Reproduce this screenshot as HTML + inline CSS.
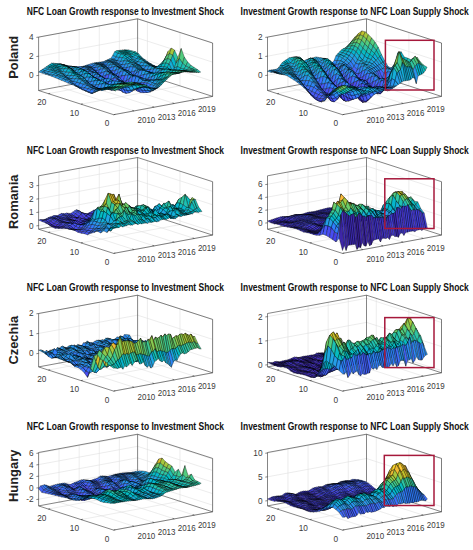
<!DOCTYPE html>
<html><head><meta charset="utf-8"><title>fig</title>
<style>
html,body{margin:0;padding:0;background:#fff}
svg{display:block}
text{font-family:"Liberation Sans",sans-serif}
.tt{font-size:8.8px;fill:#3a3a3a}
.hh{font-size:10.6px;font-weight:bold;fill:#111}
.cc{font-size:12.9px;font-weight:bold;fill:#222}
.gg{stroke:#dcdcdc;stroke-width:.55;fill:none}
.bb{stroke:#333;stroke-width:.6;fill:none}
.rr{stroke:#a6183b;stroke-width:1.5;fill:none}
.sf path{stroke:#000;stroke-width:3.3;stroke-linejoin:round}

.a{fill:#3e26a8}
.b{fill:#422ec0}
.c{fill:#4537d6}
.d{fill:#4742e6}
.e{fill:#484df1}
.f{fill:#4759f8}
.g{fill:#4464fd}
.h{fill:#3d71ff}
.i{fill:#317dfc}
.j{fill:#2d88f6}
.k{fill:#2a93ed}
.l{fill:#259de7}
.m{fill:#1ea6e1}
.n{fill:#15afd9}
.o{fill:#05b6cd}
.p{fill:#06bcc0}
.q{fill:#1ec0b2}
.r{fill:#2fc5a3}
.s{fill:#3cc992}
.t{fill:#52cc7e}
.u{fill:#6dcd68}
.v{fill:#8bcb51}
.w{fill:#a7c73c}
.x{fill:#c2c22c}
.y{fill:#dabd28}
.z{fill:#eeba34}
.aa{fill:#fdbd3d}
.ab{fill:#fec934}
.ac{fill:#fad52d}
.ad{fill:#f5e227}
.ae{fill:#f5ef20}
.af{fill:#f9fb15}

</style></head><body>
<svg width="473" height="550" viewBox="0 0 473 550">
<rect width="473" height="550" fill="#fff"/>
<g id="p1L">
<path class="gg" d="M134.04 110.92L59.04 86.72M59.04 86.72L59.04 33.32M154.15 107.20L79.15 83.00M79.15 83.00L79.15 29.60M174.26 103.49L99.26 79.29M99.26 79.29L99.26 25.89M194.37 99.77L119.37 75.57M119.37 75.57L119.37 22.17M113.60 114.70L212.60 96.40M212.60 96.40L212.60 43.00M80.99 104.18L179.99 85.88M179.99 85.88L179.99 32.48M48.38 93.66L147.38 75.36M147.38 75.36L147.38 21.96M38.60 75.38L137.60 57.08M137.60 57.08L212.60 81.28M38.60 56.24L137.60 37.94M137.60 37.94L212.60 62.14M38.60 37.10L137.60 18.80M137.60 18.80L212.60 43.00"/>
<path class="bb" d="M113.60 114.70L212.60 96.40M212.60 96.40L137.60 72.20M137.60 72.20L38.60 90.50M38.60 90.50L113.60 114.70M38.60 90.50L38.60 37.10M38.60 37.10L137.60 18.80M137.60 18.80L137.60 72.20M137.60 18.80L212.60 43.00M212.60 43.00L212.60 96.40M134.04 110.92L132.33 110.37M154.15 107.20L152.44 106.65M174.26 103.49L172.55 102.93M194.37 99.77L192.66 99.22M113.60 114.70L115.37 114.37M80.99 104.18L82.76 103.85M48.38 93.66L50.15 93.33M38.60 75.38L36.40 75.68M38.60 56.24L36.40 56.54M38.60 37.10L36.40 37.40"/>
<g class=sf transform="scale(.1)">
<path class=p d="M1271 509l19-8l-33-4l-18 2zm-18 2l18-2l-32-10l-19 2z"/>
<path class=q d="M1234 513l19-2l-33-10l-18 2z"/>
<path class=p d="M1216 517l18-4l-32-10l-19 2z"/>
<path class=q d="M1197 519l19-2l-33-12l-18 2z"/>
<path class=p d="M1179 534l18-15l-32-12l-19 11z"/>
<path class=n d="M1160 571l19-37l-33-16l-19 36z"/>
<path class=l d="M1142 593l18-22l-33-17l-18 29z"/>
<path class=m d="M1123 597l19-4l-33-10l-19 8z"/>
<path class=l d="M1104 605l19-8l-33-6l-18 8zm-18 4l18-4l-32-6l-19 8zm-19 6l19-6l-33-2l-18 8z"/>
<path class=k d="M1049 631l18-16l-32 0l-19 4zm-19 7l19-7l-33-12l-18 2zm-18-3l18 3l-32-17l-19 3z"/>
<path class=l d="M993 637l19-2l-33-11l-18 2zm-18 0l18 0l-32-11l-19 3zm-19 2l19-2l-33-8l-18 4z"/>
<path class=k d="M938 655l18-16l-32-6l-19 6z"/>
<path class=j d="M919 669l19-14l-33-16l-19 6z"/>
<path class=k d="M901 666l18 3l-33-24l-18 6zm-19-2l19 2l-33-15l-19 6zm-19 4l19-4l-33-7l-18 6zm-18 0l18 0l-32-5l-19 3zm-19 9l19-9l-33-2l-18 0z"/>
<path class=j d="M808 692l18-15l-32-11l-19 0z"/>
<path class=k d="M789 688l19 4l-33-26l-18 0zm-18-9l18 9l-32-22l-19 0z"/>
<path class=l d="M752 677l19 2l-33-13l-18 0z"/>
<path class=m d="M734 668l18 9l-32-11l-19-3zm-19-5l19 5l-33-5l-18-5zm-18 9l18-9l-32-5l-19-4zm-19-1l19 1l-33-18l-18-5z"/>
<path class=n d="M660 657l18 14l-32-22l-19-4z"/>
<path class=o d="M641 649l19 8l-33-12l-19-4zm-18-4l18 4l-33-8l-18-2z"/>
<path class=p d="M604 641l19 4l-33-6l-19-3z"/>
<path class=o d="M585 649l19-8l-33-5l-18-2zm-18 9l18-9l-32-15l-19-2zm-19-2l19 2l-33-26l-18 0zm-18 6l18-6l-32-24l-19 13zm-19 9l19-9l-33-17l-18 12zm-18 8l18-8l-32-14l-19 12z"/>
<path class=n d="M474 693l19-14l-33-10l-18 13z"/>
<path class=m d="M456 711l18-18l-32-11l-19 12zm-19 9l19-9l-33-17l-18 12z"/>
<path class=l d="M419 730l18-10l-32-14l-19 14z"/>
<path class=p d="M1304 520l18-11l-32-8l-19 8zm-19 8l19-8l-33-11l-18 2zm-18-1l18 1l-32-17l-19 2zm-19 4l19-4l-33-14l-18 4zm-18 3l18-3l-32-14l-19 2zm-19 6l19-6l-33-15l-18 15z"/>
<path class=n d="M1193 575l18-35l-32-6l-19 37z"/>
<path class=l d="M1174 609l19-34l-33-4l-18 22zm-18 3l18-3l-32-16l-19 4zm-19 2l19-2l-33-15l-19 8zm-18 6l18-6l-33-9l-18 4z"/>
<path class=m d="M1100 617l19 3l-33-11l-19 6z"/>
<path class=l d="M1081 627l19-10l-33-2l-18 16z"/>
<path class=j d="M1063 654l18-27l-32 4l-19 7zm-19 6l19-6l-33-16l-18-3z"/>
<path class=k d="M1026 648l18 12l-32-25l-19 2z"/>
<path class=l d="M1007 646l19 2l-33-11l-18 0zm-18-1l18 1l-32-9l-19 2zm-19 6l19-6l-33-6l-18 16z"/>
<path class=j d="M952 678l18-27l-32 4l-19 14zm-19 13l19-13l-33-9l-18-3z"/>
<path class=k d="M915 679l18 12l-32-25l-19-2zm-19 0l19 0l-33-15l-19 4zm-18 4l18-4l-33-11l-18 0z"/>
<path class=l d="M859 681l19 2l-33-15l-19 9z"/>
<path class=j d="M840 699l19-18l-33-4l-18 15z"/>
<path class=i d="M822 717l18-18l-32-7l-19-4z"/>
<path class=j d="M803 706l19 11l-33-29l-18-9z"/>
<path class=l d="M785 692l18 14l-32-27l-19-2zm-19-8l19 8l-33-15l-18-9z"/>
<path class=n d="M748 669l18 15l-32-16l-19-5zm-19 2l19-2l-33-6l-18 9z"/>
<path class=l d="M711 688l18-17l-32 1l-19-1z"/>
<path class=m d="M692 679l19 9l-33-17l-18-14z"/>
<path class=o d="M674 660l18 19l-32-22l-19-8zm-19-2l19 2l-33-11l-18-4z"/>
<path class=p d="M637 653l18 5l-32-13l-19-4zm-19-2l19 2l-33-12l-19 8z"/>
<path class=o d="M600 670l18-19l-33-2l-18 9zm-19 9l19-9l-33-12l-19-2zm-19-1l19 1l-33-23l-18 6zm-18 6l18-6l-32-16l-19 9zm-19 7l19-7l-33-13l-18 8z"/>
<path class=n d="M507 699l18-8l-32-12l-19 14z"/>
<path class=m d="M488 719l19-20l-33-6l-18 18z"/>
<path class=l d="M470 736l18-17l-32-8l-19 9zm-19 5l19-5l-33-16l-18 10z"/>
<path class=q d="M1336 525l19-8l-33-8l-18 11z"/>
<path class=p d="M1318 542l18-17l-32-5l-19 8zm-19 5l19-5l-33-14l-18-1zm-18-4l18 4l-32-20l-19 4zm-19 5l19-5l-33-12l-18 3zm-18 6l18-6l-32-14l-19 6z"/>
<path class=o d="M1225 576l19-22l-33-14l-18 35z"/>
<path class=l d="M1207 615l18-39l-32-1l-19 34z"/>
<path class=k d="M1188 636l19-21l-33-6l-18 3z"/>
<path class=l d="M1170 631l18 5l-32-24l-19 2zm-19 0l19 0l-33-17l-18 6zm-18 1l18-1l-32-11l-19-3z"/>
<path class=m d="M1114 628l19 4l-33-15l-19 10z"/>
<path class=l d="M1096 651l18-23l-33-1l-18 27z"/>
<path class=j d="M1077 679l19-28l-33 3l-19 6z"/>
<path class=k d="M1058 667l19 12l-33-19l-18-12z"/>
<path class=l d="M1040 652l18 15l-32-19l-19-2zm-19 5l19-5l-33-6l-18-1z"/>
<path class=m d="M1003 654l18 3l-32-12l-19 6z"/>
<path class=l d="M984 669l19-15l-33-3l-18 27z"/>
<path class=i d="M966 708l18-39l-32 9l-19 13zm-19 2l19-2l-33-17l-18-12z"/>
<path class=k d="M929 692l18 18l-32-31l-19 0zm-19 4l19-4l-33-13l-18 4zm-18-1l18 1l-32-13l-19-2z"/>
<path class=l d="M873 695l19 0l-33-14l-19 18z"/>
<path class=j d="M855 723l18-28l-33 4l-18 18z"/>
<path class=i d="M836 735l19-12l-33-6l-19-11z"/>
<path class=k d="M817 711l19 24l-33-29l-18-14z"/>
<path class=l d="M799 694l18 17l-32-19l-19-8z"/>
<path class=m d="M780 682l19 12l-33-10l-18-15z"/>
<path class=o d="M762 669l18 13l-32-13l-19 2z"/>
<path class=n d="M743 682l19-13l-33 2l-18 17z"/>
<path class=m d="M725 699l18-17l-32 6l-19-9z"/>
<path class=n d="M706 684l19 15l-33-20l-18-19z"/>
<path class=o d="M688 672l18 12l-32-24l-19-2zm-19-2l19 2l-33-14l-18-5z"/>
<path class=p d="M651 659l18 11l-32-17l-19-2zm-19 7l19-7l-33-8l-18 19z"/>
<path class=n d="M614 691l18-25l-32 4l-19 9zm-19 8l19-8l-33-12l-19-1z"/>
<path class=o d="M577 696l18 3l-33-21l-18 6z"/>
<path class=n d="M558 704l19-8l-33-12l-19 7zm-19 6l19-6l-33-13l-18 8zm-18 14l18-14l-32-11l-19 20z"/>
<path class=l d="M502 746l19-22l-33-5l-18 17zm-18 5l18-5l-32-10l-19 5z"/>
<path class=p d="M1369 540l19-1l-33-22l-19 8zm-18 13l18-13l-33-15l-18 17z"/>
<path class=o d="M1332 571l19-18l-33-11l-19 5zm-19-1l19 1l-33-24l-18-4z"/>
<path class=p d="M1295 566l18 4l-32-27l-19 5z"/>
<path class=o d="M1276 577l19-11l-33-18l-18 6zm-18 9l18-9l-32-23l-19 22z"/>
<path class=n d="M1239 609l19-23l-33-10l-18 39z"/>
<path class=k d="M1221 649l18-40l-32 6l-19 21zm-19 10l19-10l-33-13l-18-5z"/>
<path class=l d="M1184 644l18 15l-32-28l-19 0zm-19 4l19-4l-33-13l-18 1zm-18-2l18 2l-32-16l-19-4z"/>
<path class=m d="M1128 642l19 4l-33-18l-18 23z"/>
<path class=k d="M1110 676l18-34l-32 9l-19 28z"/>
<path class=i d="M1091 697l19-21l-33 3l-19-12z"/>
<path class=k d="M1073 677l18 20l-33-30l-18-15z"/>
<path class=l d="M1054 670l19 7l-33-25l-19 5zm-19 0l19 0l-33-13l-18-3z"/>
<path class=m d="M1017 664l18 6l-32-16l-19 15z"/>
<path class=k d="M998 695l19-31l-33 5l-18 39z"/>
<path class=h d="M980 731l18-36l-32 13l-19 2z"/>
<path class=j d="M961 718l19 13l-33-21l-18-18z"/>
<path class=k d="M943 706l18 12l-32-26l-19 4z"/>
<path class=j d="M924 718l19-12l-33-10l-18-1z"/>
<path class=k d="M906 711l18 7l-32-23l-19 0zm-19 3l19-3l-33-16l-18 28z"/>
<path class=i d="M869 746l18-32l-32 9l-19 12zm-19-4l19 4l-33-11l-19-24z"/>
<path class=l d="M832 710l18 32l-33-31l-18-17z"/>
<path class=m d="M813 697l19 13l-33-16l-19-12z"/>
<path class=n d="M794 684l19 13l-33-15l-18-13z"/>
<path class=o d="M776 677l18 7l-32-15l-19 13z"/>
<path class=m d="M757 704l19-27l-33 5l-18 17z"/>
<path class=l d="M739 719l18-15l-32-5l-19-15z"/>
<path class=n d="M720 699l19 20l-33-35l-18-12z"/>
<path class=o d="M702 685l18 14l-32-27l-19-2z"/>
<path class=p d="M683 675l19 10l-33-15l-18-11z"/>
<path class=q d="M665 666l18 9l-32-16l-19 7z"/>
<path class=p d="M646 687l19-21l-33 0l-18 25z"/>
<path class=n d="M628 716l18-29l-32 4l-19 8zm-19 2l19-2l-33-17l-18-3zm-18-2l18 2l-32-22l-19 8zm-19 8l19-8l-33-12l-19 6zm-18 9l18-9l-33-14l-18 14z"/>
<path class=m d="M535 750l19-17l-33-9l-19 22z"/>
<path class=l d="M516 762l19-12l-33-4l-18 5z"/>
<path class=o d="M1402 570l18 5l-32-36l-19 1z"/>
<path class=p d="M1383 568l19 2l-33-30l-18 13z"/>
<path class=n d="M1365 588l18-20l-32-15l-19 18z"/>
<path class=m d="M1346 603l19-15l-33-17l-19-1z"/>
<path class=n d="M1328 596l18 7l-33-33l-18-4zm-19 3l19-3l-33-30l-19 11zm-19 7l19-7l-33-22l-18 9zm-18 2l18-2l-32-20l-19 23z"/>
<path class=l d="M1253 643l19-35l-33 1l-18 40z"/>
<path class=j d="M1235 682l18-39l-32 6l-19 10z"/>
<path class=k d="M1216 673l19 9l-33-23l-18-15z"/>
<path class=l d="M1198 664l18 9l-32-29l-19 4zm-19 5l19-5l-33-16l-18-2z"/>
<path class=m d="M1161 655l18 14l-32-23l-19-4z"/>
<path class=l d="M1142 665l19-10l-33-13l-18 34z"/>
<path class=i d="M1124 713l18-48l-32 11l-19 21zm-19 4l19-4l-33-16l-18-20z"/>
<path class=k d="M1087 691l18 26l-32-40l-19-7z"/>
<path class=l d="M1068 688l19 3l-33-21l-19 0zm-18-5l18 5l-33-18l-18-6zm-19 3l19-3l-33-19l-19 31z"/>
<path class=i d="M1012 730l19-44l-33 9l-18 36z"/>
<path class=h d="M994 754l18-24l-32 1l-19-13z"/>
<path class=j d="M975 734l19 20l-33-36l-18-12zm-18-1l18 1l-32-28l-19 12zm-19 3l19-3l-33-15l-18-7z"/>
<path class=l d="M920 716l18 20l-32-25l-19 3z"/>
<path class=j d="M901 738l19-22l-33-2l-18 32z"/>
<path class=h d="M883 774l18-36l-32 8l-19-4z"/>
<path class=j d="M864 752l19 22l-33-32l-18-32z"/>
<path class=l d="M846 718l18 34l-32-42l-19-13z"/>
<path class=m d="M827 705l19 13l-33-21l-19-13z"/>
<path class=o d="M809 687l18 18l-33-21l-18-7z"/>
<path class=n d="M790 696l19-9l-33-10l-19 27z"/>
<path class=l d="M771 735l19-39l-33 8l-18 15zm-18 0l18 0l-32-16l-19-20z"/>
<path class=n d="M734 705l19 30l-33-36l-18-14z"/>
<path class=p d="M716 692l18 13l-32-20l-19-10zm-19-9l19 9l-33-17l-18-9zm-18 4l18-4l-32-17l-19 21z"/>
<path class=n d="M660 722l19-35l-33 0l-18 29z"/>
<path class=m d="M642 744l18-22l-32-6l-19 2z"/>
<path class=n d="M623 737l19 7l-33-26l-18-2zm-18 1l18-1l-32-21l-19 8z"/>
<path class=m d="M586 749l19-11l-33-14l-18 9zm-18 10l18-10l-32-16l-19 17z"/>
<path class=l d="M549 776l19-17l-33-9l-19 12z"/>
<path class=n d="M1434 595l19 5l-33-25l-18-5z"/>
<path class=o d="M1416 587l18 8l-32-25l-19-2zm-19 5l19-5l-33-19l-18 20z"/>
<path class=m d="M1379 619l18-27l-32-4l-19 15zm-19 10l19-10l-33-16l-18-7z"/>
<path class=n d="M1342 621l18 8l-32-33l-19 3zm-19 4l19-4l-33-22l-19 7zm-18 0l18 0l-33-19l-18 2zm-19 10l19-10l-33-17l-19 35z"/>
<path class=k d="M1267 679l19-44l-33 8l-18 39z"/>
<path class=i d="M1249 705l18-26l-32 3l-19-9z"/>
<path class=j d="M1230 691l19 14l-33-32l-18-9z"/>
<path class=k d="M1212 686l18 5l-32-27l-19 5z"/>
<path class=l d="M1193 680l19 6l-33-17l-18-14z"/>
<path class=m d="M1175 667l18 13l-32-25l-19 10z"/>
<path class=k d="M1156 702l19-35l-33-2l-18 48z"/>
<path class=h d="M1138 743l18-41l-32 11l-19 4z"/>
<path class=i d="M1119 727l19 16l-33-26l-18-26z"/>
<path class=k d="M1101 710l18 17l-32-36l-19-3zm-19 4l19-4l-33-22l-18-5z"/>
<path class=l d="M1064 703l18 11l-32-31l-19 3z"/>
<path class=k d="M1045 717l19-14l-33-17l-19 44z"/>
<path class=h d="M1027 767l18-50l-33 13l-18 24zm-19 7l19-7l-33-13l-19-20z"/>
<path class=j d="M989 748l19 26l-33-40l-18-1zm-18-5l18 5l-32-15l-19 3z"/>
<path class=l d="M952 729l19 14l-33-7l-18-20zm-18-5l18 5l-32-13l-19 22z"/>
<path class=i d="M915 772l19-48l-33 14l-18 36z"/>
<path class=h d="M897 792l18-20l-32 2l-19-22z"/>
<path class=k d="M878 749l19 43l-33-40l-18-34z"/>
<path class=m d="M860 719l18 30l-32-31l-19-13z"/>
<path class=n d="M841 704l19 15l-33-14l-18-18z"/>
<path class=p d="M823 692l18 12l-32-17l-19 9z"/>
<path class=n d="M804 721l19-29l-33 4l-19 39z"/>
<path class=k d="M786 755l18-34l-33 14l-18 0z"/>
<path class=m d="M767 738l19 17l-33-20l-19-30z"/>
<path class=o d="M748 714l19 24l-33-33l-18-13zm-18-4l18 4l-32-22l-19-9z"/>
<path class=p d="M711 706l19 4l-33-27l-18 4z"/>
<path class=o d="M693 723l18-17l-32-19l-19 35z"/>
<path class=m d="M674 759l19-36l-33-1l-18 22z"/>
<path class=l d="M656 764l18-5l-32-15l-19-7z"/>
<path class=n d="M637 753l19 11l-33-27l-18 1z"/>
<path class=m d="M619 761l18-8l-32-15l-19 11zm-19 11l19-11l-33-12l-18 10z"/>
<path class=l d="M582 789l18-17l-32-13l-19 17z"/>
<path class=m d="M1467 618l18 5l-32-23l-19-5z"/>
<path class=n d="M1448 613l19 5l-33-23l-18-8z"/>
<path class=o d="M1430 605l18 8l-32-26l-19 5z"/>
<path class=n d="M1411 624l19-19l-33-13l-18 27z"/>
<path class=l d="M1393 652l18-28l-32-5l-19 10z"/>
<path class=m d="M1374 646l19 6l-33-23l-18-8zm-18-7l18 7l-32-25l-19 4zm-19 8l19-8l-33-14l-18 0z"/>
<path class=n d="M1319 644l18 3l-32-22l-19 10z"/>
<path class=l d="M1300 667l19-23l-33-9l-19 44z"/>
<path class=i d="M1282 721l18-54l-33 12l-18 26zm-19 6l19-6l-33-16l-19-14z"/>
<path class=k d="M1244 699l19 28l-33-36l-18-5z"/>
<path class=l d="M1226 692l18 7l-32-13l-19-6z"/>
<path class=m d="M1207 681l19 11l-33-12l-18-13zm-18 7l18-7l-32-14l-19 35z"/>
<path class=i d="M1170 740l19-52l-33 14l-18 41z"/>
<path class=h d="M1152 762l18-22l-32 3l-19-16z"/>
<path class=j d="M1133 738l19 24l-33-35l-18-17zm-18-4l18 4l-32-28l-19 4z"/>
<path class=k d="M1096 730l19 4l-33-20l-18-11z"/>
<path class=l d="M1078 714l18 16l-32-27l-19 14z"/>
<path class=j d="M1059 752l19-38l-33 3l-18 50z"/>
<path class=f d="M1041 805l18-53l-32 15l-19 7z"/>
<path class=h d="M1022 787l19 18l-33-31l-19-26z"/>
<path class=j d="M1004 757l18 30l-33-39l-18-5z"/>
<path class=k d="M985 751l19 6l-33-14l-19-14z"/>
<path class=m d="M966 731l19 20l-33-22l-18-5z"/>
<path class=l d="M948 746l18-15l-32-7l-19 48z"/>
<path class=h d="M929 795l19-49l-33 26l-18 20z"/>
<path class=i d="M911 787l18 8l-32-3l-19-43z"/>
<path class=l d="M892 743l19 44l-33-38l-18-30z"/>
<path class=n d="M874 727l18 16l-32-24l-19-15z"/>
<path class=o d="M855 710l19 17l-33-23l-18-12zm-18-3l18 3l-32-18l-19 29z"/>
<path class=l d="M818 750l19-43l-33 14l-18 34z"/>
<path class=k d="M800 770l18-20l-32 5l-19-17z"/>
<path class=m d="M781 744l19 26l-33-32l-19-24z"/>
<path class=o d="M763 730l18 14l-33-30l-18-4zm-19-1l19 1l-33-20l-19-4zm-19 0l19 0l-33-23l-18 17z"/>
<path class=n d="M707 757l18-28l-32-6l-19 36z"/>
<path class=l d="M688 783l19-26l-33 2l-18 5z"/>
<path class=m d="M670 776l18 7l-32-19l-19-11zm-19-2l19 2l-33-23l-18 8zm-18 12l18-12l-32-13l-19 11z"/>
<path class=l d="M614 803l19-17l-33-14l-18 17z"/>
<path class=m d="M1500 637l18 5l-33-19l-18-5zm-19-2l19 2l-33-19l-19-5z"/>
<path class=n d="M1462 627l19 8l-33-22l-18-8zm-18 1l18-1l-32-22l-19 19z"/>
<path class=l d="M1425 660l19-32l-33-4l-18 28zm-18 11l18-11l-32-8l-19-6z"/>
<path class=m d="M1388 654l19 17l-33-25l-18-7zm-18 7l18-7l-32-15l-19 8zm-19 5l19-5l-33-14l-18-3zm-18 3l18-3l-32-22l-19 23z"/>
<path class=j d="M1314 721l19-52l-33-2l-18 54z"/>
<path class=g d="M1296 759l18-38l-32 0l-19 6z"/>
<path class=j d="M1277 725l19 34l-33-32l-19-28z"/>
<path class=l d="M1259 697l18 28l-33-26l-18-7zm-19 1l19-1l-33-5l-19-11z"/>
<path class=m d="M1221 690l19 8l-33-17l-18 7z"/>
<path class=k d="M1203 717l18-27l-32-2l-19 52z"/>
<path class=h d="M1184 767l19-50l-33 23l-18 22zm-18-1l18 1l-32-5l-19-24z"/>
<path class=j d="M1147 745l19 21l-33-28l-18-4zm-18 1l18-1l-32-11l-19-4z"/>
<path class=l d="M1110 730l19 16l-33-16l-18-16zm-18 9l18-9l-32-16l-19 38z"/>
<path class=f d="M1073 812l19-73l-33 13l-18 53z"/>
<path class=e d="M1055 838l18-26l-32-7l-19-18z"/>
<path class=h d="M1036 796l19 42l-33-51l-18-30z"/>
<path class=j d="M1018 777l18 19l-32-39l-19-6z"/>
<path class=k d="M999 761l19 16l-33-26l-19-20z"/>
<path class=m d="M981 739l18 22l-33-30l-18 15z"/>
<path class=j d="M962 775l19-36l-33 7l-19 49z"/>
<path class=h d="M943 811l19-36l-33 20l-18-8z"/>
<path class=j d="M925 780l18 31l-32-24l-19-44z"/>
<path class=m d="M906 749l19 31l-33-37l-18-16z"/>
<path class=n d="M888 737l18 12l-32-22l-19-17z"/>
<path class=p d="M869 717l19 20l-33-27l-18-3z"/>
<path class=n d="M851 736l18-19l-32-10l-19 43z"/>
<path class=k d="M832 779l19-43l-33 14l-18 20z"/>
<path class=l d="M814 773l18 6l-32-9l-19-26z"/>
<path class=n d="M795 747l19 26l-33-29l-18-14z"/>
<path class=o d="M777 747l18 0l-32-17l-19-1zm-19-1l19 1l-33-18l-19 0zm-18 8l18-8l-33-17l-18 28z"/>
<path class=l d="M721 788l19-34l-33 3l-19 26zm-19 13l19-13l-33-5l-18-7zm-18-7l18 7l-32-25l-19-2zm-19 7l19-7l-33-20l-18 12zm-18 15l18-15l-32-15l-19 17z"/>
<path class=l d="M1532 658l19 3l-33-19l-18-5z"/>
<path class=m d="M1514 650l18 8l-32-21l-19-2zm-19-2l19 2l-33-15l-19-8z"/>
<path class=n d="M1477 639l18 9l-33-21l-18 1z"/>
<path class=m d="M1458 660l19-21l-33-11l-19 32z"/>
<path class=k d="M1439 692l19-32l-33 0l-18 11z"/>
<path class=l d="M1421 683l18 9l-32-21l-19-17z"/>
<path class=m d="M1402 672l19 11l-33-29l-18 7zm-18 10l18-10l-32-11l-19 5zm-19 1l19-1l-33-16l-18 3z"/>
<path class=k d="M1347 712l18-29l-32-14l-19 52z"/>
<path class=h d="M1328 763l19-51l-33 9l-18 38zm-18-8l18 8l-32-4l-19-34z"/>
<path class=l d="M1291 713l19 42l-33-30l-18-28zm-18-2l18 2l-32-16l-19 1z"/>
<path class=m d="M1254 709l19 2l-33-13l-19-8zm-18-2l18 2l-33-19l-18 27z"/>
<path class=i d="M1217 759l19-52l-33 10l-19 50z"/>
<path class=g d="M1198 796l19-37l-33 8l-18-1z"/>
<path class=i d="M1180 769l18 27l-32-30l-19-21z"/>
<path class=k d="M1161 754l19 15l-33-24l-18 1zm-18-1l18 1l-32-8l-19-16z"/>
<path class=l d="M1124 745l19 8l-33-23l-18 9z"/>
<path class=i d="M1106 795l18-50l-32-6l-19 73z"/>
<path class=d d="M1087 858l19-63l-33 17l-18 26z"/>
<path class=f d="M1069 839l18 19l-32-20l-19-42z"/>
<path class=i d="M1050 800l19 39l-33-43l-18-19z"/>
<path class=j d="M1032 789l18 11l-32-23l-19-16z"/>
<path class=l d="M1013 762l19 27l-33-28l-18-22zm-18 4l18-4l-32-23l-19 36z"/>
<path class=h d="M976 816l19-50l-33 9l-19 36zm-18 0l18 0l-33-5l-18-31z"/>
<path class=l d="M939 774l19 42l-33-36l-19-31z"/>
<path class=m d="M920 759l19 15l-33-25l-18-12z"/>
<path class=n d="M902 744l18 15l-32-22l-19-20z"/>
<path class=o d="M883 734l19 10l-33-27l-18 19z"/>
<path class=m d="M865 772l18-38l-32 2l-19 43z"/>
<path class=k d="M846 797l19-25l-33 7l-18-6z"/>
<path class=m d="M828 770l18 27l-32-24l-19-26z"/>
<path class=n d="M809 760l19 10l-33-23l-18 0zm-18 8l18-8l-32-13l-19-1z"/>
<path class=o d="M772 765l19 3l-33-22l-18 8z"/>
<path class=m d="M754 786l18-21l-32-11l-19 34z"/>
<path class=k d="M735 817l19-31l-33 2l-19 13zm-18 3l18-3l-33-16l-18-7z"/>
<path class=l d="M698 819l19 1l-33-26l-19 7z"/>
<path class=k d="M679 830l19-11l-33-18l-18 15z"/>
<path class=l d="M1565 673l18-7l-32-5l-19-3z"/>
<path class=m d="M1546 662l19 11l-33-15l-18-8zm-18 0l18 0l-32-12l-19-2z"/>
<path class=n d="M1509 656l19 6l-33-14l-18-9zm-18 4l18-4l-32-17l-19 21z"/>
<path class=k d="M1472 699l19-39l-33 0l-19 32z"/>
<path class=j d="M1454 717l18-18l-33-7l-18-9z"/>
<path class=l d="M1435 693l19 24l-33-34l-19-11z"/>
<path class=m d="M1416 690l19 3l-33-21l-18 10zm-18 7l18-7l-32-8l-19 1zm-19 0l19 0l-33-14l-18 29z"/>
<path class=j d="M1361 734l18-37l-32 15l-19 51z"/>
<path class=h d="M1342 767l19-33l-33 29l-18-8z"/>
<path class=j d="M1324 743l18 24l-32-12l-19-42z"/>
<path class=l d="M1305 728l19 15l-33-30l-18-2zm-18 6l18-6l-32-17l-19-2z"/>
<path class=m d="M1268 721l19 13l-33-25l-18-2z"/>
<path class=k d="M1250 754l18-33l-32-14l-19 52z"/>
<path class=f d="M1231 815l19-61l-33 5l-19 37z"/>
<path class=g d="M1213 808l18 7l-33-19l-18-27z"/>
<path class=j d="M1194 776l19 32l-33-39l-19-15zm-19 5l19-5l-33-22l-18-1z"/>
<path class=k d="M1157 773l18 8l-32-28l-19-8zm-19 5l19-5l-33-28l-18 50z"/>
<path class=f d="M1120 842l18-64l-32 17l-19 63z"/>
<path class=d d="M1101 868l19-26l-33 16l-18-19z"/>
<path class=h d="M1083 825l18 43l-32-29l-19-39z"/>
<path class=j d="M1064 802l19 23l-33-25l-18-11z"/>
<path class=k d="M1046 789l18 13l-32-13l-19-27z"/>
<path class=l d="M1027 772l19 17l-33-27l-18 4z"/>
<path class=j d="M1009 804l18-32l-32-6l-19 50z"/>
<path class=h d="M990 837l19-33l-33 12l-18 0z"/>
<path class=j d="M972 809l18 28l-32-21l-19-42z"/>
<path class=l d="M953 782l19 27l-33-35l-19-15z"/>
<path class=m d="M935 775l18 7l-33-23l-18-15z"/>
<path class=o d="M916 755l19 20l-33-31l-19-10z"/>
<path class=n d="M897 771l19-16l-33-21l-18 38z"/>
<path class=k d="M879 813l18-42l-32 1l-19 25z"/>
<path class=l d="M860 805l19 8l-33-16l-18-27z"/>
<path class=n d="M842 782l18 23l-32-35l-19-10z"/>
<path class=m d="M823 791l19-9l-33-22l-18 8z"/>
<path class=n d="M805 789l18 2l-32-23l-19-3zm-19 0l19 0l-33-24l-18 21z"/>
<path class=l d="M768 824l18-35l-32-3l-19 31z"/>
<path class=j d="M749 845l19-21l-33-7l-18 3z"/>
<path class=k d="M731 840l18 5l-32-25l-19-1zm-19 3l19-3l-33-21l-19 11z"/>
<path class=l d="M1597 683l19-18l-33 1l-18 7z"/>
<path class=m d="M1579 675l18 8l-32-10l-19-11zm-19-1l19 1l-33-13l-18 0zm-18 0l18 0l-32-12l-19-6z"/>
<path class=n d="M1523 665l19 9l-33-18l-18 4z"/>
<path class=l d="M1505 694l18-29l-32-5l-19 39z"/>
<path class=i d="M1486 739l19-45l-33 5l-18 18z"/>
<path class=k d="M1468 725l18 14l-32-22l-19-24z"/>
<path class=m d="M1449 701l19 24l-33-32l-19-3zm-18 6l18-6l-33-11l-18 7z"/>
<path class=n d="M1412 695l19 12l-33-10l-19 0z"/>
<path class=m d="M1393 707l19-12l-33 2l-18 37z"/>
<path class=i d="M1375 766l18-59l-32 27l-19 33z"/>
<path class=h d="M1356 781l19-15l-33 1l-18-24z"/>
<path class=j d="M1338 757l18 24l-32-38l-19-15z"/>
<path class=k d="M1319 756l19 1l-33-29l-18 6z"/>
<path class=l d="M1301 746l18 10l-32-22l-19-13zm-19 4l19-4l-33-25l-18 33z"/>
<path class=h d="M1264 809l18-59l-32 4l-19 61z"/>
<path class=f d="M1245 837l19-28l-33 6l-18-7z"/>
<path class=h d="M1227 811l18 26l-32-29l-19-32z"/>
<path class=i d="M1208 810l19 1l-33-35l-19 5zm-18 2l18-2l-33-29l-18-8z"/>
<path class=k d="M1171 788l19 24l-33-39l-19 5z"/>
<path class=h d="M1152 826l19-38l-33-10l-18 64z"/>
<path class=d d="M1134 884l18-58l-32 16l-19 26z"/>
<path class=f d="M1115 859l19 25l-33-16l-18-43z"/>
<path class=i d="M1097 818l18 41l-32-34l-19-23z"/>
<path class=j d="M1078 812l19 6l-33-16l-18-13z"/>
<path class=l d="M1060 790l18 22l-32-23l-19-17zm-19 1l19-1l-33-18l-18 32z"/>
<path class=i d="M1023 837l18-46l-32 13l-19 33zm-19 2l19-2l-33 0l-18-28z"/>
<path class=l d="M986 802l18 37l-32-30l-19-27z"/>
<path class=m d="M967 788l19 14l-33-20l-18-7z"/>
<path class=n d="M949 777l18 11l-32-13l-19-20zm-19-2l19 2l-33-22l-19 16z"/>
<path class=k d="M912 816l18-41l-33-4l-18 42z"/>
<path class=j d="M893 837l19-21l-33-3l-19-8z"/>
<path class=l d="M874 815l19 22l-33-32l-18-23z"/>
<path class=m d="M856 811l18 4l-32-33l-19 9zm-19 2l19-2l-33-20l-18-2z"/>
<path class=n d="M819 806l18 7l-32-24l-19 0z"/>
<path class=l d="M800 832l19-26l-33-17l-18 35z"/>
<path class=j d="M782 865l18-33l-32-8l-19 21zm-19-2l19 2l-33-20l-18-5z"/>
<path class=k d="M745 856l18 7l-32-23l-19 3z"/>
<path class=q d="M1630 618l19-19l-33 66l-19 18z"/>
<path class=p d="M1611 636l19-18l-33 65l-18-8z"/>
<path class=o d="M1593 652l18-16l-32 39l-19-1z"/>
<path class=n d="M1574 665l19-13l-33 22l-18 0zm-18 10l18-10l-32 9l-19-9zm-19 14l19-14l-33-10l-18 29z"/>
<path class=j d="M1519 743l18-54l-32 5l-19 45zm-19 8l19-8l-33-4l-18-14z"/>
<path class=l d="M1482 718l18 33l-32-26l-19-24z"/>
<path class=m d="M1463 717l19 1l-33-17l-18 6zm-18-6l18 6l-32-10l-19-12z"/>
<path class=n d="M1426 702l19 9l-33-16l-19 12z"/>
<path class=j d="M1408 756l18-54l-33 5l-18 59z"/>
<path class=g d="M1389 805l19-49l-33 10l-19 15z"/>
<path class=i d="M1370 785l19 20l-33-24l-18-24z"/>
<path class=k d="M1352 770l18 15l-32-28l-19-1zm-19-5l19 5l-33-14l-18-10z"/>
<path class=m d="M1315 750l18 15l-32-19l-19 4z"/>
<path class=j d="M1296 784l19-34l-33 0l-18 59z"/>
<path class=f d="M1278 840l18-56l-32 25l-19 28z"/>
<path class=g d="M1259 838l19 2l-33-3l-18-26z"/>
<path class=h d="M1241 824l18 14l-32-27l-19-1zm-19 4l19-4l-33-14l-18 2z"/>
<path class=j d="M1204 805l18 23l-32-16l-19-24zm-19 12l19-12l-33-17l-19 38z"/>
<path class=e d="M1167 882l18-65l-33 9l-18 58zm-19 5l19-5l-33 2l-19-25z"/>
<path class=i d="M1129 839l19 48l-33-28l-18-41z"/>
<path class=j d="M1111 826l18 13l-32-21l-19-6z"/>
<path class=k d="M1092 808l19 18l-33-14l-18-22z"/>
<path class=m d="M1074 785l18 23l-32-18l-19 1z"/>
<path class=j d="M1055 826l19-41l-33 6l-18 46z"/>
<path class=h d="M1037 858l18-32l-32 11l-19 2z"/>
<path class=k d="M1018 823l19 35l-33-19l-18-37z"/>
<path class=m d="M1000 797l18 26l-32-21l-19-14zm-19-1l19 1l-33-9l-18-11z"/>
<path class=n d="M963 785l18 11l-32-19l-19-2z"/>
<path class=m d="M944 808l19-23l-33-10l-18 41z"/>
<path class=j d="M926 853l18-45l-32 8l-19 21zm-19-4l19 4l-33-16l-19-22z"/>
<path class=l d="M889 833l18 16l-33-34l-18-4zm-19 1l19-1l-33-22l-19 2z"/>
<path class=m d="M851 830l19 4l-33-21l-18-7z"/>
<path class=l d="M833 843l18-13l-32-24l-19 26z"/>
<path class=j d="M814 876l19-33l-33-11l-18 33zm-18 6l18-6l-32-11l-19-2z"/>
<path class=k d="M777 869l19 13l-33-19l-18-7z"/>
<path class=u d="M1663 559l18-45l-32 85l-19 19z"/>
<path class=s d="M1644 599l19-40l-33 59l-19 18z"/>
<path class=q d="M1626 635l18-36l-33 37l-18 16z"/>
<path class=o d="M1607 665l19-30l-33 17l-19 13z"/>
<path class=n d="M1588 684l19-19l-33 0l-18 10zm-18 3l18-3l-32-9l-19 14z"/>
<path class=k d="M1551 731l19-44l-33 2l-18 54z"/>
<path class=j d="M1533 760l18-29l-32 12l-19 8z"/>
<path class=l d="M1514 733l19 27l-33-9l-18-33z"/>
<path class=m d="M1496 720l18 13l-32-15l-19-1zm-19 4l19-4l-33-3l-18-6z"/>
<path class=n d="M1459 712l18 12l-32-13l-19-9z"/>
<path class=l d="M1440 745l19-33l-33-10l-18 54z"/>
<path class=h d="M1422 803l18-58l-32 11l-19 49z"/>
<path class=i d="M1403 796l19 7l-33 2l-19-20z"/>
<path class=k d="M1385 771l18 25l-33-11l-18-15zm-19 0l19 0l-33-1l-19-5z"/>
<path class=m d="M1347 754l19 17l-33-6l-18-15zm-18 9l18-9l-32-4l-19 34z"/>
<path class=h d="M1310 830l19-67l-33 21l-18 56z"/>
<path class=f d="M1292 859l18-29l-32 10l-19-2z"/>
<path class=h d="M1273 836l19 23l-33-21l-18-14z"/>
<path class=i d="M1255 831l18 5l-32-12l-19 4z"/>
<path class=j d="M1236 824l19 7l-33-3l-18-23zm-18-4l18 4l-32-19l-19 12z"/>
<path class=g d="M1199 867l19-47l-33-3l-18 65z"/>
<path class=e d="M1181 900l18-33l-32 15l-19 5z"/>
<path class=g d="M1162 865l19 35l-33-13l-19-48z"/>
<path class=j d="M1144 838l18 27l-33-26l-18-13z"/>
<path class=k d="M1125 824l19 14l-33-12l-19-18z"/>
<path class=m d="M1106 795l19 29l-33-16l-18-23z"/>
<path class=l d="M1088 815l18-20l-32-10l-19 41z"/>
<path class=h d="M1069 866l19-51l-33 11l-18 32z"/>
<path class=i d="M1051 861l18 5l-32-8l-19-35z"/>
<path class=k d="M1032 830l19 31l-33-38l-18-26z"/>
<path class=l d="M1014 823l18 7l-32-33l-19-1z"/>
<path class=n d="M995 806l19 17l-33-27l-18-11zm-18-1l18 1l-32-21l-19 23z"/>
<path class=k d="M958 852l19-47l-33 3l-18 45z"/>
<path class=i d="M940 871l18-19l-32 1l-19-4z"/>
<path class=k d="M921 853l19 18l-33-22l-18-16z"/>
<path class=l d="M903 852l18 1l-32-20l-19 1zm-19 2l19-2l-33-18l-19-4zm-18 0l18 0l-33-24l-18 13z"/>
<path class=j d="M847 880l19-26l-33-11l-19 33z"/>
<path class=i d="M828 898l19-18l-33-4l-18 6z"/>
<path class=k d="M810 885l18 13l-32-16l-19-13z"/>
<path class=w d="M1695 536l19-56l-33 34l-18 45z"/>
<path class=t d="M1677 586l18-50l-32 23l-19 40z"/>
<path class=r d="M1658 631l19-45l-33 13l-18 36z"/>
<path class=p d="M1640 668l18-37l-32 4l-19 30z"/>
<path class=n d="M1621 692l19-24l-33-3l-19 19z"/>
<path class=o d="M1603 689l18 3l-33-8l-18 3z"/>
<path class=m d="M1584 715l19-26l-33-2l-19 44z"/>
<path class=j d="M1565 758l19-43l-33 16l-18 29z"/>
<path class=k d="M1547 750l18 8l-32 2l-19-27z"/>
<path class=m d="M1528 726l19 24l-33-17l-18-13zm-18 3l18-3l-32-6l-19 4z"/>
<path class=n d="M1491 725l19 4l-33-5l-18-12z"/>
<path class=m d="M1473 740l18-15l-32-13l-19 33z"/>
<path class=j d="M1454 791l19-51l-33 5l-18 58z"/>
<path class=i d="M1436 803l18-12l-32 12l-19-7z"/>
<path class=k d="M1417 778l19 25l-33-7l-18-25z"/>
<path class=l d="M1399 774l18 4l-32-7l-19 0z"/>
<path class=m d="M1380 765l19 9l-33-3l-19-17zm-18-3l18 3l-33-11l-18 9z"/>
<path class=i d="M1343 828l19-66l-33 1l-19 67z"/>
<path class=e d="M1324 881l19-53l-33 2l-18 29z"/>
<path class=g d="M1306 858l18 23l-32-22l-19-23z"/>
<path class=i d="M1287 840l19 18l-33-22l-18-5zm-18 5l18-5l-32-9l-19-7z"/>
<path class=j d="M1250 835l19 10l-33-21l-18-4z"/>
<path class=i d="M1232 856l18-21l-32-15l-19 47z"/>
<path class=e d="M1213 905l19-49l-33 11l-18 33z"/>
<path class=f d="M1195 896l18 9l-32-5l-19-35z"/>
<path class=i d="M1176 856l19 40l-33-31l-18-27z"/>
<path class=j d="M1158 842l18 14l-32-18l-19-14z"/>
<path class=l d="M1139 817l19 25l-33-18l-19-29z"/>
<path class=m d="M1121 810l18 7l-33-22l-18 20z"/>
<path class=i d="M1102 862l19-52l-33 5l-19 51z"/>
<path class=g d="M1083 893l19-31l-33 4l-18-5z"/>
<path class=j d="M1065 864l18 29l-32-32l-19-31z"/>
<path class=l d="M1046 842l19 22l-33-34l-18-7z"/>
<path class=m d="M1028 824l18 18l-32-19l-19-17z"/>
<path class=n d="M1009 808l19 16l-33-18l-18-1z"/>
<path class=l d="M991 843l18-35l-32-3l-19 47z"/>
<path class=j d="M972 881l19-38l-33 9l-18 19z"/>
<path class=k d="M954 872l18 9l-32-10l-19-18zm-19-3l19 3l-33-19l-18-1zm-18 6l18-6l-32-17l-19 2z"/>
<path class=l d="M898 870l19 5l-33-21l-18 0z"/>
<path class=k d="M880 887l18-17l-32-16l-19 26z"/>
<path class=i d="M861 912l19-25l-33-7l-19 18z"/>
<path class=j d="M843 901l18 11l-33-14l-18-13z"/>
<path class=w d="M1728 553l18-51l-32-22l-19 56z"/>
<path class=t d="M1709 599l19-46l-33-17l-18 50z"/>
<path class=r d="M1691 640l18-41l-32-13l-19 45z"/>
<path class=p d="M1672 674l19-34l-33-9l-18 37z"/>
<path class=o d="M1654 696l18-22l-32-6l-19 24zm-19-5l19 5l-33-4l-18-3zm-18 10l18-10l-32-2l-19 26z"/>
<path class=l d="M1598 748l19-47l-33 14l-19 43z"/>
<path class=k d="M1580 767l18-19l-33 10l-18-8z"/>
<path class=m d="M1561 744l19 23l-33-17l-19-24z"/>
<path class=n d="M1542 737l19 7l-33-18l-18 3zm-18-3l18 3l-32-8l-19-4zm-19 1l19-1l-33-9l-18 15z"/>
<path class=k d="M1487 780l18-45l-32 5l-19 51z"/>
<path class=i d="M1468 813l19-33l-33 11l-18 12z"/>
<path class=k d="M1450 796l18 17l-32-10l-19-25z"/>
<path class=l d="M1431 785l19 11l-33-18l-18-4zm-18 3l18-3l-32-11l-19-9z"/>
<path class=m d="M1394 782l19 6l-33-23l-18-3z"/>
<path class=j d="M1376 829l18-47l-32-20l-19 66z"/>
<path class=e d="M1357 892l19-63l-33-1l-19 53z"/>
<path class=f d="M1339 885l18 7l-33-11l-18-23z"/>
<path class=i d="M1320 857l19 28l-33-27l-19-18zm-19 4l19-4l-33-17l-18 5zm-18-7l18 7l-32-16l-19-10zm-19 4l19-4l-33-19l-18 21z"/>
<path class=f d="M1246 910l18-52l-32-2l-19 49z"/>
<path class=e d="M1227 921l19-11l-33-5l-18-9z"/>
<path class=h d="M1209 876l18 45l-32-25l-19-40z"/>
<path class=j d="M1190 854l19 22l-33-20l-18-14z"/>
<path class=l d="M1172 833l18 21l-32-12l-19-25z"/>
<path class=n d="M1153 811l19 22l-33-16l-18-7z"/>
<path class=k d="M1135 854l18-43l-32-1l-19 52z"/>
<path class=g d="M1116 903l19-49l-33 8l-19 31z"/>
<path class=i d="M1098 882l18 21l-33-10l-18-29z"/>
<path class=l d="M1079 852l19 30l-33-18l-19-22z"/>
<path class=m d="M1060 841l19 11l-33-10l-18-18z"/>
<path class=n d="M1042 819l18 22l-32-17l-19-16z"/>
<path class=m d="M1023 837l19-18l-33-11l-18 35z"/>
<path class=j d="M1005 886l18-49l-32 6l-19 38zm-19 6l19-6l-33-5l-18-9z"/>
<path class=k d="M968 882l18 10l-32-20l-19-3zm-19 4l19-4l-33-13l-18 6zm-18-1l18 1l-32-11l-19-5zm-19 11l19-11l-33-15l-18 17z"/>
<path class=i d="M894 924l18-28l-32-9l-19 25z"/>
<path class=j d="M875 918l19 6l-33-12l-18-11z"/>
<path class=r d="M1760 634l19-60l-33-72l-18 51z"/>
<path class=o d="M1742 683l18-49l-32-81l-19 46z"/>
<path class=n d="M1723 714l19-31l-33-84l-18 41z"/>
<path class=o d="M1705 700l18 14l-32-74l-19 34zm-19-2l19 2l-33-26l-18 22z"/>
<path class=p d="M1668 694l18 4l-32-2l-19-5zm-19-1l19 1l-33-3l-18 10z"/>
<path class=n d="M1631 733l18-40l-32 8l-19 47z"/>
<path class=k d="M1612 769l19-36l-33 15l-18 19z"/>
<path class=m d="M1594 754l18 15l-32-2l-19-23z"/>
<path class=n d="M1575 740l19 14l-33-10l-19-7zm-18 0l18 0l-33-3l-18-3z"/>
<path class=o d="M1538 734l19 6l-33-6l-19 1z"/>
<path class=m d="M1519 767l19-33l-33 1l-18 45z"/>
<path class=i d="M1501 816l18-49l-32 13l-19 33z"/>
<path class=j d="M1482 813l19 3l-33-3l-18-17z"/>
<path class=l d="M1464 796l18 17l-32-17l-19-11z"/>
<path class=k d="M1445 804l19-8l-33-11l-18 3z"/>
<path class=l d="M1427 803l18 1l-32-16l-19-6z"/>
<path class=k d="M1408 828l19-25l-33-21l-18 47z"/>
<path class=f d="M1390 891l18-63l-32 1l-19 63z"/>
<path class=e d="M1371 909l19-18l-33 1l-18-7z"/>
<path class=h d="M1353 880l18 29l-32-24l-19-28zm-19-5l19 5l-33-23l-19 4z"/>
<path class=i d="M1316 868l18 7l-33-14l-18-7z"/>
<path class=j d="M1297 860l19 8l-33-14l-19 4z"/>
<path class=g d="M1278 905l19-45l-33-2l-18 52z"/>
<path class=e d="M1260 933l18-28l-32 5l-19 11z"/>
<path class=h d="M1241 895l19 38l-33-12l-18-45z"/>
<path class=j d="M1223 864l18 31l-32-19l-19-22z"/>
<path class=l d="M1204 844l19 20l-33-10l-18-21z"/>
<path class=n d="M1186 818l18 26l-32-11l-19-22z"/>
<path class=l d="M1167 846l19-28l-33-7l-18 43z"/>
<path class=h d="M1149 898l18-52l-32 8l-19 49z"/>
<path class=i d="M1130 888l19 10l-33 5l-18-21z"/>
<path class=l d="M1112 860l18 28l-32-6l-19-30zm-19-4l19 4l-33-8l-19-11z"/>
<path class=n d="M1075 837l18 19l-33-15l-18-22zm-19 4l19-4l-33-18l-19 18z"/>
<path class=k d="M1037 888l19-47l-33-4l-18 49z"/>
<path class=j d="M1019 904l18-16l-32-2l-19 6z"/>
<path class=k d="M1000 889l19 15l-33-12l-18-10zm-18 1l18-1l-32-7l-19 4zm-19 5l19-5l-33-4l-18-1zm-18 10l18-10l-32-10l-19 11z"/>
<path class=i d="M926 934l19-29l-33-9l-18 28zm-18 0l18 0l-32-10l-19-6z"/>
<path class=v d="M1793 584l19-99l-33 89l-19 60z"/>
<path class=q d="M1774 665l19-81l-33 50l-18 49z"/>
<path class=n d="M1756 716l18-51l-32 18l-19 31z"/>
<path class=o d="M1737 705l19 11l-33-2l-18-14z"/>
<path class=p d="M1719 700l18 5l-32-5l-19-2zm-19-1l19 1l-33-2l-18-4z"/>
<path class=q d="M1682 692l18 7l-32-5l-19-1z"/>
<path class=o d="M1663 718l19-26l-33 1l-18 40z"/>
<path class=m d="M1645 758l18-40l-32 15l-19 36zm-19-6l19 6l-33 11l-18-15z"/>
<path class=o d="M1608 734l18 18l-32 2l-19-14zm-19 2l19-2l-33 6l-18 0z"/>
<path class=p d="M1571 731l18 5l-32 4l-19-6z"/>
<path class=o d="M1552 752l19-21l-33 3l-19 33z"/>
<path class=k d="M1534 808l18-56l-33 15l-18 49z"/>
<path class=j d="M1515 823l19-15l-33 8l-19-3z"/>
<path class=l d="M1496 801l19 22l-33-10l-18-17zm-18 2l18-2l-32-5l-19 8zm-19 6l19-6l-33 1l-18-1z"/>
<path class=k d="M1441 826l18-17l-32-6l-19 25z"/>
<path class=g d="M1422 887l19-61l-33 2l-18 63z"/>
<path class=e d="M1404 922l18-35l-32 4l-19 18z"/>
<path class=g d="M1385 897l19 25l-33-13l-18-29z"/>
<path class=h d="M1367 882l18 15l-32-17l-19-5z"/>
<path class=i d="M1348 874l19 8l-33-7l-18-7z"/>
<path class=k d="M1330 860l18 14l-32-6l-19-8z"/>
<path class=i d="M1311 891l19-31l-33 0l-19 45z"/>
<path class=f d="M1293 928l18-37l-33 14l-18 28z"/>
<path class=h d="M1274 906l19 22l-33 5l-19-38z"/>
<path class=j d="M1255 874l19 32l-33-11l-18-31z"/>
<path class=l d="M1237 855l18 19l-32-10l-19-20z"/>
<path class=n d="M1218 828l19 27l-33-11l-18-26z"/>
<path class=m d="M1200 839l18-11l-32-10l-19 28z"/>
<path class=j d="M1181 885l19-46l-33 7l-18 52zm-18 2l18-2l-32 13l-19-10z"/>
<path class=l d="M1144 861l19 26l-33 1l-18-28z"/>
<path class=m d="M1126 860l18 1l-32-1l-19-4z"/>
<path class=n d="M1107 851l19 9l-33-4l-18-19zm-18-6l18 6l-32-14l-19 4z"/>
<path class=l d="M1070 877l19-32l-33-4l-19 47z"/>
<path class=k d="M1052 898l18-21l-33 11l-18 16z"/>
<path class=l d="M1033 886l19 12l-33 6l-19-15zm-19-2l19 2l-33 3l-18 1zm-18 6l18-6l-32 6l-19 5zm-19 7l19-7l-33 5l-18 10z"/>
<path class=k d="M959 918l18-21l-32 8l-19 29zm-19 4l19-4l-33 16l-18 0z"/>
<path class=t d="M1826 633l18-61l-32-87l-19 99z"/>
<path class=q d="M1807 683l19-50l-33-49l-19 81z"/>
<path class=o d="M1789 715l18-32l-33-18l-18 51z"/>
<path class=p d="M1770 709l19 6l-33 1l-19-11zm-19-7l19 7l-33-4l-18-5zm-18 2l18-2l-32-2l-19-1z"/>
<path class=q d="M1714 696l19 8l-33-5l-18-7zm-18 14l18-14l-32-4l-19 26z"/>
<path class=n d="M1677 748l19-38l-33 8l-18 40zm-18 3l18-3l-32 10l-19-6z"/>
<path class=p d="M1640 732l19 19l-33 1l-18-18zm-18-1l18 1l-32 2l-19 2z"/>
<path class=q d="M1603 727l19 4l-33 5l-18-5z"/>
<path class=p d="M1585 739l18-12l-32 4l-19 21z"/>
<path class=m d="M1566 789l19-50l-33 13l-18 56z"/>
<path class=k d="M1548 816l18-27l-32 19l-19 15z"/>
<path class=m d="M1529 801l19 15l-33 7l-19-22zm-18 1l18-1l-33 0l-18 2zm-19 11l19-11l-33 1l-19 6z"/>
<path class=l d="M1473 830l19-17l-33-4l-18 17z"/>
<path class=h d="M1455 885l18-55l-32-4l-19 61z"/>
<path class=f d="M1436 924l19-39l-33 2l-18 35z"/>
<path class=h d="M1418 900l18 24l-32-2l-19-25z"/>
<path class=i d="M1399 879l19 21l-33-3l-18-15z"/>
<path class=j d="M1381 874l18 5l-32 3l-19-8z"/>
<path class=k d="M1362 863l19 11l-33 0l-18-14z"/>
<path class=j d="M1344 875l18-12l-32-3l-19 31z"/>
<path class=h d="M1325 910l19-35l-33 16l-18 37z"/>
<path class=i d="M1307 903l18 7l-32 18l-19-22z"/>
<path class=k d="M1288 873l19 30l-33 3l-19-32z"/>
<path class=l d="M1270 857l18 16l-33 1l-18-19z"/>
<path class=n d="M1251 833l19 24l-33-2l-19-27z"/>
<path class=o d="M1232 832l19 1l-33-5l-18 11z"/>
<path class=l d="M1214 871l18-39l-32 7l-19 46z"/>
<path class=k d="M1195 883l19-12l-33 14l-18 2z"/>
<path class=m d="M1177 859l18 24l-32 4l-19-26z"/>
<path class=n d="M1158 855l19 4l-33 2l-18-1zm-18 1l18-1l-32 5l-19-9z"/>
<path class=o d="M1121 845l19 11l-33-5l-18-6z"/>
<path class=n d="M1103 862l18-17l-32 0l-19 32z"/>
<path class=l d="M1084 887l19-25l-33 15l-18 21z"/>
<path class=m d="M1066 883l18 4l-32 11l-19-12z"/>
<path class=n d="M1047 878l19 5l-33 3l-19-2z"/>
<path class=m d="M1029 885l18-7l-33 6l-18 6zm-19 6l19-6l-33 5l-19 7zm-19 13l19-13l-33 6l-18 21z"/>
<path class=l d="M973 909l18-5l-32 14l-19 4z"/>
<path class=s d="M1858 660l19-40l-33-48l-18 61z"/>
<path class=q d="M1840 692l18-32l-32-27l-19 50z"/>
<path class=p d="M1821 714l19-22l-33-9l-18 32zm-18-2l18 2l-32 1l-19-6z"/>
<path class=q d="M1784 704l19 8l-33-3l-19-7zm-18 2l18-2l-33-2l-18 2z"/>
<path class=r d="M1747 701l19 5l-33-2l-19-8z"/>
<path class=q d="M1728 707l19-6l-33-5l-18 14z"/>
<path class=o d="M1710 740l18-33l-32 3l-19 38zm-19 11l19-11l-33 8l-18 3z"/>
<path class=p d="M1673 733l18 18l-32 0l-19-19z"/>
<path class=q d="M1654 728l19 5l-33-1l-18-1zm-18 0l18 0l-32 3l-19-4zm-19 4l19-4l-33-1l-18 12z"/>
<path class=o d="M1599 767l18-35l-32 7l-19 50z"/>
<path class=m d="M1580 798l19-31l-33 22l-18 27zm-18 0l18 0l-32 18l-19-15zm-19 10l19-10l-33 3l-18 1z"/>
<path class=l d="M1525 828l18-20l-32-6l-19 11z"/>
<path class=k d="M1506 846l19-18l-33-15l-19 17z"/>
<path class=i d="M1488 890l18-44l-33-16l-18 55z"/>
<path class=f d="M1469 925l19-35l-33-5l-19 39z"/>
<path class=h d="M1450 903l19 22l-33-1l-18-24z"/>
<path class=j d="M1432 874l18 29l-32-3l-19-21z"/>
<path class=k d="M1413 870l19 4l-33 5l-18-5z"/>
<path class=l d="M1395 863l18 7l-32 4l-19-11zm-19 1l19-1l-33 0l-18 12z"/>
<path class=j d="M1358 894l18-30l-32 11l-19 35zm-19-3l19 3l-33 16l-18-7z"/>
<path class=m d="M1321 859l18 32l-32 12l-19-30z"/>
<path class=n d="M1302 844l19 15l-33 14l-18-16z"/>
<path class=o d="M1284 830l18 14l-32 13l-19-24z"/>
<path class=p d="M1265 826l19 4l-33 3l-19-1z"/>
<path class=n d="M1247 858l18-32l-33 6l-18 39z"/>
<path class=m d="M1228 876l19-18l-33 13l-19 12z"/>
<path class=n d="M1209 855l19 21l-33 7l-18-24z"/>
<path class=o d="M1191 845l18 10l-32 4l-19-4zm-19 4l19-4l-33 10l-18 1z"/>
<path class=p d="M1154 842l18 7l-32 7l-19-11zm-19 9l19-9l-33 3l-18 17z"/>
<path class=n d="M1117 878l18-27l-32 11l-19 25zm-19 1l19-1l-33 9l-18-4z"/>
<path class=o d="M1080 872l18 7l-32 4l-19-5zm-19 8l19-8l-33 6l-18 7zm-18 5l18-5l-32 5l-19 6z"/>
<path class=n d="M1024 893l19-8l-33 6l-19 13zm-18 4l18-4l-33 11l-18 5z"/>
<path class=r d="M1891 677l18-25l-32-32l-19 40z"/>
<path class=q d="M1872 696l19-19l-33-17l-18 32z"/>
<path class=p d="M1854 713l18-17l-32-4l-19 22zm-19 2l19-2l-33 1l-18-2z"/>
<path class=q d="M1817 706l18 9l-32-3l-19-8z"/>
<path class=r d="M1798 707l19-1l-33-2l-18 2zm-18-4l18 4l-32-1l-19-5zm-19 2l19-2l-33-2l-19 6z"/>
<path class=q d="M1743 730l18-25l-33 2l-18 33z"/>
<path class=p d="M1724 745l19-15l-33 10l-19 11z"/>
<path class=q d="M1705 733l19 12l-33 6l-18-18z"/>
<path class=r d="M1687 727l18 6l-32 0l-19-5zm-19 0l19 0l-33 1l-18 0zm-18-1l18 1l-32 1l-19 4z"/>
<path class=q d="M1631 750l19-24l-33 6l-18 35z"/>
<path class=n d="M1613 786l18-36l-32 17l-19 31zm-19 12l19-12l-33 12l-18 0zm-18 15l18-15l-32 0l-19 10z"/>
<path class=l d="M1557 837l19-24l-33-5l-18 20zm-18 18l18-18l-32-9l-19 18z"/>
<path class=j d="M1520 888l19-33l-33-9l-18 44z"/>
<path class=h d="M1502 919l18-31l-32 2l-19 35z"/>
<path class=i d="M1483 905l19 14l-33 6l-19-22z"/>
<path class=k d="M1465 875l18 30l-33-2l-18-29z"/>
<path class=l d="M1446 869l19 6l-33-1l-19-4z"/>
<path class=m d="M1427 863l19 6l-33 1l-18-7z"/>
<path class=n d="M1409 856l18 7l-32 0l-19 1z"/>
<path class=l d="M1390 878l19-22l-33 8l-18 30zm-18 1l18-1l-32 16l-19-3z"/>
<path class=n d="M1353 852l19 27l-33 12l-18-32z"/>
<path class=p d="M1335 838l18 14l-32 7l-19-15z"/>
<path class=q d="M1316 828l19 10l-33 6l-18-14z"/>
<path class=r d="M1298 823l18 5l-32 2l-19-4z"/>
<path class=p d="M1279 846l19-23l-33 3l-18 32z"/>
<path class=o d="M1261 866l18-20l-32 12l-19 18z"/>
<path class=p d="M1242 849l19 17l-33 10l-19-21z"/>
<path class=r d="M1224 836l18 13l-33 6l-18-10z"/>
<path class=q d="M1205 842l19-6l-33 9l-19 4z"/>
<path class=r d="M1186 837l19 5l-33 7l-18-7zm-18 8l18-8l-32 5l-19 9z"/>
<path class=p d="M1149 871l19-26l-33 6l-18 27zm-18 7l18-7l-32 7l-19 1zm-19-7l19 7l-33 1l-18-7zm-18 6l18-6l-32 1l-19 8zm-19 6l19-6l-33 3l-18 5zm-18 7l18-7l-32 2l-19 8zm-19 5l19-5l-33 3l-18 4z"/>
<path class=r d="M1923 690l19-15l-33-23l-18 25zm-18 11l18-11l-32-13l-19 19z"/>
<path class=q d="M1886 713l19-12l-33-5l-18 17zm-18 3l18-3l-32 0l-19 2z"/>
<path class=r d="M1849 708l19 8l-33-1l-18-9zm-18-1l18 1l-32-2l-19 1z"/>
<path class=s d="M1812 705l19 2l-33 0l-18-4zm-18-1l18 1l-32-2l-19 2z"/>
<path class=r d="M1775 721l19-17l-33 1l-18 25z"/>
<path class=q d="M1757 738l18-17l-32 9l-19 15z"/>
<path class=r d="M1738 733l19 5l-33 7l-19-12zm-18-6l18 6l-33 0l-18-6z"/>
<path class=s d="M1701 726l19 1l-33 0l-19 0zm-19-4l19 4l-33 1l-18-1z"/>
<path class=r d="M1664 741l18-19l-32 4l-19 24z"/>
<path class=p d="M1645 776l19-35l-33 9l-18 36z"/>
<path class=o d="M1627 793l18-17l-32 10l-19 12zm-19 14l19-14l-33 5l-18 15z"/>
<path class=n d="M1590 830l18-23l-32 6l-19 24z"/>
<path class=m d="M1571 847l19-17l-33 7l-18 18z"/>
<path class=l d="M1553 873l18-26l-32 8l-19 33z"/>
<path class=j d="M1534 904l19-31l-33 15l-18 31zm-18-1l18 1l-32 15l-19-14z"/>
<path class=l d="M1497 881l19 22l-33 2l-18-30z"/>
<path class=m d="M1479 874l18 7l-32-6l-19-6z"/>
<path class=n d="M1460 868l19 6l-33-5l-19-6z"/>
<path class=o d="M1442 854l18 14l-33-5l-18-7z"/>
<path class=n d="M1423 865l19-11l-33 2l-19 22zm-19 5l19-5l-33 13l-18 1z"/>
<path class=p d="M1386 852l18 18l-32 9l-19-27z"/>
<path class=q d="M1367 840l19 12l-33 0l-18-14z"/>
<path class=r d="M1349 832l18 8l-32-2l-19-10z"/>
<path class=s d="M1330 823l19 9l-33-4l-18-5z"/>
<path class=r d="M1312 838l18-15l-32 0l-19 23z"/>
<path class=q d="M1293 857l19-19l-33 8l-18 20z"/>
<path class=r d="M1275 848l18 9l-32 9l-19-17z"/>
<path class=s d="M1256 836l19 12l-33 1l-18-13zm-18 3l18-3l-32 0l-19 6z"/>
<path class=t d="M1219 837l19 2l-33 3l-19-5zm-18 7l18-7l-33 0l-18 8z"/>
<path class=r d="M1182 867l19-23l-33 1l-19 26zm-19 9l19-9l-33 4l-18 7zm-18-5l18 5l-32 2l-19-7zm-19 4l19-4l-33 0l-18 6zm-18 7l18-7l-32 2l-19 6z"/>
<path class=q d="M1089 889l19-7l-33 1l-18 7zm-18 3l18-3l-32 1l-19 5z"/>
<path class=r d="M1956 703l19-8l-33-20l-19 15zm-18 6l18-6l-33-13l-18 11zm-19 6l19-6l-33-8l-19 12zm-19 3l19-3l-33-2l-18 3zm-18-6l18 6l-32-2l-19-8z"/>
<path class=s d="M1863 710l19 2l-33-4l-18-1zm-18 0l18 0l-32-3l-19-2zm-19-2l19 2l-33-5l-18-1zm-18 11l18-11l-32-4l-19 17z"/>
<path class=r d="M1789 733l19-14l-33 2l-18 17zm-18-1l18 1l-32 5l-19-5z"/>
<path class=s d="M1752 727l19 5l-33 1l-18-6zm-18 0l18 0l-32 0l-19-1z"/>
<path class=t d="M1715 727l19 0l-33-1l-19-4z"/>
<path class=s d="M1697 739l18-12l-33-5l-18 19z"/>
<path class=q d="M1678 766l19-27l-33 2l-19 35zm-19 16l19-16l-33 10l-18 17z"/>
<path class=p d="M1641 795l18-13l-32 11l-19 14z"/>
<path class=o d="M1622 816l19-21l-33 12l-18 23z"/>
<path class=n d="M1604 834l18-18l-32 14l-19 17z"/>
<path class=m d="M1585 854l19-20l-33 13l-18 26z"/>
<path class=l d="M1567 881l18-27l-32 19l-19 31zm-19 11l19-11l-33 23l-18-1z"/>
<path class=m d="M1530 884l18 8l-32 11l-19-22zm-19-4l19 4l-33-3l-18-7z"/>
<path class=n d="M1493 879l18 1l-32-6l-19-6z"/>
<path class=o d="M1474 863l19 16l-33-11l-18-14z"/>
<path class=p d="M1456 862l18 1l-32-9l-19 11zm-19 0l19 0l-33 3l-19 5z"/>
<path class=q d="M1419 850l18 12l-33 8l-18-18z"/>
<path class=r d="M1400 841l19 9l-33 2l-19-12z"/>
<path class=s d="M1381 837l19 4l-33-1l-18-8z"/>
<path class=t d="M1363 830l18 7l-32-5l-19-9zm-19 5l19-5l-33-7l-18 15z"/>
<path class=s d="M1326 848l18-13l-32 3l-19 19z"/>
<path class=t d="M1307 846l19 2l-33 9l-18-9z"/>
<path class=u d="M1289 838l18 8l-32 2l-19-12zm-19 1l19-1l-33-2l-18 3zm-18 1l18-1l-32 0l-19-2zm-19 6l19-6l-33-3l-18 7z"/>
<path class=t d="M1215 864l18-18l-32-2l-19 23z"/>
<path class=s d="M1196 873l19-9l-33 3l-19 9zm-18-1l18 1l-33 3l-18-5zm-19 5l19-5l-33-1l-19 4zm-19 7l19-7l-33-2l-18 7z"/>
<path class=r d="M1122 890l18-6l-32-2l-19 7zm-19 1l19-1l-33-1l-18 3z"/>
<path class=q d="M1989 726l18-5l-32-26l-19 8z"/>
<path class=r d="M1970 725l19 1l-33-23l-18 6zm-18-2l18 2l-32-16l-19 6zm-19-1l19 1l-33-8l-19 3zm-18-1l18 1l-33-4l-18-6z"/>
<path class=s d="M1896 719l19 2l-33-9l-19-2zm-19-1l19 1l-33-9l-18 0zm-18-1l18 1l-32-8l-19-2zm-19 1l19-1l-33-9l-18 11zm-18 4l18-4l-32 1l-19 14zm-19 4l19-4l-33 11l-18-1zm-18 3l18-3l-32 6l-19-5zm-19 4l19-4l-33-2l-18 0zm-18 4l18-4l-32-6l-19 0zm-19 5l19-5l-33-10l-18 12zm-18 13l18-13l-32-3l-19 27z"/>
<path class=r d="M1692 770l19-15l-33 11l-19 16z"/>
<path class=q d="M1674 788l18-18l-33 12l-18 13z"/>
<path class=p d="M1655 807l19-19l-33 7l-19 21zm-19 17l19-17l-33 9l-18 18z"/>
<path class=o d="M1618 845l18-21l-32 10l-19 20z"/>
<path class=n d="M1599 863l19-18l-33 9l-18 27z"/>
<path class=m d="M1581 877l18-14l-32 18l-19 11zm-19 10l19-10l-33 15l-18-8zm-18 4l18-4l-32-3l-19-4zm-19 7l19-7l-33-11l-18-1z"/>
<path class=n d="M1507 886l18 12l-32-19l-19-16z"/>
<path class=o d="M1488 871l19 15l-33-23l-18-1z"/>
<path class=q d="M1470 856l18 15l-32-9l-19 0z"/>
<path class=r d="M1451 848l19 8l-33 6l-18-12zm-18-2l18 2l-32 2l-19-9z"/>
<path class=s d="M1414 843l19 3l-33-5l-19-4zm-18-2l18 2l-33-6l-18-7z"/>
<path class=t d="M1377 838l19 3l-33-11l-19 5zm-19 1l19-1l-33-3l-18 13zm-18 2l18-2l-32 9l-19-2zm-19 2l19-2l-33 5l-18-8z"/>
<path class=u d="M1303 845l18-2l-32-5l-19 1zm-19 3l19-3l-33-6l-18 1z"/>
<path class=t d="M1266 852l18-4l-32-8l-19 6zm-19 9l19-9l-33-6l-18 18zm-18 10l18-10l-32 3l-19 9z"/>
<path class=s d="M1210 880l19-9l-33 2l-18-1zm-18 9l18-9l-32-8l-19 5z"/>
<path class=r d="M1173 898l19-9l-33-12l-19 7zm-18 10l18-10l-33-14l-18 6zm-19-5l19 5l-33-18l-19 1z"/>
</g>
<text class="tt" text-anchor="middle" x="146.4" y="123.3" textLength="17.8" lengthAdjust="spacingAndGlyphs">2010</text>
<text class="tt" text-anchor="middle" x="166.6" y="119.6" textLength="17.8" lengthAdjust="spacingAndGlyphs">2013</text>
<text class="tt" text-anchor="middle" x="186.7" y="115.9" textLength="17.8" lengthAdjust="spacingAndGlyphs">2016</text>
<text class="tt" text-anchor="middle" x="206.8" y="112.2" textLength="17.8" lengthAdjust="spacingAndGlyphs">2019</text>
<text class="tt" text-anchor="middle" x="107.0" y="126.4" textLength="4.6" lengthAdjust="spacingAndGlyphs">0</text>
<text class="tt" text-anchor="middle" x="74.4" y="115.9" textLength="9.2" lengthAdjust="spacingAndGlyphs">10</text>
<text class="tt" text-anchor="middle" x="41.8" y="105.4" textLength="9.2" lengthAdjust="spacingAndGlyphs">20</text>
<text class="tt" text-anchor="end" x="33.6" y="78.3" textLength="4.6" lengthAdjust="spacingAndGlyphs">0</text>
<text class="tt" text-anchor="end" x="33.6" y="59.1" textLength="4.6" lengthAdjust="spacingAndGlyphs">2</text>
<text class="tt" text-anchor="end" x="33.6" y="40.0" textLength="4.6" lengthAdjust="spacingAndGlyphs">4</text>
<text class="hh" x="26.8" y="14.9" textLength="197.1" lengthAdjust="spacingAndGlyphs">NFC Loan Growth response to Investment Shock</text>
</g>
<g id="p1R">
<path class="gg" d="M362.94 110.92L287.94 86.72M287.94 86.72L287.94 33.32M383.05 107.20L308.05 83.00M308.05 83.00L308.05 29.60M403.16 103.49L328.16 79.29M328.16 79.29L328.16 25.89M423.27 99.77L348.27 75.57M348.27 75.57L348.27 22.17M342.50 114.70L441.50 96.40M441.50 96.40L441.50 43.00M309.89 104.18L408.89 85.88M408.89 85.88L408.89 32.48M277.28 93.66L376.28 75.36M376.28 75.36L376.28 21.96M267.50 75.24L366.50 56.94M366.50 56.94L441.50 81.14M267.50 56.17L366.50 37.87M366.50 37.87L441.50 62.07M267.50 37.10L366.50 18.80M366.50 18.80L441.50 43.00"/>
<path class="bb" d="M342.50 114.70L441.50 96.40M441.50 96.40L366.50 72.20M366.50 72.20L267.50 90.50M267.50 90.50L342.50 114.70M267.50 90.50L267.50 37.10M267.50 37.10L366.50 18.80M366.50 18.80L366.50 72.20M366.50 18.80L441.50 43.00M441.50 43.00L441.50 96.40M362.94 110.92L361.23 110.37M383.05 107.20L381.34 106.65M403.16 103.49L401.45 102.93M423.27 99.77L421.56 99.22M342.50 114.70L344.27 114.37M309.89 104.18L311.66 103.85M277.28 93.66L279.05 93.33M267.50 75.24L265.30 75.54M267.50 56.17L265.30 56.47M267.50 37.10L265.30 37.40"/>
<g class=sf transform="scale(.1)">
<path class=u d="M3536 391l18-26l-33 43l-18 20z"/>
<path class=t d="M3518 416l18-25l-33 37l-18 19z"/>
<path class=s d="M3500 441l18-25l-33 31l-18 19z"/>
<path class=r d="M3482 464l18-23l-33 25l-18 14z"/>
<path class=q d="M3464 487l18-23l-33 16l-18 8z"/>
<path class=p d="M3446 509l18-22l-33 1l-18 12z"/>
<path class=o d="M3428 529l18-20l-33-9l-18 19z"/>
<path class=n d="M3410 547l18-18l-33-10l-18 19zm-18 14l18-14l-33-9l-18 20z"/>
<path class=l d="M3374 605l18-44l-33-3l-18 46z"/>
<path class=j d="M3356 650l18-45l-33-1l-18 23z"/>
<path class=h d="M3338 674l18-24l-33-23l-18 4z"/>
<path class=i d="M3320 668l18 6l-33-43l-18 4z"/>
<path class=k d="M3302 636l18 32l-33-33l-18-14z"/>
<path class=l d="M3284 613l18 23l-33-15l-18-18z"/>
<path class=m d="M3266 598l18 15l-33-10l-18-16z"/>
<path class=n d="M3248 585l18 13l-33-11l-18-5zm-18 1l18-1l-33-3l-18-5z"/>
<path class=m d="M3212 608l18-22l-33-9l-18-5z"/>
<path class=l d="M3194 622l18-14l-33-36l-18-3z"/>
<path class=m d="M3176 617l18 5l-33-53l-18 5z"/>
<path class=n d="M3158 604l18 13l-33-43l-18 5z"/>
<path class=o d="M3140 594l18 10l-33-25l-18 4zm-18-7l18 7l-33-11l-18 5z"/>
<path class=p d="M3104 581l18 6l-33 1l-18 8z"/>
<path class=o d="M3086 593l18-12l-33 15l-18 7z"/>
<path class=m d="M3068 627l18-34l-33 10l-18 7zm-18 13l18-13l-33-17l-18-7z"/>
<path class=n d="M3032 616l18 24l-33-37l-18-13z"/>
<path class=p d="M3014 584l18 32l-33-26l-18-13z"/>
<path class=q d="M2996 573l18 11l-33-7l-18-8zm-18 1l18-1l-33-4l-18 1z"/>
<path class=r d="M2960 571l18 3l-33-4l-18 2z"/>
<path class=q d="M2942 581l18-10l-33 1l-18 2z"/>
<path class=p d="M2924 608l18-27l-33-7l-18 4z"/>
<path class=n d="M2906 632l18-24l-33-30l-18 12z"/>
<path class=o d="M2888 635l18-3l-33-42l-18 13zm-18 0l18 0l-33-32l-18 12zm-18 8l18-8l-33-20l-18 14z"/>
<path class=n d="M2834 656l18-13l-33-14l-18 25zm-18 15l18-15l-33-2l-18 25z"/>
<path class=m d="M2798 692l18-21l-33 8l-18 13z"/>
<path class=l d="M2780 711l18-19l-33 0l-18 3zm-18 8l18-8l-33-16l-18 3zm-18-2l18 2l-33-21l-18 2zm-18-2l18 2l-33-17l-18 3zm-18 8l18-8l-33-12l-18 10z"/>
<path class=w d="M3569 365l18-33l-33 33l-18 26z"/>
<path class=v d="M3551 397l18-32l-33 26l-18 25z"/>
<path class=t d="M3533 429l18-32l-33 19l-18 25z"/>
<path class=s d="M3515 459l18-30l-33 12l-18 23z"/>
<path class=q d="M3497 488l18-29l-33 5l-18 23z"/>
<path class=p d="M3479 515l18-27l-33-1l-18 22z"/>
<path class=o d="M3461 541l18-26l-33-6l-18 20z"/>
<path class=n d="M3443 564l18-23l-33-12l-18 18zm-18 17l18-17l-33-17l-18 14z"/>
<path class=m d="M3407 606l18-25l-33-20l-18 44z"/>
<path class=k d="M3389 640l18-34l-33-1l-18 45z"/>
<path class=h d="M3371 687l18-47l-33 10l-18 24z"/>
<path class=g d="M3353 708l18-21l-33-13l-18-6z"/>
<path class=i d="M3335 674l18 34l-33-40l-18-32z"/>
<path class=l d="M3317 636l18 38l-33-38l-18-23z"/>
<path class=m d="M3299 621l18 15l-33-23l-18-15z"/>
<path class=n d="M3281 607l18 14l-33-23l-18-13z"/>
<path class=o d="M3262 587l19 20l-33-22l-18 1zm-18 7l18-7l-32-1l-18 22z"/>
<path class=l d="M3226 635l18-41l-32 14l-18 14z"/>
<path class=k d="M3208 668l18-33l-32-13l-18-5z"/>
<path class=l d="M3190 654l18 14l-32-51l-18-13z"/>
<path class=n d="M3172 620l18 34l-32-50l-18-10z"/>
<path class=o d="M3154 603l18 17l-32-26l-18-7z"/>
<path class=p d="M3136 594l18 9l-32-16l-18-6zm-18-9l18 9l-32-13l-18 12z"/>
<path class=o d="M3100 604l18-19l-32 8l-18 34z"/>
<path class=m d="M3082 646l18-42l-32 23l-18 13z"/>
<path class=l d="M3064 657l18-11l-32-6l-18-24z"/>
<path class=n d="M3046 626l18 31l-32-41l-18-32z"/>
<path class=p d="M3028 598l18 28l-32-42l-18-11z"/>
<path class=q d="M3010 595l18 3l-32-25l-18 1zm-18-6l18 6l-32-21l-18-3z"/>
<path class=r d="M2974 578l18 11l-32-18l-18 10z"/>
<path class=q d="M2956 592l18-14l-32 3l-18 27z"/>
<path class=o d="M2938 638l18-46l-32 16l-18 24z"/>
<path class=m d="M2920 668l18-30l-32-6l-18 3z"/>
<path class=n d="M2902 666l18 2l-32-33l-18 0zm-18-7l18 7l-32-31l-18 8zm-18 7l18-7l-32-16l-18 13zm-18 12l18-12l-32-10l-18 15zm-18 9l18-9l-32-7l-18 21z"/>
<path class=m d="M2812 703l18-16l-32 5l-18 19z"/>
<path class=l d="M2794 725l18-22l-32 8l-18 8zm-18 9l18-9l-32-6l-18-2zm-18-7l18 7l-32-17l-18-2zm-18-1l18 1l-32-12l-18 8z"/>
<path class=x d="M3601 348l18-39l-32 23l-18 33z"/>
<path class=w d="M3583 387l18-39l-32 17l-18 32z"/>
<path class=u d="M3565 424l18-37l-32 10l-18 32z"/>
<path class=s d="M3547 460l18-36l-32 5l-18 30z"/>
<path class=q d="M3529 495l18-35l-32-1l-18 29z"/>
<path class=p d="M3511 527l18-32l-32-7l-18 27z"/>
<path class=n d="M3493 557l18-30l-32-12l-18 26zm-18 27l18-27l-32-16l-18 23z"/>
<path class=m d="M3457 604l18-20l-32-20l-18 17z"/>
<path class=l d="M3439 625l18-21l-32-23l-18 25zm-18 12l18-12l-32-19l-18 34z"/>
<path class=k d="M3403 663l18-26l-32 3l-18 47z"/>
<path class=h d="M3385 699l18-36l-32 24l-18 21zm-18 7l18-7l-32 9l-18-34z"/>
<path class=j d="M3349 679l18 27l-32-32l-18-38z"/>
<path class=l d="M3331 645l18 34l-32-43l-18-15z"/>
<path class=m d="M3313 627l18 18l-32-24l-18-14z"/>
<path class=n d="M3295 608l18 19l-32-20l-19-20z"/>
<path class=p d="M3277 588l18 20l-33-21l-18 7z"/>
<path class=o d="M3259 610l18-22l-33 6l-18 41z"/>
<path class=k d="M3241 667l18-57l-33 25l-18 33z"/>
<path class=j d="M3223 697l18-30l-33 1l-18-14z"/>
<path class=k d="M3205 672l18 25l-33-43l-18-34z"/>
<path class=n d="M3187 634l18 38l-33-52l-18-17z"/>
<path class=o d="M3169 621l18 13l-33-31l-18-9zm-18-6l18 6l-33-27l-18-9z"/>
<path class=p d="M3133 607l18 8l-33-30l-18 19z"/>
<path class=o d="M3115 624l18-17l-33-3l-18 42z"/>
<path class=m d="M3097 660l18-36l-33 22l-18 11z"/>
<path class=l d="M3079 671l18-11l-33-3l-18-31z"/>
<path class=n d="M3061 648l18 23l-33-45l-18-28z"/>
<path class=p d="M3043 622l18 26l-33-50l-18-3z"/>
<path class=q d="M3025 606l18 16l-33-27l-18-6z"/>
<path class=r d="M3007 590l18 16l-33-17l-18-11z"/>
<path class=s d="M2989 582l18 8l-33-12l-18 14z"/>
<path class=q d="M2971 611l18-29l-33 10l-18 46z"/>
<path class=n d="M2953 664l18-53l-33 27l-18 30z"/>
<path class=m d="M2935 694l18-30l-33 4l-18-2zm-18-6l18 6l-33-28l-18-7z"/>
<path class=n d="M2899 679l18 9l-33-29l-18 7zm-18 7l18-7l-33-13l-18 12zm-18 7l18-7l-33-8l-18 9zm-18 2l18-2l-33-6l-18 16z"/>
<path class=m d="M2827 710l18-15l-33 8l-18 22z"/>
<path class=l d="M2809 733l18-23l-33 15l-18 9zm-18 6l18-6l-33 1l-18-7z"/>
<path class=m d="M2773 729l18 10l-33-12l-18-1z"/>
<path class=x d="M3634 361l18-43l-33-9l-18 39z"/>
<path class=v d="M3616 403l18-42l-33-13l-18 39z"/>
<path class=u d="M3598 443l18-40l-33-16l-18 37z"/>
<path class=s d="M3580 481l18-38l-33-19l-18 36z"/>
<path class=q d="M3562 518l18-37l-33-21l-18 35z"/>
<path class=o d="M3544 553l18-35l-33-23l-18 32z"/>
<path class=m d="M3526 585l18-32l-33-26l-18 30z"/>
<path class=l d="M3508 614l18-29l-33-28l-18 27zm-18 21l18-21l-33-30l-18 20z"/>
<path class=k d="M3472 648l18-13l-33-31l-18 21zm-18 9l18-9l-33-23l-18 12z"/>
<path class=l d="M3436 651l18 6l-33-20l-18 26zm-18 4l18-4l-33 12l-18 36z"/>
<path class=j d="M3400 690l18-35l-33 44l-18 7z"/>
<path class=h d="M3382 719l18-29l-33 16l-18-27z"/>
<path class=i d="M3364 696l18 23l-33-40l-18-34z"/>
<path class=l d="M3346 654l18 42l-33-51l-18-18z"/>
<path class=m d="M3328 633l18 21l-33-27l-18-19z"/>
<path class=o d="M3310 615l18 18l-33-25l-18-20z"/>
<path class=p d="M3292 605l18 10l-33-27l-18 22z"/>
<path class=n d="M3274 632l18-27l-33 5l-18 57z"/>
<path class=k d="M3256 687l18-55l-33 35l-18 30z"/>
<path class=i d="M3238 716l18-29l-33 10l-18-25z"/>
<path class=k d="M3220 690l18 26l-33-44l-18-38z"/>
<path class=m d="M3202 655l18 35l-33-56l-18-13z"/>
<path class=n d="M3184 649l18 6l-33-34l-18-6z"/>
<path class=o d="M3166 642l18 7l-33-34l-18-8z"/>
<path class=p d="M3148 624l18 18l-33-35l-18 17zm-18 9l18-9l-33 0l-18 36z"/>
<path class=m d="M3112 677l18-44l-33 27l-18 11z"/>
<path class=k d="M3094 702l18-25l-33-6l-18-23z"/>
<path class=m d="M3076 678l18 24l-33-54l-18-26z"/>
<path class=p d="M3058 636l18 42l-33-56l-18-16z"/>
<path class=q d="M3040 611l18 25l-33-30l-18-16z"/>
<path class=r d="M3022 600l18 11l-33-21l-18-8zm-18 4l18-4l-33-18l-18 29z"/>
<path class=p d="M2986 638l18-34l-33 7l-18 53z"/>
<path class=m d="M2968 691l18-53l-33 26l-18 30z"/>
<path class=l d="M2950 720l18-29l-33 3l-18-6z"/>
<path class=m d="M2932 713l18 7l-33-32l-18-9z"/>
<path class=n d="M2913 702l19 11l-33-34l-18 7zm-18 3l18-3l-32-16l-18 7zm-18 3l18-3l-32-12l-18 2zm-18 2l18-2l-32-13l-18 15z"/>
<path class=m d="M2841 724l18-14l-32 0l-18 23z"/>
<path class=l d="M2823 743l18-19l-32 9l-18 6z"/>
<path class=m d="M2805 738l18 5l-32-4l-18-10z"/>
<path class=w d="M3666 393l18-46l-32-29l-18 43z"/>
<path class=u d="M3648 438l18-45l-32-32l-18 42z"/>
<path class=s d="M3630 481l18-43l-32-35l-18 40z"/>
<path class=q d="M3612 523l18-42l-32-38l-18 38z"/>
<path class=p d="M3594 562l18-39l-32-42l-18 37z"/>
<path class=n d="M3576 600l18-38l-32-44l-18 35z"/>
<path class=l d="M3558 634l18-34l-32-47l-18 32z"/>
<path class=j d="M3540 665l18-31l-32-49l-18 29z"/>
<path class=i d="M3522 688l18-23l-32-51l-18 21z"/>
<path class=j d="M3504 679l18 9l-32-53l-18 13zm-18 3l18-3l-32-31l-18 9z"/>
<path class=k d="M3468 673l18 9l-32-25l-18-6z"/>
<path class=m d="M3450 646l18 27l-32-22l-18 4z"/>
<path class=l d="M3432 654l18-8l-32 9l-18 35z"/>
<path class=i d="M3414 714l18-60l-32 36l-18 29z"/>
<path class=g d="M3396 743l18-29l-32 5l-18-23z"/>
<path class=i d="M3378 712l18 31l-32-47l-18-42z"/>
<path class=l d="M3360 675l18 37l-32-58l-18-21z"/>
<path class=m d="M3342 655l18 20l-32-42l-18-18z"/>
<path class=n d="M3324 642l18 13l-32-40l-18-10z"/>
<path class=o d="M3306 632l18 10l-32-37l-18 27z"/>
<path class=n d="M3288 653l18-21l-32 0l-18 55z"/>
<path class=j d="M3270 714l18-61l-32 34l-18 29z"/>
<path class=h d="M3252 748l18-34l-32 2l-18-26z"/>
<path class=j d="M3234 720l18 28l-32-58l-18-35z"/>
<path class=m d="M3216 685l18 35l-32-65l-18-6z"/>
<path class=n d="M3198 673l18 12l-32-36l-18-7z"/>
<path class=o d="M3180 652l18 21l-32-31l-18-18z"/>
<path class=p d="M3162 631l18 21l-32-28l-18 9z"/>
<path class=o d="M3144 657l18-26l-32 2l-18 44z"/>
<path class=l d="M3126 708l18-51l-32 20l-18 25z"/>
<path class=k d="M3108 729l18-21l-32-6l-18-24z"/>
<path class=m d="M3090 695l18 34l-32-51l-18-42z"/>
<path class=p d="M3072 646l18 49l-32-59l-18-25z"/>
<path class=q d="M3054 628l18 18l-32-35l-18-11zm-18 3l18-3l-32-28l-18 4zm-18 8l18-8l-32-27l-18 34z"/>
<path class=p d="M3000 669l18-30l-32-1l-18 53z"/>
<path class=m d="M2982 722l18-53l-32 22l-18 29z"/>
<path class=k d="M2964 752l18-30l-32-2l-18-7z"/>
<path class=l d="M2946 744l18 8l-32-39l-19-11z"/>
<path class=m d="M2928 730l18 14l-33-42l-18 3zm-18 1l18-1l-33-25l-18 3zm-18 0l18 0l-33-23l-18 2z"/>
<path class=n d="M2874 728l18 3l-33-21l-18 14z"/>
<path class=m d="M2856 739l18-11l-33-4l-18 19zm-18 9l18-9l-33 4l-18-5z"/>
<path class=v d="M3699 427l18-48l-33-32l-18 46z"/>
<path class=t d="M3681 474l18-47l-33-34l-18 45z"/>
<path class=r d="M3663 518l18-44l-33-36l-18 43z"/>
<path class=p d="M3645 562l18-44l-33-37l-18 42z"/>
<path class=n d="M3627 603l18-41l-33-39l-18 39zm-18 6l18-6l-33-41l-18 38z"/>
<path class=l d="M3591 641l18-32l-33-9l-18 34z"/>
<path class=i d="M3573 699l18-58l-33-7l-18 31z"/>
<path class=g d="M3555 734l18-35l-33-34l-18 23z"/>
<path class=h d="M3537 727l18 7l-33-46l-18-9z"/>
<path class=j d="M3519 706l18 21l-33-48l-18 3zm-18-8l18 8l-33-24l-18-9z"/>
<path class=k d="M3483 682l18 16l-33-25l-18-27z"/>
<path class=m d="M3465 664l18 18l-33-36l-18 8z"/>
<path class=k d="M3447 691l18-27l-33-10l-18 60z"/>
<path class=h d="M3429 748l18-57l-33 23l-18 29z"/>
<path class=f d="M3411 772l18-24l-33-5l-18-31z"/>
<path class=h d="M3393 744l18 28l-33-60l-18-37z"/>
<path class=k d="M3375 698l18 46l-33-69l-18-20z"/>
<path class=m d="M3357 675l18 23l-33-43l-18-13z"/>
<path class=n d="M3339 660l18 15l-33-33l-18-10z"/>
<path class=o d="M3321 642l18 18l-33-28l-18 21z"/>
<path class=m d="M3303 678l18-36l-33 11l-18 61z"/>
<path class=h d="M3285 760l18-82l-33 36l-18 34z"/>
<path class=g d="M3267 793l18-33l-33-12l-18-28z"/>
<path class=i d="M3249 753l18 40l-33-73l-18-35z"/>
<path class=l d="M3231 706l18 47l-33-68l-18-12z"/>
<path class=n d="M3213 683l18 23l-33-33l-18-21z"/>
<path class=o d="M3195 666l18 17l-33-31l-18-21z"/>
<path class=p d="M3177 658l18 8l-33-35l-18 26z"/>
<path class=o d="M3159 678l18-20l-33-1l-18 51z"/>
<path class=k d="M3141 729l18-51l-33 30l-18 21z"/>
<path class=j d="M3123 750l18-21l-33 0l-18-34z"/>
<path class=m d="M3105 708l18 42l-33-55l-18-49z"/>
<path class=o d="M3087 668l18 40l-33-62l-18-18z"/>
<path class=p d="M3069 669l18-1l-33-40l-18 3zm-18 3l18-3l-33-38l-18 8zm-18-3l18 3l-33-33l-18 30z"/>
<path class=o d="M3015 699l18-30l-33 0l-18 53z"/>
<path class=l d="M2997 755l18-56l-33 23l-18 30z"/>
<path class=j d="M2979 783l18-28l-33-3l-18-8z"/>
<path class=k d="M2961 767l18 16l-33-39l-18-14z"/>
<path class=m d="M2943 751l18 16l-33-37l-18 1zm-18 0l18 0l-33-20l-18 0zm-18-6l18 6l-33-20l-18-3z"/>
<path class=n d="M2889 740l18 5l-33-17l-18 11z"/>
<path class=m d="M2871 758l18-18l-33-1l-18 9z"/>
<path class=t d="M3732 464l18-43l-33-42l-18 48z"/>
<path class=r d="M3714 505l18-41l-33-37l-18 47z"/>
<path class=q d="M3696 545l18-40l-33-31l-18 44z"/>
<path class=o d="M3678 584l18-39l-33-27l-18 44z"/>
<path class=n d="M3660 621l18-37l-33-22l-18 41z"/>
<path class=m d="M3642 632l18-11l-33-18l-18 6z"/>
<path class=n d="M3624 632l18 0l-33-23l-18 32z"/>
<path class=k d="M3606 671l18-39l-33 9l-18 58z"/>
<path class=h d="M3588 738l18-67l-33 28l-18 35z"/>
<path class=f d="M3570 771l18-33l-33-4l-18-7z"/>
<path class=h d="M3552 745l18 26l-33-44l-18-21z"/>
<path class=i d="M3534 723l18 22l-33-39l-18-8z"/>
<path class=j d="M3516 725l18-2l-33-25l-18-16z"/>
<path class=k d="M3498 713l18 12l-33-43l-18-18z"/>
<path class=l d="M3480 694l18 19l-33-49l-18 27z"/>
<path class=j d="M3462 719l18-25l-33-3l-18 57z"/>
<path class=g d="M3444 781l18-62l-33 29l-18 24z"/>
<path class=f d="M3426 799l18-18l-33-9l-18-28z"/>
<path class=i d="M3408 750l18 49l-33-55l-18-46z"/>
<path class=l d="M3390 701l18 49l-33-52l-18-23z"/>
<path class=m d="M3372 684l18 17l-33-26l-18-15z"/>
<path class=o d="M3354 664l18 20l-33-24l-18-18zm-19-7l19 7l-33-22l-18 36z"/>
<path class=l d="M3317 715l18-58l-32 21l-18 82z"/>
<path class=g d="M3299 799l18-84l-32 45l-18 33z"/>
<path class=f d="M3281 816l18-17l-32-6l-18-40z"/>
<path class=i d="M3263 767l18 49l-32-63l-18-47z"/>
<path class=l d="M3245 719l18 48l-32-61l-18-23z"/>
<path class=n d="M3227 700l18 19l-32-36l-18-17z"/>
<path class=o d="M3209 682l18 18l-32-34l-18-8z"/>
<path class=p d="M3191 661l18 21l-32-24l-18 20z"/>
<path class=n d="M3173 693l18-32l-32 17l-18 51z"/>
<path class=k d="M3155 756l18-63l-32 36l-18 21z"/>
<path class=j d="M3137 771l18-15l-32-6l-18-42z"/>
<path class=l d="M3119 737l18 34l-32-63l-18-40z"/>
<path class=n d="M3101 713l18 24l-32-69l-18 1z"/>
<path class=o d="M3083 706l18 7l-32-44l-18 3z"/>
<path class=p d="M3065 695l18 11l-32-34l-18-3zm-18-3l18 3l-32-26l-18 30z"/>
<path class=n d="M3029 729l18-37l-32 7l-18 56z"/>
<path class=k d="M3011 785l18-56l-32 26l-18 28z"/>
<path class=j d="M2993 799l18-14l-32-2l-18-16z"/>
<path class=l d="M2975 780l18 19l-32-32l-18-16z"/>
<path class=m d="M2957 768l18 12l-32-29l-18 0zm-18 0l18 0l-32-17l-18-6zm-18-5l18 5l-32-23l-18-5z"/>
<path class=l d="M2903 778l18-15l-32-23l-18 18z"/>
<path class=s d="M3764 504l18-33l-32-50l-18 43z"/>
<path class=q d="M3746 535l18-31l-32-40l-18 41z"/>
<path class=p d="M3728 566l18-31l-32-30l-18 40z"/>
<path class=o d="M3710 595l18-29l-32-21l-18 39z"/>
<path class=n d="M3692 623l18-28l-32-11l-18 37z"/>
<path class=m d="M3674 650l18-27l-32-2l-18 11zm-18 1l18-1l-32-18l-18 0zm-18 7l18-7l-32-19l-18 39z"/>
<path class=j d="M3620 714l18-56l-32 13l-18 67z"/>
<path class=f d="M3602 782l18-68l-32 24l-18 33z"/>
<path class=e d="M3584 793l18-11l-32-11l-18-26z"/>
<path class=g d="M3566 767l18 26l-32-48l-18-22z"/>
<path class=h d="M3548 759l18 8l-32-44l-18 2z"/>
<path class=i d="M3530 755l18 4l-32-34l-18-12z"/>
<path class=k d="M3512 718l18 37l-32-42l-18-19z"/>
<path class=m d="M3494 695l18 23l-32-24l-18 25z"/>
<path class=j d="M3476 741l18-46l-32 24l-18 62z"/>
<path class=f d="M3458 807l18-66l-32 40l-18 18zm-18 0l18 0l-32-8l-18-49z"/>
<path class=i d="M3422 757l18 50l-32-57l-18-49z"/>
<path class=l d="M3404 722l18 35l-32-56l-18-17z"/>
<path class=m d="M3386 708l18 14l-32-38l-18-20z"/>
<path class=n d="M3368 686l18 22l-32-44l-19-7zm-18 4l18-4l-33-29l-18 58z"/>
<path class=j d="M3332 758l18-68l-33 25l-18 84z"/>
<path class=f d="M3314 834l18-76l-33 41l-18 17zm-18 4l18-4l-33-18l-18-49z"/>
<path class=j d="M3278 777l18 61l-33-71l-18-48z"/>
<path class=m d="M3260 730l18 47l-33-58l-18-19zm-18-12l18 12l-33-30l-18-18z"/>
<path class=o d="M3224 693l18 25l-33-36l-18-21z"/>
<path class=p d="M3206 681l18 12l-33-32l-18 32z"/>
<path class=m d="M3188 725l18-44l-33 12l-18 63z"/>
<path class=i d="M3170 791l18-66l-33 31l-18 15zm-18 14l18-14l-33-20l-18-34z"/>
<path class=k d="M3134 768l18 37l-33-68l-18-24z"/>
<path class=m d="M3116 738l18 30l-33-55l-18-7z"/>
<path class=n d="M3098 728l18 10l-33-32l-18-11z"/>
<path class=o d="M3080 712l18 16l-33-33l-18-3z"/>
<path class=p d="M3062 714l18-2l-33-20l-18 37z"/>
<path class=m d="M3044 759l18-45l-33 15l-18 56z"/>
<path class=j d="M3026 809l18-50l-33 26l-18 14zm-18 10l18-10l-33-10l-18-19z"/>
<path class=k d="M2990 799l18 20l-33-39l-18-12z"/>
<path class=l d="M2972 791l18 8l-33-31l-18 0zm-18 0l18 0l-33-23l-18-5zm-18 7l18-7l-33-28l-18 15z"/>
<path class=q d="M3797 565l18-20l-33-74l-18 33z"/>
<path class=p d="M3779 585l18-20l-33-61l-18 31z"/>
<path class=n d="M3761 604l18-19l-33-50l-18 31zm-18 18l18-18l-33-38l-18 29z"/>
<path class=m d="M3725 639l18-17l-33-27l-18 28zm-18 17l18-17l-33-16l-18 27z"/>
<path class=l d="M3689 671l18-15l-33-6l-18 1z"/>
<path class=m d="M3671 678l18-7l-33-20l-18 7z"/>
<path class=l d="M3653 697l18-19l-33-20l-18 56z"/>
<path class=h d="M3635 760l18-63l-33 17l-18 68z"/>
<path class=e d="M3617 815l18-55l-33 22l-18 11zm-18-1l18 1l-33-22l-18-26z"/>
<path class=g d="M3581 785l18 29l-33-47l-18-8z"/>
<path class=i d="M3563 770l18 15l-33-26l-18-4z"/>
<path class=j d="M3545 747l18 23l-33-15l-18-37z"/>
<path class=m d="M3527 709l18 38l-33-29l-18-23z"/>
<path class=l d="M3509 712l18-3l-33-14l-18 46z"/>
<path class=h d="M3491 780l18-68l-33 29l-18 66z"/>
<path class=e d="M3473 843l18-63l-33 27l-18 0zm-18-8l18 8l-33-36l-18-50z"/>
<path class=i d="M3437 786l18 49l-33-78l-18-35z"/>
<path class=k d="M3419 755l18 31l-33-64l-18-14z"/>
<path class=l d="M3401 736l18 19l-33-47l-18-22z"/>
<path class=m d="M3383 718l18 18l-33-50l-18 4z"/>
<path class=l d="M3365 739l18-21l-33-28l-18 68z"/>
<path class=h d="M3347 814l18-75l-33 19l-18 76z"/>
<path class=d d="M3329 873l18-59l-33 20l-18 4z"/>
<path class=f d="M3311 840l18 33l-33-35l-18-61z"/>
<path class=j d="M3293 780l18 60l-33-63l-18-47z"/>
<path class=l d="M3275 765l18 15l-33-50l-18-12z"/>
<path class=m d="M3257 752l18 13l-33-47l-18-25z"/>
<path class=o d="M3239 715l18 37l-33-59l-18-12zm-18-6l18 6l-33-34l-18 44z"/>
<path class=k d="M3203 773l18-64l-33 16l-18 66z"/>
<path class=h d="M3185 836l18-63l-33 18l-18 14z"/>
<path class=i d="M3167 826l18 10l-33-31l-18-37z"/>
<path class=l d="M3149 781l18 45l-33-58l-18-30z"/>
<path class=m d="M3131 759l18 22l-33-43l-18-10z"/>
<path class=n d="M3113 748l18 11l-33-31l-18-16z"/>
<path class=o d="M3095 735l18 13l-33-36l-18 2z"/>
<path class=n d="M3077 752l18-17l-33-21l-18 45z"/>
<path class=k d="M3059 806l18-54l-33 7l-18 50z"/>
<path class=i d="M3041 848l18-42l-33 3l-18 10z"/>
<path class=j d="M3023 841l18 7l-33-29l-18-20z"/>
<path class=k d="M3004 819l19 22l-33-42l-18-8z"/>
<path class=l d="M2986 816l18 3l-32-28l-18 0z"/>
<path class=k d="M2968 819l18-3l-32-25l-18 7z"/>
<path class=n d="M3830 621l18-12l-33-64l-18 20zm-18 13l18-13l-33-56l-18 20z"/>
<path class=m d="M3794 646l18-12l-33-49l-18 19z"/>
<path class=l d="M3775 657l19-11l-33-42l-18 18zm-18 11l18-11l-32-35l-18 17zm-18 11l18-11l-32-29l-18 17zm-18 10l18-10l-32-23l-18 15zm-18 9l18-9l-32-18l-18 7zm-18 8l18-8l-32-20l-18 19z"/>
<path class=j d="M3667 738l18-32l-32-9l-18 63z"/>
<path class=f d="M3649 808l18-70l-32 22l-18 55z"/>
<path class=d d="M3631 848l18-40l-32 7l-18-1z"/>
<path class=f d="M3613 823l18 25l-32-34l-18-29z"/>
<path class=h d="M3595 790l18 33l-32-38l-18-15z"/>
<path class=i d="M3577 777l18 13l-32-20l-18-23z"/>
<path class=j d="M3559 758l18 19l-32-30l-18-38z"/>
<path class=l d="M3541 733l18 25l-32-49l-18 3z"/>
<path class=k d="M3523 761l18-28l-32-21l-18 68z"/>
<path class=e d="M3505 845l18-84l-32 19l-18 63z"/>
<path class=c d="M3487 892l18-47l-32-2l-18-8z"/>
<path class=e d="M3469 860l18 32l-32-57l-18-49z"/>
<path class=i d="M3451 805l18 55l-32-74l-18-31z"/>
<path class=j d="M3433 776l18 29l-32-50l-18-19z"/>
<path class=l d="M3415 760l18 16l-32-40l-18-18z"/>
<path class=m d="M3397 752l18 8l-32-42l-18 21z"/>
<path class=j d="M3379 789l18-37l-32-13l-18 75z"/>
<path class=f d="M3361 860l18-71l-32 25l-18 59z"/>
<path class=e d="M3343 882l18-22l-32 13l-18-33z"/>
<path class=g d="M3325 841l18 41l-32-42l-18-60z"/>
<path class=j d="M3307 807l18 34l-32-61l-18-15z"/>
<path class=k d="M3289 792l18 15l-32-42l-18-13z"/>
<path class=m d="M3271 767l18 25l-32-40l-18-37z"/>
<path class=n d="M3253 738l18 29l-32-52l-18-6z"/>
<path class=m d="M3235 764l18-26l-32-29l-18 64z"/>
<path class=h d="M3217 842l18-78l-32 9l-18 63z"/>
<path class=f d="M3199 875l18-33l-32-6l-18-10z"/>
<path class=i d="M3181 839l18 36l-32-49l-18-45z"/>
<path class=k d="M3163 801l18 38l-32-58l-18-22z"/>
<path class=l d="M3145 787l18 14l-32-42l-18-11z"/>
<path class=m d="M3127 780l18 7l-32-39l-18-13z"/>
<path class=n d="M3109 777l18 3l-32-45l-18 17z"/>
<path class=l d="M3091 806l18-29l-32-25l-18 54z"/>
<path class=i d="M3073 859l18-53l-32 0l-18 42z"/>
<path class=h d="M3055 879l18-20l-32-11l-18-7z"/>
<path class=i d="M3037 859l18 20l-32-38l-19-22z"/>
<path class=k d="M3019 845l18 14l-33-40l-18-3zm-18 0l18 0l-33-29l-18 3z"/>
<path class=m d="M3862 668l18-5l-32-54l-18 12zm-18-4l18 4l-32-47l-18 13z"/>
<path class=l d="M3826 688l18-24l-32-30l-18 12z"/>
<path class=k d="M3808 696l18-8l-32-42l-19 11zm-18 8l18-8l-33-39l-18 11zm-18 8l18-8l-33-36l-18 11zm-18 7l18-7l-33-33l-18 10zm-18 7l18-7l-33-30l-18 9zm-18 5l18-5l-33-28l-18 8zm-18 1l18-1l-33-25l-18 32z"/>
<path class=h d="M3682 789l18-57l-33 6l-18 70z"/>
<path class=d d="M3664 862l18-73l-33 19l-18 40z"/>
<path class=c d="M3646 871l18-9l-33-14l-18-25z"/>
<path class=f d="M3628 831l18 40l-33-48l-18-33z"/>
<path class=h d="M3610 800l18 31l-33-41l-18-13z"/>
<path class=i d="M3592 792l18 8l-33-23l-18-19z"/>
<path class=j d="M3574 775l18 17l-33-34l-18-25z"/>
<path class=k d="M3556 770l18 5l-33-42l-18 28z"/>
<path class=h d="M3538 824l18-54l-33-9l-18 84z"/>
<path class=c d="M3520 904l18-80l-33 21l-18 47z"/>
<path class=b d="M3502 921l18-17l-33-12l-18-32z"/>
<path class=f d="M3484 863l18 58l-33-61l-18-55z"/>
<path class=i d="M3466 811l18 52l-33-58l-18-29z"/>
<path class=j d="M3448 800l18 11l-33-35l-18-16z"/>
<path class=k d="M3430 790l18 10l-33-40l-18-8zm-18-3l18 3l-33-38l-18 37z"/>
<path class=i d="M3394 835l18-48l-33 2l-18 71z"/>
<path class=e d="M3376 897l18-62l-33 25l-18 22z"/>
<path class=d d="M3358 901l18-4l-33-15l-18-41z"/>
<path class=h d="M3340 853l18 48l-33-60l-18-34z"/>
<path class=j d="M3322 819l18 34l-33-46l-18-15z"/>
<path class=k d="M3304 808l18 11l-33-27l-18-25z"/>
<path class=m d="M3286 784l18 24l-33-41l-18-29zm-18-7l18 7l-33-46l-18 26z"/>
<path class=j d="M3250 835l18-58l-33-13l-18 78z"/>
<path class=f d="M3232 894l18-59l-33 7l-18 33zm-18-1l18 1l-33-19l-18-36z"/>
<path class=i d="M3196 856l18 37l-33-54l-18-38z"/>
<path class=k d="M3178 833l18 23l-33-55l-18-14zm-18-3l18 3l-33-46l-18-7z"/>
<path class=l d="M3142 820l18 10l-33-50l-18-3zm-18 1l18-1l-33-43l-18 29z"/>
<path class=j d="M3106 862l18-41l-33-15l-18 53z"/>
<path class=h d="M3088 900l18-38l-33-3l-18 20zm-18-3l18 3l-33-21l-18-20z"/>
<path class=i d="M3052 879l18 18l-33-38l-18-14z"/>
<path class=j d="M3034 872l18 7l-33-34l-18 0z"/>
<path class=l d="M3895 686l18-4l-33-19l-18 5z"/>
<path class=m d="M3877 680l18 6l-33-18l-18-4z"/>
<path class=l d="M3859 690l18-10l-33-16l-18 24z"/>
<path class=j d="M3841 735l18-45l-33-2l-18 8z"/>
<path class=g d="M3823 790l18-55l-33-39l-18 8z"/>
<path class=f d="M3805 806l18-16l-33-86l-18 8z"/>
<path class=h d="M3787 780l18 26l-33-94l-18 7z"/>
<path class=j d="M3769 762l18 18l-33-61l-18 7zm-18-9l18 9l-33-36l-18 5z"/>
<path class=l d="M3733 736l18 17l-33-22l-18 1z"/>
<path class=j d="M3715 767l18-31l-33-4l-18 57z"/>
<path class=f d="M3697 845l18-78l-33 22l-18 73z"/>
<path class=c d="M3679 893l18-48l-33 17l-18 9z"/>
<path class=e d="M3661 866l18 27l-33-22l-18-40z"/>
<path class=h d="M3643 811l18 55l-33-35l-18-31z"/>
<path class=i d="M3625 799l18 12l-33-11l-18-8zm-18 8l18-8l-33-7l-18-17z"/>
<path class=j d="M3589 795l18 12l-33-32l-18-5zm-18 14l18-14l-33-25l-18 54z"/>
<path class=e d="M3553 887l18-78l-33 15l-18 80z"/>
<path class=a d="M3535 948l18-61l-33 17l-18 17z"/>
<path class=c d="M3517 919l18 29l-33-27l-18-58z"/>
<path class=g d="M3499 855l18 64l-33-56l-18-52z"/>
<path class=i d="M3481 832l18 23l-33-44l-18-11zm-18-2l18 2l-33-32l-18-10z"/>
<path class=k d="M3445 808l18 22l-33-40l-18-3z"/>
<path class=j d="M3426 819l19-11l-33-21l-18 48z"/>
<path class=f d="M3408 892l18-73l-32 16l-18 62z"/>
<path class=c d="M3390 943l18-51l-32 5l-18 4z"/>
<path class=e d="M3372 918l18 25l-32-42l-18-48z"/>
<path class=h d="M3354 867l18 51l-32-65l-18-34z"/>
<path class=j d="M3336 841l18 26l-32-48l-18-11z"/>
<path class=k d="M3318 821l18 20l-32-33l-18-24z"/>
<path class=l d="M3300 802l18 19l-32-37l-18-7z"/>
<path class=k d="M3282 827l18-25l-32-25l-18 58z"/>
<path class=h d="M3264 886l18-59l-32 8l-18 59z"/>
<path class=e d="M3246 922l18-36l-32 8l-18-1z"/>
<path class=f d="M3228 910l18 12l-32-29l-18-37z"/>
<path class=i d="M3210 881l18 29l-32-54l-18-23zm-18-9l18 9l-32-48l-18-3z"/>
<path class=j d="M3174 863l18 9l-32-42l-18-10z"/>
<path class=k d="M3156 852l18 11l-32-43l-18 1z"/>
<path class=j d="M3138 874l18-22l-32-31l-18 41z"/>
<path class=h d="M3120 915l18-41l-32-12l-18 38z"/>
<path class=g d="M3102 933l18-18l-32-15l-18-3z"/>
<path class=h d="M3084 919l18 14l-32-36l-18-18z"/>
<path class=i d="M3066 903l18 16l-32-40l-18-7z"/>
<path class=m d="M3927 672l18-33l-32 43l-18 4z"/>
<path class=l d="M3909 695l18-23l-32 14l-18-6z"/>
<path class=m d="M3891 691l18 4l-32-15l-18 10z"/>
<path class=k d="M3873 721l18-30l-32-1l-18 45z"/>
<path class=h d="M3855 786l18-65l-32 14l-18 55z"/>
<path class=f d="M3837 828l18-42l-32 4l-18 16z"/>
<path class=g d="M3819 814l18 14l-32-22l-18-26z"/>
<path class=i d="M3801 789l18 25l-32-34l-18-18z"/>
<path class=j d="M3783 776l18 13l-32-27l-18-9z"/>
<path class=k d="M3765 757l18 19l-32-23l-18-17zm-18 3l18-3l-32-21l-18 31z"/>
<path class=h d="M3729 819l18-59l-32 7l-18 78z"/>
<path class=d d="M3711 888l18-69l-32 26l-18 48zm-18 1l18-1l-32 5l-18-27z"/>
<path class=g d="M3675 832l18 57l-32-23l-18-55z"/>
<path class=i d="M3657 806l18 26l-32-21l-18-12zm-18 18l18-18l-32-7l-18 8zm-18-3l18 3l-32-17l-18-12z"/>
<path class=j d="M3603 806l18 15l-32-26l-18 14z"/>
<path class=g d="M3585 855l18-49l-32 3l-18 78z"/>
<path class=b d="M3567 940l18-85l-32 32l-18 61z"/>
<path class=a d="M3549 959l18-19l-32 8l-18-29z"/>
<path class=e d="M3531 904l18 55l-32-40l-18-64z"/>
<path class=h d="M3513 862l18 42l-32-49l-18-23zm-18-6l18 6l-32-30l-18-2z"/>
<path class=j d="M3477 833l18 23l-32-26l-18-22z"/>
<path class=k d="M3459 820l18 13l-32-25l-19 11z"/>
<path class=h d="M3441 874l18-54l-33-1l-18 73z"/>
<path class=c d="M3423 953l18-79l-33 18l-18 51z"/>
<path class=b d="M3405 976l18-23l-33-10l-18-25z"/>
<path class=e d="M3387 931l18 45l-33-58l-18-51z"/>
<path class=h d="M3369 881l18 50l-33-64l-18-26z"/>
<path class=j d="M3351 859l18 22l-33-40l-18-20z"/>
<path class=k d="M3333 839l18 20l-33-38l-18-19zm-18-3l18 3l-33-37l-18 25z"/>
<path class=i d="M3297 878l18-42l-33-9l-18 59z"/>
<path class=e d="M3279 935l18-57l-33 8l-18 36zm-18 17l18-17l-33-13l-18-12z"/>
<path class=g d="M3243 922l18 30l-33-42l-18-29z"/>
<path class=h d="M3225 902l18 20l-33-41l-18-9z"/>
<path class=i d="M3207 900l18 2l-33-30l-18-9zm-18-7l18 7l-33-37l-18-11zm-18 4l18-4l-33-41l-18 22z"/>
<path class=h d="M3153 932l18-35l-33-23l-18 41z"/>
<path class=f d="M3135 964l18-32l-33-17l-18 18zm-18-4l18 4l-33-31l-18-14z"/>
<path class=h d="M3099 936l18 24l-33-41l-18-16z"/>
<path class=p d="M3960 636l18-109l-33 112l-18 33z"/>
<path class=l d="M3942 712l18-76l-33 36l-18 23z"/>
<path class=m d="M3924 701l18 11l-33-17l-18-4z"/>
<path class=l d="M3906 716l18-15l-33-10l-18 30z"/>
<path class=i d="M3888 777l18-61l-33 5l-18 65z"/>
<path class=f d="M3870 838l18-61l-33 9l-18 42zm-18 2l18-2l-33-10l-18-14z"/>
<path class=h d="M3834 811l18 29l-33-26l-18-25z"/>
<path class=i d="M3816 800l18 11l-33-22l-18-13z"/>
<path class=j d="M3798 794l18 6l-33-24l-18-19z"/>
<path class=k d="M3780 783l18 11l-33-37l-18 3z"/>
<path class=j d="M3762 805l18-22l-33-23l-18 59z"/>
<path class=f d="M3744 868l18-63l-33 14l-18 69z"/>
<path class=c d="M3726 905l18-37l-33 20l-18 1z"/>
<path class=e d="M3708 876l18 29l-33-16l-18-57z"/>
<path class=h d="M3690 836l18 40l-33-44l-18-26zm-18 1l18-1l-33-30l-18 18z"/>
<path class=i d="M3654 839l18-2l-33-13l-18-3z"/>
<path class=j d="M3636 819l18 20l-33-18l-18-15z"/>
<path class=i d="M3618 834l18-15l-33-13l-18 49z"/>
<path class=e d="M3600 917l18-83l-33 21l-18 85z"/>
<path class=a d="M3582 981l18-64l-33 23l-18 19z"/>
<path class=b d="M3564 957l18 24l-33-22l-18-55z"/>
<path class=f d="M3546 902l18 55l-33-53l-18-42z"/>
<path class=g d="M3528 884l18 18l-33-40l-18-6z"/>
<path class=i d="M3510 868l18 16l-33-28l-18-23z"/>
<path class=k d="M3492 839l18 29l-33-35l-18-13z"/>
<path class=j d="M3474 858l18-19l-33-19l-18 54z"/>
<path class=e d="M3456 941l18-83l-33 16l-18 79z"/>
<path class=a d="M3438 1006l18-65l-33 12l-18 23z"/>
<path class=c d="M3420 982l18 24l-33-30l-18-45z"/>
<path class=f d="M3402 921l18 61l-33-51l-18-50z"/>
<path class=i d="M3384 887l18 34l-33-40l-18-22z"/>
<path class=j d="M3366 867l18 20l-33-28l-18-20z"/>
<path class=k d="M3348 856l18 11l-33-28l-18-3z"/>
<path class=i d="M3330 886l18-30l-33-20l-18 42z"/>
<path class=f d="M3312 950l18-64l-33-8l-18 57z"/>
<path class=c d="M3294 990l18-40l-33-15l-18 17z"/>
<path class=e d="M3276 966l18 24l-33-38l-18-30z"/>
<path class=g d="M3258 932l18 34l-33-44l-18-20z"/>
<path class=h d="M3240 928l18 4l-33-30l-18-2zm-18-2l18 2l-33-28l-18-7z"/>
<path class=i d="M3204 924l18 2l-33-33l-18 4z"/>
<path class=g d="M3186 947l18-23l-33-27l-18 35z"/>
<path class=f d="M3168 981l18-34l-33-15l-18 32z"/>
<path class=e d="M3150 990l18-9l-33-17l-18-4z"/>
<path class=g d="M3132 965l18 25l-33-30l-18-24z"/>
<path class=p d="M3993 638l18-121l-33 10l-18 109z"/>
<path class=l d="M3975 722l18-84l-33-2l-18 76z"/>
<path class=m d="M3957 716l18 6l-33-10l-18-11zm-18 5l18-5l-33-15l-18 15z"/>
<path class=j d="M3921 770l18-49l-33-5l-18 61z"/>
<path class=f d="M3903 837l18-67l-33 7l-18 61zm-18 15l18-15l-33 1l-18 2z"/>
<path class=h d="M3867 819l18 33l-33-12l-18-29z"/>
<path class=i d="M3848 801l19 18l-33-8l-18-11zm-18 7l18-7l-32-1l-18-6z"/>
<path class=j d="M3812 799l18 9l-32-14l-18-11z"/>
<path class=k d="M3794 793l18 6l-32-16l-18 22z"/>
<path class=h d="M3776 838l18-45l-32 12l-18 63z"/>
<path class=d d="M3758 903l18-65l-32 30l-18 37zm-18 13l18-13l-32 2l-18-29z"/>
<path class=f d="M3722 884l18 32l-32-40l-18-40z"/>
<path class=h d="M3704 863l18 21l-32-48l-18 1zm-18-4l18 4l-32-26l-18 2z"/>
<path class=i d="M3668 846l18 13l-32-20l-18-20z"/>
<path class=j d="M3650 844l18 2l-32-27l-18 15z"/>
<path class=f d="M3632 906l18-62l-32-10l-18 83z"/>
<path class=a d="M3614 990l18-84l-32 11l-18 64zm-18 11l18-11l-32-9l-18-24z"/>
<path class=d d="M3578 951l18 50l-32-44l-18-55z"/>
<path class=f d="M3560 921l18 30l-32-49l-18-18z"/>
<path class=g d="M3542 907l18 14l-32-37l-18-16z"/>
<path class=i d="M3524 872l18 35l-32-39l-18-29z"/>
<path class=j d="M3506 858l18 14l-32-33l-18 19z"/>
<path class=g d="M3488 922l18-64l-32 0l-18 83z"/>
<path class=b d="M3470 1007l18-85l-32 19l-18 65z"/>
<path class=a d="M3452 1011l18-4l-32-1l-18-24z"/>
<path class=e d="M3434 950l18 61l-32-29l-18-61z"/>
<path class=h d="M3416 905l18 45l-32-29l-18-34z"/>
<path class=i d="M3398 889l18 16l-32-18l-18-20z"/>
<path class=j d="M3380 880l18 9l-32-22l-18-11zm-18 16l18-16l-32-24l-18 30z"/>
<path class=f d="M3344 954l18-58l-32-10l-18 64z"/>
<path class=c d="M3326 1012l18-58l-32-4l-18 40zm-18-4l18 4l-32-22l-18-24z"/>
<path class=f d="M3290 969l18 39l-32-42l-18-34z"/>
<path class=g d="M3272 950l18 19l-32-37l-18-4z"/>
<path class=h d="M3254 947l18 3l-32-22l-18-2zm-18 1l18-1l-32-21l-18-2z"/>
<path class=g d="M3218 960l18-12l-32-24l-18 23z"/>
<path class=f d="M3200 986l18-26l-32-13l-18 34z"/>
<path class=e d="M3182 1009l18-23l-32-5l-18 9z"/>
<path class=f d="M3164 991l18 18l-32-19l-18-25z"/>
<path class=o d="M4025 659l18-89l-32-53l-18 121z"/>
<path class=m d="M4007 722l18-63l-32-21l-18 84zm-18 1l18-1l-32 0l-18-6zm-18 1l18-1l-32-7l-18 5z"/>
<path class=k d="M3953 759l18-35l-32-3l-18 49z"/>
<path class=h d="M3935 823l18-64l-32 11l-18 67z"/>
<path class=f d="M3917 851l18-28l-32 14l-18 15z"/>
<path class=h d="M3899 823l18 28l-32 1l-18-33z"/>
<path class=j d="M3881 798l18 25l-32-4l-19-18zm-18 7l18-7l-33 3l-18 7zm-18-3l18 3l-33 3l-18-9z"/>
<path class=l d="M3827 784l18 18l-33-3l-18-6z"/>
<path class=j d="M3809 810l18-26l-33 9l-18 45z"/>
<path class=f d="M3791 888l18-78l-33 28l-18 65z"/>
<path class=c d="M3773 938l18-50l-33 15l-18 13z"/>
<path class=d d="M3755 919l18 19l-33-22l-18-32z"/>
<path class=g d="M3737 885l18 34l-33-35l-18-21z"/>
<path class=h d="M3719 876l18 9l-33-22l-18-4zm-18-4l18 4l-33-17l-18-13z"/>
<path class=i d="M3683 865l18 7l-33-26l-18-2z"/>
<path class=g d="M3665 898l18-33l-33-21l-18 62z"/>
<path class=c d="M3647 978l18-80l-33 8l-18 84z"/>
<path class=a d="M3629 1025l18-47l-33 12l-18 11z"/>
<path class=b d="M3611 996l18 29l-33-24l-18-50z"/>
<path class=e d="M3593 954l18 42l-33-45l-18-30z"/>
<path class=f d="M3575 929l18 25l-33-33l-18-14z"/>
<path class=h d="M3557 896l18 33l-33-22l-18-35z"/>
<path class=j d="M3539 866l18 30l-33-24l-18-14z"/>
<path class=i d="M3521 900l18-34l-33-8l-18 64z"/>
<path class=d d="M3503 981l18-81l-33 22l-18 85z"/>
<path class=b d="M3485 1011l18-30l-33 26l-18 4z"/>
<path class=e d="M3467 970l18 41l-33 0l-18-61z"/>
<path class=h d="M3449 924l18 46l-33-20l-18-45z"/>
<path class=i d="M3431 910l18 14l-33-19l-18-16zm-18-8l18 8l-33-21l-18-9z"/>
<path class=j d="M3395 900l18 2l-33-22l-18 16z"/>
<path class=h d="M3377 939l18-39l-33-4l-18 58z"/>
<path class=d d="M3359 1000l18-61l-33 15l-18 58z"/>
<path class=c d="M3341 1019l18-19l-33 12l-18-4z"/>
<path class=e d="M3323 988l18 31l-33-11l-18-39z"/>
<path class=g d="M3305 957l18 31l-33-19l-18-19z"/>
<path class=h d="M3287 952l18 5l-33-7l-18-3zm-18 8l18-8l-33-5l-18 1zm-18 6l18-6l-33-12l-18 12z"/>
<path class=g d="M3233 986l18-20l-33-6l-18 26z"/>
<path class=e d="M3215 1018l18-32l-33 0l-18 23z"/>
<path class=f d="M3197 1011l18 7l-33-9l-18-18z"/>
<path class=p d="M4058 662l18-81l-33-11l-18 89z"/>
<path class=m d="M4040 718l18-56l-33-3l-18 63zm-18 6l18-6l-33 4l-18 1zm-18 3l18-3l-33-1l-18 1z"/>
<path class=l d="M3986 750l18-23l-33-3l-18 35z"/>
<path class=i d="M3968 805l18-55l-33 9l-18 64z"/>
<path class=g d="M3950 840l18-35l-33 18l-18 28z"/>
<path class=h d="M3932 829l18 11l-33 11l-18-28z"/>
<path class=j d="M3914 802l18 27l-33-6l-18-25z"/>
<path class=k d="M3896 800l18 2l-33-4l-18 7zm-18 3l18-3l-33 5l-18-3z"/>
<path class=l d="M3860 787l18 16l-33-1l-18-18zm-18 11l18-11l-33-3l-18 26z"/>
<path class=g d="M3824 870l18-72l-33 12l-18 78z"/>
<path class=d d="M3806 937l18-67l-33 18l-18 50zm-18-4l18 4l-33 1l-18-19z"/>
<path class=g d="M3770 898l18 35l-33-14l-18-34z"/>
<path class=h d="M3752 880l18 18l-33-13l-18-9zm-18-2l18 2l-33-4l-18-4z"/>
<path class=i d="M3716 874l18 4l-33-6l-18-7zm-18 11l18-11l-33-9l-18 33z"/>
<path class=e d="M3680 950l18-65l-33 13l-18 80z"/>
<path class=a d="M3662 1019l18-69l-33 28l-18 47zm-18-5l18 5l-33 6l-18-29z"/>
<path class=e d="M3626 962l18 52l-33-18l-18-42z"/>
<path class=g d="M3608 926l18 36l-33-8l-18-25z"/>
<path class=i d="M3590 902l18 24l-33 3l-18-33z"/>
<path class=j d="M3572 875l18 27l-33-6l-18-30zm-18 10l18-10l-33-9l-18 34z"/>
<path class=f d="M3536 949l18-64l-33 15l-18 81z"/>
<path class=c d="M3518 998l18-49l-33 32l-18 30z"/>
<path class=d d="M3499 985l19 13l-33 13l-18-41z"/>
<path class=g d="M3481 942l18 43l-32-15l-18-46z"/>
<path class=i d="M3463 921l18 21l-32-18l-18-14zm-18-8l18 8l-32-11l-18-8z"/>
<path class=j d="M3427 901l18 12l-32-11l-18-2zm-18 13l18-13l-32-1l-18 39z"/>
<path class=g d="M3391 962l18-48l-32 25l-18 61z"/>
<path class=e d="M3373 993l18-31l-32 38l-18 19z"/>
<path class=f d="M3355 977l18 16l-32 26l-18-31z"/>
<path class=h d="M3337 947l18 30l-32 11l-18-31z"/>
<path class=i d="M3319 941l18 6l-32 10l-18-5zm-18 9l18-9l-32 11l-18 8zm-18 4l18-4l-32 10l-18 6z"/>
<path class=h d="M3265 972l18-18l-32 12l-18 20z"/>
<path class=f d="M3247 1007l18-35l-32 14l-18 32zm-18 0l18 0l-32 11l-18-7z"/>
<path class=q d="M4090 658l18-62l-32-15l-18 81z"/>
<path class=o d="M4072 702l18-44l-32 4l-18 56zm-18 4l18-4l-32 16l-18 6zm-18 7l18-7l-32 18l-18 3z"/>
<path class=n d="M4018 731l18-18l-32 14l-18 23z"/>
<path class=l d="M4000 773l18-42l-32 19l-18 55z"/>
<path class=j d="M3982 808l18-35l-32 32l-18 35zm-18-1l18 1l-32 32l-18-11z"/>
<path class=l d="M3946 782l18 25l-32 22l-18-27z"/>
<path class=m d="M3928 771l18 11l-32 20l-18-2zm-18 1l18-1l-32 29l-18 3z"/>
<path class=n d="M3892 763l18 9l-32 31l-18-16z"/>
<path class=m d="M3874 780l18-17l-32 24l-18 11z"/>
<path class=j d="M3856 835l18-55l-32 18l-18 72z"/>
<path class=f d="M3838 899l18-64l-32 35l-18 67z"/>
<path class=e d="M3820 922l18-23l-32 38l-18-4z"/>
<path class=g d="M3802 903l18 19l-32 11l-18-35z"/>
<path class=h d="M3784 879l18 24l-32-5l-18-18z"/>
<path class=i d="M3766 875l18 4l-32 1l-18-2zm-18 0l18 0l-32 3l-18-4z"/>
<path class=j d="M3730 874l18 1l-32-1l-18 11z"/>
<path class=g d="M3712 921l18-47l-32 11l-18 65z"/>
<path class=c d="M3694 991l18-70l-32 29l-18 69z"/>
<path class=b d="M3676 1003l18-12l-32 28l-18-5z"/>
<path class=f d="M3658 955l18 48l-32 11l-18-52z"/>
<path class=h d="M3640 914l18 41l-32 7l-18-36z"/>
<path class=i d="M3622 899l18 15l-32 12l-18-24z"/>
<path class=j d="M3604 880l18 19l-32 3l-18-27z"/>
<path class=k d="M3586 875l18 5l-32-5l-18 10z"/>
<path class=h d="M3568 921l18-46l-32 10l-18 64z"/>
<path class=e d="M3550 982l18-61l-32 28l-18 49z"/>
<path class=d d="M3532 992l18-10l-32 16l-19-13z"/>
<path class=g d="M3514 954l18 38l-33-7l-18-43z"/>
<path class=i d="M3496 924l18 30l-33-12l-18-21z"/>
<path class=j d="M3478 914l18 10l-33-3l-18-8z"/>
<path class=k d="M3460 897l18 17l-33-1l-18-12zm-18-7l18 7l-33 4l-18 13z"/>
<path class=j d="M3424 920l18-30l-33 24l-18 48z"/>
<path class=h d="M3406 954l18-34l-33 42l-18 31zm-18-2l18 2l-33 39l-18-16z"/>
<path class=j d="M3370 925l18 27l-33 25l-18-30z"/>
<path class=k d="M3352 913l18 12l-33 22l-18-6zm-18 3l18-3l-33 28l-18 9zm-18 4l18-4l-33 34l-18 4zm-18 18l18-18l-33 34l-18 18z"/>
<path class=i d="M3280 968l18-30l-33 34l-18 35zm-18 4l18-4l-33 39l-18 0z"/>
<path class=r d="M4123 634l18-57l-33 19l-18 62z"/>
<path class=q d="M4105 674l18-40l-33 24l-18 44zm-18-3l18 3l-33 28l-18 4zm-18 9l18-9l-33 35l-18 7z"/>
<path class=p d="M4051 695l18-15l-33 33l-18 18z"/>
<path class=o d="M4033 728l18-33l-33 36l-18 42z"/>
<path class=m d="M4015 757l18-29l-33 45l-18 35zm-18 4l18-4l-33 51l-18-1z"/>
<path class=n d="M3979 739l18 22l-33 46l-18-25z"/>
<path class=o d="M3961 726l18 13l-33 43l-18-11z"/>
<path class=p d="M3943 717l18 9l-33 45l-18 1z"/>
<path class=q d="M3925 703l18 14l-33 55l-18-9z"/>
<path class=o d="M3907 741l18-38l-33 60l-18 17z"/>
<path class=m d="M3889 780l18-39l-33 39l-18 55z"/>
<path class=j d="M3871 833l18-53l-33 55l-18 64z"/>
<path class=h d="M3853 886l18-53l-33 66l-18 23zm-18 7l18-7l-33 36l-18-19z"/>
<path class=i d="M3817 877l18 16l-33 10l-18-24z"/>
<path class=j d="M3799 873l18 4l-33 2l-18-4zm-18 0l18 0l-33 2l-18 0z"/>
<path class=k d="M3763 867l18 6l-33 2l-18-1z"/>
<path class=i d="M3745 894l18-27l-33 7l-18 47z"/>
<path class=f d="M3727 950l18-56l-33 27l-18 70z"/>
<path class=d d="M3709 974l18-24l-33 41l-18 12z"/>
<path class=g d="M3691 939l18 35l-33 29l-18-48z"/>
<path class=i d="M3673 899l18 40l-33 16l-18-41z"/>
<path class=j d="M3655 891l18 8l-33 15l-18-15z"/>
<path class=k d="M3637 882l18 9l-33 8l-18-19z"/>
<path class=l d="M3619 870l18 12l-33-2l-18-5z"/>
<path class=j d="M3601 898l18-28l-33 5l-18 46z"/>
<path class=g d="M3583 959l18-61l-33 23l-18 61z"/>
<path class=e d="M3565 983l18-24l-33 23l-18 10z"/>
<path class=h d="M3547 950l18 33l-33 9l-18-38z"/>
<path class=j d="M3529 914l18 36l-33 4l-18-30z"/>
<path class=k d="M3511 902l18 12l-33 10l-18-10z"/>
<path class=l d="M3493 889l18 13l-33 12l-18-17z"/>
<path class=m d="M3475 874l18 15l-33 8l-18-7z"/>
<path class=l d="M3457 892l18-18l-33 16l-18 30z"/>
<path class=j d="M3439 924l18-32l-33 28l-18 34zm-18 3l18-3l-33 30l-18-2z"/>
<path class=l d="M3403 902l18 25l-33 25l-18-27z"/>
<path class=n d="M3385 884l18 18l-33 23l-18-12zm-18 0l18 0l-33 29l-18 3zm-18 7l18-7l-33 32l-18 4zm-18 16l18-16l-33 29l-18 18z"/>
<path class=l d="M3313 932l18-25l-33 31l-18 30zm-18 8l18-8l-33 36l-18 4z"/>
<path class=t d="M4156 607l18-32l-33 2l-18 57z"/>
<path class=s d="M4138 629l18-22l-33 27l-18 40z"/>
<path class=t d="M4120 614l18 15l-33 45l-18-3zm-18 12l18-12l-33 57l-18 9z"/>
<path class=s d="M4084 643l18-17l-33 54l-18 15z"/>
<path class=r d="M4066 669l18-26l-33 52l-18 33z"/>
<path class=q d="M4048 681l18-12l-33 59l-18 29zm-18 0l18 0l-33 76l-18 4z"/>
<path class=r d="M4012 664l18 17l-33 80l-18-22z"/>
<path class=s d="M3994 653l18 11l-33 75l-18-13z"/>
<path class=u d="M3976 631l18 22l-33 73l-18-9z"/>
<path class=v d="M3958 603l18 28l-33 86l-18-14z"/>
<path class=s d="M3939 674l19-71l-33 100l-18 38z"/>
<path class=r d="M3921 706l18-32l-32 67l-18 39z"/>
<path class=o d="M3903 744l18-38l-32 74l-18 53z"/>
<path class=k d="M3885 831l18-87l-32 89l-18 53z"/>
<path class=i d="M3867 874l18-43l-32 55l-18 7z"/>
<path class=j d="M3849 876l18-2l-32 19l-18-16zm-18-3l18 3l-32 1l-18-4zm-18 0l18 0l-32 0l-18 0z"/>
<path class=k d="M3795 866l18 7l-32 0l-18-6zm-18 12l18-12l-32 1l-18 27z"/>
<path class=h d="M3759 916l18-38l-32 16l-18 56z"/>
<path class=g d="M3741 944l18-28l-32 34l-18 24z"/>
<path class=h d="M3723 923l18 21l-32 30l-18-35z"/>
<path class=k d="M3705 887l18 36l-32 16l-18-40z"/>
<path class=l d="M3687 879l18 8l-32 12l-18-8zm-18 0l18 0l-32 12l-18-9z"/>
<path class=m d="M3651 870l18 9l-32 3l-18-12z"/>
<path class=l d="M3633 883l18-13l-32 0l-18 28z"/>
<path class=i d="M3615 933l18-50l-32 15l-18 61z"/>
<path class=h d="M3597 963l18-30l-32 26l-18 24z"/>
<path class=i d="M3579 939l18 24l-32 20l-18-33z"/>
<path class=l d="M3561 904l18 35l-32 11l-18-36z"/>
<path class=m d="M3543 891l18 13l-32 10l-18-12zm-18-10l18 10l-32 11l-18-13z"/>
<path class=n d="M3507 865l18 16l-32 8l-18-15zm-18 7l18-7l-32 9l-18 18z"/>
<path class=m d="M3471 897l18-25l-32 20l-18 32zm-18 5l18-5l-32 27l-18 3z"/>
<path class=o d="M3435 881l18 21l-32 25l-18-25z"/>
<path class=q d="M3417 863l18 18l-32 21l-18-18z"/>
<path class=r d="M3399 864l18-1l-32 21l-18 0zm-18 10l18-10l-32 20l-18 7zm-18 15l18-15l-32 17l-18 16z"/>
<path class=q d="M3345 908l18-19l-32 18l-18 25z"/>
<path class=p d="M3327 919l18-11l-32 24l-18 8z"/>
<path class=t d="M4188 613l18 10l-32-48l-18 32z"/>
<path class=v d="M4170 591l18 22l-32-6l-18 22z"/>
<path class=w d="M4152 564l18 27l-32 38l-18-15zm-18 15l18-15l-32 50l-18 12z"/>
<path class=v d="M4116 603l18-24l-32 47l-18 17z"/>
<path class=u d="M4098 626l18-23l-32 40l-18 26zm-18-11l18 11l-32 43l-18 12z"/>
<path class=v d="M4062 604l18 11l-32 66l-18 0zm-18-11l18 11l-32 77l-18-17z"/>
<path class=w d="M4026 589l18 4l-32 71l-18-11z"/>
<path class=y d="M4008 554l18 35l-32 64l-18-22z"/>
<path class=aa d="M3990 516l18 38l-32 77l-18-28z"/>
<path class=v d="M3972 625l18-109l-32 87l-19 71z"/>
<path class=u d="M3954 656l18-31l-33 49l-18 32z"/>
<path class=t d="M3936 675l18-19l-33 50l-18 38z"/>
<path class=n d="M3918 786l18-111l-33 69l-18 87z"/>
<path class=j d="M3900 861l18-75l-33 45l-18 43zm-18 19l18-19l-33 13l-18 2zm-18-3l18 3l-33-4l-18-3z"/>
<path class=k d="M3846 878l18-1l-33-4l-18 0zm-18-4l18 4l-33-5l-18-7zm-18 3l18-3l-33-8l-18 12z"/>
<path class=j d="M3792 900l18-23l-33 1l-18 38z"/>
<path class=i d="M3774 925l18-25l-33 16l-18 28z"/>
<path class=j d="M3756 913l18 12l-33 19l-18-21z"/>
<path class=l d="M3738 884l18 29l-33 10l-18-36z"/>
<path class=m d="M3720 873l18 11l-33 3l-18-8z"/>
<path class=n d="M3702 874l18-1l-33 6l-18 0zm-18-3l18 3l-33 5l-18-9zm-18 9l18-9l-33-1l-18 13z"/>
<path class=l d="M3648 916l18-36l-33 3l-18 50z"/>
<path class=k d="M3630 947l18-31l-33 17l-18 30zm-18-11l18 11l-33 16l-18-24z"/>
<path class=m d="M3594 906l18 30l-33 3l-18-35z"/>
<path class=n d="M3576 891l18 15l-33-2l-18-13z"/>
<path class=o d="M3558 882l18 9l-33 0l-18-10z"/>
<path class=p d="M3540 868l18 14l-33-1l-18-16zm-18-5l18 5l-33-3l-18 7z"/>
<path class=o d="M3504 875l18-12l-33 9l-18 25z"/>
<path class=p d="M3486 880l18-5l-33 22l-18 5z"/>
<path class=q d="M3468 868l18 12l-33 22l-18-21z"/>
<path class=s d="M3450 854l18 14l-33 13l-18-18z"/>
<path class=u d="M3432 857l18-3l-33 9l-18 1z"/>
<path class=v d="M3414 869l18-12l-33 7l-18 10zm-18 11l18-11l-33 5l-18 15z"/>
<path class=u d="M3378 893l18-13l-33 9l-18 19z"/>
<path class=s d="M3360 903l18-10l-33 15l-18 11z"/>
<path class=s d="M4221 653l18 0l-33-30l-18-10z"/>
<path class=t d="M4203 643l18 10l-33-40l-18-22z"/>
<path class=u d="M4185 629l18 14l-33-52l-18-27z"/>
<path class=t d="M4167 643l18-14l-33-65l-18 15z"/>
<path class=s d="M4149 664l18-21l-33-64l-18 24z"/>
<path class=r d="M4131 700l18-36l-33-61l-18 23z"/>
<path class=s d="M4113 674l18 26l-33-74l-18-11zm-18-6l18 6l-33-59l-18-11zm-18 2l18-2l-33-64l-18-11z"/>
<path class=t d="M4059 668l18 2l-33-77l-18-4z"/>
<path class=u d="M4041 644l18 24l-33-79l-18-35z"/>
<path class=v d="M4023 624l18 20l-33-90l-18-38z"/>
<path class=s d="M4005 695l18-71l-33-108l-18 109z"/>
<path class=r d="M3987 715l18-20l-33-70l-18 31zm-18 13l18-13l-33-59l-18 19z"/>
<path class=n d="M3951 804l18-76l-33-53l-18 111z"/>
<path class=k d="M3933 863l18-59l-33-18l-18 75zm-18 16l18-16l-33-2l-18 19zm-18-2l18 2l-33 1l-18-3zm-18 4l18-4l-33 0l-18 1zm-18 3l18-3l-33-3l-18-4zm-18 1l18-1l-33-10l-18 3zm-18 12l18-12l-33-8l-18 23z"/>
<path class=j d="M3807 912l18-15l-33 3l-18 25z"/>
<path class=k d="M3789 907l18 5l-33 13l-18-12z"/>
<path class=m d="M3771 887l18 20l-33 6l-18-29z"/>
<path class=n d="M3753 877l18 10l-33-3l-18-11zm-18 3l18-3l-33-4l-18 1z"/>
<path class=o d="M3717 882l18-2l-33-6l-18-3zm-18 9l18-9l-33-11l-18 9z"/>
<path class=n d="M3681 914l18-23l-33-11l-18 36z"/>
<path class=m d="M3663 936l18-22l-33 2l-18 31zm-18-4l18 4l-33 11l-18-11z"/>
<path class=n d="M3627 909l18 23l-33 4l-18-30z"/>
<path class=o d="M3609 899l18 10l-33-3l-18-15zm-19-2l19 2l-33-8l-18-9zm-18-6l18 6l-32-15l-18-14z"/>
<path class=p d="M3554 879l18 12l-32-23l-18-5zm-18-1l18 1l-32-16l-18 12zm-18 1l18-1l-32-3l-18 5z"/>
<path class=q d="M3500 877l18 2l-32 1l-18-12z"/>
<path class=s d="M3482 872l18 5l-32-9l-18-14z"/>
<path class=t d="M3464 878l18-6l-32-18l-18 3z"/>
<path class=u d="M3446 891l18-13l-32-21l-18 12zm-18 10l18-10l-32-22l-18 11z"/>
<path class=t d="M3410 913l18-12l-32-21l-18 13z"/>
<path class=r d="M3392 923l18-10l-32-20l-18 10z"/>
<path class=q d="M4253 706l18-34l-32-19l-18 0z"/>
<path class=p d="M4235 731l18-25l-32-53l-18-10z"/>
<path class=o d="M4217 742l18-11l-32-88l-18-14zm-18 9l18-9l-32-113l-18 14zm-18 9l18-9l-32-108l-18 21z"/>
<path class=k d="M4163 837l18-77l-32-96l-18 36z"/>
<path class=n d="M4145 782l18 55l-32-137l-18-26zm-18-5l18 5l-32-108l-18-6zm-18 18l18-18l-32-109l-18 2zm-18 7l18-7l-32-125l-18-2zm-18 3l18-3l-32-134l-18-24zm-18 3l18-3l-32-161l-18-20zm-18 3l18-3l-32-184l-18 71z"/>
<path class=m d="M4019 821l18-10l-32-116l-18 20zm-18 12l18-12l-32-106l-18 13z"/>
<path class=l d="M3983 845l18-12l-32-105l-18 76zm-18 13l18-13l-32-41l-18 59zm-18 12l18-12l-32 5l-18 16z"/>
<path class=k d="M3929 882l18-12l-32 9l-18-2zm-18 12l18-12l-32-5l-18 4z"/>
<path class=j d="M3893 906l18-12l-32-13l-18 3zm-18 2l18-2l-32-22l-18 1z"/>
<path class=k d="M3857 904l18 4l-32-23l-18 12zm-18-5l18 5l-32-7l-18 15z"/>
<path class=l d="M3821 894l18 5l-32 13l-18-5z"/>
<path class=m d="M3803 890l18 4l-32 13l-18-20zm-18-2l18 2l-32-3l-18-10zm-18 10l18-10l-32-11l-18 3zm-18 10l18-10l-32-18l-18 2zm-18 10l18-10l-32-26l-18 9zm-18 2l18-2l-32-27l-18 23zm-18-4l18 4l-32-6l-18 22z"/>
<path class=n d="M3677 911l18 5l-32 20l-18-4zm-18-4l18 4l-32 21l-18-23zm-18 7l18-7l-32 2l-18-10z"/>
<path class=m d="M3623 921l18-7l-32-15l-19-2zm-18 5l18-5l-33-24l-18-6z"/>
<path class=n d="M3587 914l18 12l-33-35l-18-12z"/>
<path class=o d="M3569 895l18 19l-33-35l-18-1z"/>
<path class=p d="M3551 879l18 16l-33-17l-18 1zm-18 7l18-7l-33 0l-18-2z"/>
<path class=q d="M3515 895l18-9l-33-9l-18-5zm-18 11l18-11l-33-23l-18 6zm-18 12l18-12l-33-28l-18 13zm-18 8l18-8l-33-27l-18 10z"/>
<path class=p d="M3443 934l18-8l-33-25l-18 12zm-18 6l18-6l-33-21l-18 10z"/>
</g>
<text class="tt" text-anchor="middle" x="375.3" y="123.3" textLength="17.8" lengthAdjust="spacingAndGlyphs">2010</text>
<text class="tt" text-anchor="middle" x="395.5" y="119.6" textLength="17.8" lengthAdjust="spacingAndGlyphs">2013</text>
<text class="tt" text-anchor="middle" x="415.6" y="115.9" textLength="17.8" lengthAdjust="spacingAndGlyphs">2016</text>
<text class="tt" text-anchor="middle" x="435.7" y="112.2" textLength="17.8" lengthAdjust="spacingAndGlyphs">2019</text>
<text class="tt" text-anchor="middle" x="335.9" y="126.4" textLength="4.6" lengthAdjust="spacingAndGlyphs">0</text>
<text class="tt" text-anchor="middle" x="303.3" y="115.9" textLength="9.2" lengthAdjust="spacingAndGlyphs">10</text>
<text class="tt" text-anchor="middle" x="270.7" y="105.4" textLength="9.2" lengthAdjust="spacingAndGlyphs">20</text>
<text class="tt" text-anchor="end" x="262.5" y="78.1" textLength="4.6" lengthAdjust="spacingAndGlyphs">0</text>
<text class="tt" text-anchor="end" x="262.5" y="59.1" textLength="4.6" lengthAdjust="spacingAndGlyphs">1</text>
<text class="tt" text-anchor="end" x="262.5" y="40.0" textLength="4.6" lengthAdjust="spacingAndGlyphs">2</text>
<text class="hh" x="240.6" y="14.9" textLength="228.2" lengthAdjust="spacingAndGlyphs">Investment Growth response to NFC Loan Supply Shock</text>
<rect class="rr" x="385.4" y="40.3" width="48.6" height="49.7"/>
</g>
<g id="p2L">
<path class="gg" d="M134.04 249.62L59.04 225.42M59.04 225.42L59.04 172.02M154.15 245.90L79.15 221.70M79.15 221.70L79.15 168.30M174.26 242.19L99.26 217.99M99.26 217.99L99.26 164.59M194.37 238.47L119.37 214.27M119.37 214.27L119.37 160.87M113.60 253.40L212.60 235.10M212.60 235.10L212.60 181.70M80.99 242.88L179.99 224.58M179.99 224.58L179.99 171.18M48.38 232.36L147.38 214.06M147.38 214.06L147.38 160.66M38.60 225.59L137.60 207.29M137.60 207.29L212.60 231.49M38.60 212.20L137.60 193.90M137.60 193.90L212.60 218.10M38.60 198.82L137.60 180.52M137.60 180.52L212.60 204.72M38.60 185.44L137.60 167.14M137.60 167.14L212.60 191.34"/>
<path class="bb" d="M113.60 253.40L212.60 235.10M212.60 235.10L137.60 210.90M137.60 210.90L38.60 229.20M38.60 229.20L113.60 253.40M38.60 229.20L38.60 175.80M38.60 175.80L137.60 157.50M137.60 157.50L137.60 210.90M137.60 157.50L212.60 181.70M212.60 181.70L212.60 235.10M134.04 249.62L132.33 249.07M154.15 245.90L152.44 245.35M174.26 242.19L172.55 241.63M194.37 238.47L192.66 237.92M113.60 253.40L115.37 253.07M80.99 242.88L82.76 242.55M48.38 232.36L50.15 232.03M38.60 225.59L36.40 225.89M38.60 212.20L36.40 212.50M38.60 198.82L36.40 199.12M38.60 185.44L36.40 185.74"/>
<g class=sf transform="scale(.1)">
<path class=d d="M1284 2063l19 5l-33-9l-19-12zm-19 0l19 0l-33-16l-19-1z"/>
<path class=e d="M1246 2063l19 0l-33-17l-18 6zm-19-9l19 9l-32-11l-19 3z"/>
<path class=f d="M1209 2056l18-2l-32 1l-19 5z"/>
<path class=e d="M1190 2073l19-17l-33 4l-19 8z"/>
<path class=d d="M1171 2087l19-14l-33-5l-19 11zm-19 0l19 0l-33-8l-18 5z"/>
<path class=e d="M1133 2084l19 3l-32-3l-19 3zm-18-6l18 6l-32 3l-19-2z"/>
<path class=f d="M1096 2068l19 10l-33 7l-19-6z"/>
<path class=g d="M1077 2064l19 4l-33 11l-19-5z"/>
<path class=f d="M1058 2074l19-10l-33 10l-18-3zm-19 10l19-10l-32-3l-19-4z"/>
<path class=e d="M1021 2095l18-11l-32-17l-19 10zm-19 9l19-9l-33-18l-19 14zm-19 2l19-2l-33-13l-19 6zm-19 1l19-1l-33-9l-19 7zm-19 11l19-11l-33-3l-18 12z"/>
<path class=d d="M926 2136l19-18l-32-2l-19 10z"/>
<path class=c d="M908 2148l18-12l-32-10l-19 9zm-19 5l19-5l-33-13l-19 1zm-19 1l19-1l-33-17l-19-6z"/>
<path class=d d="M851 2151l19 3l-33-24l-18-2zm-19-6l19 6l-32-23l-19-5z"/>
<path class=f d="M814 2127l18 18l-32-22l-19-20z"/>
<path class=g d="M795 2111l19 16l-33-24l-19-5zm-19 10l19-10l-33-13l-19 11z"/>
<path class=f d="M757 2139l19-18l-33-12l-18 13z"/>
<path class=e d="M738 2157l19-18l-32-17l-19 12zm-18 4l18-4l-32-23l-19 0zm-19-6l19 6l-33-27l-19-4zm-19 1l19-1l-33-25l-19 6z"/>
<path class=f d="M663 2157l19-1l-33-20l-18 0zm-19-2l19 2l-32-21l-19-2zm-18 3l18-3l-32-21l-19 11z"/>
<path class=e d="M607 2168l19-10l-33-13l-19 11z"/>
<path class=f d="M588 2170l19-2l-33-12l-19 0zm-19-1l19 1l-33-14l-19 0zm-19 8l19-8l-33-13l-18 8zm-19 3l19-3l-32-13l-19 6zm-18 3l18-3l-32-10l-19 7zm-19 5l19-5l-33-6l-19 10z"/>
<path class=e d="M475 2196l19-8l-33-1l-19 8zm-19 7l19-7l-33-1l-18 2zm-19 5l19-5l-32-6l-19-2zm-18 7l18-7l-32-13l-19 5z"/>
<path class=d d="M1316 2080l19 1l-32-13l-19-5zm-18-1l18 1l-32-17l-19 0zm-19-1l19 1l-33-16l-19 0z"/>
<path class=e d="M1260 2064l19 14l-33-15l-19-9z"/>
<path class=f d="M1241 2058l19 6l-33-10l-18 2z"/>
<path class=e d="M1222 2071l19-13l-32-2l-19 17zm-18 11l18-11l-32 2l-19 14zm-19 1l19-1l-33 5l-19 0zm-19 1l19-1l-33 4l-19-3zm-19 2l19-2l-33 0l-18-6z"/>
<path class=f d="M1128 2083l19 3l-32-8l-19-10zm-18-1l18 1l-32-15l-19-4zm-19 6l19-6l-33-18l-19 10z"/>
<path class=e d="M1072 2103l19-15l-33-14l-19 10zm-19 11l19-11l-33-19l-18 11zm-19 0l19 0l-32-19l-19 9z"/>
<path class=f d="M1016 2108l18 6l-32-10l-19 2zm-19-2l19 2l-33-2l-19 1z"/>
<path class=e d="M978 2120l19-14l-33 1l-19 11z"/>
<path class=d d="M959 2143l19-23l-33-2l-19 18z"/>
<path class=c d="M940 2158l19-15l-33-7l-18 12zm-19 1l19-1l-32-10l-19 5z"/>
<path class=d d="M903 2158l18 1l-32-6l-19 1zm-19-6l19 6l-33-4l-19-3z"/>
<path class=e d="M865 2146l19 6l-33-1l-19-6z"/>
<path class=f d="M846 2137l19 9l-33-1l-18-18zm-19-6l19 6l-32-10l-19-16zm-18 11l18-11l-32-20l-19 10z"/>
<path class=e d="M790 2164l19-22l-33-21l-19 18z"/>
<path class=d d="M771 2179l19-15l-33-25l-19 18zm-19 2l19-2l-33-22l-18 4z"/>
<path class=e d="M733 2176l19 5l-32-20l-19-6zm-18 3l18-3l-32-21l-19 1zm-19 2l19-2l-33-23l-19 1zm-19-6l19 6l-33-24l-19-2z"/>
<path class=f d="M658 2173l19 2l-33-20l-18 3z"/>
<path class=e d="M639 2179l19-6l-32-15l-19 10zm-18 7l18-7l-32-11l-19 2zm-19 3l19-3l-33-16l-19-1zm-19 5l19-5l-33-20l-19 8z"/>
<path class=f d="M564 2189l19 5l-33-17l-19 3zm-19 1l19-1l-33-9l-18 3zm-19 9l19-9l-32-7l-19 5z"/>
<path class=e d="M508 2212l18-13l-32-11l-19 8z"/>
<path class=d d="M489 2224l19-12l-33-16l-19 7zm-19 7l19-7l-33-21l-19 5z"/>
<path class=e d="M451 2227l19 4l-33-23l-18 7z"/>
<path class=d d="M1349 2087l19-2l-33-4l-19-1zm-19 0l19 0l-33-7l-18-1z"/>
<path class=e d="M1311 2085l19 2l-32-8l-19-1z"/>
<path class=f d="M1293 2072l18 13l-32-7l-19-14zm-19-4l19 4l-33-8l-19-6zm-19 7l19-7l-33-10l-19 13zm-19 9l19-9l-33-4l-18 11z"/>
<path class=e d="M1217 2090l19-6l-32-2l-19 1zm-18 5l18-5l-32-7l-19 1zm-19 12l19-12l-33-11l-19 2zm-19 4l19-4l-33-21l-19-3zm-19 0l19 0l-33-28l-18-1zm-19 1l19-1l-32-29l-19 6z"/>
<path class=d d="M1105 2124l18-12l-32-24l-19 15z"/>
<path class=e d="M1086 2125l19-1l-33-21l-19 11z"/>
<path class=f d="M1067 2115l19 10l-33-11l-19 0zm-19-4l19 4l-33-1l-18-6zm-19 8l19-8l-32-3l-19-2z"/>
<path class=e d="M1011 2137l18-18l-32-13l-19 14z"/>
<path class=d d="M992 2157l19-20l-33-17l-19 23z"/>
<path class=c d="M973 2167l19-10l-33-14l-19 15z"/>
<path class=d d="M954 2162l19 5l-33-9l-19 1zm-19-4l19 4l-33-3l-18-1z"/>
<path class=e d="M916 2149l19 9l-32 0l-19-6z"/>
<path class=f d="M898 2141l18 8l-32 3l-19-6zm-19 5l19-5l-33 5l-19-9z"/>
<path class=e d="M860 2159l19-13l-33-9l-19-6z"/>
<path class=d d="M841 2181l19-22l-33-28l-18 11z"/>
<path class=c d="M822 2194l19-13l-32-39l-19 22z"/>
<path class=d d="M804 2189l18 5l-32-30l-19 15z"/>
<path class=e d="M785 2179l19 10l-33-10l-19 2zm-19 5l19-5l-33 2l-19-5z"/>
<path class=d d="M747 2205l19-21l-33-8l-18 3z"/>
<path class=c d="M728 2212l19-7l-32-26l-19 2z"/>
<path class=d d="M710 2201l18 11l-32-31l-19-6z"/>
<path class=e d="M691 2191l19 10l-33-26l-19-2zm-19 0l19 0l-33-18l-19 6zm-19 4l19-4l-33-12l-18 7zm-19 5l19-5l-32-9l-19 3zm-19 9l19-9l-32-11l-19 5zm-18-2l18 2l-32-15l-19-5zm-19 3l19-3l-33-18l-19 1zm-19 10l19-10l-33-20l-19 9z"/>
<path class=d d="M540 2236l19-16l-33-21l-18 13z"/>
<path class=c d="M521 2250l19-14l-32-24l-19 12zm-18 3l18-3l-32-26l-19 7z"/>
<path class=d d="M484 2244l19 9l-33-22l-19-4z"/>
<path class=d d="M1382 2090l19-5l-33 0l-19 2z"/>
<path class=e d="M1363 2089l19 1l-33-3l-19 0zm-19-2l19 2l-33-2l-19-2z"/>
<path class=f d="M1325 2082l19 5l-33-2l-18-13zm-19-2l19 2l-32-10l-19-4z"/>
<path class=g d="M1288 2076l18 4l-32-12l-19 7z"/>
<path class=f d="M1269 2082l19-6l-33-1l-19 9zm-19 12l19-12l-33 2l-19 6z"/>
<path class=e d="M1231 2108l19-14l-33-4l-18 5z"/>
<path class=d d="M1212 2123l19-15l-32-13l-19 12zm-18 6l18-6l-32-16l-19 4z"/>
<path class=e d="M1175 2126l19 3l-33-18l-19 0zm-19 1l19-1l-33-15l-19 1z"/>
<path class=d d="M1137 2139l19-12l-33-15l-18 12z"/>
<path class=e d="M1118 2134l19 5l-32-15l-19 1z"/>
<path class=f d="M1100 2119l18 15l-32-9l-19-10zm-19 7l19-7l-33-4l-19-4z"/>
<path class=e d="M1062 2143l19-17l-33-15l-19 8z"/>
<path class=d d="M1043 2155l19-12l-33-24l-18 18zm-19 14l19-14l-32-18l-19 20z"/>
<path class=c d="M1005 2177l19-8l-32-12l-19 10z"/>
<path class=d d="M987 2172l18 5l-32-10l-19-5z"/>
<path class=e d="M968 2165l19 7l-33-10l-19-4z"/>
<path class=f d="M949 2152l19 13l-33-7l-19-9zm-19-8l19 8l-33-3l-18-8z"/>
<path class=e d="M911 2162l19-18l-32-3l-19 5z"/>
<path class=d d="M893 2182l18-20l-32-16l-19 13zm-19 15l19-15l-33-23l-19 22zm-19 5l19-5l-33-16l-19 13zm-19-6l19 6l-33-8l-18-5z"/>
<path class=e d="M817 2186l19 10l-32-7l-19-10z"/>
<path class=d d="M799 2198l18-12l-32-7l-19 5z"/>
<path class=c d="M780 2226l19-28l-33-14l-19 21zm-19 3l19-3l-33-21l-19 7z"/>
<path class=d d="M742 2211l19 18l-33-17l-18-11z"/>
<path class=e d="M723 2200l19 11l-32-10l-19-10zm-18 2l18-2l-32-9l-19 0zm-19 1l19-1l-33-11l-19 4z"/>
<path class=f d="M667 2204l19-1l-33-8l-19 5z"/>
<path class=e d="M648 2217l19-13l-33-4l-19 9zm-19 5l19-5l-33-8l-18-2zm-19 2l19-2l-32-15l-19 3zm-18 7l18-7l-32-14l-19 10z"/>
<path class=d d="M573 2247l19-16l-33-11l-19 16z"/>
<path class=c d="M554 2265l19-18l-33-11l-19 14zm-19 2l19-2l-33-15l-18 3zm-19 0l19 0l-32-14l-19-9z"/>
<path class=d d="M1414 2114l19-12l-32-17l-19 5zm-19-4l19 4l-32-24l-19-1z"/>
<path class=e d="M1377 2104l18 6l-32-21l-19-2zm-19 5l19-5l-33-17l-19-5zm-19-3l19 3l-33-27l-19-2z"/>
<path class=f d="M1320 2089l19 17l-33-26l-18-4z"/>
<path class=g d="M1301 2085l19 4l-32-13l-19 6z"/>
<path class=f d="M1283 2098l18-13l-32-3l-19 12z"/>
<path class=e d="M1264 2112l19-14l-33-4l-19 14zm-19 15l19-15l-33-4l-19 15zm-19 6l19-6l-33-4l-18 6zm-19-1l19 1l-32-4l-19-3zm-18 4l18-4l-32-6l-19 1z"/>
<path class=d d="M1170 2148l19-12l-33-9l-19 12z"/>
<path class=e d="M1151 2147l19 1l-33-9l-19-5zm-19-5l19 5l-33-13l-18-15z"/>
<path class=d d="M1113 2156l19-14l-32-23l-19 7zm-18 11l18-11l-32-30l-19 17z"/>
<path class=e d="M1076 2160l19 7l-33-24l-19 12zm-19 4l19-4l-33-5l-19 14z"/>
<path class=d d="M1038 2172l19-8l-33 5l-19 8z"/>
<path class=e d="M1019 2171l19 1l-33 5l-18-5zm-19-4l19 4l-32 1l-19-7z"/>
<path class=f d="M982 2160l18 7l-32-2l-19-13z"/>
<path class=g d="M963 2152l19 8l-33-8l-19-8z"/>
<path class=f d="M944 2163l19-11l-33-8l-19 18z"/>
<path class=e d="M925 2177l19-14l-33-1l-18 20zm-19 8l19-8l-32 5l-19 15zm-18 3l18-3l-32 12l-19 5zm-19 6l19-6l-33 14l-19-6zm-19 2l19-2l-33 2l-19-10z"/>
<path class=d d="M831 2208l19-12l-33-10l-18 12zm-19 19l19-19l-32-10l-19 28zm-18-3l18 3l-32-1l-19 3z"/>
<path class=e d="M775 2211l19 13l-33 5l-19-18zm-19-3l19 3l-33 0l-19-11zm-19 5l19-5l-33-8l-18 2z"/>
<path class=f d="M718 2213l19 0l-32-11l-19 1zm-18 1l18-1l-32-10l-19 1z"/>
<path class=e d="M681 2225l19-11l-33-10l-19 13zm-19 1l19-1l-33-8l-19 5z"/>
<path class=f d="M643 2225l19 1l-33-4l-19 2z"/>
<path class=e d="M624 2231l19-6l-33-1l-18 7zm-19 18l19-18l-32 0l-19 16z"/>
<path class=c d="M587 2269l18-20l-32-2l-19 18zm-19 5l19-5l-33-4l-19 2zm-19 9l19-9l-33-7l-19 0z"/>
<path class=c d="M1447 2130l19-13l-33-15l-19 12z"/>
<path class=d d="M1428 2124l19 6l-33-16l-19-4z"/>
<path class=e d="M1409 2116l19 8l-33-14l-18-6z"/>
<path class=d d="M1390 2126l19-10l-32-12l-19 5zm-18 5l18-5l-32-17l-19-3z"/>
<path class=e d="M1353 2123l19 8l-33-25l-19-17zm-19-2l19 2l-33-34l-19-4zm-19 1l19-1l-33-36l-18 13z"/>
<path class=f d="M1296 2119l19 3l-32-24l-19 14zm-18-2l18 2l-32-7l-19 15zm-19 10l19-10l-33 10l-19 6z"/>
<path class=e d="M1240 2144l19-17l-33 6l-19-1z"/>
<path class=d d="M1221 2155l19-11l-33-12l-18 4zm-19 5l19-5l-32-19l-19 12z"/>
<path class=e d="M1184 2158l18 2l-32-12l-19-1zm-19 4l19-4l-33-11l-19-5z"/>
<path class=d d="M1146 2172l19-10l-33-20l-19 14zm-19-1l19 1l-33-16l-18 11z"/>
<path class=f d="M1108 2154l19 17l-32-4l-19-7zm-18 0l18 0l-32 6l-19 4z"/>
<path class=e d="M1071 2165l19-11l-33 10l-19 8z"/>
<path class=f d="M1052 2167l19-2l-33 7l-19-1zm-19-4l19 4l-33 4l-19-4z"/>
<path class=g d="M1014 2159l19 4l-33 4l-18-7zm-19 1l19-1l-32 1l-19-8zm-18-3l18 3l-32-8l-19 11zm-19 13l19-13l-33 6l-19 14z"/>
<path class=f d="M939 2182l19-12l-33 7l-19 8zm-19 5l19-5l-33 3l-18 3z"/>
<path class=e d="M901 2196l19-9l-32 1l-19 6zm-18 8l18-8l-32-2l-19 2zm-19 6l19-6l-33-8l-19 12zm-19 9l19-9l-33-2l-19 19zm-19 2l19-2l-33 8l-18-3zm-19 4l19-4l-32 3l-19-13z"/>
<path class=d d="M789 2235l18-10l-32-14l-19-3zm-19 5l19-5l-33-27l-19 5z"/>
<path class=e d="M751 2237l19 3l-33-27l-19 0zm-19 3l19-3l-33-24l-18 1zm-19 2l19-2l-32-26l-19 11z"/>
<path class=f d="M695 2234l18 8l-32-17l-19 1zm-19-5l19 5l-33-8l-19-1zm-19 8l19-8l-33-4l-19 6z"/>
<path class=e d="M638 2253l19-16l-33-6l-19 18z"/>
<path class=d d="M619 2267l19-14l-33-4l-18 20zm-19 10l19-10l-32 2l-19 5zm-18 9l18-9l-32-3l-19 9z"/>
<path class=d d="M1480 2126l18 1l-32-10l-19 13z"/>
<path class=e d="M1461 2117l19 9l-33 4l-19-6z"/>
<path class=f d="M1442 2110l19 7l-33 7l-19-8z"/>
<path class=e d="M1423 2123l19-13l-33 6l-19 10z"/>
<path class=d d="M1404 2142l19-19l-33 3l-18 5zm-19 9l19-9l-32-11l-19-8zm-18 0l18 0l-32-28l-19-2z"/>
<path class=e d="M1348 2144l19 7l-33-30l-19 1z"/>
<path class=f d="M1329 2121l19 23l-33-22l-19-3z"/>
<path class=g d="M1310 2107l19 14l-33-2l-18-2zm-19 15l19-15l-32 10l-19 10z"/>
<path class=e d="M1273 2158l18-36l-32 5l-19 17z"/>
<path class=d d="M1254 2177l19-19l-33-14l-19 11zm-19-3l19 3l-33-22l-19 5z"/>
<path class=e d="M1216 2169l19 5l-33-14l-18-2zm-19-2l19 2l-32-11l-19 4zm-18-5l18 5l-32-5l-19 10z"/>
<path class=f d="M1160 2154l19 8l-33 10l-19-1z"/>
<path class=g d="M1141 2149l19 5l-33 17l-19-17z"/>
<path class=f d="M1122 2157l19-8l-33 5l-18 0z"/>
<path class=e d="M1103 2180l19-23l-32-3l-19 11zm-18 5l18-5l-32-15l-19 2z"/>
<path class=f d="M1066 2176l19 9l-33-18l-19-4z"/>
<path class=g d="M1047 2165l19 11l-33-13l-19-4zm-19 7l19-7l-33-6l-19 1z"/>
<path class=f d="M1009 2180l19-8l-33-12l-18-3zm-19 9l19-9l-32-23l-19 13zm-18 5l18-5l-32-19l-19 12zm-19 2l19-2l-33-12l-19 5zm-19 8l19-8l-33-9l-19 9z"/>
<path class=e d="M915 2213l19-9l-33-8l-18 8z"/>
<path class=f d="M896 2212l19 1l-32-9l-19 6zm-18 3l18-3l-32-2l-19 9z"/>
<path class=e d="M859 2226l19-11l-33 4l-19 2z"/>
<path class=d d="M840 2240l19-14l-33-5l-19 4z"/>
<path class=c d="M821 2259l19-19l-33-15l-18 10zm-19 6l19-6l-32-24l-19 5z"/>
<path class=d d="M784 2258l18 7l-32-25l-19-3zm-19 1l19-1l-33-21l-19 3zm-19-2l19 2l-33-19l-19 2z"/>
<path class=f d="M727 2243l19 14l-33-15l-18-8z"/>
<path class=g d="M708 2229l19 14l-32-9l-19-5zm-18 5l18-5l-32 0l-19 8z"/>
<path class=f d="M671 2250l19-16l-33 3l-19 16z"/>
<path class=e d="M652 2262l19-12l-33 3l-19 14zm-19 15l19-15l-33 5l-19 10z"/>
<path class=d d="M614 2284l19-7l-33 0l-18 9z"/>
<path class=e d="M1512 2128l19 16l-33-17l-18-1z"/>
<path class=f d="M1493 2119l19 9l-32-2l-19-9zm-18-1l18 1l-32-2l-19-7z"/>
<path class=e d="M1456 2128l19-10l-33-8l-19 13zm-19 16l19-16l-33-5l-19 19z"/>
<path class=d d="M1418 2157l19-13l-33-2l-19 9zm-19 3l19-3l-33-6l-18 0zm-19-3l19 3l-32-9l-19-7z"/>
<path class=f d="M1362 2137l18 20l-32-13l-19-23z"/>
<path class=g d="M1343 2121l19 16l-33-16l-19-14z"/>
<path class=f d="M1324 2139l19-18l-33-14l-19 15z"/>
<path class=d d="M1305 2174l19-35l-33-17l-18 36zm-19 14l19-14l-32-16l-19 19zm-18 0l18 0l-32-11l-19-3zm-19-6l19 6l-33-14l-19-5z"/>
<path class=e d="M1230 2170l19 12l-33-13l-19-2z"/>
<path class=g d="M1211 2152l19 18l-33-3l-18-5zm-19-7l19 7l-32 10l-19-8zm-18 6l18-6l-32 9l-19-5z"/>
<path class=f d="M1155 2171l19-20l-33-2l-19 8z"/>
<path class=e d="M1136 2197l19-26l-33-14l-19 23z"/>
<path class=d d="M1117 2206l19-9l-33-17l-18 5z"/>
<path class=e d="M1098 2193l19 13l-32-21l-19-9z"/>
<path class=f d="M1079 2185l19 8l-32-17l-19-11zm-18 10l18-10l-32-20l-19 7z"/>
<path class=e d="M1042 2207l19-12l-33-23l-19 8z"/>
<path class=f d="M1023 2206l19 1l-33-27l-19 9zm-19-3l19 3l-33-17l-18 5z"/>
<path class=g d="M985 2198l19 5l-32-9l-19 2z"/>
<path class=f d="M967 2206l18-8l-32-2l-19 8zm-19 3l19-3l-33-2l-19 9z"/>
<path class=g d="M929 2202l19 7l-33 4l-19-1z"/>
<path class=f d="M910 2218l19-16l-33 10l-18 3z"/>
<path class=e d="M891 2238l19-20l-32-3l-19 11zm-18 10l18-10l-32-12l-19 14z"/>
<path class=d d="M854 2256l19-8l-33-8l-19 19zm-19 2l19-2l-33 3l-19 6z"/>
<path class=e d="M816 2251l19 7l-33 7l-18-7zm-19 3l19-3l-32 7l-19 1zm-18 2l18-2l-32 5l-19-2z"/>
<path class=f d="M760 2245l19 11l-33 1l-19-14z"/>
<path class=g d="M741 2232l19 13l-33-2l-19-14zm-19 9l19-9l-33-3l-18 5z"/>
<path class=f d="M703 2258l19-17l-32-7l-19 16zm-19 10l19-10l-32-8l-19 12z"/>
<path class=e d="M666 2281l18-13l-32-6l-19 15zm-19 2l19-2l-33-4l-19 7z"/>
<path class=e d="M1545 2132l19 12l-33 0l-19-16zm-19 2l19-2l-33-4l-19-9zm-19 8l19-8l-33-15l-18-1zm-19-1l19 1l-32-24l-19 10zm-19 0l19 0l-32-13l-19 16zm-18 4l18-4l-32 3l-19 13zm-19 6l19-6l-33 12l-19 3zm-19 12l19-12l-33 9l-19-3zm-19 3l19-3l-33-6l-18-20zm-19-4l19 4l-32-29l-19-16zm-18 8l18-8l-32-41l-19 18z"/>
<path class=d d="M1338 2185l19-15l-33-31l-19 35zm-19 5l19-5l-33-11l-19 14zm-19 4l19-4l-33-2l-18 0z"/>
<path class=e d="M1281 2190l19 4l-32-6l-19-6z"/>
<path class=f d="M1263 2176l18 14l-32-8l-19-12zm-19-8l19 8l-33-6l-19-18z"/>
<path class=g d="M1225 2168l19 0l-33-16l-19-7zm-19 5l19-5l-33-23l-18 6z"/>
<path class=f d="M1187 2183l19-10l-32-22l-19 20z"/>
<path class=e d="M1169 2197l18-14l-32-12l-19 26zm-19 6l19-6l-33 0l-19 9z"/>
<path class=f d="M1131 2192l19 11l-33 3l-19-13z"/>
<path class=g d="M1112 2190l19 2l-33 1l-19-8z"/>
<path class=f d="M1093 2207l19-17l-33-5l-18 10zm-19 6l19-6l-32-12l-19 12zm-18-5l18 5l-32-6l-19-1z"/>
<path class=g d="M1037 2200l19 8l-33-2l-19-3zm-19 0l19 0l-33 3l-19-5zm-19 0l19 0l-33-2l-18 8zm-19 7l19-7l-32 6l-19 3zm-18 2l18-2l-32 2l-19-7z"/>
<path class=f d="M943 2228l19-19l-33-7l-19 16zm-19 10l19-10l-33-10l-19 20zm-19-6l19 6l-33 0l-18 10z"/>
<path class=g d="M886 2224l19 8l-32 16l-19 8zm-18 0l18 0l-32 32l-19 2z"/>
<path class=h d="M849 2223l19 1l-33 34l-19-7z"/>
<path class=g d="M830 2237l19-14l-33 28l-19 3zm-19 9l19-9l-33 17l-18 2zm-19-1l19 1l-32 10l-19-11zm-18 1l18-1l-32 0l-19-13z"/>
<path class=f d="M755 2263l19-17l-33-14l-19 9z"/>
<path class=e d="M736 2285l19-22l-33-22l-19 17zm-19 4l19-4l-33-27l-19 10zm-19 3l19-3l-33-21l-18 13zm-19-4l19 4l-32-11l-19 2z"/>
<path class=e d="M1577 2147l19-1l-32-2l-19-12zm-18 7l18-7l-32-15l-19 2zm-19 2l19-2l-33-20l-19 8zm-19-5l19 5l-33-14l-19-1z"/>
<path class=f d="M1502 2144l19 7l-33-10l-19 0zm-19-1l19 1l-33-3l-18 4zm-19 6l19-6l-32 2l-19 6z"/>
<path class=e d="M1446 2164l18-15l-32 2l-19 12zm-19 13l19-13l-33-1l-19 3zm-19 4l19-4l-33-11l-19-4zm-19-1l19 1l-33-19l-18 8zm-19 4l19-4l-32-10l-19 15zm-18 5l18-5l-32 1l-19 5zm-19 6l19-6l-33 1l-19 4zm-19 0l19 0l-33-1l-19-4z"/>
<path class=f d="M1295 2187l19 8l-33-5l-18-14zm-19-5l19 5l-32-11l-19-8z"/>
<path class=g d="M1258 2181l18 1l-32-14l-19 0z"/>
<path class=f d="M1239 2185l19-4l-33-13l-19 5z"/>
<path class=g d="M1220 2187l19-2l-33-12l-19 10zm-19 4l19-4l-33-4l-18 14zm-19-1l19 1l-32 6l-19 6zm-18-4l18 4l-32 13l-19-11z"/>
<path class=h d="M1145 2183l19 3l-33 6l-19-2z"/>
<path class=g d="M1126 2199l19-16l-33 7l-19 17zm-19 8l19-8l-33 8l-19 6zm-19-8l19 8l-33 6l-18-5z"/>
<path class=h d="M1069 2188l19 11l-32 9l-19-8z"/>
<path class=i d="M1051 2178l18 10l-32 12l-19 0zm-19 3l19-3l-33 22l-19 0z"/>
<path class=h d="M1013 2195l19-14l-33 19l-19 7zm-19 17l19-17l-33 12l-18 2zm-19 5l19-5l-32-3l-19 19zm-18-6l18 6l-32 11l-19 10z"/>
<path class=i d="M938 2201l19 10l-33 27l-19-6zm-19-3l19 3l-33 31l-19-8zm-19 4l19-4l-33 26l-18 0zm-19 10l19-10l-32 22l-19-1z"/>
<path class=h d="M863 2232l18-20l-32 11l-19 14zm-19 9l19-9l-33 5l-19 9z"/>
<path class=g d="M825 2250l19-9l-33 5l-19-1z"/>
<path class=h d="M806 2249l19 1l-33-5l-18 1z"/>
<path class=f d="M787 2280l19-31l-32-3l-19 17z"/>
<path class=e d="M769 2300l18-20l-32-17l-19 22zm-19-2l19 2l-33-15l-19 4zm-19-1l19 1l-33-9l-19 3z"/>
<path class=f d="M712 2294l19 3l-33-5l-19-4z"/>
<path class=d d="M1610 2164l19-10l-33-8l-19 1z"/>
<path class=e d="M1591 2164l19 0l-33-17l-18 7z"/>
<path class=f d="M1572 2155l19 9l-32-10l-19 2zm-18-4l18 4l-32 1l-19-5zm-19-4l19 4l-33 0l-19-7zm-19 3l19-3l-33-3l-19-1zm-19 4l19-4l-33-7l-19 6zm-19 6l19-6l-33-5l-18 15zm-19 5l19-5l-32 4l-19 13zm-18 6l18-6l-32 12l-19 4zm-19 2l19-2l-33 10l-19-1zm-19 1l19-1l-33 7l-19 4zm-19 9l19-9l-33 10l-18 5zm-19 3l19-3l-32 6l-19 6zm-18 6l18-6l-32 9l-19 0zm-19 0l19 0l-33 3l-19-8z"/>
<path class=g d="M1309 2181l19 11l-33-5l-19-5z"/>
<path class=h d="M1290 2175l19 6l-33 1l-18-1z"/>
<path class=g d="M1271 2179l19-4l-32 6l-19 4z"/>
<path class=h d="M1253 2179l18 0l-32 6l-19 2zm-19 7l19-7l-33 8l-19 4zm-19-5l19 5l-33 5l-19-1zm-19 2l19-2l-33 9l-18-4z"/>
<path class=i d="M1177 2174l19 9l-32 3l-19-3zm-18 9l18-9l-32 9l-19 16zm-19 5l19-5l-33 16l-19 8z"/>
<path class=j d="M1121 2176l19 12l-33 19l-19-8zm-19-8l19 8l-33 23l-19-11z"/>
<path class=k d="M1083 2161l19 7l-33 20l-18-10z"/>
<path class=m d="M1064 2138l19 23l-32 17l-19 3z"/>
<path class=l d="M1046 2158l18-20l-32 43l-19 14z"/>
<path class=k d="M1027 2173l19-15l-33 37l-19 17zm-19 6l19-6l-33 39l-19 5z"/>
<path class=m d="M989 2152l19 27l-33 38l-18-6z"/>
<path class=n d="M970 2131l19 21l-32 59l-19-10z"/>
<path class=o d="M952 2115l18 16l-32 70l-19-3z"/>
<path class=k d="M933 2186l19-71l-33 83l-19 4z"/>
<path class=j d="M914 2202l19-16l-33 16l-19 10z"/>
<path class=i d="M895 2222l19-20l-33 10l-18 20zm-19 13l19-13l-32 10l-19 9zm-18 0l18 0l-32 6l-19 9z"/>
<path class=h d="M839 2252l19-17l-33 15l-19-1z"/>
<path class=f d="M820 2280l19-28l-33-3l-19 31zm-19 16l19-16l-33 0l-18 20zm-19-1l19 1l-32 4l-19-2zm-18 5l18-5l-32 3l-19-1zm-19 4l19-4l-33-3l-19-3z"/>
<path class=e d="M1643 2166l18-9l-32-3l-19 10z"/>
<path class=f d="M1624 2155l19 11l-33-2l-19 0z"/>
<path class=g d="M1605 2135l19 20l-33 9l-19-9zm-19 3l19-3l-33 20l-18-4z"/>
<path class=h d="M1567 2129l19 9l-32 13l-19-4zm-18 9l18-9l-32 18l-19 3zm-19 8l19-8l-33 12l-19 4zm-19 0l19 0l-33 8l-19 6z"/>
<path class=i d="M1492 2139l19 7l-33 14l-19 5z"/>
<path class=h d="M1473 2152l19-13l-33 26l-18 6zm-19 4l19-4l-32 19l-19 2z"/>
<path class=g d="M1436 2168l18-12l-32 17l-19 1zm-19 10l19-10l-33 6l-19 9zm-19-3l19 3l-33 5l-19 3z"/>
<path class=h d="M1379 2173l19 2l-33 11l-18 6zm-19-1l19 1l-32 19l-19 0z"/>
<path class=i d="M1342 2161l18 11l-32 20l-19-11z"/>
<path class=j d="M1323 2155l19 6l-33 20l-19-6zm-19 2l19-2l-33 20l-19 4zm-19-6l19 6l-33 22l-18 0z"/>
<path class=i d="M1266 2166l19-15l-32 28l-19 7zm-18 13l18-13l-32 20l-19-5zm-19 3l19-3l-33 2l-19 2z"/>
<path class=j d="M1210 2168l19 14l-33 1l-19-9z"/>
<path class=k d="M1191 2164l19 4l-33 6l-18 9z"/>
<path class=l d="M1172 2147l19 17l-32 19l-19 5z"/>
<path class=k d="M1154 2156l18-9l-32 41l-19-12z"/>
<path class=m d="M1135 2142l19 14l-33 20l-19-8z"/>
<path class=n d="M1116 2131l19 11l-33 26l-19-7z"/>
<path class=p d="M1097 2102l19 29l-33 30l-19-23z"/>
<path class=o d="M1078 2116l19-14l-33 36l-18 20z"/>
<path class=q d="M1059 2095l19 21l-32 42l-19 15z"/>
<path class=o d="M1041 2119l18-24l-32 78l-19 6z"/>
<path class=p d="M1022 2114l19 5l-33 60l-19-27z"/>
<path class=q d="M1003 2104l19 10l-33 38l-19-21z"/>
<path class=r d="M984 2091l19 13l-33 27l-18-16z"/>
<path class=o d="M965 2132l19-41l-32 24l-19 71z"/>
<path class=n d="M947 2153l18-21l-32 54l-19 16z"/>
<path class=l d="M928 2185l19-32l-33 49l-19 20zm-19 6l19-6l-33 37l-19 13z"/>
<path class=k d="M890 2217l19-26l-33 44l-18 0z"/>
<path class=j d="M871 2236l19-19l-32 18l-19 17z"/>
<path class=h d="M853 2265l18-29l-32 16l-19 28z"/>
<path class=g d="M834 2288l19-23l-33 15l-19 16z"/>
<path class=f d="M815 2299l19-11l-33 8l-19-1zm-19 14l19-14l-33-4l-18 5z"/>
<path class=e d="M777 2322l19-9l-32-13l-19 4z"/>
<path class=f d="M1675 2156l19 2l-33-1l-18 9z"/>
<path class=h d="M1656 2131l19 25l-32 10l-19-11z"/>
<path class=i d="M1638 2121l18 10l-32 24l-19-20zm-19 3l19-3l-33 14l-19 3z"/>
<path class=j d="M1600 2112l19 12l-33 14l-19-9z"/>
<path class=i d="M1581 2127l19-15l-33 17l-18 9z"/>
<path class=j d="M1562 2121l19 6l-32 11l-19 8zm-18 10l18-10l-32 25l-19 0z"/>
<path class=k d="M1525 2115l19 16l-33 15l-19-7z"/>
<path class=j d="M1506 2134l19-19l-33 24l-19 13z"/>
<path class=i d="M1487 2143l19-9l-33 18l-19 4z"/>
<path class=j d="M1468 2142l19 1l-33 13l-18 12z"/>
<path class=h d="M1449 2168l19-26l-32 26l-19 10z"/>
<path class=i d="M1431 2164l18 4l-32 10l-19-3z"/>
<path class=j d="M1412 2145l19 19l-33 11l-19-2zm-19 11l19-11l-33 28l-19-1z"/>
<path class=k d="M1374 2133l19 23l-33 16l-18-11z"/>
<path class=l d="M1355 2130l19 3l-32 28l-19-6zm-18 4l18-4l-32 25l-19 2zm-19 7l19-7l-33 23l-19-6zm-19 3l19-3l-33 10l-19 15zm-19-3l19 3l-33 22l-18 13zm-19-1l19 1l-32 38l-19 3z"/>
<path class=m d="M1243 2137l18 3l-32 42l-19-14z"/>
<path class=o d="M1224 2113l19 24l-33 31l-19-4z"/>
<path class=n d="M1205 2117l19-4l-33 51l-19-17z"/>
<path class=r d="M1186 2068l19 49l-33 30l-18 9z"/>
<path class=q d="M1167 2083l19-15l-32 88l-19-14z"/>
<path class=t d="M1148 2041l19 42l-32 59l-19-11z"/>
<path class=w d="M1130 1995l18 46l-32 90l-19-29z"/>
<path class=u d="M1111 2034l19-39l-33 107l-19 14z"/>
<path class=s d="M1092 2069l19-35l-33 82l-19-21z"/>
<path class=r d="M1073 2085l19-16l-33 26l-18 24z"/>
<path class=s d="M1054 2070l19 15l-32 34l-19-5z"/>
<path class=r d="M1036 2100l18-30l-32 44l-19-10z"/>
<path class=u d="M1017 2057l19 43l-33 4l-19-13z"/>
<path class=t d="M998 2075l19-18l-33 34l-19 41zm-19-2l19 2l-33 57l-18 21z"/>
<path class=r d="M960 2110l19-37l-32 80l-19 32zm-18 6l18-6l-32 75l-19 6z"/>
<path class=m d="M923 2188l19-72l-33 75l-19 26z"/>
<path class=l d="M904 2212l19-24l-33 29l-19 19z"/>
<path class=i d="M885 2256l19-44l-33 24l-18 29z"/>
<path class=h d="M866 2280l19-24l-32 9l-19 23z"/>
<path class=g d="M848 2300l18-20l-32 8l-19 11z"/>
<path class=f d="M829 2318l19-18l-33-1l-19 14z"/>
<path class=e d="M810 2332l19-14l-33-5l-19 9z"/>
<path class=i d="M1708 2126l19 19l-33 13l-19-2z"/>
<path class=k d="M1689 2101l19 25l-33 30l-19-25zm-19-7l19 7l-33 30l-18-10z"/>
<path class=l d="M1651 2090l19 4l-32 27l-19 3z"/>
<path class=n d="M1633 2069l18 21l-32 34l-19-12z"/>
<path class=l d="M1614 2094l19-25l-33 43l-19 15z"/>
<path class=k d="M1595 2112l19-18l-33 33l-19-6z"/>
<path class=l d="M1576 2098l19 14l-33 9l-18 10z"/>
<path class=n d="M1557 2072l19 26l-32 33l-19-16z"/>
<path class=m d="M1538 2096l19-24l-32 43l-19 19z"/>
<path class=l d="M1520 2111l18-15l-32 38l-19 9zm-19 5l19-5l-33 32l-19-1z"/>
<path class=k d="M1482 2140l19-24l-33 26l-19 26z"/>
<path class=l d="M1463 2126l19 14l-33 28l-18-4zm-19 4l19-4l-32 38l-19-19z"/>
<path class=m d="M1426 2116l18 14l-32 15l-19 11zm-19 0l19 0l-33 40l-19-23z"/>
<path class=o d="M1388 2087l19 29l-33 17l-19-3z"/>
<path class=q d="M1369 2058l19 29l-33 43l-18 4zm-19 12l19-12l-32 76l-19 7z"/>
<path class=o d="M1332 2105l18-35l-32 71l-19 3z"/>
<path class=n d="M1313 2125l19-20l-33 39l-19-3z"/>
<path class=o d="M1294 2105l19 20l-33 16l-19-1z"/>
<path class=r d="M1275 2062l19 43l-33 35l-18-3z"/>
<path class=q d="M1256 2088l19-26l-32 75l-19-24z"/>
<path class=s d="M1238 2054l18 34l-32 25l-19 4z"/>
<path class=p d="M1219 2112l19-58l-33 63l-19-49z"/>
<path class=o d="M1200 2121l19-9l-33-44l-19 15z"/>
<path class=u d="M1181 2040l19 81l-33-38l-19-42zm-19 3l19-3l-33 1l-18-46z"/>
<path class=x d="M1143 1990l19 53l-32-48l-19 39z"/>
<path class=u d="M1125 2046l18-56l-32 44l-19 35z"/>
<path class=w d="M1106 2022l19 24l-33 23l-19 16z"/>
<path class=z d="M1087 1978l19 44l-33 63l-19-15z"/>
<path class=y d="M1068 1999l19-21l-33 92l-18 30zm-19 3l19-3l-32 101l-19-43z"/>
<path class=u d="M1031 2065l18-63l-32 55l-19 18zm-19 8l19-8l-33 10l-19-2z"/>
<path class=t d="M993 2094l19-21l-33 0l-19 37z"/>
<path class=u d="M974 2079l19 15l-33 16l-18 6z"/>
<path class=m d="M955 2196l19-117l-32 37l-19 72zm-18 14l18-14l-32-8l-19 24z"/>
<path class=k d="M918 2244l19-34l-33 2l-19 44z"/>
<path class=h d="M899 2284l19-40l-33 12l-19 24z"/>
<path class=g d="M880 2303l19-19l-33-4l-18 20zm-19 15l19-15l-32-3l-19 18z"/>
<path class=f d="M843 2337l18-19l-32 0l-19 14z"/>
<path class=k d="M1740 2103l19 7l-32 35l-19-19z"/>
<path class=n d="M1722 2059l18 44l-32 23l-19-25z"/>
<path class=m d="M1703 2074l19-15l-33 42l-19-7z"/>
<path class=n d="M1684 2068l19 6l-33 20l-19-4zm-19 3l19-3l-33 22l-18-21zm-19 5l19-5l-32-2l-19 25z"/>
<path class=m d="M1628 2101l18-25l-32 18l-19 18z"/>
<path class=p d="M1609 2053l19 48l-33 11l-19-14z"/>
<path class=q d="M1590 2037l19 16l-33 45l-19-26z"/>
<path class=p d="M1571 2058l19-21l-33 35l-19 24zm-19 2l19-2l-33 38l-18 15z"/>
<path class=n d="M1533 2101l19-41l-32 51l-19 5zm-18-8l18 8l-32 15l-19 24zm-19 5l19-5l-33 47l-19-14z"/>
<path class=p d="M1477 2078l19 20l-33 28l-19 4z"/>
<path class=o d="M1458 2101l19-23l-33 52l-18-14zm-19 0l19 0l-32 15l-19 0z"/>
<path class=q d="M1421 2070l18 31l-32 15l-19-29zm-19-2l19 2l-33 17l-19-29z"/>
<path class=r d="M1383 2059l19 9l-33-10l-19 12z"/>
<path class=q d="M1364 2078l19-19l-33 11l-18 35zm-19 7l19-7l-32 27l-19 20zm-18 10l18-10l-32 40l-19-20z"/>
<path class=r d="M1308 2075l19 20l-33 10l-19-43z"/>
<path class=t d="M1289 2050l19 25l-33-13l-19 26zm-19 2l19-2l-33 38l-18-34z"/>
<path class=r d="M1251 2091l19-39l-32 2l-19 58z"/>
<path class=t d="M1233 2064l18 27l-32 21l-19 9z"/>
<path class=w d="M1214 2024l19 40l-33 57l-19-81z"/>
<path class=z d="M1195 1974l19 50l-33 16l-19 3z"/>
<path class=x d="M1176 2012l19-38l-33 69l-19-53z"/>
<path class=y d="M1157 2000l19 12l-33-22l-18 56z"/>
<path class=ac d="M1138 1943l19 57l-32 46l-19-24zm-18 2l18-2l-32 79l-19-44zm-19-7l19 7l-33 33l-19 21z"/>
<path class=ad d="M1082 1933l19 5l-33 61l-19 3z"/>
<path class=x d="M1063 2034l19-101l-33 69l-18 63z"/>
<path class=v d="M1044 2064l19-30l-32 31l-19 8z"/>
<path class=t d="M1026 2092l18-28l-32 9l-19 21z"/>
<path class=s d="M1007 2116l19-24l-33 2l-19-15z"/>
<path class=o d="M988 2183l19-67l-33-37l-19 117z"/>
<path class=m d="M969 2220l19-37l-33 13l-18 14z"/>
<path class=k d="M950 2252l19-32l-32-10l-19 34z"/>
<path class=i d="M932 2287l18-35l-32-8l-19 40z"/>
<path class=g d="M913 2312l19-25l-33-3l-19 19zm-19 17l19-17l-33-9l-19 15z"/>
<path class=f d="M875 2347l19-18l-33-11l-18 19z"/>
<path class=l d="M1773 2092l19-20l-33 38l-19-7z"/>
<path class=o d="M1754 2052l19 40l-33 11l-18-44z"/>
<path class=n d="M1735 2070l19-18l-32 7l-19 15zm-18 8l18-8l-32 4l-19-6z"/>
<path class=p d="M1698 2055l19 23l-33-10l-19 3z"/>
<path class=o d="M1679 2076l19-21l-33 16l-19 5zm-19-6l19 6l-33 0l-18 25zm-19 4l19-4l-32 31l-19-48z"/>
<path class=p d="M1623 2070l18 4l-32-21l-19-16z"/>
<path class=o d="M1604 2081l19-11l-33-33l-19 21z"/>
<path class=m d="M1585 2114l19-33l-33-23l-19 2z"/>
<path class=n d="M1566 2112l19 2l-33-54l-19 41z"/>
<path class=l d="M1547 2135l19-23l-33-11l-18-8z"/>
<path class=n d="M1528 2112l19 23l-32-42l-19 5z"/>
<path class=o d="M1510 2101l18 11l-32-14l-19-20z"/>
<path class=m d="M1491 2136l19-35l-33-23l-19 23z"/>
<path class=p d="M1472 2099l19 37l-33-35l-19 0z"/>
<path class=s d="M1453 2056l19 43l-33 2l-18-31zm-19-9l19 9l-32 14l-19-2zm-18 6l18-6l-32 21l-19-9z"/>
<path class=q d="M1397 2097l19-44l-33 6l-19 19zm-19-9l19 9l-33-19l-19 7z"/>
<path class=r d="M1359 2085l19 3l-33-3l-18 10zm-19 9l19-9l-32 10l-19-20zm-18-11l18 11l-32-19l-19-25zm-19 15l19-15l-33-33l-19 2z"/>
<path class=t d="M1284 2072l19 26l-33-46l-19 39z"/>
<path class=u d="M1265 2048l19 24l-33 19l-18-27z"/>
<path class=r d="M1246 2101l19-53l-32 16l-19-40z"/>
<path class=u d="M1228 2058l18 43l-32-77l-19-50z"/>
<path class=x d="M1209 2026l19 32l-33-84l-19 38z"/>
<path class=ac d="M1190 1942l19 84l-33-14l-19-12z"/>
<path class=y d="M1171 2016l19-74l-33 58l-19-57zm-19-10l19 10l-33-73l-18 2zm-19 11l19-11l-32-61l-19-7zm-18 9l18-9l-32-79l-19-5z"/>
<path class=t d="M1096 2105l19-79l-33-93l-19 101z"/>
<path class=v d="M1077 2075l19 30l-33-71l-19 30z"/>
<path class=r d="M1058 2142l19-67l-33-11l-18 28z"/>
<path class=t d="M1039 2113l19 29l-32-50l-19 24z"/>
<path class=p d="M1021 2182l18-69l-32 3l-19 67z"/>
<path class=m d="M1002 2232l19-50l-33 1l-19 37z"/>
<path class=k d="M983 2259l19-27l-33-12l-19 32z"/>
<path class=j d="M964 2282l19-23l-33-7l-18 35z"/>
<path class=i d="M945 2296l19-14l-32 5l-19 25z"/>
<path class=h d="M927 2317l18-21l-32 16l-19 17z"/>
<path class=g d="M908 2333l19-16l-33 12l-19 18z"/>
<path class=r d="M1806 2014l18-7l-32 65l-19 20z"/>
<path class=t d="M1787 1992l19 22l-33 78l-19-40z"/>
<path class=r d="M1768 2029l19-37l-33 60l-19 18z"/>
<path class=p d="M1749 2062l19-33l-33 41l-18 8z"/>
<path class=q d="M1730 2045l19 17l-32 16l-19-23z"/>
<path class=o d="M1712 2075l18-30l-32 10l-19 21zm-19 4l19-4l-33 1l-19-6z"/>
<path class=p d="M1674 2074l19 5l-33-9l-19 4z"/>
<path class=s d="M1655 2034l19 40l-33 0l-18-4zm-19 1l19-1l-32 36l-19 11z"/>
<path class=q d="M1618 2066l18-31l-32 46l-19 33z"/>
<path class=p d="M1599 2080l19-14l-33 48l-19-2z"/>
<path class=m d="M1580 2143l19-63l-33 32l-19 23z"/>
<path class=n d="M1561 2132l19 11l-33-8l-19-23z"/>
<path class=o d="M1542 2112l19 20l-33-20l-18-11zm-19 7l19-7l-32-11l-19 35z"/>
<path class=q d="M1505 2090l18 29l-32 17l-19-37z"/>
<path class=r d="M1486 2070l19 20l-33 9l-19-43z"/>
<path class=s d="M1467 2072l19-2l-33-14l-19-9zm-19 2l19-2l-33-25l-18 6z"/>
<path class=q d="M1429 2101l19-27l-32-21l-19 44zm-18 6l18-6l-32-4l-19-9z"/>
<path class=p d="M1392 2119l19-12l-33-19l-19-3z"/>
<path class=q d="M1373 2111l19 8l-33-34l-19 9z"/>
<path class=s d="M1354 2083l19 28l-33-17l-18-11zm-19 13l19-13l-32 0l-19 15zm-18-9l18 9l-32 2l-19-26zm-19 3l19-3l-33-15l-19-24z"/>
<path class=u d="M1279 2065l19 25l-33-42l-19 53z"/>
<path class=x d="M1260 2027l19 38l-33 36l-18-43z"/>
<path class=w d="M1241 2040l19-13l-32 31l-19-32zm-19 14l19-14l-32-14l-19-84z"/>
<path class=v d="M1204 2064l18-10l-32-112l-19 74z"/>
<path class=z d="M1185 2002l19 62l-33-48l-19-10z"/>
<path class=x d="M1166 2041l19-39l-33 4l-19 11zm-19 3l19-3l-33-24l-18 9z"/>
<path class=r d="M1128 2135l19-91l-32-18l-19 79z"/>
<path class=s d="M1110 2137l18-2l-32-30l-19-30z"/>
<path class=p d="M1091 2174l19-37l-33-62l-19 67z"/>
<path class=s d="M1072 2137l19 37l-33-32l-19-29z"/>
<path class=o d="M1053 2201l19-64l-33-24l-18 69z"/>
<path class=n d="M1034 2226l19-25l-32-19l-19 50z"/>
<path class=l d="M1016 2251l18-25l-32 6l-19 27z"/>
<path class=j d="M997 2287l19-36l-33 8l-19 23zm-19 4l19-4l-33-5l-19 14z"/>
<path class=i d="M959 2311l19-20l-33 5l-18 21z"/>
<path class=h d="M940 2325l19-14l-32 6l-19 16z"/>
<path class=s d="M1838 2011l19 5l-33-9l-18 7z"/>
<path class=v d="M1819 1973l19 38l-32 3l-19-22z"/>
<path class=r d="M1801 2032l18-59l-32 19l-19 37z"/>
<path class=o d="M1782 2088l19-56l-33-3l-19 33z"/>
<path class=n d="M1763 2098l19-10l-33-26l-19-17zm-19 4l19-4l-33-53l-18 30z"/>
<path class=p d="M1725 2084l19 18l-32-27l-19 4z"/>
<path class=s d="M1707 2042l18 42l-32-5l-19-5z"/>
<path class=u d="M1688 2010l19 32l-33 32l-19-40z"/>
<path class=q d="M1669 2077l19-67l-33 24l-19 1zm-19 4l19-4l-33-42l-18 31z"/>
<path class=p d="M1631 2095l19-14l-32-15l-19 14z"/>
<path class=n d="M1612 2126l19-31l-32-15l-19 63zm-18 14l18-14l-32 17l-19-11zm-19-8l19 8l-33-8l-19-20z"/>
<path class=o d="M1556 2123l19 9l-33-20l-19 7z"/>
<path class=n d="M1537 2146l19-23l-33-4l-18-29zm-19 9l19-9l-32-56l-19-20z"/>
<path class=p d="M1500 2115l18 40l-32-85l-19 2z"/>
<path class=s d="M1481 2072l19 43l-33-43l-19 2zm-19 8l19-8l-33 2l-19 27z"/>
<path class=r d="M1443 2107l19-27l-33 21l-18 6z"/>
<path class=q d="M1424 2126l19-19l-32 0l-19 12z"/>
<path class=r d="M1406 2114l18 12l-32-7l-19-8zm-19-5l19 5l-33-3l-19-28zm-19 11l19-11l-33-26l-19 13z"/>
<path class=q d="M1349 2130l19-10l-33-24l-18-9z"/>
<path class=u d="M1330 2074l19 56l-32-43l-19 3z"/>
<path class=s d="M1312 2110l18-36l-32 16l-19-25z"/>
<path class=v d="M1293 2062l19 48l-33-45l-19-38z"/>
<path class=u d="M1274 2092l19-30l-33-35l-19 13zm-19 1l19-1l-33-52l-19 14z"/>
<path class=v d="M1236 2081l19 12l-33-39l-18 10z"/>
<path class=w d="M1217 2061l19 20l-32-17l-19-62z"/>
<path class=y d="M1199 2036l18 25l-32-59l-19 39z"/>
<path class=v d="M1180 2083l19-47l-33 5l-19 3zm-19 8l19-8l-33-39l-19 91z"/>
<path class=s d="M1142 2134l19-43l-33 44l-18 2z"/>
<path class=t d="M1123 2125l19 9l-32 3l-19 37z"/>
<path class=r d="M1105 2162l18-37l-32 49l-19-37z"/>
<path class=m d="M1086 2248l19-86l-33-25l-19 64z"/>
<path class=n d="M1067 2232l19 16l-33-47l-19 25z"/>
<path class=m d="M1048 2250l19-18l-33-6l-18 25z"/>
<path class=l d="M1029 2271l19-21l-32 1l-19 36z"/>
<path class=k d="M1011 2293l18-22l-32 16l-19 4z"/>
<path class=j d="M992 2309l19-16l-33-2l-19 20zm-19 2l19-2l-33 2l-19 14z"/>
<path class=w d="M1871 1967l19 59l-33-10l-19-5z"/>
<path class=x d="M1852 1944l19 23l-33 44l-19-38z"/>
<path class=r d="M1833 2050l19-106l-33 29l-18 59z"/>
<path class=p d="M1814 2087l19-37l-32-18l-19 56zm-18-6l18 6l-32 1l-19 10z"/>
<path class=o d="M1777 2098l19-17l-33 17l-19 4z"/>
<path class=p d="M1758 2085l19 13l-33 4l-19-18z"/>
<path class=q d="M1739 2081l19 4l-33-1l-18-42z"/>
<path class=p d="M1720 2094l19-13l-32-39l-19-32z"/>
<path class=r d="M1702 2062l18 32l-32-84l-19 67z"/>
<path class=q d="M1683 2090l19-28l-33 15l-19 4z"/>
<path class=o d="M1664 2128l19-38l-33-9l-19 14z"/>
<path class=m d="M1645 2160l19-32l-33-33l-19 31z"/>
<path class=o d="M1626 2138l19 22l-33-34l-18 14z"/>
<path class=n d="M1607 2144l19-6l-32 2l-19-8zm-18 9l18-9l-32-12l-19-9zm-19-5l19 5l-33-30l-19 23z"/>
<path class=r d="M1551 2094l19 54l-33-2l-19 9z"/>
<path class=p d="M1532 2136l19-42l-33 61l-18-40z"/>
<path class=o d="M1513 2149l19-13l-32-21l-19-43z"/>
<path class=p d="M1495 2132l18 17l-32-77l-19 8zm-19 9l19-9l-33-52l-19 27z"/>
<path class=o d="M1457 2163l19-22l-33-34l-19 19z"/>
<path class=q d="M1438 2140l19 23l-33-37l-18-12zm-19 1l19-1l-32-26l-19-5z"/>
<path class=o d="M1401 2168l18-27l-32-32l-19 11z"/>
<path class=p d="M1382 2153l19 15l-33-48l-19 10z"/>
<path class=q d="M1363 2148l19 5l-33-23l-19-56z"/>
<path class=t d="M1344 2106l19 42l-33-74l-18 36zm-19 5l19-5l-32 4l-19-48z"/>
<path class=s d="M1307 2128l18-17l-32-49l-19 30z"/>
<path class=t d="M1288 2117l19 11l-33-36l-19 1z"/>
<path class=w d="M1269 2074l19 43l-33-24l-19-12zm-19 9l19-9l-33 7l-19-20z"/>
<path class=u d="M1231 2112l19-29l-33-22l-18-25z"/>
<path class=s d="M1212 2142l19-30l-32-76l-19 47z"/>
<path class=t d="M1194 2140l18 2l-32-59l-19 8zm-19-7l19 7l-33-49l-19 43z"/>
<path class=p d="M1156 2206l19-73l-33 1l-19-9z"/>
<path class=o d="M1137 2214l19-8l-33-81l-18 37z"/>
<path class=n d="M1118 2234l19-20l-32-52l-19 86zm-18 10l18-10l-32 14l-19-16zm-19-5l19 5l-33-12l-19 18z"/>
<path class=m d="M1062 2259l19-20l-33 11l-19 21z"/>
<path class=l d="M1043 2284l19-25l-33 12l-18 22z"/>
<path class=k d="M1024 2302l19-18l-32 9l-19 16z"/>
<path class=i d="M1006 2330l18-28l-32 7l-19 2z"/>
<path class=u d="M1903 2001l19-25l-32 50l-19-59z"/>
<path class=p d="M1885 2078l18-77l-32-34l-19-23z"/>
<path class=q d="M1866 2073l19 5l-33-134l-19 106z"/>
<path class=o d="M1847 2106l19-33l-33-23l-19 37zm-19 7l19-7l-33-19l-18-6zm-19-2l19 2l-32-32l-19 17z"/>
<path class=p d="M1791 2099l18 12l-32-13l-19-13z"/>
<path class=q d="M1772 2090l19 9l-33-14l-19-4zm-19-4l19 4l-33-9l-19 13z"/>
<path class=p d="M1734 2109l19-23l-33 8l-18-32z"/>
<path class=o d="M1715 2127l19-18l-32-47l-19 28z"/>
<path class=p d="M1697 2114l18 13l-32-37l-19 38z"/>
<path class=o d="M1678 2138l19-24l-33 14l-19 32zm-19 9l19-9l-33 22l-19-22zm-19 1l19-1l-33-9l-19 6zm-19 6l19-6l-33-4l-18 9z"/>
<path class=p d="M1602 2143l19 11l-32-1l-19-5zm-18-7l18 7l-32 5l-19-54z"/>
<path class=o d="M1565 2155l19-19l-33-42l-19 42z"/>
<path class=p d="M1546 2146l19 9l-33-19l-19 13z"/>
<path class=q d="M1527 2133l19 13l-33 3l-18-17z"/>
<path class=o d="M1508 2173l19-40l-32-1l-19 9zm-18-8l18 8l-32-32l-19 22z"/>
<path class=q d="M1471 2139l19 26l-33-2l-19-23zm-19 15l19-15l-33 1l-19 1z"/>
<path class=p d="M1433 2163l19-9l-33-13l-18 27z"/>
<path class=r d="M1414 2142l19 21l-32 5l-19-15zm-18 8l18-8l-32 11l-19-5z"/>
<path class=o d="M1377 2186l19-36l-33-2l-19-42z"/>
<path class=u d="M1358 2099l19 87l-33-80l-19 5z"/>
<path class=t d="M1339 2125l19-26l-33 12l-18 17z"/>
<path class=s d="M1320 2140l19-15l-32 3l-19-11zm-18 8l18-8l-32-23l-19-43zm-19-2l19 2l-33-74l-19 9z"/>
<path class=t d="M1264 2134l19 12l-33-63l-19 29z"/>
<path class=v d="M1245 2105l19 29l-33-22l-19 30z"/>
<path class=s d="M1226 2164l19-59l-33 37l-18-2zm-19 4l19-4l-32-24l-19-7zm-18 2l18-2l-32-35l-19 73z"/>
<path class=q d="M1170 2199l19-29l-33 36l-19 8z"/>
<path class=n d="M1151 2243l19-44l-33 15l-19 20z"/>
<path class=o d="M1132 2245l19-2l-33-9l-18 10z"/>
<path class=n d="M1113 2258l19-13l-32-1l-19-5z"/>
<path class=l d="M1095 2293l18-35l-32-19l-19 20zm-19 5l19-5l-33-34l-19 25z"/>
<path class=m d="M1057 2277l19 21l-33-14l-19 18z"/>
<path class=l d="M1038 2309l19-32l-33 25l-18 28z"/>
<path class=v d="M1936 1994l19 2l-33-20l-19 25z"/>
<path class=u d="M1917 2018l19-24l-33 7l-18 77z"/>
<path class=q d="M1898 2081l19-63l-32 60l-19-5z"/>
<path class=p d="M1880 2098l18-17l-32-8l-19 33z"/>
<path class=n d="M1861 2138l19-40l-33 8l-19 7z"/>
<path class=p d="M1842 2112l19 26l-33-25l-19-2z"/>
<path class=o d="M1823 2123l19-11l-33-1l-18-12zm-19 1l19-1l-32-24l-19-9z"/>
<path class=q d="M1786 2100l18 24l-32-34l-19-4z"/>
<path class=r d="M1767 2091l19 9l-33-14l-19 23z"/>
<path class=o d="M1748 2140l19-49l-33 18l-19 18z"/>
<path class=r d="M1729 2103l19 37l-33-13l-18-13z"/>
<path class=n d="M1710 2156l19-53l-32 11l-19 24zm-18 10l18-10l-32-18l-19 9z"/>
<path class=p d="M1673 2139l19 27l-33-19l-19 1z"/>
<path class=o d="M1654 2160l19-21l-33 9l-19 6z"/>
<path class=p d="M1635 2144l19 16l-33-6l-19-11z"/>
<path class=o d="M1616 2160l19-16l-33-1l-18-7z"/>
<path class=p d="M1597 2160l19 0l-32-24l-19 19z"/>
<path class=o d="M1579 2170l18-10l-32-5l-19-9zm-19 13l19-13l-33-24l-19-13z"/>
<path class=q d="M1541 2151l19 32l-33-50l-19 40z"/>
<path class=p d="M1522 2173l19-22l-33 22l-18-8zm-19-5l19 5l-32-8l-19-26z"/>
<path class=q d="M1485 2160l18 8l-32-29l-19 15zm-19 4l19-4l-33-6l-19 9z"/>
<path class=p d="M1447 2184l19-20l-33-1l-19-21z"/>
<path class=r d="M1428 2153l19 31l-33-42l-18 8z"/>
<path class=p d="M1409 2190l19-37l-32-3l-19 36z"/>
<path class=s d="M1391 2147l18 43l-32-4l-19-87zm-19-2l19 2l-33-48l-19 26zm-19 10l19-10l-33-20l-19 15zm-19-2l19 2l-33-15l-18 8z"/>
<path class=t d="M1315 2140l19 13l-32-5l-19-2z"/>
<path class=q d="M1297 2189l18-49l-32 6l-19-12z"/>
<path class=p d="M1278 2208l19-19l-33-55l-19-29z"/>
<path class=q d="M1259 2206l19 2l-33-103l-19 59z"/>
<path class=p d="M1240 2214l19-8l-33-42l-19 4z"/>
<path class=o d="M1221 2231l19-17l-33-46l-18 2z"/>
<path class=q d="M1202 2217l19 14l-32-61l-19 29z"/>
<path class=o d="M1184 2247l18-30l-32-18l-19 44z"/>
<path class=p d="M1165 2234l19 13l-33-4l-19 2z"/>
<path class=n d="M1146 2268l19-34l-33 11l-19 13z"/>
<path class=m d="M1127 2284l19-16l-33-10l-18 35z"/>
<path class=l d="M1108 2310l19-26l-32 9l-19 5z"/>
<path class=m d="M1090 2295l18 15l-32-12l-19-21z"/>
<path class=k d="M1071 2326l19-31l-33-18l-19 32z"/>
<path class=q d="M1969 2085l18-14l-32-75l-19-2zm-19 7l19-7l-33-91l-19 24z"/>
<path class=p d="M1931 2103l19-11l-33-74l-19 63z"/>
<path class=o d="M1912 2119l19-16l-33-22l-18 17z"/>
<path class=p d="M1893 2122l19-3l-32-21l-19 40z"/>
<path class=n d="M1875 2144l18-22l-32 16l-19-26z"/>
<path class=o d="M1856 2138l19 6l-33-32l-19 11zm-19-1l19 1l-33-15l-19 1z"/>
<path class=p d="M1818 2135l19 2l-33-13l-18-24zm-19 2l19-2l-32-35l-19-9z"/>
<path class=o d="M1781 2152l18-15l-32-46l-19 49z"/>
<path class=p d="M1762 2141l19 11l-33-12l-19-37z"/>
<path class=n d="M1743 2169l19-28l-33-38l-19 53zm-19 6l19-6l-33-13l-18 10zm-19 9l19-9l-32-9l-19-27z"/>
<path class=p d="M1687 2147l18 37l-32-45l-19 21z"/>
<path class=q d="M1668 2146l19 1l-33 13l-19-16zm-19 4l19-4l-33-2l-19 16z"/>
<path class=p d="M1630 2168l19-18l-33 10l-19 0zm-19 0l19 0l-33-8l-18 10z"/>
<path class=q d="M1592 2154l19 14l-32 2l-19 13zm-18 11l18-11l-32 29l-19-32z"/>
<path class=p d="M1555 2175l19-10l-33-14l-19 22zm-19 13l19-13l-33-2l-19-5z"/>
<path class=q d="M1517 2171l19 17l-33-20l-18-8z"/>
<path class=o d="M1498 2197l19-26l-32-11l-19 4z"/>
<path class=p d="M1480 2186l18 11l-32-33l-19 20zm-19 9l19-9l-33-2l-19-31z"/>
<path class=o d="M1442 2208l19-13l-33-42l-19 37z"/>
<path class=p d="M1423 2199l19 9l-33-18l-18-43z"/>
<path class=q d="M1404 2193l19 6l-32-52l-19-2zm-18 2l18-2l-32-48l-19 10z"/>
<path class=p d="M1367 2209l19-14l-33-40l-19-2z"/>
<path class=o d="M1348 2227l19-18l-33-56l-19-13z"/>
<path class=p d="M1329 2212l19 15l-33-87l-18 49z"/>
<path class=q d="M1310 2210l19 2l-32-23l-19 19z"/>
<path class=p d="M1291 2220l19-10l-32-2l-19-2zm-18 5l18-5l-32-14l-19 8zm-19 9l19-9l-33-11l-19 17zm-19 2l19-2l-33-3l-19-14zm-19 2l19-2l-33-19l-18 30zm-19 4l19-4l-32 9l-19-13z"/>
<path class=q d="M1179 2238l18 4l-32-8l-19 34z"/>
<path class=n d="M1160 2277l19-39l-33 30l-19 16z"/>
<path class=p d="M1141 2259l19 18l-33 7l-19 26z"/>
<path class=o d="M1122 2273l19-14l-33 51l-18-15zm-19 6l19-6l-32 22l-19 31z"/>
<path class=p d="M2001 2117l19-1l-33-45l-18 14z"/>
<path class=o d="M1982 2124l19-7l-32-32l-19 7z"/>
<path class=p d="M1964 2121l18 3l-32-32l-19 11zm-19 0l19 0l-33-18l-19 16z"/>
<path class=o d="M1926 2138l19-17l-33-2l-19 3zm-19 1l19-1l-33-16l-18 22zm-19 5l19-5l-32 5l-19-6zm-18 5l18-5l-32-6l-19-1zm-19 5l19-5l-33-12l-19-2zm-19 1l19-1l-33-19l-19 2zm-19 9l19-9l-33-18l-18 15zm-19-3l19 3l-32-12l-19-11zm-18 8l18-8l-32-20l-19 28z"/>
<path class=n d="M1757 2184l19-15l-33 0l-19 6zm-19 2l19-2l-33-9l-19 9z"/>
<path class=o d="M1719 2176l19 10l-33-2l-18-37zm-19 1l19-1l-32-29l-19-1zm-19 8l19-8l-32-31l-19 4zm-18 9l18-9l-32-35l-19 18zm-19-3l19 3l-33-26l-19 0zm-19 4l19-4l-33-23l-19-14zm-19 6l19-6l-33-41l-18 11z"/>
<path class=n d="M1587 2213l19-12l-32-36l-19 10zm-18 6l18-6l-32-38l-19 13z"/>
<path class=o d="M1550 2214l19 5l-33-31l-19-17zm-19 6l19-6l-33-43l-19 26zm-19 5l19-5l-33-23l-18-11zm-19-3l19 3l-32-39l-19 9z"/>
<path class=n d="M1475 2233l18-11l-32-27l-19 13z"/>
<path class=o d="M1456 2229l19 4l-33-25l-19-9zm-19 4l19-4l-33-30l-19-6zm-19 6l19-6l-33-40l-18 2zm-19-4l19 4l-32-44l-19 14zm-18 10l18-10l-32-26l-19 18z"/>
<path class=p d="M1362 2235l19 10l-33-18l-19-15zm-19 4l19-4l-33-23l-19-2z"/>
<path class=o d="M1324 2251l19-12l-33-29l-19 10zm-19 0l19 0l-33-31l-18 5z"/>
<path class=p d="M1286 2247l19 4l-32-26l-19 9z"/>
<path class=o d="M1268 2256l18-9l-32-13l-19 2zm-19 3l19-3l-33-20l-19 2zm-19 11l19-11l-33-21l-19 4z"/>
<path class=p d="M1211 2261l19 9l-33-28l-18-4z"/>
<path class=o d="M1192 2275l19-14l-32-23l-19 39z"/>
<path class=p d="M1174 2266l18 9l-32 2l-19-18z"/>
<path class=o d="M1155 2276l19-10l-33-7l-19 14zm-19 6l19-6l-33-3l-19 6z"/>
</g>
<text class="tt" text-anchor="middle" x="146.4" y="262.0" textLength="17.8" lengthAdjust="spacingAndGlyphs">2010</text>
<text class="tt" text-anchor="middle" x="166.6" y="258.3" textLength="17.8" lengthAdjust="spacingAndGlyphs">2013</text>
<text class="tt" text-anchor="middle" x="186.7" y="254.6" textLength="17.8" lengthAdjust="spacingAndGlyphs">2016</text>
<text class="tt" text-anchor="middle" x="206.8" y="250.9" textLength="17.8" lengthAdjust="spacingAndGlyphs">2019</text>
<text class="tt" text-anchor="middle" x="107.0" y="265.1" textLength="4.6" lengthAdjust="spacingAndGlyphs">0</text>
<text class="tt" text-anchor="middle" x="74.4" y="254.6" textLength="9.2" lengthAdjust="spacingAndGlyphs">10</text>
<text class="tt" text-anchor="middle" x="41.8" y="244.1" textLength="9.2" lengthAdjust="spacingAndGlyphs">20</text>
<text class="tt" text-anchor="end" x="33.6" y="228.5" textLength="4.6" lengthAdjust="spacingAndGlyphs">0</text>
<text class="tt" text-anchor="end" x="33.6" y="215.1" textLength="4.6" lengthAdjust="spacingAndGlyphs">1</text>
<text class="tt" text-anchor="end" x="33.6" y="201.7" textLength="4.6" lengthAdjust="spacingAndGlyphs">2</text>
<text class="tt" text-anchor="end" x="33.6" y="188.3" textLength="4.6" lengthAdjust="spacingAndGlyphs">3</text>
<text class="hh" x="26.8" y="153.6" textLength="197.1" lengthAdjust="spacingAndGlyphs">NFC Loan Growth response to Investment Shock</text>
</g>
<g id="p2R">
<path class="gg" d="M362.94 249.62L287.94 225.42M287.94 225.42L287.94 172.02M383.05 245.90L308.05 221.70M308.05 221.70L308.05 168.30M403.16 242.19L328.16 217.99M328.16 217.99L328.16 164.59M423.27 238.47L348.27 214.27M348.27 214.27L348.27 160.87M342.50 253.40L441.50 235.10M441.50 235.10L441.50 181.70M309.89 242.88L408.89 224.58M408.89 224.58L408.89 171.18M277.28 232.36L376.28 214.06M376.28 214.06L376.28 160.66M267.50 222.78L366.50 204.48M366.50 204.48L441.50 228.68M267.50 209.95L366.50 191.65M366.50 191.65L441.50 215.85M267.50 197.11L366.50 178.81M366.50 178.81L441.50 203.01M267.50 184.27L366.50 165.97M366.50 165.97L441.50 190.17"/>
<path class="bb" d="M342.50 253.40L441.50 235.10M441.50 235.10L366.50 210.90M366.50 210.90L267.50 229.20M267.50 229.20L342.50 253.40M267.50 229.20L267.50 175.80M267.50 175.80L366.50 157.50M366.50 157.50L366.50 210.90M366.50 157.50L441.50 181.70M441.50 181.70L441.50 235.10M362.94 249.62L361.23 249.07M383.05 245.90L381.34 245.35M403.16 242.19L401.45 241.63M423.27 238.47L421.56 237.92M342.50 253.40L344.27 253.07M309.89 242.88L311.66 242.55M277.28 232.36L279.05 232.03M267.50 222.78L265.30 223.08M267.50 209.95L265.30 210.25M267.50 197.11L265.30 197.41M267.50 184.27L265.30 184.57"/>
<g class=sf transform="scale(.1)">
<path class=d d="M3539 2056l18-1l-33-7l-18 2zm-18-1l18 1l-33-6l-18 1zm-18 0l18 0l-33-4l-18 1zm-18 2l18-2l-33-3l-18 4zm-18 5l18-5l-33-1l-18 5zm-18 7l18-7l-33-1l-18 6zm-18 7l18-7l-33-2l-18 6zm-19 4l19-4l-33-3l-18 4zm-18 2l18-2l-32-3l-18 1zm-18 0l18 0l-32-4l-18 0zm-18 2l18-2l-32-4l-18 0zm-18 3l18-3l-32-6l-18 0zm-18 5l18-5l-32-9l-19 0zm-18 3l18-3l-33-14l-18 3zm-18 4l18-4l-33-14l-18 4zm-18 4l18-4l-33-14l-18 5zm-18 4l18-4l-33-13l-18 5zm-18 4l18-4l-33-12l-18 4zm-18 3l18-3l-33-12l-18 5zm-18 4l18-4l-33-10l-18 5zm-18 3l18-3l-33-9l-18 5zm-19 4l19-4l-33-7l-18 3zm-18 3l18-3l-32-8l-18 2zm-18 4l18-4l-32-9l-18 2zm-18 4l18-4l-32-11l-18 4zm-18 5l18-5l-32-11l-18 6zm-18 4l18-4l-32-10l-19 6zm-18 3l18-3l-33-8l-18 5zm-18-1l18 1l-33-6l-18 3zm-18-1l18 1l-33-2l-18 0zm-18-1l18 1l-33-1l-18 1z"/>
<path class=e d="M2979 2146l18-1l-33 1l-18 2zm-18 3l18-3l-33 2l-18 5zm-18 4l18-4l-33 4l-18 6zm-19 5l19-5l-33 6l-18 5z"/>
<path class=d d="M2906 2163l18-5l-32 6l-18 2zm-18 4l18-4l-32 3l-18 0zm-18 4l18-4l-32-1l-18-1zm-18 6l18-6l-32-6l-18 1zm-18 8l18-8l-32-11l-18 3zm-18 8l18-8l-32-16l-19 6z"/>
<path class=c d="M2798 2201l18-8l-33-18l-18 6zm-18 7l18-7l-33-20l-18 6zm-18 6l18-6l-33-21l-18 6zm-18 5l18-5l-33-21l-18 6zm-18 5l18-5l-33-20l-18 6zm-18 3l18-3l-33-19l-18 4z"/>
<path class=d d="M3572 2063l18-1l-33-7l-18 1zm-19 0l19 0l-33-7l-18-1zm-18 0l18 0l-32-8l-18 0z"/>
<path class=e d="M3517 2064l18-1l-32-8l-18 2zm-18 2l18-2l-32-7l-18 5zm-18 5l18-5l-32-4l-18 7z"/>
<path class=d d="M3463 2077l18-6l-32-2l-18 7zm-18 5l18-5l-32-1l-19 4zm-18 3l18-3l-33-2l-18 2zm-18 2l18-2l-33-3l-18 0zm-18 5l18-5l-33-5l-18 2zm-18 6l18-6l-33-8l-18 3zm-18 6l18-6l-33-11l-18 5zm-18 4l18-4l-33-12l-18 3zm-18 5l18-5l-33-13l-18 4zm-19 5l19-5l-33-14l-18 4zm-18 4l18-4l-32-15l-18 4zm-18 3l18-3l-32-15l-18 4zm-18 2l18-2l-32-14l-18 3zm-18 1l18-1l-32-13l-18 4zm-18 2l18-2l-32-10l-18 3zm-18 4l18-4l-32-9l-19 4zm-18 4l18-4l-33-9l-18 3zm-18 5l18-5l-33-10l-18 4zm-18 3l18-3l-33-11l-18 4zm-18 3l18-3l-33-10l-18 5zm-18 0l18 0l-33-8l-18 4zm-18-2l18 2l-33-4l-18 3z"/>
<path class=e d="M3066 2145l18 2l-33 1l-18-1zm-19 0l19 0l-33 2l-18-1zm-18 3l18-3l-32 1l-18-1zm-18 3l18-3l-32-3l-18 1zm-18 4l18-4l-32-5l-18 3zm-18 5l18-5l-32-6l-18 4zm-18 4l18-4l-32-7l-19 5zm-18 5l18-5l-33-6l-18 5z"/>
<path class=d d="M2921 2176l18-7l-33-6l-18 4zm-18 9l18-9l-33-9l-18 4zm-18 9l18-9l-33-14l-18 6z"/>
<path class=c d="M2867 2203l18-9l-33-17l-18 8zm-18 6l18-6l-33-18l-18 8zm-18 5l18-5l-33-16l-18 8zm-18 5l18-5l-33-13l-18 7zm-19 4l19-4l-33-11l-18 6zm-18 6l18-6l-32-9l-18 5zm-18 5l18-5l-32-10l-18 5zm-18 4l18-4l-32-10l-18 3z"/>
<path class=d d="M3604 2078l18-3l-32-13l-18 1zm-18 2l18-2l-32-15l-19 0zm-18 0l18 0l-33-17l-18 0zm-18 0l18 0l-33-17l-18 1zm-18 0l18 0l-33-16l-18 2z"/>
<path class=e d="M3514 2081l18-1l-33-14l-18 5zm-18 2l18-2l-33-10l-18 6zm-18 3l18-3l-33-6l-18 5zm-18 4l18-4l-33-4l-18 3zm-18 4l18-4l-33-5l-18 2z"/>
<path class=d d="M3423 2100l19-6l-33-7l-18 5zm-18 8l18-8l-32-8l-18 6zm-18 8l18-8l-32-10l-18 6zm-18 6l18-6l-32-12l-18 4zm-18 5l18-5l-32-14l-18 5zm-18 3l18-3l-32-14l-19 5zm-18 3l18-3l-33-12l-18 4zm-18 1l18-1l-33-11l-18 3zm-18 1l18-1l-33-9l-18 2zm-18 0l18 0l-33-8l-18 1zm-18 1l18-1l-33-7l-18 2zm-18 3l18-3l-33-6l-18 4zm-18 5l18-5l-33-5l-18 4zm-19 5l19-5l-33-6l-18 5zm-18 5l18-5l-32-6l-18 3zm-18 1l18-1l-32-8l-18 3zm-18-1l18 1l-32-6l-18 0z"/>
<path class=e d="M3116 2151l18 3l-32-5l-18-2zm-18-2l18 2l-32-4l-18-2zm-18 1l18-1l-32-4l-19 0zm-18 4l18-4l-33-5l-18 3zm-18 7l18-7l-33-6l-18 3zm-18 8l18-8l-33-10l-18 4zm-18 4l18-4l-33-14l-18 5zm-18 5l18-5l-33-13l-18 4z"/>
<path class=d d="M2972 2183l18-5l-33-14l-18 5zm-18 9l18-9l-33-14l-18 7zm-19 9l19-9l-33-16l-18 9z"/>
<path class=c d="M2917 2210l18-9l-32-16l-18 9zm-18 6l18-6l-32-16l-18 9zm-18 4l18-4l-32-13l-18 6zm-18 1l18-1l-32-11l-18 5z"/>
<path class=d d="M2845 2221l18 0l-32-7l-18 5zm-18 2l18-2l-32-2l-19 4zm-18 5l18-5l-33 0l-18 6z"/>
<path class=c d="M2791 2235l18-7l-33 1l-18 5zm-18 7l18-7l-33-1l-18 4z"/>
<path class=c d="M3637 2092l18-2l-33-15l-18 3z"/>
<path class=d d="M3619 2093l18-1l-33-14l-18 2zm-18 1l18-1l-33-13l-18 0zm-18 0l18 0l-33-14l-18 0zm-19-1l19 1l-33-14l-18 0z"/>
<path class=e d="M3546 2093l18 0l-32-13l-18 1zm-18 0l18 0l-32-12l-18 2zm-18 2l18-2l-32-10l-18 3zm-18 3l18-3l-32-9l-18 4zm-18 5l18-5l-32-8l-18 4z"/>
<path class=d d="M3456 2111l18-8l-32-9l-19 6zm-18 11l18-11l-33-11l-18 8z"/>
<path class=c d="M3420 2132l18-10l-33-14l-18 8zm-18 8l18-8l-33-16l-18 6zm-18 3l18-3l-33-18l-18 5zm-18 0l18 0l-33-16l-18 3z"/>
<path class=d d="M3348 2142l18 1l-33-13l-18 3zm-18 0l18 0l-33-9l-18 1zm-19 1l19-1l-33-8l-18 1zm-18 1l18-1l-32-8l-18 0zm-18 3l18-3l-32-9l-18 1zm-18 5l18-5l-32-11l-18 3zm-18 6l18-6l-32-13l-18 5zm-18 5l18-5l-32-14l-19 5zm-18 4l18-4l-33-14l-18 5zm-18 2l18-2l-33-13l-18 1zm-18-1l18 1l-33-14l-18-1z"/>
<path class=e d="M3149 2164l18 4l-33-14l-18-3zm-18-1l18 1l-33-13l-18-2zm-18-1l18 1l-33-14l-18 1zm-18 5l18-5l-33-12l-18 4zm-18 7l18-7l-33-13l-18 7zm-19 7l19-7l-33-13l-18 8zm-18 5l18-5l-32-12l-18 4z"/>
<path class=d d="M3022 2191l18-5l-32-13l-18 5zm-18 5l18-5l-32-13l-18 5zm-18 6l18-6l-32-13l-18 9zm-18 7l18-7l-32-10l-19 9zm-18 7l18-7l-33-8l-18 9zm-18 5l18-5l-33-6l-18 6zm-18 4l18-4l-33-5l-18 4zm-18 1l18-1l-33-5l-18 1zm-18 1l18-1l-33-5l-18 0zm-18 2l18-2l-33-6l-18 2zm-18 6l18-6l-33-6l-18 5z"/>
<path class=c d="M2824 2244l18-9l-33-7l-18 7zm-19 8l19-8l-33-9l-18 7z"/>
<path class=d d="M3669 2100l18-2l-32-8l-18 2zm-18 1l18-1l-32-8l-18 1zm-18 0l18 0l-32-8l-18 1zm-18 0l18 0l-32-7l-18 0zm-18 0l18 0l-32-7l-19-1z"/>
<path class=e d="M3579 2101l18 0l-33-8l-18 0zm-18 1l18-1l-33-8l-18 0zm-18 3l18-3l-33-9l-18 2zm-18 3l18-3l-33-10l-18 3zm-18 6l18-6l-33-10l-18 5z"/>
<path class=d d="M3489 2122l18-8l-33-11l-18 8zm-18 11l18-11l-33-11l-18 11zm-18 10l18-10l-33-11l-18 10z"/>
<path class=c d="M3434 2149l19-6l-33-11l-18 8zm-18 1l18-1l-32-9l-18 3z"/>
<path class=d d="M3398 2149l18 1l-32-7l-18 0zm-18 0l18 0l-32-6l-18-1zm-18 2l18-2l-32-7l-18 0zm-18 3l18-3l-32-9l-19 1zm-18 4l18-4l-33-11l-18 1zm-18 5l18-5l-33-14l-18 3zm-18 5l18-5l-33-16l-18 5zm-18 5l18-5l-33-16l-18 6zm-18 3l18-3l-33-15l-18 5zm-18 2l18-2l-33-13l-18 4zm-18 0l18 0l-33-11l-18 2zm-19-1l19 1l-33-9l-18-1z"/>
<path class=e d="M3181 2175l18 2l-32-9l-18-4zm-18-1l18 1l-32-11l-18-1zm-18 1l18-1l-32-11l-18-1zm-18 4l18-4l-32-13l-18 5zm-18 5l18-5l-32-12l-18 7zm-18 7l18-7l-32-10l-19 7zm-18 6l18-6l-33-10l-18 5z"/>
<path class=d d="M3055 2201l18-4l-33-11l-18 5zm-18 3l18-3l-33-10l-18 5zm-18 4l18-4l-33-8l-18 6zm-18 4l18-4l-33-6l-18 7zm-18 4l18-4l-33-3l-18 7zm-18 5l18-5l-33 0l-18 5zm-19 5l19-5l-33 0l-18 4zm-18 4l18-4l-32-1l-18 1zm-18 5l18-5l-32-4l-18 1zm-18 6l18-6l-32-8l-18 2zm-18 7l18-7l-32-12l-18 6z"/>
<path class=c d="M2856 2256l18-8l-32-13l-18 9zm-18 7l18-7l-32-12l-19 8z"/>
<path class=d d="M3702 2103l18-6l-33 1l-18 2zm-18 4l18-4l-33-3l-18 1zm-18 1l18-1l-33-6l-18 0z"/>
<path class=e d="M3648 2107l18 1l-33-7l-18 0zm-18-2l18 2l-33-6l-18 0zm-18 2l18-2l-33-4l-18 0zm-18 3l18-3l-33-6l-18 1zm-19 4l19-4l-33-8l-18 3zm-18 6l18-6l-32-9l-18 3zm-18 4l18-4l-32-12l-18 6zm-18 6l18-6l-32-10l-18 8z"/>
<path class=d d="M3503 2136l18-6l-32-8l-18 11zm-18 6l18-6l-32-3l-18 10zm-18 3l18-3l-32 1l-19 6zm-18 1l18-1l-33 4l-18 1z"/>
<path class=e d="M3431 2147l18-1l-33 4l-18-1zm-18 4l18-4l-33 2l-18 0z"/>
<path class=d d="M3395 2156l18-5l-33-2l-18 2zm-18 5l18-5l-33-5l-18 3zm-18 5l18-5l-33-7l-18 4zm-18 4l18-4l-33-8l-18 5zm-19 5l19-5l-33-7l-18 5zm-18 4l18-4l-32-7l-18 5zm-18 2l18-2l-32-6l-18 3zm-18 2l18-2l-32-5l-18 2zm-18 2l18-2l-32-5l-18 0zm-18 1l18-1l-32-7l-19-1z"/>
<path class=e d="M3214 2187l18-1l-33-9l-18-2zm-18 0l18 0l-33-12l-18-1zm-18-1l18 1l-33-13l-18 1zm-18 1l18-1l-33-11l-18 4zm-18 4l18-4l-33-8l-18 5zm-18 8l18-8l-33-7l-18 7zm-18 5l18-5l-33-8l-18 6zm-18 4l18-4l-33-7l-18 4zm-19 5l19-5l-33-7l-18 3zm-18 3l18-3l-32-9l-18 4zm-18 4l18-4l-32-8l-18 4z"/>
<path class=d d="M3015 2225l18-5l-32-8l-18 4zm-18 6l18-6l-32-9l-18 5zm-18 6l18-6l-32-10l-19 5zm-18 6l18-6l-33-11l-18 4zm-18 7l18-7l-33-13l-18 5zm-18 5l18-5l-33-15l-18 6z"/>
<path class=c d="M2907 2261l18-6l-33-14l-18 7zm-18 4l18-4l-33-13l-18 8zm-18 5l18-5l-33-9l-18 7z"/>
<path class=d d="M3735 2109l18-11l-33-1l-18 6zm-18 7l18-7l-33-6l-18 4zm-19 3l19-3l-33-9l-18 1zm-18 0l18 0l-32-11l-18-1z"/>
<path class=e d="M3662 2117l18 2l-32-12l-18-2zm-18 0l18 0l-32-12l-18 2zm-18 3l18-3l-32-10l-18 3zm-18 4l18-4l-32-10l-19 4zm-18 4l18-4l-33-10l-18 6zm-18 2l18-2l-33-8l-18 4zm-18 2l18-2l-33-6l-18 6zm-18 3l18-3l-33-2l-18 6zm-18 0l18 0l-33 1l-18 6zm-18 3l18-3l-33 7l-18 3zm-18 4l18-4l-33 7l-18 1zm-18 6l18-6l-33 4l-18 1zm-19 7l19-7l-33-1l-18 4zm-18 8l18-8l-32-4l-18 5z"/>
<path class=d d="M3409 2170l18-7l-32-7l-18 5zm-18 5l18-5l-32-9l-18 5zm-18 4l18-4l-32-9l-18 4zm-18 5l18-5l-32-9l-19 5zm-18 5l18-5l-33-9l-18 4zm-18 4l18-4l-33-10l-18 2zm-18 2l18-2l-33-12l-18 2zm-18 3l18-3l-33-12l-18 2zm-18 3l18-3l-33-13l-18 1zm-18 3l18-3l-33-15l-18 1zm-18 2l18-2l-33-17l-18 0zm-19 1l19-1l-33-19l-18-1z"/>
<path class=e d="M3192 2208l18-1l-32-21l-18 1zm-18 3l18-3l-32-21l-18 4zm-18 4l18-4l-32-20l-18 8zm-18 3l18-3l-32-16l-18 5zm-18 2l18-2l-32-14l-18 4zm-18 2l18-2l-32-12l-19 5zm-18 3l18-3l-33-9l-18 3zm-18 4l18-4l-33-9l-18 4z"/>
<path class=d d="M3048 2235l18-6l-33-9l-18 5zm-18 6l18-6l-33-10l-18 6zm-18 7l18-7l-33-10l-18 6zm-18 9l18-9l-33-11l-18 6z"/>
<path class=c d="M2976 2264l18-7l-33-14l-18 7zm-19 6l19-6l-33-14l-18 5zm-18 3l18-3l-32-15l-18 6zm-18 2l18-2l-32-12l-18 4z"/>
<path class=d d="M2903 2276l18-1l-32-10l-18 5z"/>
<path class=e d="M3767 2116l18-8l-32-10l-18 11z"/>
<path class=d d="M3749 2123l18-7l-32-7l-18 7zm-18 4l18-4l-32-7l-19 3z"/>
<path class=e d="M3713 2128l18-1l-33-8l-18 0zm-18 0l18 0l-33-9l-18-2zm-18 0l18 0l-33-11l-18 0zm-18 1l18-1l-33-11l-18 3zm-18 3l18-3l-33-9l-18 4zm-18 2l18-2l-33-8l-18 4zm-18 1l18-1l-33-6l-18 2z"/>
<path class=f d="M3586 2135l19 0l-33-5l-18 2zm-18-2l18 2l-32-3l-18 3zm-18 1l18-1l-32 2l-18 0zm-18 6l18-6l-32 1l-18 3zm-18 6l18-6l-32-2l-18 4z"/>
<path class=e d="M3496 2154l18-8l-32-4l-18 6zm-18 12l18-12l-32-6l-19 7z"/>
<path class=d d="M3460 2176l18-10l-33-11l-18 8zm-18 8l18-8l-33-13l-18 7zm-18 6l18-6l-33-14l-18 5zm-18 4l18-4l-33-15l-18 4zm-18 4l18-4l-33-15l-18 5zm-18 4l18-4l-33-14l-18 5zm-18 5l18-5l-33-13l-18 4zm-19 4l19-4l-33-14l-18 2zm-18 5l18-5l-32-16l-18 3zm-18 5l18-5l-32-18l-18 3z"/>
<path class=c d="M3279 2225l18-4l-32-20l-18 3zm-18 4l18-4l-32-21l-18 2zm-18 3l18-3l-32-23l-19 1zm-18 3l18-3l-33-25l-18 1zm-18 4l18-4l-33-27l-18 3zm-18 3l18-3l-33-28l-18 4z"/>
<path class=d d="M3171 2242l18 0l-33-27l-18 3zm-18-3l18 3l-33-24l-18 2z"/>
<path class=e d="M3135 2235l18 4l-33-19l-18 2zm-18-2l18 2l-33-13l-18 3zm-18 4l18-4l-33-8l-18 4zm-19 6l19-6l-33-8l-18 6z"/>
<path class=d d="M3062 2251l18-8l-32-8l-18 6zm-18 8l18-8l-32-10l-18 7zm-18 8l18-8l-32-11l-18 9zm-18 6l18-6l-32-10l-18 7zm-18 4l18-4l-32-9l-19 6zm-18 2l18-2l-33-7l-18 3zm-18 0l18 0l-33-6l-18 2zm-18 2l18-2l-33-4l-18 1z"/>
<path class=e d="M3800 2124l18-7l-33-9l-18 8zm-18 4l18-4l-33-8l-18 7zm-18 3l18-3l-33-5l-18 4zm-18 2l18-2l-33-4l-18 1zm-18 1l18-1l-33-5l-18 0zm-19 2l19-2l-33-6l-18 0zm-18 2l18-2l-32-8l-18 1zm-18 2l18-2l-32-9l-18 3zm-18 5l18-5l-32-8l-18 2zm-18 1l18-1l-32-11l-18 1z"/>
<path class=f d="M3619 2144l18 2l-32-11l-19 0zm-18-2l18 2l-33-9l-18-2zm-18 4l18-4l-33-9l-18 1zm-18 5l18-5l-33-12l-18 6zm-18 7l18-7l-33-11l-18 6z"/>
<path class=e d="M3529 2170l18-12l-33-12l-18 8zm-18 10l18-10l-33-16l-18 12z"/>
<path class=d d="M3493 2190l18-10l-33-14l-18 10zm-18 8l18-8l-33-14l-18 8zm-19 5l19-5l-33-14l-18 6zm-18 2l18-2l-32-13l-18 4zm-18 1l18-1l-32-11l-18 4zm-18 2l18-2l-32-8l-18 4zm-18 4l18-4l-32-6l-18 5zm-18 7l18-7l-32-5l-19 4zm-18 8l18-8l-33-8l-18 5z"/>
<path class=c d="M3330 2235l18-8l-33-11l-18 5zm-18 5l18-5l-33-14l-18 4zm-18 3l18-3l-33-15l-18 4zm-18 3l18-3l-33-14l-18 3zm-18 4l18-4l-33-14l-18 3zm-18 5l18-5l-33-15l-18 4zm-19 4l19-4l-33-16l-18 3zm-18 0l18 0l-32-17l-18 0z"/>
<path class=d d="M3185 2254l18 5l-32-17l-18-3zm-18-6l18 6l-32-15l-18-4z"/>
<path class=e d="M3149 2244l18 4l-32-13l-18-2zm-18 3l18-3l-32-11l-18 4zm-18 8l18-8l-32-10l-19 6z"/>
<path class=d d="M3095 2266l18-11l-33-12l-18 8zm-18 10l18-10l-33-15l-18 8z"/>
<path class=c d="M3059 2282l18-6l-33-17l-18 8z"/>
<path class=d d="M3041 2284l18-2l-33-15l-18 6zm-18 1l18-1l-33-11l-18 4zm-18 0l18 0l-33-8l-18 2zm-18 2l18-2l-33-6l-18 0zm-19 3l19-3l-33-8l-18 2z"/>
<path class=e d="M3832 2127l19-4l-33-6l-18 7zm-18 3l18-3l-32-3l-18 4zm-18 6l18-6l-32-2l-18 3zm-18 3l18-3l-32-5l-18 2zm-18 4l18-4l-32-6l-18 1zm-18 4l18-4l-32-9l-19 2zm-18 4l18-4l-33-11l-18 2zm-18 3l18-3l-33-13l-18 2zm-18 6l18-6l-33-14l-18 5zm-18 2l18-2l-33-15l-18 1zm-18 0l18 0l-33-16l-18-2zm-18 1l18-1l-33-18l-18-2zm-18 2l18-2l-33-21l-18 4z"/>
<path class=f d="M3597 2167l19-2l-33-19l-18 5z"/>
<path class=e d="M3579 2176l18-9l-32-16l-18 7zm-18 8l18-8l-32-18l-18 12z"/>
<path class=d d="M3543 2193l18-9l-32-14l-18 10zm-18 9l18-9l-32-13l-18 10zm-18 6l18-6l-32-12l-18 8zm-18 4l18-4l-32-10l-19 5zm-18 1l18-1l-33-9l-18 2zm-18 0l18 0l-33-8l-18 1zm-18 1l18-1l-33-7l-18 2zm-18 3l18-3l-33-6l-18 4zm-18 7l18-7l-33-5l-18 7zm-18 8l18-8l-33-5l-18 8zm-18 7l18-7l-33-5l-18 8zm-19 6l19-6l-33-4l-18 5zm-18 3l18-3l-32-5l-18 3zm-18 3l18-3l-32-5l-18 3zm-18 4l18-4l-32-5l-18 4z"/>
<path class=c d="M3272 2259l18-4l-32-5l-18 5zm-18 5l18-5l-32-4l-19 4zm-18 3l18-3l-33-5l-18 0z"/>
<path class=d d="M3218 2266l18 1l-33-8l-18-5zm-18-3l18 3l-33-12l-18-6zm-18 0l18 0l-33-15l-18-4zm-18 4l18-4l-33-19l-18 3zm-18 10l18-10l-33-20l-18 8z"/>
<path class=c d="M3128 2288l18-11l-33-22l-18 11zm-18 8l18-8l-33-22l-18 10zm-19 5l19-5l-33-20l-18 6zm-18-1l18 1l-32-19l-18 2zm-18-1l18 1l-32-16l-18 1z"/>
<path class=d d="M3037 2299l18 0l-32-14l-18 0zm-18 3l18-3l-32-14l-18 2zm-18 4l18-4l-32-15l-19 3z"/>
<path class=f d="M3865 2126l18-4l-32 1l-19 4zm-18 4l18-4l-33 1l-18 3zm-18 5l18-5l-33 0l-18 6zm-18 7l18-7l-33 1l-18 3zm-18 5l18-5l-33-3l-18 4z"/>
<path class=e d="M3775 2153l18-6l-33-4l-18 4zm-18 6l18-6l-33-6l-18 4zm-18 7l18-7l-33-8l-18 3zm-19 8l19-8l-33-12l-18 6zm-18 1l18-1l-32-14l-18 2zm-18 6l18-6l-32-13l-18 0zm-18-1l18 1l-32-19l-18 1zm-18 2l18-2l-32-17l-18 2zm-18 2l18-2l-32-17l-19 2zm-18 5l18-5l-33-17l-18 9zm-18 6l18-6l-33-13l-18 8zm-18 6l18-6l-33-11l-18 9z"/>
<path class=d d="M3558 2208l18-7l-33-8l-18 9zm-18 6l18-6l-33-6l-18 6zm-18 4l18-4l-33-6l-18 4zm-18 1l18-1l-33-6l-18 1z"/>
<path class=e d="M3486 2220l18-1l-33-6l-18 0zm-19 1l19-1l-33-7l-18 1zm-18 3l18-3l-32-7l-18 3zm-18 5l18-5l-32-7l-18 7z"/>
<path class=d d="M3413 2237l18-8l-32-5l-18 8zm-18 9l18-9l-32-5l-18 7zm-18 8l18-8l-32-7l-19 6zm-18 4l18-4l-33-9l-18 3zm-18 3l18-3l-33-10l-18 3zm-18 3l18-3l-33-10l-18 4zm-18 4l18-4l-33-9l-18 4z"/>
<path class=c d="M3287 2274l18-6l-33-9l-18 5zm-18 5l18-5l-33-10l-18 3zm-18 3l18-3l-33-12l-18-1zm-19 2l19-2l-33-16l-18-3zm-18 3l18-3l-32-21l-18 0zm-18 5l18-5l-32-24l-18 4zm-18 6l18-6l-32-25l-18 10zm-18 7l18-7l-32-21l-18 11zm-18 5l18-5l-32-17l-18 8zm-18 2l18-2l-32-14l-19 5zm-18 0l18 0l-33-11l-18-1zm-18 0l18 0l-33-12l-18-1z"/>
<path class=d d="M3070 2312l18 0l-33-13l-18 0zm-18 3l18-3l-33-13l-18 3z"/>
<path class=c d="M3034 2320l18-5l-33-13l-18 4z"/>
<path class=g d="M3898 2127l18-4l-33-1l-18 4zm-18 1l18-1l-33-1l-18 4z"/>
<path class=f d="M3862 2140l18-12l-33 2l-18 5z"/>
<path class=g d="M3843 2135l19 5l-33-5l-18 7zm-18 0l18 0l-32 7l-18 5zm-18 10l18-10l-32 12l-18 6z"/>
<path class=f d="M3789 2154l18-9l-32 8l-18 6zm-18 6l18-6l-32 5l-18 7z"/>
<path class=e d="M3753 2174l18-14l-32 6l-19 8z"/>
<path class=f d="M3735 2172l18 2l-33 0l-18 1z"/>
<path class=e d="M3717 2188l18-16l-33 3l-18 6zm-18 2l18-2l-33-7l-18-1zm-18 5l18-5l-33-10l-18 2zm-18 3l18-3l-33-13l-18 2zm-18 5l18-5l-33-14l-18 5zm-18 0l18 0l-33-14l-18 6zm-19 5l19-5l-33-8l-18 6zm-18 2l18-2l-32-7l-18 7zm-18 3l18-3l-32-2l-18 6zm-18 5l18-5l-32 1l-18 4zm-18 1l18-1l-32 0l-18 1zm-18-3l18 3l-32 0l-18 1zm-18 3l18-3l-32 4l-19 1zm-18 5l18-5l-33 2l-18 3zm-18 3l18-3l-33 0l-18 5zm-18 11l18-11l-33 2l-18 8zm-18 9l18-9l-33-1l-18 9z"/>
<path class=d d="M3410 2258l18-11l-33-1l-18 8zm-18 6l18-6l-33-4l-18 4zm-18 4l18-4l-33-6l-18 3zm-19 5l19-5l-33-7l-18 3zm-18 3l18-3l-32-9l-18 4zm-18 5l18-5l-32-8l-18 6zm-18 5l18-5l-32-7l-18 5z"/>
<path class=c d="M3283 2290l18-4l-32-7l-18 3zm-18 4l18-4l-32-8l-19 2zm-18 4l18-4l-33-10l-18 3zm-18 4l18-4l-33-11l-18 5zm-18 4l18-4l-33-10l-18 6zm-18 4l18-4l-33-8l-18 7zm-18 4l18-4l-33-5l-18 5zm-18 3l18-3l-33-4l-18 2zm-18 1l18-1l-33-5l-18 0z"/>
<path class=d d="M3121 2318l18 0l-33-6l-18 0zm-19 1l19-1l-33-6l-18 0zm-18 2l18-2l-32-7l-18 3zm-18 5l18-5l-32-6l-18 5z"/>
<path class=h d="M3930 2110l18 1l-32 12l-18 4z"/>
<path class=i d="M3912 2112l18-2l-32 17l-18 1z"/>
<path class=h d="M3894 2120l18-8l-32 16l-18 12zm-18 0l18 0l-32 20l-19-5z"/>
<path class=i d="M3858 2108l18 12l-33 15l-18 0zm-18 17l18-17l-33 27l-18 10zm-18 4l18-4l-33 20l-18 9z"/>
<path class=h d="M3804 2134l18-5l-33 25l-18 6z"/>
<path class=g d="M3786 2154l18-20l-33 26l-18 14zm-18 3l18-3l-33 20l-18-2z"/>
<path class=f d="M3750 2179l18-22l-33 15l-18 16zm-19 3l19-3l-33 9l-18 2zm-18 7l18-7l-32 8l-18 5zm-18 9l18-9l-32 6l-18 3z"/>
<path class=e d="M3677 2205l18-7l-32 0l-18 5z"/>
<path class=f d="M3659 2205l18 0l-32-2l-18 0zm-18 1l18-1l-32-2l-19 5zm-18-1l18 1l-33 2l-18 2zm-18-2l18 2l-33 5l-18 3z"/>
<path class=g d="M3587 2203l18 0l-33 10l-18 5zm-18 3l18-3l-33 15l-18 1zm-18-2l18 2l-33 13l-18-3zm-18 6l18-6l-33 12l-18 3zm-18 2l18-2l-33 9l-18 5zm-18 4l18-4l-33 12l-18 3zm-19 6l19-6l-33 11l-18 11z"/>
<path class=f d="M3460 2233l18-11l-32 16l-18 9z"/>
<path class=e d="M3442 2246l18-13l-32 14l-18 11zm-18 5l18-5l-32 12l-18 6zm-18 8l18-8l-32 13l-18 4zm-18 11l18-11l-32 9l-19 5z"/>
<path class=d d="M3370 2276l18-6l-33 3l-18 3zm-18 7l18-7l-33 0l-18 5zm-18 5l18-5l-33-2l-18 5zm-18 3l18-3l-33-2l-18 4zm-18 2l18-2l-33-1l-18 4zm-18 1l18-1l-33 1l-18 4zm-18 4l18-4l-33 4l-18 4zm-19 5l19-5l-33 4l-18 4zm-18 7l18-7l-32 3l-18 4zm-18 8l18-8l-32 0l-18 4zm-18 6l18-6l-32-4l-18 3zm-18 3l18-3l-32-7l-18 1zm-18 1l18-1l-32-9l-18 0zm-18 0l18 0l-32-10l-19 1zm-18 1l18-1l-33-9l-18 2zm-18 4l18-4l-33-8l-18 5z"/>
<path class=k d="M3963 2077l18-9l-33 43l-18-1zm-18 4l18-4l-33 33l-18 2z"/>
<path class=j d="M3927 2096l18-15l-33 31l-18 8z"/>
<path class=k d="M3909 2093l18 3l-33 24l-18 0zm-18-6l18 6l-33 27l-18-12z"/>
<path class=m d="M3873 2070l18 17l-33 21l-18 17z"/>
<path class=l d="M3854 2081l19-11l-33 55l-18 4zm-18 10l18-10l-32 48l-18 5z"/>
<path class=j d="M3818 2119l18-28l-32 43l-18 20zm-18 4l18-4l-32 35l-18 3z"/>
<path class=h d="M3782 2156l18-33l-32 34l-18 22z"/>
<path class=i d="M3764 2148l18 8l-32 23l-19 3z"/>
<path class=h d="M3746 2170l18-22l-33 34l-18 7zm-18 7l18-7l-33 19l-18 9z"/>
<path class=g d="M3710 2192l18-15l-33 21l-18 7zm-18-3l18 3l-33 13l-18 0zm-18 1l18-1l-33 16l-18 1z"/>
<path class=h d="M3656 2184l18 6l-33 16l-18-1zm-18 4l18-4l-33 21l-18-2zm-19 2l19-2l-33 15l-18 0zm-18-2l18 2l-32 13l-18 3z"/>
<path class=i d="M3583 2175l18 13l-32 18l-18-2zm-18 13l18-13l-32 29l-18 6zm-18 3l18-3l-32 22l-18 2z"/>
<path class=j d="M3529 2182l18 9l-32 21l-18 4z"/>
<path class=i d="M3511 2201l18-19l-32 34l-19 6zm-18-9l18 9l-33 21l-18 11zm-18 16l18-16l-33 41l-18 13z"/>
<path class=h d="M3457 2216l18-8l-33 38l-18 5zm-18 11l18-11l-33 35l-18 8z"/>
<path class=g d="M3421 2242l18-15l-33 32l-18 11z"/>
<path class=f d="M3403 2255l18-13l-33 28l-18 6zm-18 7l18-7l-33 21l-18 7zm-19 7l19-7l-33 21l-18 5zm-18 6l18-6l-32 19l-18 3zm-18 6l18-6l-32 16l-18 2zm-18-1l18 1l-32 12l-18 1zm-18 6l18-6l-32 14l-18 4zm-18 7l18-7l-32 12l-19 5z"/>
<path class=e d="M3258 2304l18-11l-33 10l-18 7zm-18 10l18-10l-33 6l-18 8z"/>
<path class=d d="M3222 2325l18-11l-33 4l-18 6zm-18 6l18-6l-33-1l-18 3zm-18 3l18-3l-33-4l-18 1zm-18 1l18-1l-33-6l-18 0zm-18 4l18-4l-33-7l-18 1zm-18 5l18-5l-33-10l-18 4z"/>
<path class=n d="M3995 2038l19-12l-33 42l-18 9zm-18 13l18-13l-32 39l-18 4z"/>
<path class=m d="M3959 2067l18-16l-32 30l-18 15z"/>
<path class=o d="M3941 2040l18 27l-32 29l-18-3z"/>
<path class=r d="M3923 1998l18 42l-32 53l-18-6z"/>
<path class=q d="M3905 2010l18-12l-32 89l-18-17zm-18 11l18-11l-32 60l-19 11zm-18 6l18-6l-33 60l-18 10z"/>
<path class=n d="M3851 2078l18-51l-33 64l-18 28z"/>
<path class=p d="M3833 2050l18 28l-33 41l-18 4z"/>
<path class=k d="M3815 2124l18-74l-33 73l-18 33z"/>
<path class=l d="M3797 2116l18 8l-33 32l-18-8z"/>
<path class=j d="M3779 2142l18-26l-33 32l-18 22zm-18 8l18-8l-33 28l-18 7z"/>
<path class=i d="M3742 2172l19-22l-33 27l-18 15z"/>
<path class=j d="M3724 2163l18 9l-32 20l-18-3zm-18-2l18 2l-32 26l-18 1z"/>
<path class=k d="M3688 2154l18 7l-32 29l-18-6z"/>
<path class=j d="M3670 2161l18-7l-32 30l-18 4z"/>
<path class=k d="M3652 2158l18 3l-32 27l-19 2zm-18-6l18 6l-33 32l-18-2z"/>
<path class=l d="M3616 2148l18 4l-33 36l-18-13zm-18-3l18 3l-33 27l-18 13z"/>
<path class=m d="M3580 2141l18 4l-33 43l-18 3z"/>
<path class=n d="M3562 2124l18 17l-33 50l-18-9z"/>
<path class=l d="M3544 2158l18-34l-33 58l-18 19z"/>
<path class=m d="M3526 2142l18 16l-33 43l-18-9z"/>
<path class=l d="M3508 2161l18-19l-33 50l-18 16zm-19 9l19-9l-33 47l-18 8zm-18-1l18 1l-32 46l-18 11z"/>
<path class=k d="M3453 2192l18-23l-32 58l-18 15zm-18-3l18 3l-32 50l-18 13zm-18 15l18-15l-32 66l-18 7zm-18-2l18 2l-32 58l-19 7zm-18 0l18 0l-33 67l-18 6z"/>
<path class=j d="M3363 2222l18-20l-33 73l-18 6z"/>
<path class=k d="M3345 2217l18 5l-33 59l-18-1z"/>
<path class=i d="M3327 2242l18-25l-33 63l-18 6zm-18 13l18-13l-33 44l-18 7zm-18-1l18 1l-33 38l-18 11z"/>
<path class=h d="M3273 2265l18-11l-33 50l-18 10z"/>
<path class=g d="M3254 2287l19-22l-33 49l-18 11zm-18 12l18-12l-32 38l-18 6z"/>
<path class=f d="M3218 2309l18-10l-32 32l-18 3zm-18 11l18-11l-32 25l-18 1z"/>
<path class=e d="M3182 2335l18-15l-32 15l-18 4z"/>
<path class=d d="M3164 2353l18-18l-32 4l-18 5z"/>
<path class=r d="M4028 1996l18-3l-32 33l-19 12z"/>
<path class=p d="M4010 2028l18-32l-33 42l-18 13zm-18 10l18-10l-33 23l-18 16z"/>
<path class=s d="M3974 1995l18 43l-33 29l-18-27z"/>
<path class=v d="M3956 1947l18 48l-33 45l-18-42z"/>
<path class=t d="M3938 1971l18-24l-33 51l-18 12zm-18 11l18-11l-33 39l-18 11z"/>
<path class=u d="M3902 1968l18 14l-33 39l-18 6z"/>
<path class=q d="M3884 2042l18-74l-33 59l-18 51z"/>
<path class=s d="M3865 2013l19 29l-33 36l-18-28z"/>
<path class=n d="M3847 2089l18-76l-32 37l-18 74z"/>
<path class=m d="M3829 2100l18-11l-32 35l-18-8z"/>
<path class=l d="M3811 2126l18-26l-32 16l-18 26z"/>
<path class=m d="M3793 2116l18 10l-32 16l-18 8z"/>
<path class=k d="M3775 2149l18-33l-32 34l-19 22z"/>
<path class=l d="M3757 2137l18 12l-33 23l-18-9z"/>
<path class=m d="M3739 2126l18 11l-33 26l-18-2z"/>
<path class=l d="M3721 2147l18-21l-33 35l-18-7z"/>
<path class=m d="M3703 2125l18 22l-33 7l-18 7zm-18 9l18-9l-33 36l-18-3z"/>
<path class=n d="M3667 2129l18 5l-33 24l-18-6z"/>
<path class=p d="M3649 2090l18 39l-33 23l-18-4z"/>
<path class=o d="M3630 2106l19-16l-33 58l-18-3z"/>
<path class=p d="M3612 2103l18 3l-32 39l-18-4zm-18-1l18 1l-32 38l-18-17z"/>
<path class=o d="M3576 2121l18-19l-32 22l-18 34z"/>
<path class=r d="M3558 2084l18 37l-32 37l-18-16z"/>
<path class=o d="M3540 2126l18-42l-32 58l-18 19z"/>
<path class=p d="M3522 2112l18 14l-32 35l-19 9z"/>
<path class=r d="M3504 2083l18 29l-33 58l-18-1z"/>
<path class=q d="M3486 2103l18-20l-33 86l-18 23z"/>
<path class=r d="M3468 2090l18 13l-33 89l-18-3z"/>
<path class=q d="M3450 2109l18-19l-33 99l-18 15z"/>
<path class=r d="M3432 2100l18 9l-33 95l-18-2z"/>
<path class=s d="M3414 2092l18 8l-33 102l-18 0zm-18 5l18-5l-33 110l-18 20zm-19-5l19 5l-33 125l-18-5z"/>
<path class=q d="M3359 2128l18-36l-32 125l-18 25zm-18 7l18-7l-32 114l-18 13zm-18 11l18-11l-32 120l-18-1z"/>
<path class=p d="M3305 2165l18-19l-32 108l-18 11z"/>
<path class=n d="M3287 2194l18-29l-32 100l-19 22z"/>
<path class=l d="M3269 2229l18-35l-33 93l-18 12z"/>
<path class=k d="M3251 2252l18-23l-33 70l-18 10zm-18 4l18-4l-33 57l-18 11z"/>
<path class=h d="M3215 2295l18-39l-33 64l-18 15z"/>
<path class=e d="M3197 2353l18-58l-33 40l-18 18z"/>
<path class=u d="M4061 1964l18 24l-33 5l-18 3z"/>
<path class=s d="M4043 1988l18-24l-33 32l-18 32zm-18 0l18 0l-33 40l-18 10z"/>
<path class=w d="M4006 1941l19 47l-33 50l-18-43z"/>
<path class=y d="M3988 1915l18 26l-32 54l-18-48z"/>
<path class=x d="M3970 1928l18-13l-32 32l-18 24z"/>
<path class=y d="M3952 1919l18 9l-32 43l-18 11z"/>
<path class=x d="M3934 1929l18-10l-32 63l-18-14z"/>
<path class=s d="M3916 2010l18-81l-32 39l-18 74z"/>
<path class=v d="M3898 1971l18 39l-32 32l-19-29z"/>
<path class=q d="M3880 2059l18-88l-33 42l-18 76z"/>
<path class=r d="M3862 2035l18 24l-33 30l-18 11z"/>
<path class=p d="M3844 2079l18-44l-33 65l-18 26z"/>
<path class=n d="M3826 2107l18-28l-33 47l-18-10z"/>
<path class=k d="M3808 2153l18-46l-33 9l-18 33z"/>
<path class=o d="M3790 2104l18 49l-33-4l-18-12z"/>
<path class=n d="M3772 2123l18-19l-33 33l-18-11z"/>
<path class=o d="M3753 2104l19 19l-33 3l-18 21zm-18 3l18-3l-32 43l-18-22z"/>
<path class=p d="M3717 2097l18 10l-32 18l-18 9zm-18 10l18-10l-32 37l-18-5z"/>
<path class=s d="M3681 2062l18 45l-32 22l-18-39zm-18 2l18-2l-32 28l-19 16z"/>
<path class=q d="M3645 2089l18-25l-33 42l-18-3z"/>
<path class=t d="M3627 2049l18 40l-33 14l-18-1z"/>
<path class=s d="M3609 2073l18-24l-33 53l-18 19z"/>
<path class=u d="M3591 2042l18 31l-33 48l-18-37z"/>
<path class=r d="M3573 2089l18-47l-33 42l-18 42z"/>
<path class=u d="M3555 2053l18 36l-33 37l-18-14z"/>
<path class=v d="M3537 2035l18 18l-33 59l-18-29z"/>
<path class=u d="M3519 2051l18-16l-33 48l-18 20z"/>
<path class=w d="M3500 2022l19 29l-33 52l-18-13zm-18 17l18-17l-32 68l-18 19z"/>
<path class=x d="M3464 2025l18 14l-32 70l-18-9z"/>
<path class=y d="M3446 2010l18 15l-32 75l-18-8zm-18-5l18 5l-32 82l-18 5z"/>
<path class=ad d="M3410 1939l18 66l-32 92l-19-5z"/>
<path class=y d="M3392 2015l18-76l-33 153l-18 36z"/>
<path class=z d="M3374 2014l18 1l-33 113l-18 7z"/>
<path class=x d="M3356 2043l18-29l-33 121l-18 11z"/>
<path class=y d="M3338 2023l18 20l-33 103l-18 19z"/>
<path class=u d="M3320 2099l18-76l-33 142l-18 29z"/>
<path class=s d="M3302 2128l18-29l-33 95l-18 35z"/>
<path class=q d="M3284 2165l18-37l-33 101l-18 23z"/>
<path class=p d="M3265 2180l19-15l-33 87l-18 4z"/>
<path class=k d="M3247 2255l18-75l-32 76l-18 39z"/>
<path class=f d="M3229 2343l18-88l-32 40l-18 58z"/>
<path class=t d="M4093 1977l18-9l-32 20l-18-24zm-18 4l18-4l-32-13l-18 24zm-18 7l18-7l-32 7l-18 0z"/>
<path class=v d="M4039 1957l18 31l-32 0l-19-47z"/>
<path class=y d="M4021 1916l18 41l-33-16l-18-26z"/>
<path class=x d="M4003 1936l18-20l-33-1l-18 13z"/>
<path class=z d="M3985 1917l18 19l-33-8l-18-9z"/>
<path class=y d="M3967 1922l18-5l-33 2l-18 10z"/>
<path class=t d="M3949 2012l18-90l-33 7l-18 81z"/>
<path class=x d="M3931 1953l18 59l-33-2l-18-39z"/>
<path class=r d="M3913 2049l18-96l-33 18l-18 88z"/>
<path class=s d="M3895 2036l18 13l-33 10l-18-24z"/>
<path class=o d="M3876 2098l19-62l-33-1l-18 44zm-18 4l18-4l-32-19l-18 28z"/>
<path class=m d="M3840 2144l18-42l-32 5l-18 46zm-18-9l18 9l-32 9l-18-49z"/>
<path class=n d="M3804 2131l18 4l-32-31l-18 19z"/>
<path class=p d="M3786 2108l18 23l-32-8l-19-19z"/>
<path class=o d="M3768 2116l18-8l-33-4l-18 3z"/>
<path class=p d="M3750 2109l18 7l-33-9l-18-10z"/>
<path class=r d="M3732 2085l18 24l-33-12l-18 10zm-18 2l18-2l-33 22l-18-45zm-18 5l18-5l-33-25l-18 2z"/>
<path class=q d="M3678 2099l18-7l-33-28l-18 25z"/>
<path class=t d="M3660 2066l18 33l-33-10l-18-40zm-19-4l19 4l-33-17l-18 24z"/>
<path class=v d="M3623 2043l18 19l-32 11l-18-31z"/>
<path class=t d="M3605 2079l18-36l-32-1l-18 47z"/>
<path class=u d="M3587 2055l18 24l-32 10l-18-36z"/>
<path class=v d="M3569 2054l18 1l-32-2l-18-18zm-18 5l18-5l-32-19l-18 16z"/>
<path class=w d="M3533 2038l18 21l-32-8l-19-29zm-18 2l18-2l-33-16l-18 17z"/>
<path class=x d="M3497 2030l18 10l-33-1l-18-14z"/>
<path class=y d="M3479 2023l18 7l-33-5l-18-15z"/>
<path class=z d="M3461 2005l18 18l-33-13l-18-5z"/>
<path class=ab d="M3443 1976l18 29l-33 0l-18-66z"/>
<path class=aa d="M3425 2000l18-24l-33-37l-18 76z"/>
<path class=y d="M3407 2026l18-26l-33 15l-18-1z"/>
<path class=z d="M3388 2026l19 0l-33-12l-18 29z"/>
<path class=y d="M3370 2046l18-20l-32 17l-18-20z"/>
<path class=u d="M3352 2102l18-56l-32-23l-18 76z"/>
<path class=s d="M3334 2134l18-32l-32-3l-18 29z"/>
<path class=r d="M3316 2160l18-26l-32-6l-18 37z"/>
<path class=q d="M3298 2183l18-23l-32 5l-19 15z"/>
<path class=l d="M3280 2260l18-77l-33-3l-18 75z"/>
<path class=f d="M3262 2355l18-95l-33-5l-18 88z"/>
<path class=t d="M4126 1993l18 19l-33-44l-18 9z"/>
<path class=r d="M4108 2022l18-29l-33-16l-18 4zm-18 12l18-12l-33-41l-18 7z"/>
<path class=v d="M4072 1977l18 57l-33-46l-18-31z"/>
<path class=x d="M4054 1943l18 34l-33-20l-18-41zm-18 0l18 0l-33-27l-18 20zm-19 6l19-6l-33-7l-18-19zm-18 11l18-11l-32-32l-18 5z"/>
<path class=r d="M3981 2057l18-97l-32-38l-18 90z"/>
<path class=u d="M3963 2010l18 47l-32-45l-18-59z"/>
<path class=o d="M3945 2110l18-100l-32-57l-18 96z"/>
<path class=p d="M3927 2086l18 24l-32-61l-18-13z"/>
<path class=o d="M3909 2119l18-33l-32-50l-19 62z"/>
<path class=n d="M3891 2124l18-5l-33-21l-18 4z"/>
<path class=l d="M3873 2168l18-44l-33-22l-18 42z"/>
<path class=m d="M3855 2155l18 13l-33-24l-18-9z"/>
<path class=n d="M3837 2140l18 15l-33-20l-18-4zm-18 5l18-5l-33-9l-18-23z"/>
<path class=o d="M3801 2133l18 12l-33-37l-18 8z"/>
<path class=n d="M3783 2145l18-12l-33-17l-18-7zm-19 4l19-4l-33-36l-18-24z"/>
<path class=r d="M3746 2101l18 48l-32-64l-18 2z"/>
<path class=p d="M3728 2122l18-21l-32-14l-18 5z"/>
<path class=r d="M3710 2104l18 18l-32-30l-18 7zm-18-4l18 4l-32-5l-18-33z"/>
<path class=s d="M3674 2088l18 12l-32-34l-19-4z"/>
<path class=t d="M3656 2080l18 8l-33-26l-18-19z"/>
<path class=r d="M3638 2110l18-30l-33-37l-18 36z"/>
<path class=t d="M3620 2090l18 20l-33-31l-18-24zm-18-3l18 3l-33-35l-18-1zm-18 9l18-9l-33-33l-18 5z"/>
<path class=u d="M3566 2083l18 13l-33-37l-18-21z"/>
<path class=w d="M3548 2048l18 35l-33-45l-18 2z"/>
<path class=x d="M3530 2036l18 12l-33-8l-18-10zm-19 9l19-9l-33-6l-18-7z"/>
<path class=w d="M3493 2063l18-18l-32-22l-18-18z"/>
<path class=aa d="M3475 2008l18 55l-32-58l-18-29z"/>
<path class=w d="M3457 2067l18-59l-32-32l-18 24z"/>
<path class=u d="M3439 2105l18-38l-32-67l-18 26z"/>
<path class=w d="M3421 2083l18 22l-32-79l-19 0zm-18-6l18 6l-33-57l-18 20z"/>
<path class=s d="M3385 2150l18-73l-33-31l-18 56z"/>
<path class=q d="M3367 2185l18-35l-33-48l-18 32z"/>
<path class=p d="M3349 2198l18-13l-33-51l-18 26z"/>
<path class=o d="M3331 2221l18-23l-33-38l-18 23z"/>
<path class=l d="M3313 2275l18-54l-33-38l-18 77z"/>
<path class=e d="M3295 2375l18-100l-33-15l-18 95z"/>
<path class=q d="M4159 2048l18-30l-33-6l-18-19z"/>
<path class=p d="M4140 2065l19-17l-33-55l-18 29zm-18 9l18-9l-32-43l-18 12z"/>
<path class=t d="M4104 2018l18 56l-32-40l-18-57z"/>
<path class=u d="M4086 1994l18 24l-32-41l-18-34z"/>
<path class=v d="M4068 1987l18 7l-32-51l-18 0zm-18 10l18-10l-32-44l-19 6z"/>
<path class=t d="M4032 2021l18-24l-33-48l-18 11z"/>
<path class=q d="M4014 2081l18-60l-33-61l-18 97z"/>
<path class=s d="M3996 2053l18 28l-33-24l-18-47z"/>
<path class=n d="M3978 2133l18-80l-33-43l-18 100zm-18-6l18 6l-33-23l-18-24z"/>
<path class=m d="M3942 2152l18-25l-33-41l-18 33zm-18 11l18-11l-33-33l-18 5z"/>
<path class=k d="M3906 2195l18-32l-33-39l-18 44z"/>
<path class=m d="M3887 2169l19 26l-33-27l-18-13z"/>
<path class=l d="M3869 2178l18-9l-32-14l-18-15zm-18 2l18-2l-32-38l-18 5zm-18 1l18-1l-32-35l-18-12z"/>
<path class=n d="M3815 2160l18 21l-32-48l-18 12zm-18 9l18-9l-32-15l-19 4zm-18-5l18 5l-33-20l-18-48zm-18 1l18-1l-33-63l-18 21z"/>
<path class=p d="M3743 2143l18 22l-33-43l-18-18z"/>
<path class=q d="M3725 2126l18 17l-33-39l-18-4z"/>
<path class=p d="M3707 2144l18-18l-33-26l-18-12z"/>
<path class=s d="M3689 2106l18 38l-33-56l-18-8z"/>
<path class=q d="M3671 2146l18-40l-33-26l-18 30zm-19 3l19-3l-33-36l-18-20z"/>
<path class=t d="M3634 2107l18 42l-32-59l-18-3z"/>
<path class=q d="M3616 2150l18-43l-32-20l-18 9z"/>
<path class=s d="M3598 2124l18 26l-32-54l-18-13z"/>
<path class=t d="M3580 2118l18 6l-32-41l-18-35z"/>
<path class=s d="M3562 2130l18-12l-32-70l-18-12z"/>
<path class=t d="M3544 2114l18 16l-32-94l-19 9z"/>
<path class=u d="M3526 2104l18 10l-33-69l-18 18z"/>
<path class=w d="M3508 2078l18 26l-33-41l-18-55z"/>
<path class=u d="M3490 2116l18-38l-33-70l-18 59zm-18-3l18 3l-33-49l-18 38z"/>
<path class=t d="M3454 2128l18-15l-33-8l-18-22zm-18 6l18-6l-33-45l-18-6z"/>
<path class=q d="M3418 2189l18-55l-33-57l-18 73z"/>
<path class=o d="M3399 2218l19-29l-33-39l-18 35z"/>
<path class=n d="M3381 2240l18-22l-32-33l-18 13z"/>
<path class=m d="M3363 2260l18-20l-32-42l-18 23z"/>
<path class=i d="M3345 2320l18-60l-32-39l-18 54z"/>
<path class=e d="M3327 2396l18-76l-32-45l-18 100z"/>
<path class=o d="M4191 2090l18-3l-32-69l-18 30z"/>
<path class=n d="M4173 2110l18-20l-32-42l-19 17z"/>
<path class=m d="M4155 2125l18-15l-33-45l-18 9z"/>
<path class=r d="M4137 2048l18 77l-33-51l-18-56zm-18 10l18-10l-33-30l-18-24z"/>
<path class=s d="M4101 2044l18 14l-33-64l-18-7zm-18 14l18-14l-33-57l-18 10z"/>
<path class=q d="M4065 2081l18-23l-33-61l-18 24z"/>
<path class=n d="M4047 2129l18-48l-33-60l-18 60z"/>
<path class=p d="M4028 2100l19 29l-33-48l-18-28z"/>
<path class=l d="M4010 2172l18-72l-32-47l-18 80z"/>
<path class=m d="M3992 2153l18 19l-32-39l-18-6z"/>
<path class=l d="M3974 2185l18-32l-32-26l-18 25z"/>
<path class=k d="M3956 2195l18-10l-32-33l-18 11z"/>
<path class=j d="M3938 2221l18-26l-32-32l-18 32zm-18-3l18 3l-32-26l-19-26zm-18 9l18-9l-33-49l-18 9z"/>
<path class=k d="M3884 2210l18 17l-33-49l-18 2z"/>
<path class=l d="M3866 2203l18 7l-33-30l-18 1zm-18 5l18-5l-33-22l-18-21z"/>
<path class=k d="M3830 2219l18-11l-33-48l-18 9z"/>
<path class=l d="M3812 2205l18 14l-33-50l-18-5z"/>
<path class=m d="M3794 2200l18 5l-33-41l-18 1zm-19 3l19-3l-33-35l-18-22z"/>
<path class=o d="M3757 2171l18 32l-32-60l-18-17z"/>
<path class=m d="M3739 2210l18-39l-32-45l-18 18z"/>
<path class=p d="M3721 2171l18 39l-32-66l-18-38z"/>
<path class=n d="M3703 2199l18-28l-32-65l-18 40z"/>
<path class=o d="M3685 2182l18 17l-32-53l-19 3z"/>
<path class=q d="M3667 2164l18 18l-33-33l-18-42z"/>
<path class=n d="M3649 2204l18-40l-33-57l-18 43z"/>
<path class=o d="M3631 2192l18 12l-33-54l-18-26z"/>
<path class=q d="M3613 2173l18 19l-33-68l-18-6z"/>
<path class=o d="M3595 2195l18-22l-33-55l-18 12z"/>
<path class=q d="M3577 2171l18 24l-33-65l-18-16zm-18 2l18-2l-33-57l-18-10z"/>
<path class=t d="M3541 2134l18 39l-33-69l-18-26z"/>
<path class=q d="M3522 2189l19-55l-33-56l-18 38z"/>
<path class=o d="M3504 2226l18-37l-32-73l-18-3z"/>
<path class=q d="M3486 2198l18 28l-32-113l-18 15z"/>
<path class=r d="M3468 2186l18 12l-32-70l-18 6z"/>
<path class=o d="M3450 2233l18-47l-32-52l-18 55z"/>
<path class=m d="M3432 2261l18-28l-32-44l-19 29zm-18 7l18-7l-33-43l-18 22z"/>
<path class=k d="M3396 2296l18-28l-33-28l-18 20z"/>
<path class=i d="M3378 2339l18-43l-33-36l-18 60z"/>
<path class=d d="M3360 2419l18-80l-33-19l-18 76z"/>
<path class=m d="M4224 2132l18-1l-33-44l-18 3z"/>
<path class=o d="M4206 2112l18 20l-33-42l-18 20zm-18-9l18 9l-33-2l-18 15z"/>
<path class=p d="M4170 2092l18 11l-33 22l-18-77zm-19 13l19-13l-33-44l-18 10z"/>
<path class=q d="M4133 2093l18 12l-32-47l-18-14z"/>
<path class=p d="M4115 2109l18-16l-32-49l-18 14z"/>
<path class=r d="M4097 2087l18 22l-32-51l-18 23z"/>
<path class=t d="M4079 2046l18 41l-32-6l-18 48z"/>
<path class=s d="M4061 2066l18-20l-32 83l-19-29z"/>
<path class=t d="M4043 2063l18 3l-33 34l-18 72zm-18-3l18 3l-33 109l-18-19z"/>
<path class=r d="M4007 2093l18-33l-33 93l-18 32z"/>
<path class=s d="M3989 2078l18 15l-33 92l-18 10z"/>
<path class=t d="M3971 2073l18 5l-33 117l-18 26z"/>
<path class=q d="M3953 2125l18-52l-33 148l-18-3z"/>
<path class=p d="M3935 2134l18-9l-33 93l-18 9zm-18 3l18-3l-33 93l-18-17zm-19 16l19-16l-33 73l-18-7zm-18 4l18-4l-32 50l-18 5z"/>
<path class=m d="M3862 2195l18-38l-32 51l-18 11z"/>
<path class=n d="M3844 2189l18 6l-32 24l-18-14z"/>
<path class=o d="M3826 2173l18 16l-32 16l-18-5zm-18 2l18-2l-32 27l-19 3zm-18 2l18-2l-33 28l-18-32z"/>
<path class=p d="M3772 2176l18 1l-33-6l-18 39zm-18 4l18-4l-33 34l-18-39zm-18-5l18 5l-33-9l-18 28z"/>
<path class=r d="M3718 2153l18 22l-33 24l-18-17zm-18 0l18 0l-33 29l-18-18zm-18 4l18-4l-33 11l-18 40z"/>
<path class=q d="M3663 2175l19-18l-33 47l-18-12z"/>
<path class=r d="M3645 2162l18 13l-32 17l-18-19zm-18-1l18 1l-32 11l-18 22z"/>
<path class=s d="M3609 2149l18 12l-32 34l-18-24z"/>
<path class=u d="M3591 2131l18 18l-32 22l-18 2z"/>
<path class=s d="M3573 2164l18-33l-32 42l-18-39z"/>
<path class=r d="M3555 2172l18-8l-32-30l-19 55z"/>
<path class=u d="M3537 2137l18 35l-33 17l-18 37zm-18 5l18-5l-33 89l-18-28z"/>
<path class=t d="M3501 2160l18-18l-33 56l-18-12z"/>
<path class=u d="M3483 2154l18 6l-33 26l-18 47z"/>
<path class=v d="M3465 2136l18 18l-33 79l-18 28z"/>
<path class=w d="M3447 2119l18 17l-33 125l-18 7z"/>
<path class=x d="M3429 2105l18 14l-33 149l-18 28z"/>
<path class=v d="M3410 2145l19-40l-33 191l-18 43z"/>
<path class=g d="M3392 2383l18-238l-32 194l-18 80z"/>
<path class=d d="M4256 2280l18 3l-32-152l-18 1zm-18 6l18-6l-32-148l-18-20z"/>
<path class=c d="M4220 2304l18-18l-32-174l-18-9z"/>
<path class=d d="M4202 2295l18 9l-32-201l-18-11zm-18 4l18-4l-32-203l-19 13zm-18 4l18-4l-33-194l-18-12z"/>
<path class=c d="M4148 2317l18-14l-33-210l-18 16z"/>
<path class=d d="M4130 2310l18 7l-33-208l-18-22zm-18 3l18-3l-33-223l-18-41zm-18 3l18-3l-33-267l-18 20zm-18 6l18-6l-33-250l-18-3zm-18 0l18 0l-33-259l-18-3z"/>
<path class=b d="M4039 2354l19-32l-33-262l-18 33z"/>
<path class=d d="M4021 2329l18 25l-32-261l-18-15zm-18 5l18-5l-32-251l-18-5z"/>
<path class=b d="M3985 2373l18-39l-32-261l-18 52zm-18-8l18 8l-32-248l-18 9zm-18 1l18-1l-32-231l-18 3z"/>
<path class=d d="M3931 2352l18 14l-32-229l-19 16z"/>
<path class=c d="M3913 2356l18-4l-33-199l-18 4z"/>
<path class=a d="M3895 2394l18-38l-33-199l-18 38z"/>
<path class=c d="M3877 2376l18 18l-33-199l-18-6z"/>
<path class=b d="M3859 2386l18-10l-33-187l-18-16z"/>
<path class=c d="M3841 2383l18 3l-33-213l-18 2zm-18-1l18 1l-33-208l-18 2z"/>
<path class=a d="M3805 2420l18-38l-33-205l-18-1z"/>
<path class=c d="M3786 2388l19 32l-33-244l-18 4zm-18 5l18-5l-32-208l-18-5zm-18 4l18-4l-32-218l-18-22z"/>
<path class=b d="M3732 2406l18-9l-32-244l-18 0z"/>
<path class=a d="M3714 2447l18-41l-32-253l-18 4zm-18 10l18-10l-32-290l-19 18z"/>
<path class=b d="M3678 2415l18 42l-33-282l-18-13z"/>
<path class=a d="M3660 2462l18-47l-33-253l-18-1zm-18-4l18 4l-33-301l-18-12z"/>
<path class=b d="M3624 2428l18 30l-33-309l-18-18z"/>
<path class=a d="M3606 2477l18-49l-33-297l-18 33zm-18-6l18 6l-33-313l-18 8zm-18 23l18-23l-33-299l-18-35z"/>
<path class=b d="M3552 2443l18 51l-33-357l-18 5zm-19 3l19-3l-33-301l-18 18zm-18 2l18-2l-32-286l-18-6zm-18 3l18-3l-32-294l-18-18zm-18 3l18-3l-32-315l-18-17z"/>
<path class=a d="M3461 2505l18-51l-32-335l-18-14z"/>
<path class=c d="M3443 2455l18 50l-32-400l-19 40z"/>
<path class=a d="M3425 2505l18-50l-33-310l-18 238z"/>
</g>
<text class="tt" text-anchor="middle" x="375.3" y="262.0" textLength="17.8" lengthAdjust="spacingAndGlyphs">2010</text>
<text class="tt" text-anchor="middle" x="395.5" y="258.3" textLength="17.8" lengthAdjust="spacingAndGlyphs">2013</text>
<text class="tt" text-anchor="middle" x="415.6" y="254.6" textLength="17.8" lengthAdjust="spacingAndGlyphs">2016</text>
<text class="tt" text-anchor="middle" x="435.7" y="250.9" textLength="17.8" lengthAdjust="spacingAndGlyphs">2019</text>
<text class="tt" text-anchor="middle" x="335.9" y="265.1" textLength="4.6" lengthAdjust="spacingAndGlyphs">0</text>
<text class="tt" text-anchor="middle" x="303.3" y="254.6" textLength="9.2" lengthAdjust="spacingAndGlyphs">10</text>
<text class="tt" text-anchor="middle" x="270.7" y="244.1" textLength="9.2" lengthAdjust="spacingAndGlyphs">20</text>
<text class="tt" text-anchor="end" x="262.5" y="225.7" textLength="4.6" lengthAdjust="spacingAndGlyphs">0</text>
<text class="tt" text-anchor="end" x="262.5" y="212.8" textLength="4.6" lengthAdjust="spacingAndGlyphs">2</text>
<text class="tt" text-anchor="end" x="262.5" y="200.0" textLength="4.6" lengthAdjust="spacingAndGlyphs">4</text>
<text class="tt" text-anchor="end" x="262.5" y="187.2" textLength="4.6" lengthAdjust="spacingAndGlyphs">6</text>
<text class="hh" x="240.6" y="153.6" textLength="228.2" lengthAdjust="spacingAndGlyphs">Investment Growth response to NFC Loan Supply Shock</text>
<rect class="rr" x="384.8" y="178.8" width="49.2" height="49.7"/>
</g>
<g id="p3L">
<path class="gg" d="M134.04 387.32L59.04 363.12M59.04 363.12L59.04 309.72M154.15 383.60L79.15 359.40M79.15 359.40L79.15 306.00M174.26 379.89L99.26 355.69M99.26 355.69L99.26 302.29M194.37 376.17L119.37 351.97M119.37 351.97L119.37 298.57M113.60 391.10L212.60 372.80M212.60 372.80L212.60 319.40M80.99 380.58L179.99 362.28M179.99 362.28L179.99 308.88M48.38 370.06L147.38 351.76M147.38 351.76L147.38 298.36M38.60 353.43L137.60 335.13M137.60 335.13L212.60 359.33M38.60 333.46L137.60 315.16M137.60 315.16L212.60 339.36M38.60 313.50L137.60 295.20M137.60 295.20L212.60 319.40"/>
<path class="bb" d="M113.60 391.10L212.60 372.80M212.60 372.80L137.60 348.60M137.60 348.60L38.60 366.90M38.60 366.90L113.60 391.10M38.60 366.90L38.60 313.50M38.60 313.50L137.60 295.20M137.60 295.20L137.60 348.60M137.60 295.20L212.60 319.40M212.60 319.40L212.60 372.80M134.04 387.32L132.33 386.77M154.15 383.60L152.44 383.05M174.26 379.89L172.55 379.33M194.37 376.17L192.66 375.62M113.60 391.10L115.37 390.77M80.99 380.58L82.76 380.25M48.38 370.06L50.15 369.73M38.60 353.43L36.40 353.73M38.60 333.46L36.40 333.76M38.60 313.50L36.40 313.80"/>
<g class=sf transform="scale(.1)">
<path class=k d="M1276 3383l19-34l-33-5l-18 2z"/>
<path class=j d="M1257 3402l19-19l-32-37l-19 29z"/>
<path class=l d="M1239 3377l18 25l-32-27l-19-17z"/>
<path class=m d="M1220 3365l19 12l-33-19l-18 14z"/>
<path class=l d="M1202 3386l18-21l-32 7l-19-2z"/>
<path class=k d="M1183 3396l19-10l-33-16l-19 19zm-19 13l19-13l-33-7l-18 7zm-18-4l18 4l-32-13l-19 0zm-19-1l19 1l-33-9l-19-10z"/>
<path class=l d="M1108 3391l19 13l-33-18l-18-5zm-18 4l18-4l-32-10l-19 1zm-19 6l19-6l-33-13l-19 19zm-19 9l19-9l-33 0l-18-3z"/>
<path class=k d="M1034 3419l18-9l-32-12l-19 5z"/>
<path class=l d="M1015 3417l19 2l-33-16l-18-1zm-19-8l19 8l-32-15l-19 2z"/>
<path class=k d="M978 3431l18-22l-32-5l-19 10z"/>
<path class=j d="M959 3448l19-17l-33-17l-18 13z"/>
<path class=k d="M941 3443l18 5l-32-21l-19-1zm-19-1l19 1l-33-17l-19-2z"/>
<path class=j d="M903 3460l19-18l-33-18l-18-15z"/>
<path class=m d="M885 3420l18 40l-32-51l-19 20z"/>
<path class=l d="M866 3434l19-14l-33 9l-19 0z"/>
<path class=j d="M847 3476l19-42l-33-5l-18 29z"/>
<path class=k d="M829 3467l18 9l-32-18l-19 1z"/>
<path class=l d="M810 3455l19 12l-33-8l-19-15zm-19 5l19-5l-33-11l-18 15z"/>
<path class=k d="M773 3471l18-11l-32-1l-19-10zm-19 9l19-9l-33-22l-18 14z"/>
<path class=l d="M736 3472l18 8l-32-17l-19-4z"/>
<path class=m d="M717 3452l19 20l-33-13l-19 4z"/>
<path class=l d="M698 3474l19-22l-33 11l-18 12z"/>
<path class=k d="M680 3484l18-10l-32 1l-19-2zm-19 4l19-4l-33-11l-19-13z"/>
<path class=l d="M642 3477l19 11l-33-28l-18 7z"/>
<path class=k d="M624 3501l18-24l-32-10l-19 15z"/>
<path class=l d="M605 3490l19 11l-33-19l-19-6zm-19-2l19 2l-33-14l-18 24z"/>
<path class=j d="M568 3530l18-42l-32 12l-19 5zm-19-5l19 5l-33-25l-19 12z"/>
<path class=l d="M530 3499l19 26l-33-8l-18-14zm-18 11l18-11l-32 4l-19 16z"/>
<path class=k d="M493 3520l19-10l-33 9l-18-15zm-18 8l18-8l-32-16l-19 22zm-19 11l19-11l-33-2l-19-23z"/>
<path class=m d="M437 3512l19 27l-33-36l-18-4z"/>
<path class=l d="M419 3517l18-5l-32-13l-19 2z"/>
<path class=k d="M1309 3393l18 10l-32-54l-19 34zm-19 6l19-6l-33-10l-19 19zm-19 2l19-2l-33 3l-18-25zm-18 3l18-3l-32-24l-19-12z"/>
<path class=l d="M1234 3394l19 10l-33-39l-18 21zm-18 5l18-5l-32-8l-19 10zm-19-8l19 8l-33-3l-19 13zm-19 8l19-8l-33 18l-18-4zm-18 2l18-2l-32 6l-19-1z"/>
<path class=m d="M1141 3399l19 2l-33 3l-19-13z"/>
<path class=l d="M1122 3408l19-9l-33-8l-18 4z"/>
<path class=j d="M1104 3444l18-36l-32-13l-19 6z"/>
<path class=l d="M1085 3422l19 22l-33-43l-19 9z"/>
<path class=m d="M1066 3409l19 13l-33-12l-18 9z"/>
<path class=j d="M1048 3449l18-40l-32 10l-19-2z"/>
<path class=l d="M1029 3429l19 20l-33-32l-19-8zm-19 3l19-3l-33-20l-18 22z"/>
<path class=k d="M992 3455l18-23l-32-1l-19 17zm-19 1l19-1l-33-7l-18-5z"/>
<path class=l d="M955 3443l18 13l-32-13l-19-1zm-19 3l19-3l-33-1l-19 18zm-19 10l19-10l-33 14l-18-40zm-18-1l18 1l-32-36l-19 14z"/>
<path class=k d="M880 3470l19-15l-33-21l-19 42zm-19-1l19 1l-33 6l-18-9zm-18 2l18-2l-32-2l-19-12z"/>
<path class=l d="M824 3461l19 10l-33-16l-19 5z"/>
<path class=k d="M805 3482l19-21l-33-1l-18 11z"/>
<path class=l d="M787 3477l18 5l-32-11l-19 9z"/>
<path class=m d="M768 3467l19 10l-33 3l-18-8zm-19-6l19 6l-32 5l-19-20z"/>
<path class=k d="M731 3493l18-32l-32-9l-19 22z"/>
<path class=m d="M712 3476l19 17l-33-19l-18 10z"/>
<path class=l d="M694 3487l18-11l-32 8l-19 4zm-19 7l19-7l-33 1l-19-11zm-19 7l19-7l-33-17l-18 24zm-18 5l18-5l-32 0l-19-11zm-19-4l19 4l-33-16l-19-2zm-19 3l19-3l-33-14l-18 42z"/>
<path class=m d="M582 3502l18 3l-32 25l-19-5z"/>
<path class=l d="M563 3521l19-19l-33 23l-19-26z"/>
<path class=n d="M544 3487l19 34l-33-22l-18 11z"/>
<path class=l d="M526 3528l18-41l-32 23l-19 10zm-19-1l19 1l-33-8l-18 8z"/>
<path class=j d="M489 3561l18-34l-32 1l-19 11z"/>
<path class=k d="M470 3544l19 17l-33-22l-19-27z"/>
<path class=l d="M451 3534l19 10l-33-32l-18 5z"/>
<path class=k d="M1341 3408l19-2l-33-3l-18-10zm-18-10l18 10l-32-15l-19 6z"/>
<path class=m d="M1304 3384l19 14l-33 1l-19 2z"/>
<path class=l d="M1285 3397l19-13l-33 17l-18 3z"/>
<path class=m d="M1267 3387l18 10l-32 7l-19-10z"/>
<path class=l d="M1248 3406l19-19l-33 7l-18 5zm-19-1l19 1l-32-7l-19-8z"/>
<path class=k d="M1211 3430l18-25l-32-14l-19 8zm-19-2l19 2l-33-31l-18 2z"/>
<path class=m d="M1174 3405l18 23l-32-27l-19-2z"/>
<path class=j d="M1155 3455l19-50l-33-6l-19 9z"/>
<path class=k d="M1136 3446l19 9l-33-47l-18 36zm-18-8l18 8l-32-2l-19-22zm-19 4l19-4l-33-16l-19-13z"/>
<path class=l d="M1080 3438l19 4l-33-33l-18 40z"/>
<path class=m d="M1062 3430l18 8l-32 11l-19-20z"/>
<path class=l d="M1043 3449l19-19l-33-1l-19 3z"/>
<path class=k d="M1024 3455l19-6l-33-17l-18 23zm-18 6l18-6l-32 0l-19 1z"/>
<path class=j d="M987 3477l19-16l-33-5l-18-13z"/>
<path class=k d="M969 3479l18-2l-32-34l-19 3zm-19-8l19 8l-33-33l-19 10z"/>
<path class=j d="M931 3486l19-15l-33-15l-18-1z"/>
<path class=k d="M913 3487l18-1l-32-31l-19 15zm-19 4l19-4l-33-17l-19-1zm-19-1l19 1l-33-22l-18 2z"/>
<path class=l d="M857 3480l18 10l-32-19l-19-10z"/>
<path class=m d="M838 3469l19 11l-33-19l-19 21z"/>
<path class=k d="M819 3494l19-25l-33 13l-18-5z"/>
<path class=l d="M801 3486l18 8l-32-17l-19-10zm-19 3l19-3l-33-19l-19-6z"/>
<path class=k d="M763 3504l19-15l-33-28l-18 32z"/>
<path class=l d="M745 3490l18 14l-32-11l-19-17z"/>
<path class=m d="M726 3490l19 0l-33-14l-18 11z"/>
<path class=l d="M708 3505l18-15l-32-3l-19 7zm-19 3l19-3l-33-11l-19 7z"/>
<path class=k d="M670 3519l19-11l-33-7l-18 5zm-18 4l18-4l-32-13l-19-4z"/>
<path class=l d="M633 3524l19-1l-33-21l-19 3z"/>
<path class=j d="M614 3547l19-23l-33-19l-18-3z"/>
<path class=k d="M596 3547l18 0l-32-45l-19 19z"/>
<path class=l d="M577 3524l19 23l-33-26l-19-34z"/>
<path class=i d="M558 3571l19-47l-33-37l-18 41z"/>
<path class=k d="M540 3550l18 21l-32-43l-19-1z"/>
<path class=l d="M521 3536l19 14l-33-23l-18 34zm-19 2l19-2l-32 25l-19-17z"/>
<path class=k d="M484 3565l18-27l-32 6l-19-10z"/>
<path class=k d="M1374 3408l19 7l-33-9l-19 2z"/>
<path class=j d="M1355 3431l19-23l-33 0l-18-10z"/>
<path class=k d="M1337 3414l18 17l-32-33l-19-14zm-19 7l19-7l-33-30l-19 13z"/>
<path class=l d="M1299 3411l19 10l-33-24l-18-10zm-18-2l18 2l-32-24l-19 19zm-19 12l19-12l-33-3l-19-1zm-19-5l19 5l-33-16l-18 25zm-18 5l18-5l-32 14l-19-2zm-19 10l19-10l-33 7l-18-23zm-18-1l18 1l-32-26l-19 50z"/>
<path class=k d="M1169 3449l19-19l-33 25l-19-9zm-19 2l19-2l-33-3l-18-8z"/>
<path class=l d="M1132 3446l18 5l-32-13l-19 4z"/>
<path class=k d="M1113 3459l19-13l-33-4l-19-4z"/>
<path class=l d="M1094 3451l19 8l-33-21l-18-8zm-18 8l18-8l-32-21l-19 19z"/>
<path class=j d="M1057 3484l19-25l-33-10l-19 6z"/>
<path class=k d="M1038 3472l19 12l-33-29l-18 6z"/>
<path class=j d="M1020 3490l18-18l-32-11l-19 16z"/>
<path class=k d="M1001 3488l19 2l-33-13l-18 2z"/>
<path class=j d="M982 3501l19-13l-32-9l-19-8z"/>
<path class=k d="M964 3481l18 20l-32-30l-19 15z"/>
<path class=j d="M945 3503l19-22l-33 5l-18 1zm-18 8l18-8l-32-16l-19 4zm-19 1l19-1l-33-20l-19-1z"/>
<path class=k d="M889 3499l19 13l-33-22l-18-10z"/>
<path class=l d="M871 3490l18 9l-32-19l-19-11z"/>
<path class=m d="M852 3480l19 10l-33-21l-19 25z"/>
<path class=k d="M833 3505l19-25l-33 14l-18-8zm-18 13l18-13l-32-19l-19 3z"/>
<path class=l d="M796 3511l19 7l-33-29l-19 15zm-19 3l19-3l-33-7l-18-14zm-18-7l18 7l-32-24l-19 0zm-19 13l19-13l-33-17l-18 15z"/>
<path class=j d="M721 3547l19-27l-32-15l-19 3z"/>
<path class=k d="M703 3544l18 3l-32-39l-19 11z"/>
<path class=j d="M684 3550l19-6l-33-25l-18 4z"/>
<path class=l d="M666 3535l18 15l-32-27l-19 1z"/>
<path class=k d="M647 3542l19-7l-33-11l-19 23zm-19 10l19-10l-33 5l-18 0z"/>
<path class=m d="M610 3527l18 25l-32-5l-19-23z"/>
<path class=l d="M591 3543l19-16l-33-3l-19 47zm-19 5l19-5l-33 28l-18-21z"/>
<path class=k d="M554 3570l18-22l-32 2l-19-14z"/>
<path class=j d="M535 3577l19-7l-33-34l-19 2zm-19 6l19-6l-33-39l-18 27z"/>
<path class=k d="M1407 3425l18 8l-32-18l-19-7z"/>
<path class=l d="M1388 3415l19 10l-33-17l-19 23z"/>
<path class=m d="M1369 3406l19 9l-33 16l-18-17z"/>
<path class=l d="M1351 3420l18-14l-32 8l-19 7z"/>
<path class=k d="M1332 3439l19-19l-33 1l-19-10z"/>
<path class=m d="M1313 3412l19 27l-33-28l-18-2z"/>
<path class=l d="M1295 3421l18-9l-32-3l-19 12z"/>
<path class=m d="M1276 3423l19-2l-33 0l-19-5z"/>
<path class=k d="M1257 3448l19-25l-33-7l-18 5z"/>
<path class=j d="M1239 3467l18-19l-32-27l-19 10z"/>
<path class=l d="M1220 3449l19 18l-33-36l-18-1z"/>
<path class=k d="M1201 3460l19-11l-32-19l-19 19z"/>
<path class=m d="M1183 3439l18 21l-32-11l-19 2zm-19 5l19-5l-33 12l-18-5zm-18-4l18 4l-32 2l-19 13z"/>
<path class=l d="M1127 3465l19-25l-33 19l-19-8zm-19 3l19-3l-33-14l-18 8z"/>
<path class=j d="M1090 3495l18-27l-32-9l-19 25z"/>
<path class=k d="M1071 3481l19 14l-33-11l-19-12z"/>
<path class=j d="M1052 3501l19-20l-33-9l-18 18zm-18 6l18-6l-32-11l-19-2z"/>
<path class=m d="M1015 3468l19 39l-33-19l-19 13zm-19 2l19-2l-33 33l-18-20z"/>
<path class=k d="M978 3496l18-26l-32 11l-19 22z"/>
<path class=j d="M959 3515l19-19l-33 7l-18 8z"/>
<path class=i d="M941 3533l18-18l-32-4l-19 1z"/>
<path class=k d="M922 3510l19 23l-33-21l-19-13z"/>
<path class=l d="M903 3505l19 5l-33-11l-18-9z"/>
<path class=k d="M885 3513l18-8l-32-15l-19-10z"/>
<path class=l d="M866 3504l19 9l-33-33l-19 25z"/>
<path class=j d="M847 3543l19-39l-33 1l-18 13z"/>
<path class=l d="M829 3508l18 35l-32-25l-19-7z"/>
<path class=k d="M810 3535l19-27l-33 3l-19 3zm-19-3l19 3l-33-21l-18-7zm-18 1l18-1l-32-25l-19 13z"/>
<path class=i d="M754 3574l19-41l-33-13l-19 27z"/>
<path class=k d="M735 3542l19 32l-33-27l-18-3z"/>
<path class=m d="M717 3526l18 16l-32 2l-19 6z"/>
<path class=k d="M698 3560l19-34l-33 24l-18-15zm-18 2l18-2l-32-25l-19 7zm-19-4l19 4l-33-20l-19 10z"/>
<path class=l d="M642 3543l19 15l-33-6l-18-25zm-18 10l18-10l-32-16l-19 16zm-19 4l19-4l-33-10l-19 5z"/>
<path class=k d="M586 3571l19-14l-33-9l-18 22zm-18 5l18-5l-32-1l-19 7zm-19-1l19 1l-33 1l-19 6z"/>
<path class=l d="M1439 3421l19-20l-33 32l-18-8z"/>
<path class=m d="M1421 3405l18 16l-32 4l-19-10zm-19 11l19-11l-33 10l-19-9z"/>
<path class=k d="M1383 3443l19-27l-33-10l-18 14z"/>
<path class=l d="M1365 3438l18 5l-32-23l-19 19z"/>
<path class=k d="M1346 3449l19-11l-33 1l-19-27z"/>
<path class=l d="M1327 3445l19 4l-33-37l-18 9z"/>
<path class=m d="M1309 3432l18 13l-32-24l-19 2z"/>
<path class=k d="M1290 3455l19-23l-33-9l-19 25z"/>
<path class=l d="M1271 3453l19 2l-33-7l-18 19z"/>
<path class=j d="M1253 3477l18-24l-32 14l-19-18z"/>
<path class=m d="M1234 3444l19 33l-33-28l-19 11zm-19 5l19-5l-33 16l-18-21zm-18 0l18 0l-32-10l-19 5zm-19 6l19-6l-33-5l-18-4z"/>
<path class=k d="M1160 3478l18-23l-32-15l-19 25zm-19 12l19-12l-33-13l-19 3z"/>
<path class=l d="M1122 3477l19 13l-33-22l-18 27z"/>
<path class=m d="M1104 3468l18 9l-32 18l-19-14z"/>
<path class=k d="M1085 3506l19-38l-33 13l-19 20z"/>
<path class=l d="M1066 3487l19 19l-33-5l-18 6z"/>
<path class=m d="M1048 3467l18 20l-32 20l-19-39zm-19 10l19-10l-33 1l-19 2z"/>
<path class=l d="M1010 3504l19-27l-33-7l-18 26z"/>
<path class=j d="M992 3527l18-23l-32-8l-19 19z"/>
<path class=k d="M973 3514l19 13l-33-12l-18 18zm-19 16l19-16l-32 19l-19-23z"/>
<path class=l d="M936 3504l18 26l-32-20l-19-5z"/>
<path class=j d="M917 3538l19-34l-33 1l-18 8zm-18 4l18-4l-32-25l-19-9zm-19 4l19-4l-33-38l-19 39z"/>
<path class=k d="M861 3543l19 3l-33-3l-18-35zm-18-7l18 7l-32-35l-19 27zm-19 4l19-4l-33-1l-19-3z"/>
<path class=l d="M805 3528l19 12l-33-8l-18 1z"/>
<path class=j d="M787 3571l18-43l-32 5l-19 41z"/>
<path class=k d="M768 3553l19 18l-33 3l-19-32z"/>
<path class=j d="M749 3571l19-18l-33-11l-18-16z"/>
<path class=k d="M731 3560l18 11l-32-45l-19 34z"/>
<path class=j d="M712 3582l19-22l-33 0l-18 2z"/>
<path class=l d="M694 3562l18 20l-32-20l-19-4z"/>
<path class=m d="M675 3546l19 16l-33-4l-19-15z"/>
<path class=l d="M656 3564l19-18l-33-3l-18 10z"/>
<path class=k d="M638 3588l18-24l-32-11l-19 4z"/>
<path class=l d="M619 3570l19 18l-33-31l-19 14z"/>
<path class=k d="M600 3589l19-19l-33 1l-18 5z"/>
<path class=l d="M582 3573l18 16l-32-13l-19-1z"/>
<path class=l d="M1472 3425l18 14l-32-38l-19 20z"/>
<path class=m d="M1453 3420l19 5l-33-4l-18-16zm-19 1l19-1l-32-15l-19 11z"/>
<path class=k d="M1416 3457l18-36l-32-5l-19 27zm-19-1l19 1l-33-14l-18-5zm-18 9l18-9l-32-18l-19 11zm-19 2l19-2l-33-16l-19-4z"/>
<path class=m d="M1341 3430l19 37l-33-22l-18-13zm-18 13l18-13l-32 2l-19 23z"/>
<path class=k d="M1304 3478l19-35l-33 12l-19-2z"/>
<path class=j d="M1285 3490l19-12l-33-25l-18 24z"/>
<path class=l d="M1267 3471l18 19l-32-13l-19-33z"/>
<path class=m d="M1248 3460l19 11l-33-27l-19 5zm-19-8l19 8l-33-11l-18 0zm-18 10l18-10l-32-3l-19 6z"/>
<path class=l d="M1192 3482l19-20l-33-7l-18 23zm-18 8l18-8l-32-4l-19 12zm-19-11l19 11l-33 0l-19-13zm-19 4l19-4l-33-2l-18-9z"/>
<path class=k d="M1118 3515l18-32l-32-15l-19 38z"/>
<path class=l d="M1099 3499l19 16l-33-9l-19-19z"/>
<path class=k d="M1080 3517l19-18l-33-12l-18-20z"/>
<path class=m d="M1062 3487l18 30l-32-50l-19 10zm-19 10l19-10l-33-10l-19 27z"/>
<path class=k d="M1024 3525l19-28l-33 7l-18 23zm-18 9l18-9l-32 2l-19-13z"/>
<path class=l d="M987 3513l19 21l-33-20l-19 16z"/>
<path class=k d="M968 3535l19-22l-33 17l-18-26zm-18-2l18 2l-32-31l-19 34zm-19 6l19-6l-33 5l-18 4zm-18 9l18-9l-32 3l-19 4zm-19 2l19-2l-33-2l-19-3z"/>
<path class=j d="M875 3576l19-26l-33-7l-18-7z"/>
<path class=k d="M857 3562l18 14l-32-40l-19 4zm-19 4l19-4l-33-22l-19-12z"/>
<path class=j d="M819 3575l19-9l-33-38l-18 43z"/>
<path class=k d="M801 3569l18 6l-32-4l-19-18zm-19 3l19-3l-33-16l-19 18z"/>
<path class=l d="M763 3560l19 12l-33-1l-18-11zm-18-5l18 5l-32 0l-19 22zm-19 15l19-15l-33 27l-18-20z"/>
<path class=n d="M707 3543l19 27l-32-8l-19-16z"/>
<path class=k d="M689 3588l18-45l-32 3l-19 18zm-19 8l19-8l-33-24l-18 24zm-18 5l18-5l-32-8l-19-18zm-19 0l19 0l-33-31l-19 19z"/>
<path class=l d="M614 3586l19 15l-33-12l-18-16z"/>
<path class=m d="M1504 3429l19 11l-33-1l-18-14z"/>
<path class=l d="M1486 3440l18-11l-32-4l-19-5z"/>
<path class=k d="M1467 3457l19-17l-33-20l-19 1z"/>
<path class=l d="M1448 3455l19 2l-33-36l-18 36z"/>
<path class=k d="M1430 3471l18-16l-32 2l-19-1z"/>
<path class=l d="M1411 3461l19 10l-33-15l-18 9zm-18 5l18-5l-32 4l-19 2z"/>
<path class=k d="M1374 3471l19-5l-33 1l-19-37z"/>
<path class=n d="M1355 3433l19 38l-33-41l-18 13z"/>
<path class=l d="M1337 3464l18-31l-32 10l-19 35z"/>
<path class=k d="M1318 3488l19-24l-33 14l-19 12z"/>
<path class=l d="M1299 3474l19 14l-33 2l-18-19z"/>
<path class=m d="M1281 3469l18 5l-32-3l-19-11z"/>
<path class=l d="M1262 3479l19-10l-33-9l-19-8zm-19 11l19-11l-33-27l-18 10zm-18 3l18-3l-32-28l-19 20zm-19 3l19-3l-33-11l-18 8zm-19 6l19-6l-32-6l-19-11zm-18-2l18 2l-32-23l-19 4z"/>
<path class=m d="M1150 3495l19 5l-33-17l-18 32z"/>
<path class=l d="M1132 3504l18-9l-32 20l-19-16zm-19 9l19-9l-33-5l-19 18zm-19 4l19-4l-33 4l-18-30z"/>
<path class=k d="M1076 3528l18-11l-32-30l-19 10z"/>
<path class=l d="M1057 3524l19 4l-33-31l-19 28zm-19-2l19 2l-33 1l-18 9z"/>
<path class=m d="M1020 3520l18 2l-32 12l-19-21z"/>
<path class=l d="M1001 3538l19-18l-33-7l-19 22zm-19-5l19 5l-33-3l-18-2zm-18 4l18-4l-32 0l-19 6z"/>
<path class=k d="M945 3552l19-15l-33 2l-18 9zm-19 12l19-12l-32-4l-19 2zm-18-3l18 3l-32-14l-19 26z"/>
<path class=j d="M889 3586l19-25l-33 15l-18-14zm-18-4l18 4l-32-24l-19 4zm-19 1l19-1l-33-16l-19 9z"/>
<path class=k d="M833 3584l19-1l-33-8l-18-6zm-18-9l18 9l-32-15l-19 3z"/>
<path class=l d="M796 3567l19 8l-33-3l-19-12zm-19 11l19-11l-33-7l-18-5zm-18 5l18-5l-32-23l-19 15zm-19 1l19-1l-33-13l-19-27z"/>
<path class=k d="M721 3606l19-22l-33-41l-18 45z"/>
<path class=l d="M703 3591l18 15l-32-18l-19 8z"/>
<path class=j d="M684 3620l19-29l-33 5l-18 5z"/>
<path class=k d="M666 3614l18 6l-32-19l-19 0z"/>
<path class=l d="M647 3601l19 13l-33-13l-19-15z"/>
<path class=l d="M1537 3449l19-4l-33-5l-19-11zm-19 6l19-6l-33-20l-18 11z"/>
<path class=k d="M1500 3466l18-11l-32-15l-19 17z"/>
<path class=m d="M1481 3450l19 16l-33-9l-19-2z"/>
<path class=k d="M1462 3478l19-28l-33 5l-18 16zm-18 12l18-12l-32-7l-19-10zm-19-6l19 6l-33-29l-18 5zm-19 8l19-8l-32-18l-19 5zm-18-1l18 1l-32-21l-19-38zm-19 1l19-1l-33-58l-18 31z"/>
<path class=l d="M1351 3480l18 12l-32-28l-19 24zm-19 13l19-13l-33 8l-19-14zm-19-2l19 2l-33-19l-18-5z"/>
<path class=k d="M1295 3510l18-19l-32-22l-19 10z"/>
<path class=l d="M1276 3498l19 12l-33-31l-19 11zm-19 1l19-1l-33-8l-18 3zm-18 12l18-12l-32-6l-19 3z"/>
<path class=m d="M1220 3492l19 19l-33-15l-19 6z"/>
<path class=k d="M1201 3523l19-31l-33 10l-18-2z"/>
<path class=l d="M1183 3520l18 3l-32-23l-19-5zm-19 5l19-5l-33-25l-18 9zm-18-1l18 1l-32-21l-19 9z"/>
<path class=j d="M1127 3551l19-27l-33-11l-19 4z"/>
<path class=k d="M1108 3549l19 2l-33-34l-18 11z"/>
<path class=l d="M1090 3538l18 11l-32-21l-19-4z"/>
<path class=k d="M1071 3548l19-10l-33-14l-19-2z"/>
<path class=m d="M1052 3522l19 26l-33-26l-18-2zm-18 3l18-3l-32-2l-19 18zm-19 8l19-8l-33 13l-19-5zm-19 0l19 0l-33 0l-18 4z"/>
<path class=l d="M978 3553l18-20l-32 4l-19 15z"/>
<path class=k d="M959 3571l19-18l-33-1l-19 12z"/>
<path class=l d="M940 3560l19 11l-33-7l-18-3z"/>
<path class=k d="M922 3584l18-24l-32 1l-19 25zm-19 6l19-6l-33 2l-18-4zm-18 0l18 0l-32-8l-19 1zm-19 0l19 0l-33-7l-19 1z"/>
<path class=l d="M847 3581l19 9l-33-6l-18-9z"/>
<path class=k d="M829 3590l18-9l-32-6l-19-8z"/>
<path class=l d="M810 3589l19 1l-33-23l-19 11z"/>
<path class=k d="M791 3600l19-11l-33-11l-18 5zm-18 6l18-6l-32-17l-19 1zm-19 5l19-5l-33-22l-19 22zm-19 2l19-2l-33-5l-18-15zm-18 8l18-8l-32-22l-19 29zm-19 2l19-2l-33-1l-18-6zm-19-5l19 5l-32-9l-19-13z"/>
<path class=m d="M1570 3449l18-2l-32-2l-19 4zm-19 5l19-5l-33 0l-19 6z"/>
<path class=l d="M1532 3468l19-14l-33 1l-18 11zm-18 5l18-5l-32-2l-19-16zm-19-1l19 1l-33-23l-19 28zm-19 6l19-6l-33 6l-18 12z"/>
<path class=k d="M1458 3495l18-17l-32 12l-19-6z"/>
<path class=l d="M1439 3489l19 6l-33-11l-19 8z"/>
<path class=k d="M1420 3502l19-13l-33 3l-18-1zm-18-2l18 2l-32-11l-19 1z"/>
<path class=l d="M1383 3496l19 4l-33-8l-18-12z"/>
<path class=k d="M1365 3514l18-18l-32-16l-19 13z"/>
<path class=m d="M1346 3491l19 23l-33-21l-19-2z"/>
<path class=k d="M1327 3514l19-23l-33 0l-18 19z"/>
<path class=l d="M1309 3510l18 4l-32-4l-19-12z"/>
<path class=m d="M1290 3500l19 10l-33-12l-19 1zm-19 2l19-2l-33-1l-18 12z"/>
<path class=k d="M1253 3527l18-25l-32 9l-19-19z"/>
<path class=m d="M1234 3504l19 23l-33-35l-19 31zm-19 1l19-1l-33 19l-18-3z"/>
<path class=k d="M1197 3549l18-44l-32 15l-19 5z"/>
<path class=l d="M1178 3529l19 20l-33-24l-18-1z"/>
<path class=k d="M1159 3555l19-26l-32-5l-19 27zm-18-1l18 1l-32-4l-19-2zm-19 0l19 0l-33-5l-18-11z"/>
<path class=m d="M1104 3534l18 20l-32-16l-19 10z"/>
<path class=l d="M1085 3551l19-17l-33 14l-19-26z"/>
<path class=k d="M1066 3567l19-16l-33-29l-18 3z"/>
<path class=l d="M1048 3550l18 17l-32-42l-19 8zm-19 9l19-9l-33-17l-19 0z"/>
<path class=m d="M1010 3554l19 5l-33-26l-18 20z"/>
<path class=l d="M992 3570l18-16l-32-1l-19 18z"/>
<path class=k d="M973 3589l19-19l-33 1l-19-11zm-19-6l19 6l-33-29l-18 24z"/>
<path class=j d="M936 3607l18-24l-32 1l-19 6z"/>
<path class=k d="M917 3595l19 12l-33-17l-18 0zm-18 0l18 0l-32-5l-19 0zm-19 7l19-7l-33-5l-19-9z"/>
<path class=l d="M861 3598l19 4l-33-21l-18 9z"/>
<path class=k d="M843 3602l18-4l-32-8l-19-1z"/>
<path class=m d="M824 3589l19 13l-33-13l-19 11z"/>
<path class=l d="M805 3602l19-13l-33 11l-18 6z"/>
<path class=k d="M787 3618l18-16l-32 4l-19 5z"/>
<path class=i d="M768 3649l19-31l-33-7l-19 2zm-19 7l19-7l-33-36l-18 8z"/>
<path class=j d="M731 3649l18 7l-32-35l-19 2z"/>
<path class=l d="M712 3626l19 23l-33-26l-19-5z"/>
<path class=n d="M1602 3444l19 22l-33-19l-18 2z"/>
<path class=l d="M1584 3469l18-25l-32 5l-19 5zm-19 1l19-1l-33-15l-19 14z"/>
<path class=m d="M1546 3467l19 3l-33-2l-18 5z"/>
<path class=l d="M1528 3479l18-12l-32 6l-19-1zm-19 14l19-14l-33-7l-19 6zm-19 1l19-1l-33-15l-18 17zm-18 5l18-5l-32 1l-19-6zm-19 3l19-3l-33-10l-19 13z"/>
<path class=k d="M1434 3510l19-8l-33 0l-18-2z"/>
<path class=l d="M1416 3506l18 4l-32-10l-19-4zm-19 8l19-8l-33-10l-18 18z"/>
<path class=k d="M1379 3522l18-8l-32 0l-19-23zm-19 12l19-12l-33-31l-19 23z"/>
<path class=l d="M1341 3513l19 21l-33-20l-18-4zm-18 7l18-7l-32-3l-19-10z"/>
<path class=m d="M1304 3504l19 16l-33-20l-19 2z"/>
<path class=l d="M1285 3528l19-24l-33-2l-18 25zm-18 12l18-12l-32-1l-19-23zm-19-6l19 6l-33-36l-19 1z"/>
<path class=k d="M1229 3554l19-20l-33-29l-18 44z"/>
<path class=m d="M1211 3533l18 21l-32-5l-19-20z"/>
<path class=k d="M1192 3567l19-34l-33-4l-19 26zm-19-6l19 6l-33-12l-18-1z"/>
<path class=l d="M1155 3560l18 1l-32-7l-19 0zm-19-8l19 8l-33-6l-18-20zm-18 10l18-10l-32-18l-19 17z"/>
<path class=j d="M1099 3595l19-33l-33-11l-19 16z"/>
<path class=l d="M1080 3561l19 34l-33-28l-18-17zm-18 9l18-9l-32-11l-19 9z"/>
<path class=m d="M1043 3558l19 12l-33-11l-19-5z"/>
<path class=l d="M1024 3579l19-21l-33-4l-18 16zm-18 8l18-8l-32-9l-19 19z"/>
<path class=k d="M987 3593l19-6l-33 2l-19-6z"/>
<path class=l d="M968 3595l19-2l-33-10l-18 24z"/>
<path class=k d="M950 3610l18-15l-32 12l-19-12zm-19 4l19-4l-33-15l-18 0z"/>
<path class=j d="M912 3634l19-20l-32-19l-19 7z"/>
<path class=k d="M894 3618l18 16l-32-32l-19-4zm-19-4l19 4l-33-20l-18 4z"/>
<path class=m d="M857 3597l18 17l-32-12l-19-13z"/>
<path class=k d="M838 3622l19-25l-33-8l-19 13z"/>
<path class=l d="M819 3618l19 4l-33-20l-18 16z"/>
<path class=k d="M801 3638l18-20l-32 0l-19 31z"/>
<path class=j d="M782 3653l19-15l-33 11l-19 7zm-19-2l19 2l-33 3l-18-7zm-18 16l18-16l-32-2l-19-23z"/>
<path class=m d="M1635 3470l18-4l-32 0l-19-22z"/>
<path class=j d="M1616 3509l19-39l-33-26l-18 25z"/>
<path class=k d="M1598 3505l18 4l-32-40l-19 1z"/>
<path class=l d="M1579 3498l19 7l-33-35l-19-3z"/>
<path class=m d="M1560 3483l19 15l-33-31l-18 12z"/>
<path class=l d="M1542 3502l18-19l-32-4l-19 14zm-19 6l19-6l-33-9l-19 1z"/>
<path class=j d="M1504 3539l19-31l-33-14l-18 5z"/>
<path class=l d="M1486 3507l18 32l-32-40l-19 3z"/>
<path class=k d="M1467 3528l19-21l-33-5l-19 8z"/>
<path class=j d="M1448 3540l19-12l-33-18l-18-4z"/>
<path class=m d="M1430 3508l18 32l-32-34l-19 8z"/>
<path class=l d="M1411 3518l19-10l-33 6l-18 8zm-19 2l19-2l-32 4l-19 12z"/>
<path class=k d="M1374 3538l18-18l-32 14l-19-21z"/>
<path class=l d="M1355 3532l19 6l-33-25l-18 7z"/>
<path class=m d="M1337 3524l18 8l-32-12l-19-16z"/>
<path class=l d="M1318 3533l19-9l-33-20l-19 24z"/>
<path class=m d="M1299 3535l19-2l-33-5l-18 12z"/>
<path class=k d="M1281 3556l18-21l-32 5l-19-6zm-19 8l19-8l-33-22l-19 20z"/>
<path class=m d="M1243 3533l19 31l-33-10l-18-21z"/>
<path class=l d="M1225 3556l18-23l-32 0l-19 34zm-19 12l19-12l-33 11l-19-6zm-19-7l19 7l-33-7l-18-1z"/>
<path class=k d="M1169 3578l18-17l-32-1l-19-8z"/>
<path class=l d="M1150 3570l19 8l-33-26l-18 10z"/>
<path class=k d="M1131 3589l19-19l-32-8l-19 33zm-18 2l18-2l-32 6l-19-34z"/>
<path class=m d="M1094 3571l19 20l-33-30l-18 9zm-18 1l18-1l-32-1l-19-12z"/>
<path class=l d="M1057 3580l19-8l-33-14l-19 21z"/>
<path class=m d="M1038 3580l19 0l-33-1l-18 8z"/>
<path class=k d="M1020 3614l18-34l-32 7l-19 6z"/>
<path class=j d="M1001 3623l19-9l-33-21l-19 2zm-19 12l19-12l-33-28l-18 15z"/>
<path class=l d="M964 3602l18 33l-32-25l-19 4z"/>
<path class=k d="M945 3627l19-25l-33 12l-19 20zm-19 8l19-8l-33 7l-18-16zm-18-4l18 4l-32-17l-19-4zm-19 1l19-1l-33-17l-18-17z"/>
<path class=l d="M871 3629l18 3l-32-35l-19 25zm-19 1l19-1l-33-7l-19-4z"/>
<path class=k d="M833 3650l19-20l-33-12l-18 20zm-18-5l18 5l-32-12l-19 15z"/>
<path class=j d="M796 3662l19-17l-33 8l-19-2zm-19 12l19-12l-33-11l-18 16z"/>
<path class=k d="M1667 3502l19 4l-33-40l-18 4z"/>
<path class=j d="M1649 3526l18-24l-32-32l-19 39z"/>
<path class=k d="M1630 3518l19 8l-33-17l-18-4z"/>
<path class=l d="M1611 3505l19 13l-32-13l-19-7zm-18 0l18 0l-32-7l-19-15z"/>
<path class=k d="M1574 3521l19-16l-33-22l-18 19zm-18 2l18-2l-32-19l-19 6z"/>
<path class=l d="M1537 3519l19 4l-33-15l-19 31zm-19 7l19-7l-33 20l-18-32zm-18-7l18 7l-32-19l-19 21z"/>
<path class=k d="M1481 3537l19-18l-33 9l-19 12z"/>
<path class=n d="M1462 3493l19 44l-33 3l-18-32z"/>
<path class=m d="M1444 3513l18-20l-32 15l-19 10zm-19 5l19-5l-33 5l-19 2zm-19 11l19-11l-33 2l-18 18z"/>
<path class=l d="M1388 3537l18-8l-32 9l-19-6z"/>
<path class=k d="M1369 3559l19-22l-33-5l-18-8z"/>
<path class=l d="M1351 3549l18 10l-32-35l-19 9z"/>
<path class=j d="M1332 3579l19-30l-33-16l-19 2z"/>
<path class=k d="M1313 3571l19 8l-33-44l-18 21zm-18 1l18-1l-32-15l-19 8zm-19 7l19-7l-33-8l-19-31zm-19 0l19 0l-33-46l-18 23zm-18 1l18-1l-32-23l-19 12zm-19 15l19-15l-33-12l-19-7z"/>
<path class=m d="M1201 3569l19 26l-33-34l-18 17z"/>
<path class=l d="M1183 3574l18-5l-32 9l-19-8z"/>
<path class=k d="M1164 3599l19-25l-33-4l-19 19z"/>
<path class=l d="M1145 3595l19 4l-33-10l-18 2zm-18-7l18 7l-32-4l-19-20z"/>
<path class=m d="M1108 3586l19 2l-33-17l-18 1zm-18-8l18 8l-32-14l-19 8z"/>
<path class=l d="M1071 3603l19-25l-33 2l-19 0z"/>
<path class=j d="M1052 3634l19-31l-33-23l-18 34z"/>
<path class=l d="M1034 3614l18 20l-32-20l-19 9zm-19 2l19-2l-33 9l-19 12zm-19 3l19-3l-33 19l-18-33z"/>
<path class=m d="M978 3605l18 14l-32-17l-19 25zm-19-5l19 5l-33 22l-19 8z"/>
<path class=k d="M940 3634l19-34l-33 35l-18-4z"/>
<path class=m d="M922 3617l18 17l-32-3l-19 1z"/>
<path class=k d="M903 3650l19-33l-33 15l-18-3z"/>
<path class=l d="M884 3631l19 19l-32-21l-19 1z"/>
<path class=k d="M866 3655l18-24l-32-1l-19 20z"/>
<path class=j d="M847 3667l19-12l-33-5l-18-5zm-18 8l18-8l-32-22l-19 17z"/>
<path class=i d="M810 3696l19-21l-33-13l-19 12z"/>
<path class=l d="M1700 3497l19 7l-33 2l-19-4z"/>
<path class=k d="M1681 3517l19-20l-33 5l-18 24zm-18 13l18-13l-32 9l-19-8zm-19 2l19-2l-33-12l-19-13zm-19-5l19 5l-33-27l-18 0z"/>
<path class=l d="M1607 3514l18 13l-32-22l-19 16zm-19 15l19-15l-33 7l-18 2z"/>
<path class=m d="M1570 3509l18 20l-32-6l-19-4zm-19 12l19-12l-33 10l-19 7z"/>
<path class=l d="M1532 3531l19-10l-33 5l-18-7z"/>
<path class=k d="M1514 3548l18-17l-32-12l-19 18zm-19 2l19-2l-33-11l-19-44z"/>
<path class=l d="M1476 3540l19 10l-33-57l-18 20z"/>
<path class=m d="M1458 3538l18 2l-32-27l-19 5z"/>
<path class=n d="M1439 3526l19 12l-33-20l-19 11z"/>
<path class=l d="M1420 3559l19-33l-33 3l-18 8z"/>
<path class=k d="M1402 3569l18-10l-32-22l-19 22z"/>
<path class=l d="M1383 3554l19 15l-33-10l-18-10zm-19 4l19-4l-32-5l-19 30z"/>
<path class=k d="M1346 3582l18-24l-32 21l-19-8z"/>
<path class=l d="M1327 3567l19 15l-33-11l-18 1zm-18 9l18-9l-32 5l-19 7zm-19-6l19 6l-33 3l-19 0z"/>
<path class=j d="M1271 3607l19-37l-33 9l-18 1z"/>
<path class=k d="M1253 3601l18 6l-32-27l-19 15z"/>
<path class=j d="M1234 3615l19-14l-33-6l-19-26z"/>
<path class=l d="M1215 3596l19 19l-33-46l-18 5z"/>
<path class=j d="M1197 3620l18-24l-32-22l-19 25z"/>
<path class=k d="M1178 3608l19 12l-33-21l-19-4z"/>
<path class=m d="M1159 3593l19 15l-33-13l-18-7zm-18-8l18 8l-32-5l-19-2z"/>
<path class=n d="M1122 3571l19 14l-33 1l-18-8z"/>
<path class=m d="M1104 3604l18-33l-32 7l-19 25z"/>
<path class=k d="M1085 3632l19-28l-33-1l-19 31z"/>
<path class=l d="M1066 3625l19 7l-33 2l-18-20zm-18 0l18 0l-32-11l-19 2zm-19 5l19-5l-33-9l-19 3zm-19-3l19 3l-33-11l-18-14zm-18 4l18-4l-32-22l-19-5zm-19-2l19 2l-33-31l-19 34z"/>
<path class=k d="M954 3662l19-33l-33 5l-18-17z"/>
<path class=m d="M936 3635l18 27l-32-45l-19 33z"/>
<path class=k d="M917 3670l19-35l-33 15l-19-19zm-19 2l19-2l-33-39l-18 24zm-18 4l18-4l-32-17l-19 12z"/>
<path class=h d="M861 3713l19-37l-33-9l-18 8zm-18 16l18-16l-32-38l-19 21z"/>
<path class=l d="M1733 3506l18 3l-32-5l-19-7z"/>
<path class=k d="M1714 3532l19-26l-33-9l-19 20z"/>
<path class=l d="M1695 3523l19 9l-33-15l-18 13zm-18 2l18-2l-32 7l-19 2zm-19-6l19 6l-33 7l-19-5z"/>
<path class=m d="M1639 3512l19 7l-33 8l-18-13zm-18 1l18-1l-32 2l-19 15zm-19 11l19-11l-33 16l-18-20z"/>
<path class=l d="M1584 3540l18-16l-32-15l-19 12zm-19 4l19-4l-33-19l-19 10zm-19-2l19 2l-33-13l-18 17zm-18 16l18-16l-32 6l-19 2zm-19-9l19 9l-33-8l-19-10z"/>
<path class=m d="M1490 3548l19 1l-33-9l-18-2z"/>
<path class=l d="M1472 3561l18-13l-32-10l-19-12z"/>
<path class=k d="M1453 3576l19-15l-33-35l-19 33z"/>
<path class=l d="M1434 3565l19 11l-33-17l-18 10z"/>
<path class=m d="M1416 3557l18 8l-32 4l-19-15z"/>
<path class=l d="M1397 3572l19-15l-33-3l-19 4zm-19 9l19-9l-33-14l-18 24zm-18 5l18-5l-32 1l-19-15z"/>
<path class=m d="M1341 3577l19 9l-33-19l-18 9z"/>
<path class=k d="M1323 3596l18-19l-32-1l-19-6z"/>
<path class=m d="M1304 3582l19 14l-33-26l-19 37z"/>
<path class=l d="M1285 3599l19-17l-33 25l-18-6z"/>
<path class=k d="M1267 3621l18-22l-32 2l-19 14z"/>
<path class=m d="M1248 3587l19 34l-33-6l-19-19zm-19 10l19-10l-33 9l-18 24z"/>
<path class=l d="M1211 3608l18-11l-32 23l-19-12z"/>
<path class=n d="M1192 3575l19 33l-33 0l-19-15z"/>
<path class=o d="M1173 3574l19 1l-33 18l-18-8z"/>
<path class=n d="M1155 3585l18-11l-32 11l-19-14zm-19-1l19 1l-33-14l-18 33z"/>
<path class=m d="M1117 3614l19-30l-32 20l-19 28z"/>
<path class=l d="M1099 3624l18-10l-32 18l-19-7zm-19 7l19-7l-33 1l-18 0z"/>
<path class=k d="M1062 3649l18-18l-32-6l-19 5z"/>
<path class=l d="M1043 3642l19 7l-33-19l-19-3z"/>
<path class=m d="M1024 3622l19 20l-33-15l-18 4z"/>
<path class=k d="M1006 3661l18-39l-32 9l-19-2zm-19 5l19-5l-33-32l-19 33zm-19 5l19-5l-33-4l-18-27z"/>
<path class=j d="M950 3682l18-11l-32-36l-19 35z"/>
<path class=i d="M931 3707l19-25l-33-12l-19 2z"/>
<path class=j d="M912 3690l19 17l-33-35l-18 4z"/>
<path class=h d="M894 3728l18-38l-32-14l-19 37z"/>
<path class=e d="M875 3774l19-46l-33-15l-18 16z"/>
<path class=m d="M1765 3503l19 4l-33 2l-18-3z"/>
<path class=l d="M1747 3521l18-18l-32 3l-19 26z"/>
<path class=m d="M1728 3519l19 2l-33 11l-19-9z"/>
<path class=l d="M1709 3531l19-12l-33 4l-18 2z"/>
<path class=m d="M1691 3526l18 5l-32-6l-19-6zm-19-8l19 8l-33-7l-19-7zm-19 15l19-15l-33-6l-18 1zm-18 5l18-5l-32-20l-19 11zm-19-3l19 3l-33-14l-18 16z"/>
<path class=l d="M1597 3555l19-20l-32 5l-19 4z"/>
<path class=k d="M1579 3568l18-13l-32-11l-19-2zm-19 9l19-9l-33-26l-18 16z"/>
<path class=l d="M1542 3562l18 15l-32-19l-19-9zm-19 1l19-1l-33-13l-19-1z"/>
<path class=n d="M1504 3546l19 17l-33-15l-18 13z"/>
<path class=l d="M1486 3575l18-29l-32 15l-19 15z"/>
<path class=m d="M1467 3563l19 12l-33 1l-19-11z"/>
<path class=l d="M1448 3582l19-19l-33 2l-18-8zm-18 8l18-8l-32-25l-19 15zm-19-1l19 1l-33-18l-19 9zm-19 5l19-5l-33-8l-18 5zm-18-3l18 3l-32-8l-19-9z"/>
<path class=k d="M1355 3611l19-20l-33-14l-18 19z"/>
<path class=l d="M1336 3602l19 9l-32-15l-19-14z"/>
<path class=k d="M1318 3622l18-20l-32-20l-19 17zm-19 7l19-7l-33-23l-18 22zm-18-5l18 5l-32-8l-19-34z"/>
<path class=n d="M1262 3585l19 39l-33-37l-19 10z"/>
<path class=m d="M1243 3608l19-23l-33 12l-18 11zm-18-8l18 8l-32 0l-19-33z"/>
<path class=o d="M1206 3582l19 18l-33-25l-19-1z"/>
<path class=n d="M1187 3591l19-9l-33-8l-18 11z"/>
<path class=m d="M1169 3612l18-21l-32-6l-19-1zm-19 12l19-12l-33-28l-19 30z"/>
<path class=l d="M1131 3637l19-13l-33-10l-18 10zm-18 3l18-3l-32-13l-19 7zm-19 1l19-1l-33-9l-18 18z"/>
<path class=m d="M1076 3638l18 3l-32 8l-19-7z"/>
<path class=l d="M1057 3648l19-10l-33 4l-19-20z"/>
<path class=m d="M1038 3638l19 10l-33-26l-18 39z"/>
<path class=l d="M1020 3665l18-27l-32 23l-19 5z"/>
<path class=k d="M1001 3673l19-8l-33 1l-19 5zm-19 16l19-16l-33-2l-18 11z"/>
<path class=h d="M964 3727l18-38l-32-7l-19 25z"/>
<path class=i d="M945 3723l19 4l-33-20l-19-17z"/>
<path class=j d="M926 3714l19 9l-33-33l-18 38z"/>
<path class=l d="M908 3683l18 31l-32 14l-19 46z"/>
<path class=m d="M1798 3515l18-1l-32-7l-19-4z"/>
<path class=o d="M1779 3498l19 17l-33-12l-18 18z"/>
<path class=l d="M1761 3546l18-48l-32 23l-19-2zm-19-7l19 7l-33-27l-19 12z"/>
<path class=m d="M1723 3525l19 14l-33-8l-18-5z"/>
<path class=n d="M1705 3523l18 2l-32 1l-19-8z"/>
<path class=m d="M1686 3540l19-17l-33-5l-19 15zm-19 8l19-8l-33-7l-18 5zm-18 0l18 0l-32-10l-19-3zm-19 2l19-2l-33-13l-19 20zm-19 5l19-5l-33 5l-18 13z"/>
<path class=l d="M1593 3569l18-14l-32 13l-19 9z"/>
<path class=k d="M1574 3583l19-14l-33 8l-18-15z"/>
<path class=l d="M1556 3574l18 9l-32-21l-19 1zm-19 2l19-2l-33-11l-19-17z"/>
<path class=k d="M1518 3594l19-18l-33-30l-18 29zm-18 3l18-3l-32-19l-19-12z"/>
<path class=m d="M1481 3583l19 14l-33-34l-19 19z"/>
<path class=l d="M1462 3599l19-16l-33-1l-18 8z"/>
<path class=k d="M1444 3615l18-16l-32-9l-19-1z"/>
<path class=l d="M1425 3607l19 8l-33-26l-19 5zm-19 3l19-3l-33-13l-18-3z"/>
<path class=m d="M1388 3587l18 23l-32-19l-19 20z"/>
<path class=l d="M1369 3617l19-30l-33 24l-19-9zm-19-3l19 3l-33-15l-18 20z"/>
<path class=m d="M1332 3609l18 5l-32 8l-19 7z"/>
<path class=n d="M1313 3599l19 10l-33 20l-18-5zm-18-8l18 8l-32 25l-19-39z"/>
<path class=m d="M1276 3612l19-21l-33-6l-19 23zm-19 1l19-1l-33-4l-18-8zm-18 1l18-1l-32-13l-19-18zm-19 17l19-17l-33-32l-19 9zm-19-4l19 4l-33-40l-18 21zm-18 1l18-1l-32-15l-19 12z"/>
<path class=n d="M1164 3625l19 3l-33-4l-19 13zm-19 1l19-1l-33 12l-18 3z"/>
<path class=m d="M1127 3644l18-18l-32 14l-19 1z"/>
<path class=l d="M1108 3654l19-10l-33-3l-18-3z"/>
<path class=m d="M1089 3645l19 9l-32-16l-19 10z"/>
<path class=l d="M1071 3672l18-27l-32 3l-19-10zm-19-8l19 8l-33-34l-18 27zm-18 5l18-5l-32 1l-19 8z"/>
<path class=k d="M1015 3689l19-20l-33 4l-19 16zm-19 5l19-5l-33 0l-18 38z"/>
<path class=m d="M978 3666l18 28l-32 33l-19-4z"/>
<path class=q d="M959 3614l19 52l-33 57l-19-9z"/>
<path class=t d="M940 3563l19 51l-33 100l-18-31z"/>
<path class=n d="M1830 3514l19 2l-33-2l-18 1z"/>
<path class=m d="M1812 3525l18-11l-32 1l-19-17zm-19 10l19-10l-33-27l-18 48zm-18 4l18-4l-32 11l-19-7z"/>
<path class=n d="M1756 3522l19 17l-33 0l-19-14zm-19 7l19-7l-33 3l-18-2z"/>
<path class=m d="M1719 3543l18-14l-32-6l-19 17zm-19 14l19-14l-33-3l-19 8zm-19-6l19 6l-33-9l-18 0z"/>
<path class=n d="M1663 3538l18 13l-32-3l-19 2zm-19 5l19-5l-33 12l-19 5zm-19 9l19-9l-33 12l-18 14zm-18-1l18 1l-32 17l-19 14z"/>
<path class=m d="M1588 3575l19-24l-33 32l-18-9z"/>
<path class=n d="M1569 3564l19 11l-32-1l-19 2z"/>
<path class=m d="M1551 3573l18-9l-32 12l-19 18zm-19 15l19-15l-33 21l-18 3z"/>
<path class=l d="M1514 3603l18-15l-32 9l-19-14z"/>
<path class=n d="M1495 3578l19 25l-33-20l-19 16z"/>
<path class=m d="M1476 3594l19-16l-33 21l-18 16z"/>
<path class=o d="M1458 3571l18 23l-32 21l-19-8z"/>
<path class=n d="M1439 3585l19-14l-33 36l-19 3zm-19 6l19-6l-33 25l-18-23z"/>
<path class=m d="M1402 3602l18-11l-32-4l-19 30z"/>
<path class=n d="M1383 3599l19 3l-33 15l-19-3z"/>
<path class=m d="M1364 3614l19-15l-33 15l-18-5z"/>
<path class=n d="M1346 3605l18 9l-32-5l-19-10zm-19-6l19 6l-33-6l-18-8z"/>
<path class=m d="M1309 3628l18-29l-32-8l-19 21z"/>
<path class=o d="M1290 3604l19 24l-33-16l-19 1z"/>
<path class=n d="M1271 3622l19-18l-33 9l-18 1z"/>
<path class=m d="M1253 3638l18-16l-32-8l-19 17z"/>
<path class=n d="M1234 3628l19 10l-33-7l-19-4zm-19-8l19 8l-33-1l-18 1z"/>
<path class=m d="M1197 3642l18-22l-32 8l-19-3zm-19 14l19-14l-33-17l-19 1z"/>
<path class=n d="M1159 3643l19 13l-33-30l-18 18z"/>
<path class=l d="M1141 3666l18-23l-32 1l-19 10z"/>
<path class=n d="M1122 3648l19 18l-33-12l-19-9zm-19-3l19 3l-33-3l-18 27z"/>
<path class=m d="M1085 3660l18-15l-32 27l-19-8zm-19 8l19-8l-33 4l-18 5z"/>
<path class=n d="M1048 3651l18 17l-32 1l-19 20z"/>
<path class=r d="M1029 3598l19 53l-33 38l-19 5z"/>
<path class=v d="M1010 3533l19 65l-33 96l-18-28z"/>
<path class=y d="M992 3502l18 31l-32 133l-19-52z"/>
<path class=v d="M973 3543l19-41l-33 112l-19-51z"/>
<path class=q d="M1863 3474l19-4l-33 46l-19-2zm-19 8l19-8l-33 40l-18 11z"/>
<path class=s d="M1826 3459l18 23l-32 43l-19 10z"/>
<path class=q d="M1807 3484l19-25l-33 76l-18 4zm-18 1l18-1l-32 55l-19-17z"/>
<path class=r d="M1770 3476l19 9l-33 37l-19 7zm-19-2l19 2l-33 53l-18 14z"/>
<path class=s d="M1733 3474l18 0l-32 69l-19 14z"/>
<path class=q d="M1714 3500l19-26l-33 83l-19-6zm-19 3l19-3l-33 51l-18-13z"/>
<path class=r d="M1677 3500l18 3l-32 35l-19 5z"/>
<path class=p d="M1658 3525l19-25l-33 43l-19 9z"/>
<path class=r d="M1639 3504l19 21l-33 27l-18-1zm-18 6l18-6l-32 47l-19 24z"/>
<path class=q d="M1602 3523l19-13l-33 65l-19-11z"/>
<path class=s d="M1583 3503l19 20l-33 41l-18 9z"/>
<path class=q d="M1565 3537l18-34l-32 70l-19 15z"/>
<path class=r d="M1546 3524l19 13l-33 51l-18 15z"/>
<path class=q d="M1528 3542l18-18l-32 79l-19-25zm-19-7l19 7l-33 36l-19 16z"/>
<path class=s d="M1490 3520l19 15l-33 59l-18-23z"/>
<path class=r d="M1472 3532l18-12l-32 51l-19 14z"/>
<path class=q d="M1453 3545l19-13l-33 53l-19 6zm-19 5l19-5l-33 46l-18 11z"/>
<path class=r d="M1416 3546l18 4l-32 52l-19-3z"/>
<path class=q d="M1397 3568l19-22l-33 53l-19 15zm-19-9l19 9l-33 46l-18-9z"/>
<path class=r d="M1360 3548l18 11l-32 46l-19-6zm-19 3l19-3l-33 51l-18 29zm-19 8l19-8l-32 77l-19-24zm-18 6l18-6l-32 45l-19 18z"/>
<path class=p d="M1285 3592l19-27l-33 57l-18 16z"/>
<path class=r d="M1267 3574l18 18l-32 46l-19-10zm-19 5l19-5l-33 54l-19-8z"/>
<path class=q d="M1229 3587l19-8l-33 41l-18 22z"/>
<path class=r d="M1211 3587l18 0l-32 55l-19 14zm-19-8l19 8l-33 69l-19-13z"/>
<path class=q d="M1173 3597l19-18l-33 64l-18 23zm-18 15l18-15l-32 69l-19-18z"/>
<path class=r d="M1136 3594l19 18l-33 36l-19-3zm-19 7l19-7l-33 51l-18 15z"/>
<path class=s d="M1099 3583l18 18l-32 59l-19 8z"/>
<path class=w d="M1080 3532l19 51l-33 85l-18-17z"/>
<path class=aa d="M1061 3469l19 63l-32 119l-19-53z"/>
<path class=z d="M1043 3479l18-10l-32 129l-19-65z"/>
<path class=w d="M1024 3533l19-54l-33 54l-18-31z"/>
<path class=t d="M1006 3594l18-61l-32-31l-19 41z"/>
<path class=v d="M1896 3411l18 2l-32 57l-19 4z"/>
<path class=x d="M1877 3384l19 27l-33 63l-19 8zm-19 5l19-5l-33 98l-18-23z"/>
<path class=w d="M1840 3398l18-9l-32 70l-19 25z"/>
<path class=x d="M1821 3390l19 8l-33 86l-18 1zm-19 0l19 0l-32 95l-19-9z"/>
<path class=y d="M1784 3383l18 7l-32 86l-19-2zm-19 10l19-10l-33 91l-18 0z"/>
<path class=x d="M1747 3409l18-16l-32 81l-19 26zm-19-1l19 1l-33 91l-19 3zm-19 3l19-3l-33 95l-18-3zm-18 3l18-3l-32 89l-19 25z"/>
<path class=y d="M1672 3400l19 14l-33 111l-19-21zm-19-1l19 1l-33 104l-18 6z"/>
<path class=z d="M1635 3390l18 9l-32 111l-19 13z"/>
<path class=aa d="M1616 3380l19 10l-33 133l-19-20z"/>
<path class=x d="M1597 3431l19-51l-33 123l-18 34z"/>
<path class=z d="M1579 3408l18 23l-32 106l-19-13z"/>
<path class=y d="M1560 3422l19-14l-33 116l-18 18z"/>
<path class=x d="M1541 3447l19-25l-32 120l-19-7zm-18-6l18 6l-32 88l-19-15zm-19 15l19-15l-33 79l-18 12z"/>
<path class=aa d="M1486 3412l18 44l-32 76l-19 13z"/>
<path class=x d="M1467 3453l19-41l-33 133l-19 5zm-19-1l19 1l-33 97l-18-4z"/>
<path class=w d="M1430 3485l18-33l-32 94l-19 22z"/>
<path class=x d="M1411 3459l19 26l-33 83l-19-9zm-19 17l19-17l-33 100l-18-11z"/>
<path class=z d="M1374 3448l18 28l-32 72l-19 3z"/>
<path class=y d="M1355 3463l19-15l-33 103l-19 8zm-19 8l19-8l-33 96l-18 6z"/>
<path class=x d="M1318 3487l18-16l-32 94l-19 27zm-19 0l19 0l-33 105l-18-18z"/>
<path class=y d="M1281 3467l18 20l-32 87l-19 5z"/>
<path class=aa d="M1262 3451l19 16l-33 112l-19 8zm-19 5l19-5l-33 136l-18 0z"/>
<path class=x d="M1225 3494l18-38l-32 131l-19-8z"/>
<path class=y d="M1206 3486l19 8l-33 85l-19 18z"/>
<path class=z d="M1187 3477l19 9l-33 111l-18 15z"/>
<path class=ab d="M1169 3444l18 33l-32 135l-19-18z"/>
<path class=aa d="M1150 3460l19-16l-33 150l-19 7z"/>
<path class=ad d="M1131 3428l19 32l-33 141l-18-18z"/>
<path class=ac d="M1113 3447l18-19l-32 155l-19-51z"/>
<path class=aa d="M1094 3477l19-30l-33 85l-19-63z"/>
<path class=w d="M1075 3550l19-73l-33-8l-18 10z"/>
<path class=v d="M1057 3566l18-16l-32-71l-19 54z"/>
<path class=t d="M1038 3605l19-39l-33-33l-18 61z"/>
<path class=y d="M1928 3365l19 0l-33 48l-18-2z"/>
<path class=aa d="M1910 3340l18 25l-32 46l-19-27zm-19 13l19-13l-33 44l-19 5zm-19-9l19 9l-33 36l-18 9z"/>
<path class=ab d="M1854 3333l18 11l-32 54l-19-8zm-19 12l19-12l-33 57l-19 0zm-19-6l19 6l-33 45l-18-7zm-18 2l18-2l-32 44l-19 10z"/>
<path class=aa d="M1779 3361l19-20l-33 52l-18 16z"/>
<path class=ab d="M1761 3357l18 4l-32 48l-19-1z"/>
<path class=aa d="M1742 3370l19-13l-33 51l-19 3z"/>
<path class=z d="M1723 3386l19-16l-33 41l-18 3z"/>
<path class=ac d="M1705 3343l18 43l-32 28l-19-14z"/>
<path class=ad d="M1686 3340l19 3l-33 57l-19-1z"/>
<path class=ac d="M1667 3355l19-15l-33 59l-18-9z"/>
<path class=ad d="M1649 3339l18 16l-32 35l-19-10z"/>
<path class=ab d="M1630 3373l19-34l-33 41l-19 51z"/>
<path class=ad d="M1611 3352l19 21l-33 58l-18-23z"/>
<path class=ac d="M1593 3373l18-21l-32 56l-19 14z"/>
<path class=ab d="M1574 3382l19-9l-33 49l-19 25z"/>
<path class=ac d="M1555 3370l19 12l-33 65l-18-6z"/>
<path class=aa d="M1537 3407l18-37l-32 71l-19 15z"/>
<path class=ae d="M1518 3357l19 50l-33 49l-18-44z"/>
<path class=ab d="M1500 3406l18-49l-32 55l-19 41z"/>
<path class=ac d="M1481 3393l19 13l-33 47l-19-1z"/>
<path class=aa d="M1462 3427l19-34l-33 59l-18 33z"/>
<path class=ab d="M1444 3409l18 18l-32 58l-19-26z"/>
<path class=aa d="M1425 3430l19-21l-33 50l-19 17z"/>
<path class=ad d="M1406 3382l19 48l-33 46l-18-28zm-18 18l18-18l-32 66l-19 15z"/>
<path class=ab d="M1369 3424l19-24l-33 63l-19 8zm-19 12l19-12l-33 47l-18 16zm-18-4l18 4l-32 51l-19 0z"/>
<path class=ad d="M1313 3411l19 21l-33 55l-18-20zm-19 6l19-6l-32 56l-19-16zm-18-10l18 10l-32 34l-19 5zm-19 4l19-4l-33 49l-18 38z"/>
<path class=ae d="M1239 3410l18 1l-32 83l-19-8z"/>
<path class=ad d="M1220 3417l19-7l-33 76l-19-9z"/>
<path class=af d="M1201 3367l19 50l-33 60l-18-33z"/>
<path class=ad d="M1183 3434l18-67l-32 77l-19 16z"/>
<path class=ab d="M1164 3458l19-24l-33 26l-19-32z"/>
<path class=z d="M1145 3501l19-43l-33-30l-18 19z"/>
<path class=w d="M1127 3555l18-54l-32-54l-19 30z"/>
<path class=u d="M1108 3592l19-37l-33-78l-19 73z"/>
<path class=s d="M1089 3614l19-22l-33-42l-18 16z"/>
<path class=r d="M1071 3632l18-18l-32-48l-19 39z"/>
<path class=v d="M1961 3433l19 2l-33-70l-19 0z"/>
<path class=w d="M1942 3416l19 17l-33-68l-18-25zm-18 9l18-9l-32-76l-19 13zm-19-1l19 1l-33-72l-19-9zm-19-2l19 2l-33-80l-18-11zm-18 9l18-9l-32-89l-19 12zm-19 9l19-9l-33-86l-19-6z"/>
<path class=v d="M1830 3448l19-8l-33-101l-18 2zm-18 12l18-12l-32-107l-19 20zm-19-7l19 7l-33-99l-18-4zm-19 11l19-11l-32-96l-19 13z"/>
<path class=u d="M1756 3487l18-23l-32-94l-19 16zm-19 2l19-2l-33-101l-18-43zm-18-4l18 4l-32-146l-19-3z"/>
<path class=t d="M1700 3505l19-20l-33-145l-19 15z"/>
<path class=s d="M1681 3526l19-21l-33-150l-18-16zm-18 5l18-5l-32-187l-19 34z"/>
<path class=t d="M1644 3512l19 19l-33-158l-19-21zm-19 4l19-4l-33-160l-18 21z"/>
<path class=u d="M1607 3505l18 11l-32-143l-19 9zm-19 4l19-4l-33-123l-19-12zm-19 11l19-11l-33-139l-18 37z"/>
<path class=w d="M1551 3486l18 34l-32-113l-19-50z"/>
<path class=v d="M1532 3516l19-30l-33-129l-18 49zm-18 3l18-3l-32-110l-19-13z"/>
<path class=s d="M1495 3562l19-43l-33-126l-19 34zm-19-1l19 1l-33-135l-18-18z"/>
<path class=t d="M1458 3556l18 5l-32-152l-19 21z"/>
<path class=u d="M1439 3545l19 11l-33-126l-19-48zm-19-1l19 1l-33-163l-18 18z"/>
<path class=v d="M1402 3534l18 10l-32-144l-19 24z"/>
<path class=u d="M1383 3547l19-13l-33-110l-19 12zm-19 2l19-2l-33-111l-18-4z"/>
<path class=x d="M1346 3519l18 30l-32-117l-19-21z"/>
<path class=w d="M1327 3523l19-4l-33-108l-19 6zm-19 6l19-6l-33-106l-18-10z"/>
<path class=v d="M1290 3547l18-18l-32-122l-19 4z"/>
<path class=w d="M1271 3534l19 13l-33-136l-18-1zm-18 13l18-13l-32-124l-19 7z"/>
<path class=x d="M1234 3537l19 10l-33-130l-19-50z"/>
<path class=v d="M1215 3560l19-23l-33-170l-18 67z"/>
<path class=u d="M1197 3588l18-28l-32-126l-19 24zm-19 9l19-9l-33-130l-19 43z"/>
<path class=s d="M1159 3624l19-27l-33-96l-18 54z"/>
<path class=r d="M1141 3643l18-19l-32-69l-19 37zm-19 7l19-7l-33-51l-19 22z"/>
<path class=q d="M1103 3659l19-9l-33-36l-18 18z"/>
<path class=s d="M1994 3488l18 3l-32-56l-19-2z"/>
<path class=t d="M1975 3478l19 10l-33-55l-19-17zm-19 5l19-5l-33-62l-18 9zm-18 5l18-5l-32-58l-19-1z"/>
<path class=s d="M1919 3494l19-6l-33-64l-19-2zm-19 6l19-6l-33-72l-18 9z"/>
<path class=r d="M1882 3520l18-20l-32-69l-19 9zm-19 13l19-13l-33-80l-19 8z"/>
<path class=q d="M1844 3539l19-6l-33-85l-18 12z"/>
<path class=r d="M1826 3530l18 9l-32-79l-19-7zm-19 9l19-9l-33-77l-19 11z"/>
<path class=p d="M1788 3567l19-28l-33-75l-18 23z"/>
<path class=n d="M1770 3605l18-38l-32-80l-19 2z"/>
<path class=o d="M1751 3599l19 6l-33-116l-18-4z"/>
<path class=m d="M1733 3622l18-23l-32-114l-19 20z"/>
<path class=j d="M1714 3673l19-51l-33-117l-19 21z"/>
<path class=l d="M1695 3656l19 17l-33-147l-18 5z"/>
<path class=m d="M1677 3638l18 18l-32-125l-19-19z"/>
<path class=n d="M1658 3629l19 9l-33-126l-19 4z"/>
<path class=p d="M1639 3602l19 27l-33-113l-18-11z"/>
<path class=o d="M1621 3619l18-17l-32-97l-19 4z"/>
<path class=p d="M1602 3609l19 10l-33-110l-19 11z"/>
<path class=q d="M1583 3588l19 21l-33-89l-18-34zm-18 15l18-15l-32-102l-19 30z"/>
<path class=p d="M1546 3618l19-15l-33-87l-18 3z"/>
<path class=m d="M1527 3668l19-50l-32-99l-19 43z"/>
<path class=l d="M1509 3681l18-13l-32-106l-19-1z"/>
<path class=n d="M1490 3656l19 25l-33-120l-18-5z"/>
<path class=m d="M1472 3673l18-17l-32-100l-19-11z"/>
<path class=n d="M1453 3657l19 16l-33-128l-19-1z"/>
<path class=q d="M1434 3621l19 36l-33-113l-18-10z"/>
<path class=p d="M1416 3635l18-14l-32-87l-19 13zm-19 6l19-6l-33-88l-19 2z"/>
<path class=s d="M1378 3605l19 36l-33-92l-18-30zm-18 2l18-2l-32-86l-19 4z"/>
<path class=r d="M1341 3625l19-18l-33-84l-19 6z"/>
<path class=p d="M1322 3654l19-29l-33-96l-18 18z"/>
<path class=r d="M1304 3632l18 22l-32-107l-19-13z"/>
<path class=q d="M1285 3650l19-18l-33-98l-18 13z"/>
<path class=p d="M1266 3670l19-20l-32-103l-19-10z"/>
<path class=q d="M1248 3659l18 11l-32-133l-19 23z"/>
<path class=o d="M1229 3692l19-33l-33-99l-18 28z"/>
<path class=p d="M1211 3673l18 19l-32-104l-19 9zm-19 7l19-7l-33-76l-19 27zm-19 6l19-6l-33-56l-18 19z"/>
<path class=q d="M1155 3680l18 6l-32-43l-19 7zm-19 2l19-2l-33-30l-19 9z"/>
</g>
<text class="tt" text-anchor="middle" x="146.4" y="399.7" textLength="17.8" lengthAdjust="spacingAndGlyphs">2010</text>
<text class="tt" text-anchor="middle" x="166.6" y="396.0" textLength="17.8" lengthAdjust="spacingAndGlyphs">2013</text>
<text class="tt" text-anchor="middle" x="186.7" y="392.3" textLength="17.8" lengthAdjust="spacingAndGlyphs">2016</text>
<text class="tt" text-anchor="middle" x="206.8" y="388.6" textLength="17.8" lengthAdjust="spacingAndGlyphs">2019</text>
<text class="tt" text-anchor="middle" x="107.0" y="402.8" textLength="4.6" lengthAdjust="spacingAndGlyphs">0</text>
<text class="tt" text-anchor="middle" x="74.4" y="392.3" textLength="9.2" lengthAdjust="spacingAndGlyphs">10</text>
<text class="tt" text-anchor="middle" x="41.8" y="381.8" textLength="9.2" lengthAdjust="spacingAndGlyphs">20</text>
<text class="tt" text-anchor="end" x="33.6" y="356.3" textLength="4.6" lengthAdjust="spacingAndGlyphs">0</text>
<text class="tt" text-anchor="end" x="33.6" y="336.4" textLength="4.6" lengthAdjust="spacingAndGlyphs">1</text>
<text class="tt" text-anchor="end" x="33.6" y="316.4" textLength="4.6" lengthAdjust="spacingAndGlyphs">2</text>
<text class="hh" x="26.8" y="291.3" textLength="197.1" lengthAdjust="spacingAndGlyphs">NFC Loan Growth response to Investment Shock</text>
</g>
<g id="p3R">
<path class="gg" d="M362.94 387.32L287.94 363.12M287.94 363.12L287.94 309.72M383.05 383.60L308.05 359.40M308.05 359.40L308.05 306.00M403.16 379.89L328.16 355.69M328.16 355.69L328.16 302.29M423.27 376.17L348.27 351.97M348.27 351.97L348.27 298.57M342.50 391.10L441.50 372.80M441.50 372.80L441.50 319.40M309.89 380.58L408.89 362.28M408.89 362.28L408.89 308.88M277.28 370.06L376.28 351.76M376.28 351.76L376.28 298.36M267.50 364.74L366.50 346.44M366.50 346.44L441.50 370.64M267.50 340.68L366.50 322.38M366.50 322.38L441.50 346.58M267.50 316.63L366.50 298.33M366.50 298.33L441.50 322.53"/>
<path class="bb" d="M342.50 391.10L441.50 372.80M441.50 372.80L366.50 348.60M366.50 348.60L267.50 366.90M267.50 366.90L342.50 391.10M267.50 366.90L267.50 313.50M267.50 313.50L366.50 295.20M366.50 295.20L366.50 348.60M366.50 295.20L441.50 319.40M441.50 319.40L441.50 372.80M362.94 387.32L361.23 386.77M383.05 383.60L381.34 383.05M403.16 379.89L401.45 379.33M423.27 376.17L421.56 375.62M342.50 391.10L344.27 390.77M309.89 380.58L311.66 380.25M277.28 370.06L279.05 369.73M267.50 364.74L265.30 365.04M267.50 340.68L265.30 340.98M267.50 316.63L265.30 316.93"/>
<g class=sf transform="scale(.1)">
<path class=c d="M3539 3484l18-11l-33-23l-18 13z"/>
<path class=b d="M3521 3498l18-14l-33-21l-18 16zm-18 8l18-8l-33-19l-18 11zm-18 4l18-4l-33-16l-18 11zm-18 5l18-5l-33-9l-18 8z"/>
<path class=a d="M3449 3525l18-10l-33-6l-18 7zm-18 9l18-9l-33-9l-18 5zm-19-3l19 3l-33-13l-18-3z"/>
<path class=b d="M3394 3525l18 6l-32-13l-18-7zm-18 1l18-1l-32-14l-18 0zm-18 7l18-7l-32-15l-18 8zm-18 4l18-4l-32-14l-18 6zm-18-5l18 5l-32-12l-19-4z"/>
<path class=c d="M3304 3529l18 3l-33-11l-18-2z"/>
<path class=b d="M3286 3538l18-9l-33-10l-18 7zm-18 6l18-6l-33-12l-18 3z"/>
<path class=c d="M3250 3540l18 4l-33-15l-18-1zm-18-2l18 2l-33-12l-18 3zm-18-1l18 1l-33-7l-18-2zm-18 3l18-3l-33-8l-18 3zm-18 12l18-12l-33-8l-18 13zm-19 5l19-5l-33-7l-18 5z"/>
<path class=b d="M3141 3561l18-4l-32-7l-18 1zm-18 10l18-10l-32-10l-18 3zm-18 6l18-6l-32-17l-18 4zm-18-1l18 1l-32-19l-18 3zm-18-1l18 1l-32-15l-19 2zm-18 4l18-4l-33-12l-18 4zm-18 5l18-5l-33-12l-18 5z"/>
<path class=c d="M3015 3584l18 0l-33-12l-18 3zm-18-2l18 2l-33-9l-18-3zm-18 6l18-6l-33-10l-18-2z"/>
<path class=b d="M2961 3598l18-10l-33-18l-18 7zm-18 5l18-5l-33-21l-18 9zm-19-1l19 1l-33-17l-18 7z"/>
<path class=c d="M2906 3603l18-1l-32-9l-18 7zm-18 5l18-5l-32-3l-18 3z"/>
<path class=b d="M2870 3614l18-6l-32-5l-18 4zm-18 6l18-6l-32-7l-18 4zm-18 8l18-8l-32-9l-18 6zm-18 4l18-4l-32-11l-19 0zm-18-2l18 2l-33-15l-18-3zm-18 2l18-2l-33-16l-18 2zm-18 8l18-8l-33-16l-18 9zm-18 1l18-1l-33-15l-18 3z"/>
<path class=c d="M2726 3638l18 3l-33-13l-18-4zm-18 0l18 0l-33-14l-18 0z"/>
<path class=b d="M3572 3504l18-7l-33-24l-18 11zm-19 13l19-13l-33-20l-18 14zm-18 6l18-6l-32-19l-18 8zm-18-5l18 5l-32-17l-18 4zm-18-3l18 3l-32-8l-18 5zm-18 10l18-10l-32 0l-18 10z"/>
<path class=a d="M3463 3538l18-13l-32 0l-18 9z"/>
<path class=b d="M3445 3541l18-3l-32-4l-19-3zm-18-3l18 3l-33-10l-18-6zm-18-3l18 3l-33-13l-18 1zm-18 1l18-1l-33-9l-18 7zm-18 5l18-5l-33-3l-18 4zm-18 1l18-1l-33-4l-18-5z"/>
<path class=c d="M3337 3541l18 1l-33-10l-18-3z"/>
<path class=b d="M3319 3546l18-5l-33-12l-18 9zm-19 8l19-8l-33-8l-18 6zm-18 1l18-1l-32-10l-18-4z"/>
<path class=c d="M3264 3555l18 0l-32-15l-18-2zm-18-4l18 4l-32-17l-18-1zm-18-2l18 2l-32-14l-18 3zm-18 7l18-7l-32-9l-18 12zm-18 7l18-7l-32-4l-19 5z"/>
<path class=b d="M3174 3572l18-9l-33-6l-18 4zm-18 14l18-14l-33-11l-18 10zm-18 9l18-9l-33-15l-18 6zm-18-4l18 4l-33-18l-18-1zm-18-3l18 3l-33-15l-18-1zm-18 5l18-5l-33-13l-18 4zm-18 7l18-7l-33-14l-18 5zm-19-2l19 2l-33-16l-18 0z"/>
<path class=c d="M3029 3597l18 1l-32-14l-18-2z"/>
<path class=b d="M3011 3608l18-11l-32-15l-18 6zm-18 8l18-8l-32-20l-18 10zm-18-4l18 4l-32-18l-18 5z"/>
<path class=c d="M2957 3605l18 7l-32-9l-19-1zm-18 0l18 0l-33-3l-18 1zm-18 5l18-5l-33-2l-18 5zm-18 4l18-4l-33-2l-18 6zm-18 0l18 0l-33 0l-18 6zm-18 5l18-5l-33 6l-18 8zm-18 11l18-11l-33 9l-18 4z"/>
<path class=b d="M2831 3636l18-6l-33 2l-18-2zm-18 6l18-6l-33-6l-18 2zm-19 8l19-8l-33-10l-18 8zm-18 1l18-1l-32-10l-18 1zm-18 1l18-1l-32-10l-18-3zm-18 1l18-1l-32-14l-18 0z"/>
<path class=b d="M3604 3517l18 1l-32-21l-18 7zm-18 10l18-10l-32-13l-19 13zm-18 6l18-6l-33-10l-18 6zm-18-7l18 7l-33-10l-18-5z"/>
<path class=c d="M3532 3517l18 9l-33-8l-18-3zm-18 5l18-5l-33-2l-18 10z"/>
<path class=b d="M3496 3536l18-14l-33 3l-18 13zm-18 9l18-9l-33 2l-18 3zm-18 0l18 0l-33-4l-18-3z"/>
<path class=c d="M3442 3538l18 7l-33-7l-18-3zm-19-2l19 2l-33-3l-18 1z"/>
<path class=b d="M3405 3546l18-10l-32 0l-18 5zm-18 10l18-10l-32-5l-18 1zm-18 3l18-3l-32-14l-18-1zm-18 0l18 0l-32-18l-18 5zm-18 3l18-3l-32-13l-19 8zm-18 4l18-4l-33-8l-18 1zm-18 4l18-4l-33-11l-18 0z"/>
<path class=c d="M3279 3567l18 3l-33-15l-18-4zm-18-9l18 9l-33-16l-18-2zm-18 1l18-1l-33-9l-18 7zm-18 9l18-9l-33-3l-18 7zm-18 13l18-13l-33-5l-18 9z"/>
<path class=b d="M3188 3601l19-20l-33-9l-18 14z"/>
<path class=a d="M3170 3611l18-10l-32-15l-18 9z"/>
<path class=b d="M3152 3602l18 9l-32-16l-18-4zm-18-4l18 4l-32-11l-18-3zm-18 7l18-7l-32-10l-18 5zm-18 7l18-7l-32-12l-18 7zm-18-1l18 1l-32-12l-19-2zm-18-1l18 1l-33-13l-18-1zm-18 7l18-7l-33-13l-18 11zm-18 7l18-7l-33-9l-18 8z"/>
<path class=c d="M3008 3618l18 6l-33-8l-18-4zm-18-7l18 7l-33-6l-18-7zm-18 1l18-1l-33-6l-18 0zm-18 8l18-8l-33-7l-18 5zm-19 5l19-5l-33-10l-18 4zm-18-6l18 6l-32-11l-18 0z"/>
<path class=d d="M2899 3619l18 0l-32-5l-18 5z"/>
<path class=c d="M2881 3630l18-11l-32 0l-18 11zm-18 10l18-10l-32 0l-18 6zm-18 8l18-8l-32-4l-18 6zm-18 4l18-4l-32-6l-19 8zm-18 2l18-2l-33-2l-18 1z"/>
<path class=b d="M2791 3660l18-6l-33-3l-18 1zm-18 4l18-4l-33-8l-18 1z"/>
<path class=b d="M3637 3526l18 5l-33-13l-18-1zm-18 4l18-4l-33-9l-18 10zm-18 5l18-5l-33-3l-18 6zm-18-3l18 3l-33-2l-18-7z"/>
<path class=c d="M3564 3525l19 7l-33-6l-18-9zm-18 4l18-4l-32-8l-18 5z"/>
<path class=b d="M3528 3543l18-14l-32-7l-18 14zm-18 7l18-7l-32-7l-18 9zm-18 0l18 0l-32-5l-18 0z"/>
<path class=c d="M3474 3543l18 7l-32-5l-18-7zm-18-3l18 3l-32-5l-19-2zm-18 9l18-9l-33-4l-18 10z"/>
<path class=b d="M3420 3564l18-15l-33-3l-18 10zm-18 9l18-9l-33-8l-18 3zm-18-1l18 1l-33-14l-18 0z"/>
<path class=c d="M3366 3566l18 6l-33-13l-18 3zm-18 3l18-3l-33-4l-18 4z"/>
<path class=b d="M3330 3577l18-8l-33-3l-18 4z"/>
<path class=c d="M3311 3578l19-1l-33-7l-18-3zm-18-6l18 6l-32-11l-18-9zm-18-1l18 1l-32-14l-18 1zm-18 5l18-5l-32-12l-18 9zm-18 10l18-10l-32-8l-18 13z"/>
<path class=b d="M3221 3607l18-21l-32-5l-19 20z"/>
<path class=a d="M3203 3620l18-13l-33-6l-18 10z"/>
<path class=b d="M3185 3609l18 11l-33-9l-18-9z"/>
<path class=c d="M3167 3601l18 8l-33-7l-18-4z"/>
<path class=b d="M3149 3610l18-9l-33-3l-18 7zm-18 12l18-12l-33-5l-18 7zm-18 5l18-5l-33-10l-18-1zm-18-3l18 3l-33-16l-18-1zm-18-1l18 1l-33-14l-18 7zm-19 4l19-4l-33-6l-18 7z"/>
<path class=c d="M3040 3627l18 0l-32-3l-18-6zm-18-4l18 4l-32-9l-18-7zm-18 3l18-3l-32-12l-18 1zm-18 11l18-11l-32-14l-18 8z"/>
<path class=b d="M2968 3644l18-7l-32-17l-19 5z"/>
<path class=c d="M2950 3640l18 4l-33-19l-18-6zm-18-2l18 2l-33-21l-18 0zm-18 9l18-9l-33-19l-18 11zm-18 7l18-7l-33-17l-18 10zm-18 3l18-3l-33-14l-18 8zm-18-1l18 1l-33-9l-18 4zm-18 1l18-1l-33-4l-18 2zm-18 7l18-7l-33-3l-18 6zm-19 6l19-6l-33-4l-18 4z"/>
<path class=b d="M3669 3534l18 1l-32-4l-18-5zm-18 1l18-1l-32-8l-18 4zm-18 3l18-3l-32-5l-18 5z"/>
<path class=c d="M3615 3536l18 2l-32-3l-18-3zm-18-5l18 5l-32-4l-19-7zm-18 5l18-5l-33-6l-18 4zm-18 11l18-11l-33-7l-18 14z"/>
<path class=b d="M3543 3554l18-7l-33-4l-18 7zm-18 5l18-5l-33-4l-18 0z"/>
<path class=c d="M3507 3557l18 2l-33-9l-18-7zm-18-5l18 5l-33-14l-18-3zm-18 3l18-3l-33-12l-18 9zm-18 13l18-13l-33-6l-18 15z"/>
<path class=b d="M3434 3581l19-13l-33-4l-18 9zm-18 1l18-1l-32-8l-18-1z"/>
<path class=c d="M3398 3575l18 7l-32-10l-18-6zm-18 3l18-3l-32-9l-18 3z"/>
<path class=b d="M3362 3588l18-10l-32-9l-18 8zm-18 5l18-5l-32-11l-19 1zm-18 2l18-2l-33-15l-18-6z"/>
<path class=c d="M3308 3594l18 1l-33-23l-18-1zm-18-1l18 1l-33-23l-18 5zm-18 1l18-1l-33-17l-18 10z"/>
<path class=b d="M3254 3607l18-13l-33-8l-18 21zm-18 12l18-12l-33 0l-18 13zm-18-5l18 5l-33 1l-18-11z"/>
<path class=c d="M3199 3609l19 5l-33-5l-18-8zm-18 10l18-10l-32-8l-18 9z"/>
<path class=b d="M3163 3634l18-15l-32-9l-18 12zm-18 9l18-9l-32-12l-18 5zm-18-5l18 5l-32-16l-18-3z"/>
<path class=c d="M3109 3629l18 9l-32-14l-18-1zm-18 3l18-3l-32-6l-19 4z"/>
<path class=b d="M3073 3640l18-8l-33-5l-18 0z"/>
<path class=c d="M3055 3641l18-1l-33-13l-18-4zm-18 1l18-1l-33-18l-18 3z"/>
<path class=b d="M3019 3652l18-10l-33-16l-18 11zm-18 5l18-5l-33-15l-18 7z"/>
<path class=c d="M2983 3656l18 1l-33-13l-18-4zm-18 3l18-3l-33-16l-18-2z"/>
<path class=b d="M2946 3665l19-6l-33-21l-18 9zm-18 2l18-2l-32-18l-18 7z"/>
<path class=c d="M2910 3667l18 0l-32-13l-18 3zm-18-4l18 4l-32-10l-18-1zm-18 0l18 0l-32-7l-18 1zm-18 5l18-5l-32-6l-18 7zm-18 2l18-2l-32-4l-19 6z"/>
<path class=b d="M3702 3544l18-5l-33-4l-18-1zm-18 2l18-2l-33-10l-18 1zm-18 3l18-3l-33-11l-18 3z"/>
<path class=c d="M3648 3547l18 2l-33-11l-18-2zm-18-7l18 7l-33-11l-18-5zm-18 2l18-2l-33-9l-18 5zm-18 8l18-8l-33-6l-18 11zm-19 9l19-9l-33-3l-18 7z"/>
<path class=b d="M3557 3569l18-10l-32-5l-18 5zm-18 5l18-5l-32-10l-18-2z"/>
<path class=c d="M3521 3568l18 6l-32-17l-18-5zm-18-1l18 1l-32-16l-18 3zm-18 7l18-7l-32-12l-18 13z"/>
<path class=b d="M3467 3587l18-13l-32-6l-19 13zm-18 8l18-8l-33-6l-18 1zm-18 2l18-2l-33-13l-18-7zm-18 6l18-6l-33-22l-18 3zm-18 6l18-6l-33-25l-18 10zm-18 1l18-1l-33-21l-18 5zm-18-1l18 1l-33-17l-18 2zm-18 1l18-1l-33-14l-18-1zm-19 2l19-2l-33-16l-18-1z"/>
<path class=c d="M3304 3611l18 1l-32-19l-18 1zm-18 3l18-3l-32-17l-18 13z"/>
<path class=b d="M3268 3622l18-8l-32-7l-18 12zm-18 5l18-5l-32-3l-18-5zm-18 3l18-3l-32-13l-19-5zm-18 8l18-8l-33-21l-18 10zm-18 9l18-9l-33-19l-18 15zm-18 7l18-7l-33-13l-18 9zm-18-6l18 6l-33-11l-18-5z"/>
<path class=c d="M3142 3638l18 10l-33-10l-18-9zm-18 2l18-2l-33-9l-18 3z"/>
<path class=b d="M3106 3652l18-12l-33-8l-18 8zm-18 8l18-8l-33-12l-18 1zm-19 5l19-5l-33-19l-18 1zm-18 4l18-4l-32-23l-18 10zm-18-3l18 3l-32-17l-18 5z"/>
<path class=c d="M3015 3664l18 2l-32-9l-18-1zm-18 6l18-6l-32-8l-18 3z"/>
<path class=b d="M2979 3676l18-6l-32-11l-19 6zm-18 4l18-4l-33-11l-18 2zm-18 1l18-1l-33-13l-18 0z"/>
<path class=c d="M2925 3678l18 3l-33-14l-18-4zm-18 1l18-1l-33-15l-18 0zm-18 5l18-5l-33-16l-18 5zm-18-3l18 3l-33-16l-18 2z"/>
<path class=b d="M3735 3552l18-9l-33-4l-18 5zm-18 5l18-5l-33-8l-18 2zm-19 4l19-4l-33-11l-18 3zm-18 1l18-1l-32-12l-18-2z"/>
<path class=c d="M3662 3558l18 4l-32-15l-18-7zm-18-3l18 3l-32-18l-18 2zm-18 3l18-3l-32-13l-18 8zm-18 6l18-6l-32-8l-19 9zm-18 9l18-9l-33-5l-18 10z"/>
<path class=b d="M3572 3581l18-8l-33-4l-18 5z"/>
<path class=c d="M3554 3581l18 0l-33-7l-18-6zm-18-1l18 1l-33-13l-18-1zm-18 4l18-4l-33-13l-18 7z"/>
<path class=b d="M3500 3596l18-12l-33-10l-18 13zm-18 14l18-14l-33-9l-18 8zm-18 8l18-8l-33-15l-18 2zm-19 4l19-4l-33-21l-18 6zm-18-2l18 2l-32-19l-18 6zm-18-6l18 6l-32-11l-18 1z"/>
<path class=c d="M3391 3609l18 5l-32-4l-18-1zm-18 2l18-2l-32 0l-18 1zm-18 9l18-9l-32-1l-19 2z"/>
<path class=b d="M3337 3626l18-6l-33-8l-18-1zm-18 3l18-3l-33-15l-18 3zm-18 6l18-6l-33-15l-18 8zm-18 6l18-6l-33-13l-18 5zm-18 5l18-5l-33-14l-18 3zm-18 6l18-6l-33-16l-18 8zm-18 7l18-7l-33-14l-18 9zm-19 4l19-4l-33-12l-18 7zm-18-2l18 2l-32-9l-18-6zm-18-5l18 5l-32-13l-18-10z"/>
<path class=c d="M3156 3658l18-2l-32-18l-18 2z"/>
<path class=b d="M3138 3665l18-7l-32-18l-18 12zm-18 10l18-10l-32-13l-18 8zm-18 6l18-6l-32-15l-19 5zm-18-2l18 2l-33-16l-18 4z"/>
<path class=c d="M3066 3670l18 9l-33-10l-18-3zm-18-2l18 2l-33-4l-18-2zm-18 7l18-7l-33-4l-18 6zm-18 9l18-9l-33-5l-18 6z"/>
<path class=b d="M2994 3694l18-10l-33-8l-18 4zm-18 4l18-4l-33-14l-18 1z"/>
<path class=c d="M2957 3694l19 4l-33-17l-18-3z"/>
<path class=b d="M2939 3699l18-5l-32-16l-18 1zm-18 11l18-11l-32-20l-18 5zm-18-2l18 2l-32-26l-18-3z"/>
<path class=c d="M3767 3560l18-11l-32-6l-18 9z"/>
<path class=b d="M3749 3569l18-9l-32-8l-18 5zm-18 8l18-8l-32-12l-19 4zm-18 4l18-4l-33-16l-18 1zm-18-5l18 5l-33-19l-18-4z"/>
<path class=c d="M3677 3565l18 11l-33-18l-18-3z"/>
<path class=d d="M3659 3561l18 4l-33-10l-18 3zm-18 4l18-4l-33-3l-18 6z"/>
<path class=c d="M3623 3574l18-9l-33-1l-18 9zm-18 8l18-8l-33-1l-18 8zm-19 5l19-5l-33-1l-18 0zm-18 2l18-2l-32-6l-18-1zm-18 4l18-4l-32-9l-18 4zm-18 11l18-11l-32-9l-18 12z"/>
<path class=b d="M3514 3618l18-14l-32-8l-18 14zm-18 5l18-5l-32-8l-18 8zm-18-3l18 3l-32-5l-19 4z"/>
<path class=c d="M3460 3613l18 7l-33 2l-18-2zm-18-6l18 6l-33 7l-18-6z"/>
<path class=d d="M3424 3604l18 3l-33 7l-18-5zm-18 4l18-4l-33 5l-18 2z"/>
<path class=c d="M3388 3619l18-11l-33 3l-18 9zm-18 14l18-14l-33 1l-18 6z"/>
<path class=b d="M3352 3642l18-9l-33-7l-18 3zm-19 5l19-5l-33-13l-18 6zm-18 4l18-4l-32-12l-18 6zm-18 1l18-1l-32-10l-18 5zm-18 2l18-2l-32-6l-18 6zm-18 7l18-7l-32-2l-18 7zm-18 7l18-7l-32-2l-19 4zm-18 7l18-7l-33-5l-18-2zm-18 3l18-3l-33-14l-18-5zm-18 1l18-1l-33-22l-18 2zm-18 5l18-5l-33-21l-18 7zm-18 5l18-5l-33-19l-18 10zm-18 2l18-2l-33-14l-18 6zm-18-5l18 5l-33-10l-18-2z"/>
<path class=c d="M3099 3677l18 9l-33-7l-18-9zm-19-2l19 2l-33-7l-18-2zm-18 4l18-4l-32-7l-18 7zm-18 11l18-11l-32-4l-18 9z"/>
<path class=b d="M3026 3704l18-14l-32-6l-18 10zm-18 5l18-5l-32-10l-18 4zm-18-3l18 3l-32-11l-19-4zm-18 7l18-7l-33-12l-18 5zm-18 12l18-12l-33-14l-18 11zm-18 3l18-3l-33-15l-18-2z"/>
<path class=b d="M3800 3575l18-13l-33-13l-18 11zm-18 12l18-12l-33-15l-18 9zm-18 9l18-9l-33-18l-18 8zm-18 3l18-3l-33-19l-18 4zm-18-8l18 8l-33-18l-18-5z"/>
<path class=c d="M3709 3577l19 14l-33-15l-18-11z"/>
<path class=d d="M3691 3569l18 8l-32-12l-18-4zm-18 4l18-4l-32-8l-18 4z"/>
<path class=c d="M3655 3584l18-11l-32-8l-18 9zm-18 6l18-6l-32-10l-18 8zm-18 4l18-4l-32-8l-19 5zm-18 5l18-5l-33-7l-18 2zm-18 3l18-3l-33-10l-18 4zm-18 8l18-8l-33-9l-18 11z"/>
<path class=b d="M3547 3620l18-10l-33-6l-18 14z"/>
<path class=c d="M3529 3617l18 3l-33-2l-18 5zm-18-7l18 7l-33 6l-18-3z"/>
<path class=d d="M3493 3607l18 3l-33 10l-18-7zm-18 0l18 0l-33 6l-18-6zm-19 2l19-2l-33 0l-18-3zm-18 6l18-6l-32-5l-18 4z"/>
<path class=c d="M3420 3625l18-10l-32-7l-18 11zm-18 15l18-15l-32-6l-18 14z"/>
<path class=b d="M3384 3650l18-10l-32-7l-18 9zm-18 5l18-5l-32-8l-19 5zm-18 2l18-2l-33-8l-18 4z"/>
<path class=c d="M3330 3655l18 2l-33-6l-18 1zm-18 2l18-2l-33-3l-18 2zm-18 6l18-6l-33-3l-18 7z"/>
<path class=b d="M3276 3671l18-8l-33-2l-18 7zm-18 11l18-11l-33-3l-18 7zm-18 9l18-9l-33-7l-18 3zm-19 5l19-5l-33-13l-18 1z"/>
<path class=a d="M3203 3702l18-6l-32-17l-18 5zm-18 5l18-5l-32-18l-18 5z"/>
<path class=b d="M3167 3707l18 0l-32-18l-18 2zm-18-6l18 6l-32-16l-18-5z"/>
<path class=c d="M3131 3690l18 11l-32-15l-18-9zm-18-7l18 7l-32-13l-19-2zm-18 1l18-1l-33-8l-18 4zm-18 11l18-11l-33-5l-18 11z"/>
<path class=b d="M3059 3710l18-15l-33-5l-18 14zm-18 4l18-4l-33-6l-18 5zm-18 2l18-2l-33-5l-18-3zm-18 6l18-6l-33-10l-18 7zm-18 9l18-9l-33-9l-18 12zm-19 5l19-5l-33-6l-18 3z"/>
<path class=b d="M3832 3588l19-10l-33-16l-18 13zm-18 10l18-10l-32-13l-18 12zm-18 7l18-7l-32-11l-18 9zm-18 1l18-1l-32-9l-18 3zm-18-3l18 3l-32-7l-18-8z"/>
<path class=c d="M3742 3598l18 5l-32-12l-19-14zm-18-9l18 9l-33-21l-18-8zm-18 1l18-1l-33-20l-18 4zm-18 11l18-11l-33-17l-18 11zm-18 4l18-4l-33-17l-18 6zm-18 5l18-5l-33-15l-18 4zm-18 8l18-8l-33-16l-18 5zm-18 3l18-3l-33-19l-18 3zm-19 3l19-3l-33-19l-18 8zm-18 2l18-2l-32-14l-18 10zm-18-6l18 6l-32-6l-18-3z"/>
<path class=d d="M3543 3615l18 5l-32-3l-18-7zm-18 4l18-4l-32-5l-18-3zm-18 3l18-3l-32-12l-18 0zm-18 2l18-2l-32-15l-19 2z"/>
<path class=c d="M3471 3630l18-6l-33-15l-18 6zm-18 9l18-9l-33-15l-18 10zm-18 10l18-10l-33-14l-18 15zm-18 7l18-7l-33-9l-18 10zm-18 4l18-4l-33-6l-18 5zm-18 4l18-4l-33-5l-18 2zm-18-1l18 1l-33-7l-18-2zm-19 3l19-3l-33-8l-18 2zm-18 5l18-5l-32-9l-18 6zm-18 7l18-7l-32-8l-18 8z"/>
<path class=b d="M3290 3687l18-9l-32-7l-18 11zm-18 11l18-11l-32-5l-18 9zm-18 8l18-8l-32-7l-19 5z"/>
<path class=a d="M3236 3712l18-6l-33-10l-18 6zm-18 5l18-5l-33-10l-18 5zm-18 3l18-3l-33-10l-18 0z"/>
<path class=b d="M3182 3715l18 5l-33-13l-18-6z"/>
<path class=c d="M3164 3704l18 11l-33-14l-18-11zm-18-6l18 6l-33-14l-18-7zm-18 2l18-2l-33-15l-18 1zm-18 7l18-7l-33-16l-18 11zm-19 9l19-9l-33-12l-18 15zm-18 4l18-4l-32-6l-18 4zm-18 1l18-1l-32-6l-18 2zm-18 7l18-7l-32-5l-18 6z"/>
<path class=b d="M3019 3736l18-8l-32-6l-18 9zm-18 5l18-5l-32-5l-19 5z"/>
<path class=c d="M3865 3589l18-5l-32-6l-19 10zm-18 6l18-6l-33-1l-18 10zm-18 4l18-4l-33 3l-18 7zm-18 0l18 0l-33 6l-18 1zm-18 2l18-2l-33 7l-18-3zm-18 3l18-3l-33 2l-18-5zm-18-4l18 4l-33-6l-18-9zm-18-1l18 1l-33-11l-18 1zm-19 8l19-8l-33-9l-18 11zm-18 7l18-7l-32-6l-18 4zm-18 10l18-10l-32-9l-18 5z"/>
<path class=b d="M3666 3635l18-11l-32-14l-18 8zm-18 5l18-5l-32-17l-18 3zm-18-2l18 2l-32-19l-19 3z"/>
<path class=c d="M3612 3634l18 4l-33-14l-18 2zm-18-3l18 3l-33-8l-18-6zm-18 1l18-1l-33-11l-18-5zm-18 6l18-6l-33-17l-18 4zm-18 1l18-1l-33-19l-18 3zm-18-1l18 1l-33-17l-18 2zm-18 3l18-3l-33-14l-18 6zm-18 9l18-9l-33-11l-18 9zm-19 7l19-7l-33-11l-18 10zm-18 2l18-2l-32-8l-18 7zm-18 4l18-4l-32-3l-18 4zm-18 9l18-9l-32-3l-18 4zm-18 1l18-1l-32-8l-18-1zm-18 2l18-2l-32-10l-19 3zm-18 6l18-6l-33-9l-18 5zm-18 6l18-6l-33-10l-18 7zm-18 5l18-5l-33-9l-18 9z"/>
<path class=b d="M3305 3699l18-7l-33-5l-18 11zm-18 8l18-8l-33-1l-18 8zm-18 5l18-5l-33-1l-18 6zm-18 6l18-6l-33 0l-18 5zm-19 4l19-4l-33-1l-18 3zm-18-2l18 2l-32-2l-18-5z"/>
<path class=c d="M3196 3714l18 6l-32-5l-18-11zm-18 3l18-3l-32-10l-18-6z"/>
<path class=b d="M3160 3725l18-8l-32-19l-18 2zm-18 4l18-4l-32-25l-18 7z"/>
<path class=c d="M3124 3726l18 3l-32-22l-19 9zm-18-3l18 3l-33-10l-18 4zm-18 1l18-1l-33-3l-18 1zm-18 9l18-9l-33-3l-18 7z"/>
<path class=b d="M3052 3745l18-12l-33-5l-18 8zm-18 2l18-2l-33-9l-18 5z"/>
<path class=d d="M3898 3573l18-3l-33 14l-18 5zm-18 4l18-4l-33 16l-18 6zm-18 4l18-4l-33 18l-18 4zm-19 1l19-1l-33 18l-18 0zm-18 5l18-5l-32 17l-18 2zm-18 3l18-3l-32 14l-18 3zm-18-2l18 2l-32 14l-18-4zm-18 2l18-2l-32 12l-18-1zm-18 8l18-8l-32 9l-19 8zm-18 13l18-13l-33 9l-18 7z"/>
<path class=c d="M3717 3624l18-13l-33 3l-18 10zm-18 8l18-8l-33 0l-18 11zm-18 5l18-5l-33 3l-18 5zm-18-1l18 1l-33 3l-18-2zm-18-2l18 2l-33 2l-18-4z"/>
<path class=d d="M3627 3633l18 1l-33 0l-18-3zm-19 1l19-1l-33-2l-18 1zm-18 4l18-4l-32-2l-18 6zm-18 0l18 0l-32 0l-18 1zm-18 0l18 0l-32 1l-18-1zm-18 3l18-3l-32 0l-18 3zm-18 12l18-12l-32 0l-18 9z"/>
<path class=c d="M3500 3661l18-8l-32-3l-19 7z"/>
<path class=d d="M3482 3657l18 4l-33-4l-18 2zm-18 1l18-1l-33 2l-18 4z"/>
<path class=c d="M3446 3670l18-12l-33 5l-18 9zm-18 6l18-6l-33 2l-18 1zm-18 3l18-3l-33-3l-18 2zm-18 4l18-4l-33-4l-18 6zm-18 7l18-7l-33-2l-18 6zm-19 6l19-6l-33-3l-18 5zm-18 2l18-2l-32-4l-18 7zm-18 2l18-2l-32 1l-18 8zm-18 7l18-7l-32 7l-18 5zm-18 9l18-9l-32 5l-18 6z"/>
<path class=b d="M3265 3722l18-6l-32 2l-19 4z"/>
<path class=c d="M3247 3720l18 2l-33 0l-18-2zm-18-1l18 1l-33 0l-18-6z"/>
<path class=b d="M3211 3733l18-14l-33-5l-18 3zm-18 18l18-18l-33-16l-18 8zm-18 3l18-3l-33-26l-18 4zm-18-10l18 10l-33-25l-18-3z"/>
<path class=c d="M3139 3735l18 9l-33-18l-18-3zm-18 0l18 0l-33-12l-18 1zm-19 10l19-10l-33-11l-18 9z"/>
<path class=b d="M3084 3757l18-12l-32-12l-18 12z"/>
<path class=c d="M3066 3757l18 0l-32-12l-18 2z"/>
<path class=f d="M3930 3542l18-2l-32 30l-18 3zm-18 7l18-7l-32 31l-18 4zm-18 7l18-7l-32 28l-18 4zm-18-3l18 3l-32 25l-19 1zm-18 12l18-12l-33 29l-18 5zm-18 1l18-1l-33 22l-18 3zm-18-7l18 7l-33 24l-18-2zm-18 12l18-12l-33 29l-18 2zm-18 5l18-5l-33 19l-18 8z"/>
<path class=e d="M3768 3591l18-15l-33 22l-18 13zm-18 7l18-7l-33 20l-18 13zm-19 9l19-9l-33 26l-18 8zm-18 7l18-7l-32 25l-18 5zm-18 1l18-1l-32 23l-18-1zm-18 2l18-2l-32 21l-18-2zm-18 3l18-3l-32 17l-18-1zm-18 1l18-1l-32 13l-19 1zm-18 1l18-1l-33 13l-18 4zm-18 2l18-2l-33 16l-18 0zm-18 3l18-3l-33 14l-18 0zm-18 3l18-3l-33 11l-18 3zm-18 11l18-11l-33 11l-18 12zm-18 6l18-6l-33 12l-18 8zm-18-5l18 5l-33 14l-18-4zm-18-2l18 2l-33 15l-18 1zm-19 16l19-16l-33 18l-18 12z"/>
<path class=d d="M3460 3667l18-11l-32 14l-18 6zm-18 9l18-9l-32 9l-18 3zm-18 4l18-4l-32 3l-18 4zm-18 7l18-7l-32 3l-18 7zm-18 4l18-4l-32 3l-19 6zm-18-1l18 1l-33 5l-18 2zm-18 2l18-2l-33 8l-18 2zm-18 10l18-10l-33 8l-18 7z"/>
<path class=c d="M3316 3715l18-13l-33 5l-18 9zm-18 7l18-7l-33 1l-18 6zm-18-3l18 3l-33 0l-18-2zm-18 3l18-3l-33 1l-18-1z"/>
<path class=b d="M3243 3742l19-20l-33-3l-18 14zm-18 21l18-21l-32-9l-18 18z"/>
<path class=a d="M3207 3768l18-5l-32-12l-18 3z"/>
<path class=b d="M3189 3761l18 7l-32-14l-18-10zm-18-4l18 4l-32-17l-18-9z"/>
<path class=c d="M3153 3757l18 0l-32-22l-18 0z"/>
<path class=b d="M3135 3763l18-6l-32-22l-19 10zm-18 8l18-8l-33-18l-18 12zm-18-1l18 1l-33-14l-18 0z"/>
<path class=k d="M3963 3465l18 11l-33 64l-18 2z"/>
<path class=j d="M3945 3484l18-19l-33 77l-18 7z"/>
<path class=i d="M3927 3505l18-21l-33 65l-18 7zm-18 6l18-6l-33 51l-18-3zm-18 8l18-8l-33 42l-18 12z"/>
<path class=h d="M3873 3535l18-16l-33 46l-18 1z"/>
<path class=i d="M3854 3528l19 7l-33 31l-18-7z"/>
<path class=h d="M3836 3543l18-15l-32 31l-18 12zm-18-1l18 1l-32 28l-18 5zm-18 14l18-14l-32 34l-18 15zm-18 3l18-3l-32 35l-18 7zm-18 1l18-1l-32 39l-19 9zm-18 0l18 0l-33 47l-18 7zm-18 10l18-10l-33 54l-18 1zm-18 0l18 0l-33 45l-18 2z"/>
<path class=g d="M3692 3580l18-10l-33 47l-18 3zm-18 14l18-14l-33 40l-18 1zm-18-6l18 6l-33 27l-18 1zm-18 5l18-5l-33 34l-18 2zm-19 11l19-11l-33 31l-18 3z"/>
<path class=h d="M3601 3593l18 11l-32 23l-18 3z"/>
<path class=g d="M3583 3611l18-18l-32 37l-18 11zm-18-2l18 2l-32 30l-18 6zm-18 7l18-7l-32 38l-18-5zm-18-7l18 7l-32 26l-18-2zm-18 21l18-21l-32 31l-19 16z"/>
<path class=f d="M3493 3637l18-7l-33 26l-18 11zm-18 17l18-17l-33 30l-18 9zm-18 3l18-3l-33 22l-18 4z"/>
<path class=e d="M3439 3666l18-9l-33 23l-18 7z"/>
<path class=f d="M3421 3666l18 0l-33 21l-18 4zm-18 3l18-3l-33 25l-18-1z"/>
<path class=e d="M3385 3677l18-8l-33 21l-18 2zm-19 15l19-15l-33 15l-18 10z"/>
<path class=d d="M3348 3702l18-10l-32 10l-18 13zm-18 6l18-6l-32 13l-18 7z"/>
<path class=e d="M3312 3706l18 2l-32 14l-18-3z"/>
<path class=d d="M3294 3718l18-12l-32 13l-18 3z"/>
<path class=c d="M3276 3737l18-19l-32 4l-19 20zm-18 14l18-14l-33 5l-18 21zm-18 0l18 0l-33 12l-18 5zm-18-5l18 5l-33 17l-18-7zm-18 4l18-4l-33 15l-18-4zm-18 6l18-6l-33 7l-18 0zm-18 8l18-8l-33 1l-18 6z"/>
<path class=b d="M3150 3775l18-11l-33-1l-18 8z"/>
<path class=c d="M3132 3776l18-1l-33-4l-18-1z"/>
<path class=n d="M3995 3406l19-18l-33 88l-18-11zm-18 10l18-10l-32 59l-18 19z"/>
<path class=m d="M3959 3441l18-25l-32 68l-18 21z"/>
<path class=n d="M3941 3417l18 24l-32 64l-18 6z"/>
<path class=l d="M3923 3458l18-41l-32 94l-18 8zm-18 10l18-10l-32 61l-18 16z"/>
<path class=n d="M3887 3437l18 31l-32 67l-19-7z"/>
<path class=l d="M3869 3484l18-47l-33 91l-18 15zm-18 3l18-3l-33 59l-18-1z"/>
<path class=k d="M3833 3509l18-22l-33 55l-18 14zm-18-5l18 5l-33 47l-18 3zm-18 5l18-5l-33 55l-18 1zm-18-2l18 2l-33 51l-18 0zm-18 9l18-9l-33 53l-18 10zm-19 8l19-8l-33 54l-18 0zm-18 5l18-5l-32 46l-18 10z"/>
<path class=j d="M3706 3548l18-19l-32 51l-18 14z"/>
<path class=k d="M3688 3527l18 21l-32 46l-18-6z"/>
<path class=j d="M3670 3544l18-17l-32 61l-18 5z"/>
<path class=k d="M3652 3540l18 4l-32 49l-19 11zm-18-6l18 6l-33 64l-18-11z"/>
<path class=m d="M3616 3509l18 25l-33 59l-18 18z"/>
<path class=k d="M3598 3550l18-41l-33 102l-18-2zm-18 4l18-4l-33 59l-18 7zm-18 0l18 0l-33 62l-18-7z"/>
<path class=j d="M3544 3579l18-25l-33 55l-18 21zm-18-1l18 1l-33 51l-18 7zm-18 2l18-2l-33 59l-18 17z"/>
<path class=i d="M3489 3595l19-15l-33 74l-18 3zm-18 10l18-10l-32 62l-18 9zm-18 14l18-14l-32 61l-18 0zm-18-4l18 4l-32 47l-18 3zm-18 10l18-10l-32 54l-18 8z"/>
<path class=h d="M3399 3644l18-19l-32 52l-19 15zm-18 2l18-2l-33 48l-18 10zm-18 10l18-10l-33 56l-18 6z"/>
<path class=g d="M3345 3662l18-6l-33 52l-18-2zm-18 14l18-14l-33 44l-18 12z"/>
<path class=f d="M3309 3687l18-11l-33 42l-18 19zm-18 5l18-5l-33 50l-18 14z"/>
<path class=g d="M3273 3684l18 8l-33 59l-18 0zm-19 3l19-3l-33 67l-18-5zm-18 3l18-3l-32 59l-18 4z"/>
<path class=f d="M3218 3703l18-13l-32 60l-18 6zm-18 16l18-16l-32 53l-18 8z"/>
<path class=e d="M3182 3739l18-20l-32 45l-18 11z"/>
<path class=d d="M3164 3759l18-20l-32 36l-18 1z"/>
<path class=w d="M4028 3257l18 32l-32 99l-19 18z"/>
<path class=t d="M4010 3319l18-62l-33 149l-18 10z"/>
<path class=s d="M3992 3338l18-19l-33 97l-18 25zm-18-4l18 4l-33 103l-18-24z"/>
<path class=q d="M3956 3381l18-47l-33 83l-18 41z"/>
<path class=p d="M3938 3397l18-16l-33 77l-18 10z"/>
<path class=r d="M3920 3363l18 34l-33 71l-18-31z"/>
<path class=q d="M3902 3387l18-24l-33 74l-18 47z"/>
<path class=o d="M3884 3443l18-56l-33 97l-18 3z"/>
<path class=n d="M3865 3462l19-19l-33 44l-18 22z"/>
<path class=p d="M3847 3424l18 38l-32 47l-18-5z"/>
<path class=o d="M3829 3439l18-15l-32 80l-18 5z"/>
<path class=n d="M3811 3458l18-19l-32 70l-18-2z"/>
<path class=p d="M3793 3431l18 27l-32 49l-18 9z"/>
<path class=q d="M3775 3418l18 13l-32 85l-19 8z"/>
<path class=o d="M3757 3451l18-33l-33 106l-18 5z"/>
<path class=n d="M3739 3480l18-29l-33 78l-18 19z"/>
<path class=p d="M3721 3449l18 31l-33 68l-18-21z"/>
<path class=o d="M3703 3474l18-25l-33 78l-18 17zm-18-3l18 3l-33 70l-18-4z"/>
<path class=p d="M3667 3451l18 20l-33 69l-18-6z"/>
<path class=r d="M3649 3429l18 22l-33 83l-18-25z"/>
<path class=q d="M3630 3444l19-15l-33 80l-18 41z"/>
<path class=p d="M3612 3470l18-26l-32 106l-18 4z"/>
<path class=o d="M3594 3491l18-21l-32 84l-18 0z"/>
<path class=n d="M3576 3503l18-12l-32 63l-18 25zm-18 1l18-1l-32 76l-18-1zm-18 11l18-11l-32 74l-18 2zm-18 12l18-12l-32 65l-19 15zm-18-5l18 5l-33 68l-18 10zm-18 14l18-14l-33 83l-18 14z"/>
<path class=m d="M3468 3539l18-3l-33 83l-18-4z"/>
<path class=o d="M3450 3521l18 18l-33 76l-18 10z"/>
<path class=n d="M3432 3537l18-16l-33 104l-18 19z"/>
<path class=m d="M3414 3558l18-21l-33 107l-18 2z"/>
<path class=k d="M3396 3592l18-34l-33 88l-18 10z"/>
<path class=m d="M3377 3574l19 18l-33 64l-18 6zm-18-9l18 9l-32 88l-18 14zm-18 0l18 0l-32 111l-18 11z"/>
<path class=n d="M3323 3559l18 6l-32 122l-18 5z"/>
<path class=o d="M3305 3549l18 10l-32 133l-18-8zm-18-14l18 14l-32 135l-19 3zm-18 10l18-10l-33 152l-18 3z"/>
<path class=m d="M3251 3579l18-34l-33 145l-18 13zm-18 14l18-14l-33 124l-18 16z"/>
<path class=i d="M3215 3668l18-75l-33 126l-18 20z"/>
<path class=h d="M3197 3704l18-36l-33 71l-18 20z"/>
<path class=y d="M4061 3222l18 15l-33 52l-18-32z"/>
<path class=x d="M4043 3243l18-21l-33 35l-18 62z"/>
<path class=w d="M4025 3279l18-36l-33 76l-18 19zm-19-6l19 6l-33 59l-18-4z"/>
<path class=u d="M3988 3323l18-50l-32 61l-18 47z"/>
<path class=v d="M3970 3295l18 28l-32 58l-18 16zm-18 7l18-7l-32 102l-18-34z"/>
<path class=u d="M3934 3326l18-24l-32 61l-18 24z"/>
<path class=t d="M3916 3354l18-28l-32 61l-18 56z"/>
<path class=s d="M3898 3378l18-24l-32 89l-19 19z"/>
<path class=t d="M3880 3349l18 29l-33 84l-18-38z"/>
<path class=s d="M3862 3380l18-31l-33 75l-18 15z"/>
<path class=t d="M3844 3371l18 9l-33 59l-18 19z"/>
<path class=r d="M3826 3407l18-36l-33 87l-18-27z"/>
<path class=t d="M3808 3377l18 30l-33 24l-18-13z"/>
<path class=r d="M3790 3413l18-36l-33 41l-18 33z"/>
<path class=q d="M3772 3431l18-18l-33 38l-18 29z"/>
<path class=s d="M3753 3402l19 29l-33 49l-18-31zm-18 3l18-3l-32 47l-18 25z"/>
<path class=r d="M3717 3420l18-15l-32 69l-18-3z"/>
<path class=s d="M3699 3402l18 18l-32 51l-18-20z"/>
<path class=t d="M3681 3391l18 11l-32 49l-18-22z"/>
<path class=u d="M3663 3377l18 14l-32 38l-19 15z"/>
<path class=t d="M3645 3402l18-25l-33 67l-18 26zm-18 5l18-5l-33 68l-18 21z"/>
<path class=r d="M3609 3439l18-32l-33 84l-18 12z"/>
<path class=s d="M3591 3421l18 18l-33 64l-18 1z"/>
<path class=q d="M3573 3463l18-42l-33 83l-18 11z"/>
<path class=s d="M3555 3438l18 25l-33 52l-18 12z"/>
<path class=r d="M3537 3450l18-12l-33 89l-18-5z"/>
<path class=s d="M3519 3434l18 16l-33 72l-18 14z"/>
<path class=r d="M3500 3471l19-37l-33 102l-18 3zm-18-4l18 4l-32 68l-18-18z"/>
<path class=s d="M3464 3448l18 19l-32 54l-18 16zm-18 4l18-4l-32 89l-18 21z"/>
<path class=r d="M3428 3469l18-17l-32 106l-18 34z"/>
<path class=s d="M3410 3459l18 10l-32 123l-19-18z"/>
<path class=t d="M3392 3455l18 4l-33 115l-18-9z"/>
<path class=u d="M3374 3432l18 23l-33 110l-18 0z"/>
<path class=v d="M3356 3423l18 9l-33 133l-18-6zm-18-5l18 5l-33 136l-18-10z"/>
<path class=x d="M3320 3379l18 39l-33 131l-18-14z"/>
<path class=w d="M3302 3403l18-24l-33 156l-18 10zm-18 11l18-11l-33 142l-18 34zm-19 5l19-5l-33 165l-18 14z"/>
<path class=q d="M3247 3535l18-116l-32 174l-18 75z"/>
<path class=k d="M3229 3639l18-104l-32 133l-18 36z"/>
<path class=ab d="M4093 3182l18 5l-32 50l-18-15zm-18 0l18 0l-32 40l-18 21z"/>
<path class=x d="M4057 3257l18-75l-32 61l-18 36z"/>
<path class=z d="M4039 3235l18 22l-32 22l-19-6z"/>
<path class=w d="M4021 3284l18-49l-33 38l-18 50z"/>
<path class=v d="M4003 3313l18-29l-33 39l-18-28z"/>
<path class=w d="M3985 3292l18 21l-33-18l-18 7z"/>
<path class=u d="M3967 3328l18-36l-33 10l-18 24z"/>
<path class=r d="M3949 3389l18-61l-33-2l-18 28z"/>
<path class=s d="M3931 3372l18 17l-33-35l-18 24z"/>
<path class=u d="M3913 3340l18 32l-33 6l-18-29z"/>
<path class=v d="M3895 3330l18 10l-33 9l-18 31z"/>
<path class=s d="M3876 3385l19-55l-33 50l-18-9z"/>
<path class=t d="M3858 3379l18 6l-32-14l-18 36zm-18 0l18 0l-32 28l-18-30z"/>
<path class=r d="M3822 3423l18-44l-32-2l-18 36z"/>
<path class=s d="M3804 3405l18 18l-32-10l-18 18zm-18 3l18-3l-32 26l-19-29z"/>
<path class=u d="M3768 3375l18 33l-33-6l-18 3z"/>
<path class=t d="M3750 3398l18-23l-33 30l-18 15z"/>
<path class=w d="M3732 3351l18 47l-33 22l-18-18zm-18 2l18-2l-33 51l-18-11z"/>
<path class=v d="M3696 3369l18-16l-33 38l-18-14z"/>
<path class=t d="M3678 3403l18-34l-33 8l-18 25z"/>
<path class=u d="M3660 3385l18 18l-33-1l-18 5z"/>
<path class=t d="M3641 3421l19-36l-33 22l-18 32z"/>
<path class=u d="M3623 3408l18 13l-32 18l-18-18z"/>
<path class=s d="M3605 3449l18-41l-32 13l-18 42z"/>
<path class=u d="M3587 3413l18 36l-32 14l-18-25zm-18 1l18-1l-32 25l-18 12z"/>
<path class=t d="M3551 3432l18-18l-32 36l-18-16zm-18 10l18-10l-32 2l-19 37z"/>
<path class=u d="M3515 3423l18 19l-33 29l-18-4z"/>
<path class=v d="M3497 3401l18 22l-33 44l-18-19zm-18-1l18 1l-33 47l-18 4z"/>
<path class=t d="M3461 3456l18-56l-33 52l-18 17z"/>
<path class=v d="M3443 3420l18 36l-33 13l-18-10z"/>
<path class=u d="M3425 3443l18-23l-33 39l-18-4z"/>
<path class=x d="M3407 3381l18 62l-33 12l-18-23zm-19 5l19-5l-33 51l-18-9z"/>
<path class=aa d="M3370 3329l18 57l-32 37l-18-5z"/>
<path class=z d="M3352 3346l18-17l-32 89l-18-39z"/>
<path class=ab d="M3334 3319l18 27l-32 33l-18 24z"/>
<path class=aa d="M3316 3333l18-14l-32 84l-18 11zm-18 17l18-17l-32 81l-19 5z"/>
<path class=u d="M3280 3458l18-108l-33 69l-18 116z"/>
<path class=n d="M3262 3603l18-145l-33 77l-18 104z"/>
<path class=aa d="M4126 3218l18 58l-33-89l-18-5z"/>
<path class=w d="M4108 3287l18-69l-33-36l-18 0z"/>
<path class=v d="M4090 3316l18-29l-33-105l-18 75z"/>
<path class=w d="M4072 3291l18 25l-33-59l-18-22z"/>
<path class=t d="M4054 3350l18-59l-33-56l-18 49zm-18 0l18 0l-33-66l-18 29z"/>
<path class=u d="M4017 3348l19 2l-33-37l-18-21z"/>
<path class=r d="M3999 3407l18-59l-32-56l-18 36z"/>
<path class=q d="M3981 3428l18-21l-32-79l-18 61z"/>
<path class=r d="M3963 3410l18 18l-32-39l-18-17zm-18 8l18-8l-32-38l-18-32z"/>
<path class=s d="M3927 3406l18 12l-32-78l-18-10z"/>
<path class=r d="M3909 3426l18-20l-32-76l-19 55z"/>
<path class=s d="M3891 3412l18 14l-33-41l-18-6z"/>
<path class=t d="M3873 3399l18 13l-33-33l-18 0z"/>
<path class=r d="M3855 3431l18-32l-33-20l-18 44z"/>
<path class=p d="M3837 3466l18-35l-33-8l-18-18z"/>
<path class=r d="M3819 3443l18 23l-33-61l-18 3zm-18-1l18 1l-33-35l-18-33z"/>
<path class=s d="M3783 3435l18 7l-33-67l-18 23z"/>
<path class=u d="M3764 3399l19 36l-33-37l-18-47zm-18-8l18 8l-32-48l-18 2zm-18 7l18-7l-32-38l-18 16z"/>
<path class=t d="M3710 3417l18-19l-32-29l-18 34z"/>
<path class=s d="M3692 3442l18-25l-32-14l-18-18zm-18 5l18-5l-32-57l-19 36zm-18-1l18 1l-33-26l-18-13z"/>
<path class=r d="M3638 3473l18-27l-33-38l-18 41z"/>
<path class=s d="M3620 3461l18 12l-33-24l-18-36z"/>
<path class=t d="M3602 3443l18 18l-33-48l-18 1z"/>
<path class=s d="M3584 3463l18-20l-33-29l-18 18zm-18 4l18-4l-33-31l-18 10z"/>
<path class=t d="M3548 3450l18 17l-33-25l-18-19z"/>
<path class=r d="M3530 3486l18-36l-33-27l-18-22zm-19 0l19 0l-33-85l-18-1z"/>
<path class=q d="M3493 3522l18-36l-32-86l-18 56z"/>
<path class=s d="M3475 3491l18 31l-32-66l-18-36z"/>
<path class=u d="M3457 3455l18 36l-32-71l-18 23z"/>
<path class=v d="M3439 3432l18 23l-32-12l-18-62zm-18-2l18 2l-32-51l-19 5z"/>
<path class=x d="M3403 3403l18 27l-33-44l-18-57z"/>
<path class=y d="M3385 3389l18 14l-33-74l-18 17zm-18 4l18-4l-33-43l-18-27z"/>
<path class=x d="M3349 3417l18-24l-33-74l-18 14z"/>
<path class=y d="M3331 3388l18 29l-33-84l-18 17z"/>
<path class=t d="M3313 3496l18-108l-33-38l-18 108z"/>
<path class=m d="M3295 3635l18-139l-33-38l-18 145z"/>
<path class=x d="M4159 3281l18 30l-33-35l-18-58z"/>
<path class=u d="M4140 3339l19-58l-33-63l-18 69z"/>
<path class=t d="M4122 3356l18-17l-32-52l-18 29z"/>
<path class=u d="M4104 3336l18 20l-32-40l-18-25z"/>
<path class=r d="M4086 3400l18-64l-32-45l-18 59z"/>
<path class=s d="M4068 3383l18 17l-32-50l-18 0z"/>
<path class=t d="M4050 3377l18 6l-32-33l-19-2z"/>
<path class=r d="M4032 3416l18-39l-33-29l-18 59z"/>
<path class=o d="M4014 3481l18-65l-33-9l-18 21z"/>
<path class=r d="M3996 3422l18 59l-33-53l-18-18z"/>
<path class=q d="M3978 3437l18-15l-33-12l-18 8z"/>
<path class=p d="M3960 3459l18-22l-33-19l-18-12z"/>
<path class=s d="M3942 3414l18 45l-33-53l-18 20z"/>
<path class=q d="M3924 3457l18-43l-33 12l-18-14z"/>
<path class=p d="M3906 3472l18-15l-33-45l-18-13z"/>
<path class=q d="M3887 3456l19 16l-33-73l-18 32z"/>
<path class=p d="M3869 3493l18-37l-32-25l-18 35z"/>
<path class=r d="M3851 3444l18 49l-32-27l-18-23z"/>
<path class=p d="M3833 3491l18-47l-32-1l-18-1zm-18 4l18-4l-32-49l-18-7z"/>
<path class=r d="M3797 3456l18 39l-32-60l-19-36z"/>
<path class=t d="M3779 3432l18 24l-33-57l-18-8z"/>
<path class=r d="M3761 3458l18-26l-33-41l-18 7z"/>
<path class=q d="M3743 3487l18-29l-33-60l-18 19zm-18-5l18 5l-33-70l-18 25zm-18 13l18-13l-33-40l-18 5z"/>
<path class=r d="M3689 3486l18 9l-33-48l-18-1z"/>
<path class=o d="M3671 3536l18-50l-33-40l-18 27z"/>
<path class=q d="M3652 3505l19 31l-33-63l-18-12z"/>
<path class=r d="M3634 3484l18 21l-32-44l-18-18z"/>
<path class=q d="M3616 3510l18-26l-32-41l-18 20z"/>
<path class=o d="M3598 3546l18-36l-32-47l-18 4z"/>
<path class=r d="M3580 3493l18 53l-32-79l-18-17z"/>
<path class=q d="M3562 3515l18-22l-32-43l-18 36zm-18 10l18-10l-32-29l-19 0z"/>
<path class=p d="M3526 3546l18-21l-33-39l-18 36z"/>
<path class=q d="M3508 3534l18 12l-33-24l-18-31z"/>
<path class=r d="M3490 3523l18 11l-33-43l-18-36z"/>
<path class=s d="M3472 3497l18 26l-33-68l-18-23z"/>
<path class=t d="M3454 3482l18 15l-33-65l-18-2zm-18-1l18 1l-33-52l-18-27z"/>
<path class=v d="M3418 3443l18 38l-33-78l-18-14zm-19 21l19-21l-33-54l-18 4z"/>
<path class=u d="M3381 3474l18-10l-32-71l-18 24z"/>
<path class=w d="M3363 3442l18 32l-32-57l-18-29z"/>
<path class=q d="M3345 3554l18-112l-32-54l-18 108z"/>
<path class=m d="M3327 3642l18-88l-32-58l-18 139z"/>
<path class=t d="M4191 3355l18 6l-32-50l-18-30z"/>
<path class=r d="M4173 3413l18-58l-32-74l-19 58z"/>
<path class=q d="M4155 3426l18-13l-33-74l-18 17z"/>
<path class=r d="M4137 3420l18 6l-33-70l-18-20z"/>
<path class=q d="M4119 3434l18-14l-33-84l-18 64z"/>
<path class=r d="M4101 3414l18 20l-33-34l-18-17z"/>
<path class=q d="M4083 3441l18-27l-33-31l-18-6z"/>
<path class=p d="M4065 3468l18-27l-33-64l-18 39z"/>
<path class=n d="M4047 3509l18-41l-33-52l-18 65z"/>
<path class=o d="M4028 3497l19 12l-33-28l-18-59z"/>
<path class=p d="M4010 3479l18 18l-32-75l-18 15z"/>
<path class=n d="M3992 3520l18-41l-32-42l-18 22z"/>
<path class=p d="M3974 3486l18 34l-32-61l-18-45zm-18-10l18 10l-32-72l-18 43z"/>
<path class=o d="M3938 3501l18-25l-32-19l-18 15z"/>
<path class=n d="M3920 3530l18-29l-32-29l-19-16z"/>
<path class=l d="M3902 3570l18-40l-33-74l-18 37z"/>
<path class=o d="M3884 3511l18 59l-33-77l-18-49z"/>
<path class=n d="M3866 3532l18-21l-33-67l-18 47z"/>
<path class=o d="M3848 3517l18 15l-33-41l-18 4zm-18 16l18-16l-33-22l-18-39z"/>
<path class=n d="M3812 3557l18-24l-33-77l-18-24z"/>
<path class=r d="M3794 3477l18 80l-33-125l-18 26z"/>
<path class=p d="M3775 3524l19-47l-33-19l-18 29z"/>
<path class=n d="M3757 3551l18-27l-32-37l-18-5z"/>
<path class=p d="M3739 3528l18 23l-32-69l-18 13z"/>
<path class=o d="M3721 3555l18-27l-32-33l-18-9z"/>
<path class=n d="M3703 3560l18-5l-32-69l-18 50z"/>
<path class=o d="M3685 3549l18 11l-32-24l-19-31zm-18-1l18 1l-33-44l-18-21z"/>
<path class=p d="M3649 3543l18 5l-33-64l-18 26z"/>
<path class=n d="M3631 3591l18-48l-33-33l-18 36zm-18-10l18 10l-33-45l-18-53zm-18 17l18-17l-33-88l-18 22z"/>
<path class=o d="M3577 3566l18 32l-33-83l-18 10zm-18 10l18-10l-33-41l-18 21z"/>
<path class=n d="M3541 3595l18-19l-33-30l-18-12z"/>
<path class=o d="M3522 3591l19 4l-33-61l-18-11z"/>
<path class=q d="M3504 3550l18 41l-32-68l-18-26z"/>
<path class=r d="M3486 3537l18 13l-32-53l-18-15z"/>
<path class=s d="M3468 3515l18 22l-32-55l-18-1zm-18-1l18 1l-32-34l-18-38z"/>
<path class=t d="M3432 3505l18 9l-32-71l-19 21z"/>
<path class=r d="M3414 3552l18-47l-33-41l-18 10z"/>
<path class=s d="M3396 3531l18 21l-33-78l-18-32z"/>
<path class=p d="M3378 3594l18-63l-33-89l-18 112z"/>
<path class=l d="M3360 3675l18-81l-33-40l-18 88z"/>
<path class=r d="M4224 3422l18 42l-33-103l-18-6z"/>
<path class=q d="M4206 3441l18-19l-33-67l-18 58z"/>
<path class=r d="M4188 3425l18 16l-33-28l-18 13z"/>
<path class=s d="M4170 3413l18 12l-33 1l-18-6zm-19-10l19 10l-33 7l-18 14zm-18 7l18-7l-32 31l-18-20z"/>
<path class=r d="M4115 3430l18-20l-32 4l-18 27z"/>
<path class=u d="M4097 3373l18 57l-32 11l-18 27z"/>
<path class=s d="M4079 3419l18-46l-32 95l-18 41z"/>
<path class=q d="M4061 3455l18-36l-32 90l-19-12z"/>
<path class=r d="M4043 3451l18 4l-33 42l-18-18zm-18-4l18 4l-33 28l-18 41zm-18 13l18-13l-33 73l-18-34z"/>
<path class=q d="M3989 3468l18-8l-33 26l-18-10z"/>
<path class=r d="M3971 3468l18 0l-33 8l-18 25z"/>
<path class=q d="M3953 3490l18-22l-33 33l-18 29z"/>
<path class=r d="M3935 3475l18 15l-33 40l-18 40z"/>
<path class=q d="M3917 3496l18-21l-33 95l-18-59zm-19-9l19 9l-33 15l-18 21z"/>
<path class=r d="M3880 3477l18 10l-32 45l-18-15zm-18 9l18-9l-32 40l-18 16z"/>
<path class=q d="M3844 3494l18-8l-32 47l-18 24zm-18 5l18-5l-32 63l-18-80zm-18 13l18-13l-32-22l-19 47z"/>
<path class=p d="M3790 3527l18-15l-33 12l-18 27z"/>
<path class=q d="M3772 3524l18 3l-33 24l-18-23z"/>
<path class=p d="M3754 3529l18-5l-33 4l-18 27z"/>
<path class=q d="M3736 3513l18 16l-33 26l-18 5z"/>
<path class=p d="M3718 3550l18-37l-33 47l-18-11z"/>
<path class=q d="M3700 3533l18 17l-33-1l-18-1z"/>
<path class=p d="M3682 3545l18-12l-33 15l-18-5zm-19 11l19-11l-33-2l-18 48z"/>
<path class=q d="M3645 3530l18 26l-32 35l-18-10z"/>
<path class=r d="M3627 3528l18 2l-32 51l-18 17z"/>
<path class=p d="M3609 3559l18-31l-32 70l-18-32z"/>
<path class=r d="M3591 3536l18 23l-32 7l-18 10z"/>
<path class=p d="M3573 3563l18-27l-32 40l-18 19z"/>
<path class=q d="M3555 3551l18 12l-32 32l-19-4z"/>
<path class=r d="M3537 3537l18 14l-33 40l-18-41z"/>
<path class=p d="M3519 3581l18-44l-33 13l-18-13zm-18-4l18 4l-33-44l-18-22zm-18 12l18-12l-33-62l-18-1zm-18 8l18-8l-33-75l-18-9z"/>
<path class=r d="M3447 3563l18 34l-33-92l-18 47z"/>
<path class=o d="M3429 3610l18-47l-33-11l-18-21z"/>
<path class=p d="M3410 3606l19 4l-33-79l-18 63z"/>
<path class=k d="M3392 3707l18-101l-32-12l-18 81z"/>
<path class=k d="M4256 3553l18-9l-32-80l-18-42z"/>
<path class=j d="M4238 3572l18-19l-32-131l-18 19z"/>
<path class=i d="M4220 3601l18-29l-32-131l-18-16zm-18 0l18 0l-32-176l-18-12z"/>
<path class=j d="M4184 3596l18 5l-32-188l-19-10z"/>
<path class=k d="M4166 3566l18 30l-33-193l-18 7z"/>
<path class=j d="M4148 3603l18-37l-33-156l-18 20z"/>
<path class=h d="M4130 3629l18-26l-33-173l-18-57z"/>
<path class=k d="M4112 3588l18 41l-33-256l-18 46z"/>
<path class=j d="M4094 3598l18-10l-33-169l-18 36zm-18 8l18-8l-33-143l-18-4z"/>
<path class=g d="M4058 3662l18-56l-33-155l-18-4z"/>
<path class=k d="M4039 3603l19 59l-33-215l-18 13zm-18-1l18 1l-32-143l-18 8zm-18 7l18-7l-32-134l-18 0z"/>
<path class=h d="M3985 3656l18-47l-32-141l-18 22zm-18 12l18-12l-32-166l-18-15z"/>
<path class=j d="M3949 3626l18 42l-32-193l-18 21z"/>
<path class=i d="M3931 3658l18-32l-32-130l-19-9z"/>
<path class=j d="M3913 3638l18 20l-33-171l-18-10z"/>
<path class=i d="M3895 3663l18-25l-33-161l-18 9z"/>
<path class=h d="M3877 3677l18-14l-33-177l-18 8z"/>
<path class=i d="M3859 3664l18 13l-33-183l-18 5zm-18 12l18-12l-33-165l-18 13zm-18-2l18 2l-33-164l-18 15z"/>
<path class=j d="M3805 3652l18 22l-33-147l-18-3zm-19 9l19-9l-33-128l-18 5z"/>
<path class=i d="M3768 3695l18-34l-32-132l-18-16z"/>
<path class=j d="M3750 3677l18 18l-32-182l-18 37z"/>
<path class=i d="M3732 3692l18-15l-32-127l-18-17z"/>
<path class=j d="M3714 3675l18 17l-32-159l-18 12z"/>
<path class=g d="M3696 3730l18-55l-32-130l-19 11zm-18 2l18-2l-33-174l-18-26zm-18 11l18-11l-33-202l-18-2zm-18 1l18-1l-33-215l-18 31z"/>
<path class=h d="M3624 3737l18 7l-33-185l-18-23z"/>
<path class=g d="M3606 3759l18-22l-33-201l-18 27z"/>
<path class=h d="M3588 3746l18 13l-33-196l-18-12z"/>
<path class=j d="M3570 3711l18 35l-33-195l-18-14z"/>
<path class=i d="M3552 3720l18-9l-33-174l-18 44z"/>
<path class=h d="M3533 3739l19-19l-33-139l-18-4z"/>
<path class=j d="M3515 3716l18 23l-32-162l-18 12z"/>
<path class=h d="M3497 3752l18-36l-32-127l-18 8z"/>
<path class=g d="M3479 3776l18-24l-32-155l-18-34z"/>
<path class=j d="M3461 3719l18 57l-32-213l-18 47z"/>
<path class=i d="M3443 3742l18-23l-32-109l-19-4z"/>
<path class=j d="M3425 3737l18 5l-33-136l-18 101z"/>
</g>
<text class="tt" text-anchor="middle" x="375.3" y="399.7" textLength="17.8" lengthAdjust="spacingAndGlyphs">2010</text>
<text class="tt" text-anchor="middle" x="395.5" y="396.0" textLength="17.8" lengthAdjust="spacingAndGlyphs">2013</text>
<text class="tt" text-anchor="middle" x="415.6" y="392.3" textLength="17.8" lengthAdjust="spacingAndGlyphs">2016</text>
<text class="tt" text-anchor="middle" x="435.7" y="388.6" textLength="17.8" lengthAdjust="spacingAndGlyphs">2019</text>
<text class="tt" text-anchor="middle" x="335.9" y="402.8" textLength="4.6" lengthAdjust="spacingAndGlyphs">0</text>
<text class="tt" text-anchor="middle" x="303.3" y="392.3" textLength="9.2" lengthAdjust="spacingAndGlyphs">10</text>
<text class="tt" text-anchor="middle" x="270.7" y="381.8" textLength="9.2" lengthAdjust="spacingAndGlyphs">20</text>
<text class="tt" text-anchor="end" x="262.5" y="367.6" textLength="4.6" lengthAdjust="spacingAndGlyphs">0</text>
<text class="tt" text-anchor="end" x="262.5" y="343.6" textLength="4.6" lengthAdjust="spacingAndGlyphs">1</text>
<text class="tt" text-anchor="end" x="262.5" y="319.5" textLength="4.6" lengthAdjust="spacingAndGlyphs">2</text>
<text class="hh" x="240.6" y="291.3" textLength="228.2" lengthAdjust="spacingAndGlyphs">Investment Growth response to NFC Loan Supply Shock</text>
<rect class="rr" x="384.8" y="317.6" width="49.2" height="50.0"/>
</g>
<g id="p4L">
<path class="gg" d="M134.04 526.32L59.04 502.12M59.04 502.12L59.04 448.72M154.15 522.60L79.15 498.40M79.15 498.40L79.15 445.00M174.26 518.89L99.26 494.69M99.26 494.69L99.26 441.29M194.37 515.17L119.37 490.97M119.37 490.97L119.37 437.57M113.60 530.10L212.60 511.80M212.60 511.80L212.60 458.40M80.99 519.58L179.99 501.28M179.99 501.28L179.99 447.88M48.38 509.06L147.38 490.76M147.38 490.76L147.38 437.36M38.60 499.26L137.60 480.96M137.60 480.96L212.60 505.16M38.60 487.72L137.60 469.42M137.60 469.42L212.60 493.62M38.60 476.17L137.60 457.87M137.60 457.87L212.60 482.07M38.60 464.62L137.60 446.32M137.60 446.32L212.60 470.52M38.60 453.08L137.60 434.78M137.60 434.78L212.60 458.98"/>
<path class="bb" d="M113.60 530.10L212.60 511.80M212.60 511.80L137.60 487.60M137.60 487.60L38.60 505.90M38.60 505.90L113.60 530.10M38.60 505.90L38.60 452.50M38.60 452.50L137.60 434.20M137.60 434.20L137.60 487.60M137.60 434.20L212.60 458.40M212.60 458.40L212.60 511.80M134.04 526.32L132.33 525.77M154.15 522.60L152.44 522.05M174.26 518.89L172.55 518.33M194.37 515.17L192.66 514.62M113.60 530.10L115.37 529.77M80.99 519.58L82.76 519.25M48.38 509.06L50.15 508.73M38.60 499.26L36.40 499.56M38.60 487.72L36.40 488.02M38.60 476.17L36.40 476.47M38.60 464.62L36.40 464.92M38.60 453.08L36.40 453.38"/>
<g class=sf transform="scale(.1)">
<path class=i d="M1276 4731l19-3l-33 0l-18 2zm-19 5l19-5l-32-1l-19 0zm-18 8l18-8l-32-6l-19 4zm-19 0l19 0l-33-10l-18 3z"/>
<path class=j d="M1202 4742l18 2l-32-7l-19 4zm-19 4l19-4l-33-1l-19 3zm-19 3l19-3l-33-2l-18 6z"/>
<path class=i d="M1146 4754l18-5l-32 1l-19 5zm-19 15l19-15l-33 1l-19 6z"/>
<path class=h d="M1108 4781l19-12l-33-8l-18 4z"/>
<path class=i d="M1090 4776l18 5l-32-16l-19-2zm-19-4l19 4l-33-13l-19-1zm-19 2l19-2l-33-10l-18-2z"/>
<path class=j d="M1034 4771l18 3l-32-14l-19 2zm-19 5l19-5l-33-9l-18 12z"/>
<path class=h d="M996 4796l19-20l-32-2l-19 11z"/>
<path class=g d="M978 4814l18-18l-32-11l-19 6zm-19 1l19-1l-33-23l-18 6z"/>
<path class=h d="M941 4811l18 4l-32-18l-19 7zm-19 4l19-4l-33-7l-19 2zm-19-3l19 3l-33-9l-18-3z"/>
<path class=i d="M885 4804l18 8l-32-9l-19-3zm-19 5l19-5l-33-4l-19-3z"/>
<path class=h d="M847 4823l19-14l-33-12l-18 2zm-18 6l18-6l-32-24l-19 7zm-19 2l19-2l-33-23l-19 8zm-19 7l19-7l-33-17l-18 7zm-18 3l18-3l-32-17l-19 7zm-19 5l19-5l-33-13l-18 8z"/>
<path class=g d="M736 4865l18-19l-32-10l-19 8z"/>
<path class=f d="M717 4878l19-13l-33-21l-19-3z"/>
<path class=g d="M698 4870l19 8l-33-37l-18-4z"/>
<path class=h d="M680 4854l18 16l-32-33l-19-5z"/>
<path class=i d="M661 4851l19 3l-33-22l-19 1zm-19 0l19 0l-33-18l-18 3zm-18-1l18 1l-32-15l-19 3zm-19 7l19-7l-33-11l-19 3zm-19 13l19-13l-33-15l-18 5z"/>
<path class=h d="M568 4876l18-6l-32-23l-19 6zm-19 2l19-2l-33-23l-19 6zm-19 5l19-5l-33-19l-18 6z"/>
<path class=i d="M512 4880l18 3l-32-18l-19-5zm-19-5l19 5l-33-20l-18-9zm-18 3l18-3l-32-24l-19-4zm-19 14l19-14l-33-31l-19 7z"/>
<path class=h d="M437 4900l19-8l-33-38l-18 4z"/>
<path class=g d="M419 4925l18-25l-32-42l-19 29z"/>
<path class=j d="M1309 4731l18-10l-32 7l-19 3zm-19 2l19-2l-33 0l-19 5zm-19 11l19-11l-33 3l-18 8z"/>
<path class=i d="M1253 4754l18-10l-32 0l-19 0zm-19-1l19 1l-33-10l-18-2z"/>
<path class=j d="M1216 4751l18 2l-32-11l-19 4zm-19 5l19-5l-33-5l-19 3zm-19 1l19-1l-33-7l-18 5zm-18 3l18-3l-32-3l-19 15z"/>
<path class=i d="M1141 4780l19-20l-33 9l-19 12z"/>
<path class=h d="M1122 4799l19-19l-33 1l-18-5zm-18-1l18 1l-32-23l-19-4z"/>
<path class=i d="M1085 4789l19 9l-33-26l-19 2zm-19-4l19 4l-33-15l-18-3z"/>
<path class=j d="M1048 4787l18-2l-32-14l-19 5z"/>
<path class=i d="M1029 4793l19-6l-33-11l-19 20z"/>
<path class=h d="M1010 4815l19-22l-33 3l-18 18z"/>
<path class=g d="M992 4832l18-17l-32-1l-19 1z"/>
<path class=h d="M973 4828l19 4l-33-17l-18-4zm-18-5l18 5l-32-17l-19 4zm-19 3l19-3l-33-8l-19-3z"/>
<path class=i d="M917 4817l19 9l-33-14l-18-8z"/>
<path class=j d="M899 4807l18 10l-32-13l-19 5z"/>
<path class=i d="M880 4828l19-21l-33 2l-19 14z"/>
<path class=g d="M861 4859l19-31l-33-5l-18 6zm-18 4l18-4l-32-30l-19 2zm-19-5l19 5l-33-32l-19 7zm-19 7l19-7l-33-20l-18 3zm-18 7l18-7l-32-24l-19 5zm-19 3l19-3l-33-26l-18 19z"/>
<path class=f d="M749 4888l19-13l-32-10l-19 13zm-18 11l18-11l-32-10l-19-8z"/>
<path class=g d="M712 4885l19 14l-33-29l-18-16z"/>
<path class=h d="M694 4868l18 17l-32-31l-19-3z"/>
<path class=i d="M675 4866l19 2l-33-17l-19 0zm-19-4l19 4l-33-15l-18-1z"/>
<path class=j d="M638 4857l18 5l-32-12l-19 7z"/>
<path class=i d="M619 4874l19-17l-33 0l-19 13z"/>
<path class=g d="M600 4899l19-25l-33-4l-18 6zm-18 5l18-5l-32-23l-19 2z"/>
<path class=h d="M563 4901l19 3l-33-26l-19 5zm-19-2l19 2l-33-18l-18-3z"/>
<path class=i d="M526 4895l18 4l-32-19l-19-5zm-19-4l19 4l-33-20l-18 3zm-18 12l18-12l-32-13l-19 14z"/>
<path class=h d="M470 4916l19-13l-33-11l-19 8z"/>
<path class=g d="M451 4931l19-15l-33-16l-18 25z"/>
<path class=k d="M1341 4729l19-16l-33 8l-18 10zm-18 5l18-5l-32 2l-19 2zm-19 3l19-3l-33-1l-19 11z"/>
<path class=j d="M1285 4752l19-15l-33 7l-18 10z"/>
<path class=i d="M1267 4768l18-16l-32 2l-19-1zm-19 0l19 0l-33-15l-18-2z"/>
<path class=j d="M1229 4765l19 3l-32-17l-19 5zm-18 6l18-6l-32-9l-19 1zm-19-1l19 1l-33-14l-18 3zm-18 3l18-3l-32-10l-19 20z"/>
<path class=h d="M1155 4801l19-28l-33 7l-19 19z"/>
<path class=g d="M1136 4825l19-24l-33-2l-18-1z"/>
<path class=h d="M1118 4813l18 12l-32-27l-19-9z"/>
<path class=j d="M1099 4794l19 19l-33-24l-19-4z"/>
<path class=i d="M1080 4800l19-6l-33-9l-18 2zm-18 5l18-5l-32-13l-19 6z"/>
<path class=j d="M1043 4804l19 1l-33-12l-19 22z"/>
<path class=i d="M1024 4822l19-18l-33 11l-18 17z"/>
<path class=g d="M1006 4845l18-23l-32 10l-19-4zm-19 2l19-2l-33-17l-18-5z"/>
<path class=h d="M969 4838l18 9l-32-24l-19 3zm-19-1l19 1l-33-12l-19-9z"/>
<path class=i d="M931 4830l19 7l-33-20l-18-10zm-18 2l18-2l-32-23l-19 21z"/>
<path class=g d="M894 4864l19-32l-33-4l-19 31z"/>
<path class=e d="M875 4894l19-30l-33-5l-18 4zm-18 1l18-1l-32-31l-19-5z"/>
<path class=f d="M838 4891l19 4l-33-37l-19 7z"/>
<path class=e d="M819 4901l19-10l-33-26l-18 7z"/>
<path class=f d="M801 4898l18 3l-32-29l-19 3z"/>
<path class=h d="M782 4878l19 20l-33-23l-19 13zm-19 4l19-4l-33 10l-18 11z"/>
<path class=g d="M745 4899l18-17l-32 17l-19-14zm-19-7l19 7l-33-14l-18-17z"/>
<path class=i d="M708 4875l18 17l-32-24l-19-2zm-19 1l19-1l-33-9l-19-4zm-19 2l19-2l-33-14l-18-5zm-18 6l18-6l-32-21l-19 17z"/>
<path class=h d="M633 4904l19-20l-33-10l-19 25z"/>
<path class=g d="M614 4923l19-19l-33-5l-18 5zm-18 2l18-2l-32-19l-19-3z"/>
<path class=h d="M577 4916l19 9l-33-24l-19-2zm-19-3l19 3l-33-17l-18-4z"/>
<path class=i d="M540 4911l18 2l-32-18l-19-4zm-19 3l19-3l-33-20l-18 12z"/>
<path class=h d="M502 4925l19-11l-32-11l-19 13z"/>
<path class=g d="M484 4938l18-13l-32-9l-19 15z"/>
<path class=l d="M1374 4727l19-16l-33 2l-19 16z"/>
<path class=k d="M1355 4737l19-10l-33 2l-18 5zm-18 4l18-4l-32-3l-19 3zm-19 4l19-4l-33-4l-19 15z"/>
<path class=j d="M1299 4765l19-20l-33 7l-18 16z"/>
<path class=i d="M1281 4784l18-19l-32 3l-19 0zm-19-2l19 2l-33-16l-19-3z"/>
<path class=j d="M1243 4781l19 1l-33-17l-18 6zm-18 5l18-5l-32-10l-19-1zm-19 2l19-2l-33-16l-18 3z"/>
<path class=i d="M1188 4798l18-10l-32-15l-19 28z"/>
<path class=h d="M1169 4825l19-27l-33 3l-19 24z"/>
<path class=g d="M1150 4838l19-13l-33 0l-18-12z"/>
<path class=h d="M1132 4822l18 16l-32-25l-19-19z"/>
<path class=i d="M1113 4810l19 12l-33-28l-19 6zm-19 3l19-3l-33-10l-18 5z"/>
<path class=j d="M1076 4811l18 2l-32-8l-19-1zm-19-3l19 3l-33-7l-19 18z"/>
<path class=i d="M1038 4835l19-27l-33 14l-18 23z"/>
<path class=f d="M1020 4869l18-34l-32 10l-19 2z"/>
<path class=g d="M1001 4866l19 3l-33-22l-18-9z"/>
<path class=h d="M982 4854l19 12l-32-28l-19-1zm-18 2l18-2l-32-17l-19-7zm-19-3l19 3l-33-26l-18 2zm-18 4l18-4l-32-21l-19 32z"/>
<path class=f d="M908 4889l19-32l-33 7l-19 30z"/>
<path class=d d="M889 4923l19-34l-33 5l-18 1zm-18-1l18 1l-32-28l-19-4z"/>
<path class=e d="M852 4913l19 9l-33-31l-19 10z"/>
<path class=f d="M833 4911l19 2l-33-12l-18-3z"/>
<path class=h d="M815 4888l18 23l-32-13l-19-20z"/>
<path class=j d="M796 4865l19 23l-33-10l-19 4z"/>
<path class=i d="M777 4882l19-17l-33 17l-18 17z"/>
<path class=g d="M759 4908l18-26l-32 17l-19-7z"/>
<path class=h d="M740 4903l19 5l-33-16l-18-17zm-19-8l19 8l-32-28l-19 1zm-18 8l18-8l-32-19l-19 2zm-19 6l19-6l-33-25l-18 6zm-18-1l18 1l-32-25l-19 20z"/>
<path class=g d="M647 4923l19-15l-33-4l-19 19z"/>
<path class=f d="M628 4945l19-22l-33 0l-18 2zm-18-3l18 3l-32-20l-19-9z"/>
<path class=h d="M591 4929l19 13l-33-26l-19-3zm-19 1l19-1l-33-16l-18-2zm-18 2l18-2l-32-19l-19 3zm-19 2l19-2l-33-18l-19 11zm-19 11l19-11l-33-9l-18 13z"/>
<path class=l d="M1407 4730l18-20l-32 1l-19 16zm-19 8l19-8l-33-3l-19 10zm-19 12l19-12l-33-1l-18 4zm-18 3l18-3l-32-9l-19 4zm-19 3l19-3l-33-8l-19 20z"/>
<path class=j d="M1313 4776l19-20l-33 9l-18 19z"/>
<path class=i d="M1295 4796l18-20l-32 8l-19-2zm-19 0l19 0l-33-14l-19-1z"/>
<path class=j d="M1257 4793l19 3l-33-15l-18 5z"/>
<path class=i d="M1239 4803l18-10l-32-7l-19 2zm-19 4l19-4l-33-15l-18 10zm-19 2l19-2l-32-9l-19 27z"/>
<path class=h d="M1183 4832l18-23l-32 16l-19 13z"/>
<path class=g d="M1164 4850l19-18l-33 6l-18-16z"/>
<path class=h d="M1146 4835l18 15l-32-28l-19-12z"/>
<path class=j d="M1127 4818l19 17l-33-25l-19 3zm-19 5l19-5l-33-5l-18-2zm-18-1l18 1l-32-12l-19-3zm-19 2l19-2l-33-14l-19 27z"/>
<path class=h d="M1052 4863l19-39l-33 11l-18 34z"/>
<path class=e d="M1034 4897l18-34l-32 6l-19-3z"/>
<path class=f d="M1015 4891l19 6l-33-31l-19-12z"/>
<path class=g d="M996 4874l19 17l-33-37l-18 2z"/>
<path class=h d="M978 4873l18 1l-32-18l-19-3zm-19 3l19-3l-33-20l-18 4zm-18 4l18-4l-32-19l-19 32z"/>
<path class=f d="M922 4912l19-32l-33 9l-19 34z"/>
<path class=d d="M903 4938l19-26l-33 11l-18-1z"/>
<path class=e d="M885 4928l18 10l-32-16l-19-9z"/>
<path class=g d="M866 4909l19 19l-33-15l-19-2zm-19-7l19 7l-33 2l-18-23z"/>
<path class=i d="M829 4887l18 15l-32-14l-19-23z"/>
<path class=j d="M810 4876l19 11l-33-22l-19 17z"/>
<path class=h d="M791 4901l19-25l-33 6l-18 26z"/>
<path class=f d="M773 4930l18-29l-32 7l-19-5z"/>
<path class=g d="M754 4930l19 0l-33-27l-19-8zm-19-7l19 7l-33-35l-18 8zm-18 6l18-6l-32-20l-19 6z"/>
<path class=h d="M698 4928l19 1l-33-20l-18-1zm-18-1l18 1l-32-20l-19 15z"/>
<path class=g d="M661 4949l19-22l-33-4l-19 22z"/>
<path class=f d="M642 4963l19-14l-33-4l-18-3z"/>
<path class=g d="M624 4951l18 12l-32-21l-19-13z"/>
<path class=h d="M605 4941l19 10l-33-22l-19 1zm-19 3l19-3l-33-11l-18 2zm-18 1l18-1l-32-12l-19 2zm-19 8l19-8l-33-11l-19 11z"/>
<path class=m d="M1439 4739l19-24l-33-5l-18 20z"/>
<path class=l d="M1421 4748l18-9l-32-9l-19 8zm-19 9l19-9l-33-10l-19 12z"/>
<path class=k d="M1383 4767l19-10l-33-7l-18 3z"/>
<path class=l d="M1365 4764l18 3l-32-14l-19 3zm-19 4l19-4l-33-8l-19 20z"/>
<path class=j d="M1327 4798l19-30l-33 8l-18 20z"/>
<path class=h d="M1309 4821l18-23l-32-2l-19 0z"/>
<path class=i d="M1290 4815l19 6l-33-25l-19-3z"/>
<path class=j d="M1271 4811l19 4l-33-22l-18 10zm-18 4l18-4l-32-8l-19 4zm-19-9l19 9l-33-8l-19 2z"/>
<path class=k d="M1215 4804l19 2l-33 3l-18 23z"/>
<path class=i d="M1197 4836l18-32l-32 28l-19 18z"/>
<path class=g d="M1178 4858l19-22l-33 14l-18-15z"/>
<path class=i d="M1160 4841l18 17l-32-23l-19-17z"/>
<path class=j d="M1141 4835l19 6l-33-23l-19 5z"/>
<path class=i d="M1122 4848l19-13l-33-12l-18-1zm-18 0l18 0l-32-26l-19 2zm-19 7l19-7l-33-24l-19 39z"/>
<path class=f d="M1066 4899l19-44l-33 8l-18 34z"/>
<path class=d d="M1048 4933l18-34l-32-2l-19-6z"/>
<path class=e d="M1029 4912l19 21l-33-42l-19-17z"/>
<path class=g d="M1010 4891l19 21l-33-38l-18-1zm-18 11l18-11l-32-18l-19 3zm-19-6l19 6l-33-26l-18 4z"/>
<path class=h d="M954 4889l19 7l-32-16l-19 32z"/>
<path class=f d="M936 4918l18-29l-32 23l-19 26z"/>
<path class=e d="M917 4941l19-23l-33 20l-18-10z"/>
<path class=g d="M899 4921l18 20l-32-13l-19-19z"/>
<path class=h d="M880 4905l19 16l-33-12l-19-7zm-19 3l19-3l-33-3l-18-15z"/>
<path class=i d="M843 4895l18 13l-32-21l-19-11z"/>
<path class=j d="M824 4893l19 2l-33-19l-19 25z"/>
<path class=g d="M805 4930l19-37l-33 8l-18 29z"/>
<path class=e d="M787 4962l18-32l-32 0l-19 0z"/>
<path class=f d="M768 4955l19 7l-33-32l-19-7z"/>
<path class=g d="M749 4946l19 9l-33-32l-18 6zm-18 4l18-4l-32-17l-19-1zm-19-3l19 3l-33-22l-18-1z"/>
<path class=h d="M694 4945l18 2l-32-20l-19 22z"/>
<path class=g d="M675 4958l19-13l-33 4l-19 14zm-19 6l19-6l-33 5l-18-12z"/>
<path class=h d="M638 4954l18 10l-32-13l-19-10zm-19-6l19 6l-33-13l-19 3zm-19 5l19-5l-33-4l-18 1zm-18 8l18-8l-32-8l-19 8z"/>
<path class=m d="M1472 4746l18-19l-32-12l-19 24z"/>
<path class=l d="M1453 4761l19-15l-33-7l-18 9zm-19 10l19-10l-32-13l-19 9z"/>
<path class=k d="M1416 4780l18-9l-32-14l-19 10zm-19 7l19-7l-33-13l-18-3zm-18-3l18 3l-32-23l-19 4zm-19 12l19-12l-33-16l-19 30z"/>
<path class=h d="M1341 4831l19-35l-33 2l-18 23zm-18 13l18-13l-32-10l-19-6z"/>
<path class=i d="M1304 4827l19 17l-33-29l-19-4z"/>
<path class=j d="M1285 4818l19 9l-33-16l-18 4z"/>
<path class=k d="M1267 4814l18 4l-32-3l-19-9z"/>
<path class=l d="M1248 4796l19 18l-33-8l-19-2zm-19 8l19-8l-33 8l-18 32z"/>
<path class=i d="M1211 4851l18-47l-32 32l-19 22z"/>
<path class=h d="M1192 4870l19-19l-33 7l-18-17z"/>
<path class=i d="M1174 4855l18 15l-32-29l-19-6zm-19 4l19-4l-33-20l-19 13z"/>
<path class=h d="M1136 4875l19-16l-33-11l-18 0z"/>
<path class=i d="M1118 4869l18 6l-32-27l-19 7z"/>
<path class=h d="M1099 4885l19-16l-33-14l-19 44z"/>
<path class=d d="M1080 4939l19-54l-33 14l-18 34z"/>
<path class=c d="M1062 4955l18-16l-32-6l-19-21z"/>
<path class=f d="M1043 4924l19 31l-33-43l-19-21z"/>
<path class=g d="M1024 4914l19 10l-33-33l-18 11zm-18-3l18 3l-32-12l-19-6z"/>
<path class=i d="M987 4887l19 24l-33-15l-19-7zm-19 2l19-2l-33 2l-18 29z"/>
<path class=f d="M950 4929l18-40l-32 29l-19 23zm-19 11l19-11l-33 12l-18-20z"/>
<path class=h d="M913 4920l18 20l-32-19l-19-16zm-19-4l19 4l-33-15l-19 3zm-19 0l19 0l-33-8l-18-13z"/>
<path class=i d="M857 4909l18 7l-32-21l-19-2zm-19 13l19-13l-33-16l-19 37z"/>
<path class=f d="M819 4965l19-43l-33 8l-18 32z"/>
<path class=d d="M801 4988l18-23l-32-3l-19-7z"/>
<path class=e d="M782 4976l19 12l-33-33l-19-9z"/>
<path class=f d="M763 4964l19 12l-33-30l-18 4z"/>
<path class=g d="M745 4959l18 5l-32-14l-19-3z"/>
<path class=h d="M726 4945l19 14l-33-12l-18-2z"/>
<path class=i d="M707 4942l19 3l-32 0l-19 13z"/>
<path class=h d="M689 4959l18-17l-32 16l-19 6z"/>
<path class=g d="M670 4967l19-8l-33 5l-18-10z"/>
<path class=h d="M652 4959l18 8l-32-13l-19-6z"/>
<path class=i d="M633 4959l19 0l-33-11l-19 5z"/>
<path class=h d="M614 4969l19-10l-33-6l-18 8z"/>
<path class=o d="M1504 4734l19-18l-33 11l-18 19z"/>
<path class=n d="M1486 4750l18-16l-32 12l-19 15z"/>
<path class=m d="M1467 4766l19-16l-33 11l-19 10z"/>
<path class=l d="M1448 4780l19-14l-33 5l-18 9z"/>
<path class=k d="M1430 4793l18-13l-32 0l-19 7zm-19 10l19-10l-33-6l-18-3zm-18-6l18 6l-32-19l-19 12z"/>
<path class=j d="M1374 4819l19-22l-33-1l-19 35z"/>
<path class=h d="M1355 4853l19-34l-33 12l-18 13zm-18-5l18 5l-32-9l-19-17z"/>
<path class=k d="M1318 4823l19 25l-33-21l-19-9zm-19-8l19 8l-33-5l-18-4z"/>
<path class=l d="M1281 4808l18 7l-32-1l-19-18z"/>
<path class=m d="M1262 4802l19 6l-33-12l-19 8z"/>
<path class=k d="M1243 4835l19-33l-33 2l-18 47z"/>
<path class=g d="M1225 4883l18-48l-32 16l-19 19zm-19 8l19-8l-33-13l-18-15z"/>
<path class=h d="M1187 4876l19 15l-32-36l-19 4zm-18 9l18-9l-32-17l-19 16zm-19 8l19-8l-33-10l-18-6zm-18-3l18 3l-32-24l-19 16z"/>
<path class=f d="M1113 4922l19-32l-33-5l-19 54z"/>
<path class=c d="M1094 4967l19-45l-33 17l-18 16z"/>
<path class=d d="M1076 4960l18 7l-32-12l-19-31z"/>
<path class=f d="M1057 4926l19 34l-33-36l-19-10z"/>
<path class=h d="M1038 4912l19 14l-33-12l-18-3z"/>
<path class=i d="M1020 4899l18 13l-32-1l-19-24z"/>
<path class=j d="M1001 4885l19 14l-33-12l-19 2z"/>
<path class=i d="M982 4906l19-21l-33 4l-18 40z"/>
<path class=g d="M964 4942l18-36l-32 23l-19 11z"/>
<path class=f d="M945 4951l19-9l-33-2l-18-20z"/>
<path class=g d="M926 4937l19 14l-32-31l-19-4z"/>
<path class=h d="M908 4930l18 7l-32-21l-19 0zm-19 3l19-3l-33-14l-18-7z"/>
<path class=i d="M871 4932l18 1l-32-24l-19 13z"/>
<path class=g d="M852 4954l19-22l-33-10l-19 43z"/>
<path class=d d="M833 4994l19-40l-33 11l-18 23zm-18 8l18-8l-32-6l-19-12z"/>
<path class=f d="M796 4976l19 26l-33-26l-19-12z"/>
<path class=h d="M777 4959l19 17l-33-12l-18-5z"/>
<path class=i d="M759 4951l18 8l-32 0l-19-14z"/>
<path class=j d="M740 4940l19 11l-33-6l-19-3zm-19 6l19-6l-33 2l-18 17z"/>
<path class=h d="M703 4969l18-23l-32 13l-19 8zm-19 7l19-7l-33-2l-18-8zm-18-4l18 4l-32-17l-19 0zm-19 3l19-3l-33-13l-19 10z"/>
<path class=t d="M1537 4675l19-35l-33 76l-19 18z"/>
<path class=q d="M1518 4708l19-33l-33 59l-18 16z"/>
<path class=o d="M1500 4740l18-32l-32 42l-19 16z"/>
<path class=n d="M1481 4768l19-28l-33 26l-19 14z"/>
<path class=l d="M1462 4793l19-25l-33 12l-18 13z"/>
<path class=k d="M1444 4811l18-18l-32 0l-19 10zm-19-3l19 3l-33-8l-18-6zm-19 4l19-4l-32-11l-19 22z"/>
<path class=j d="M1388 4839l18-27l-32 7l-19 34z"/>
<path class=i d="M1369 4856l19-17l-33 14l-18-5z"/>
<path class=j d="M1351 4836l18 20l-32-8l-19-25z"/>
<path class=l d="M1332 4815l19 21l-33-13l-19-8zm-19 3l19-3l-33 0l-18-7zm-18 8l18-8l-32-10l-19-6z"/>
<path class=k d="M1276 4835l19-9l-33-24l-19 33z"/>
<path class=i d="M1257 4877l19-42l-33 0l-18 48z"/>
<path class=f d="M1239 4921l18-44l-32 6l-19 8zm-19-4l19 4l-33-30l-19-15z"/>
<path class=h d="M1201 4901l19 16l-33-41l-18 9z"/>
<path class=g d="M1183 4908l18-7l-32-16l-19 8zm-19 4l19-4l-33-15l-18-3zm-18 6l18-6l-32-22l-19 32z"/>
<path class=e d="M1127 4949l19-31l-33 4l-19 45z"/>
<path class=d d="M1108 4971l19-22l-33 18l-18-7z"/>
<path class=f d="M1090 4947l18 24l-32-11l-19-34z"/>
<path class=i d="M1071 4911l19 36l-33-21l-19-14z"/>
<path class=j d="M1052 4900l19 11l-33 1l-18-13zm-18-7l18 7l-32-1l-19-14z"/>
<path class=k d="M1015 4894l19-1l-33-8l-19 21z"/>
<path class=h d="M996 4927l19-33l-33 12l-18 36z"/>
<path class=e d="M978 4973l18-46l-32 15l-19 9zm-19 1l19-1l-33-22l-19-14z"/>
<path class=h d="M940 4949l19 25l-33-37l-18-7zm-18 2l18-2l-32-19l-19 3z"/>
<path class=g d="M903 4957l19-6l-33-18l-18-1z"/>
<path class=h d="M885 4957l18 0l-32-25l-19 22z"/>
<path class=f d="M866 4980l19-23l-33-3l-19 40z"/>
<path class=e d="M847 5004l19-24l-33 14l-18 8z"/>
<path class=f d="M829 4989l18 15l-32-2l-19-26z"/>
<path class=h d="M810 4964l19 25l-33-13l-19-17z"/>
<path class=i d="M791 4959l19 5l-33-5l-18-8z"/>
<path class=j d="M773 4952l18 7l-32-8l-19-11z"/>
<path class=k d="M754 4944l19 8l-33-12l-19 6z"/>
<path class=i d="M735 4963l19-19l-33 2l-18 23z"/>
<path class=h d="M717 4987l18-24l-32 6l-19 7zm-19 1l19-1l-33-11l-18-4z"/>
<path class=i d="M679 4982l19 6l-32-16l-19 3z"/>
<path class=w d="M1570 4636l18-47l-32 51l-19 35z"/>
<path class=t d="M1551 4680l19-44l-33 39l-19 33z"/>
<path class=r d="M1532 4721l19-41l-33 28l-18 32z"/>
<path class=o d="M1514 4759l18-38l-32 19l-19 28z"/>
<path class=m d="M1495 4791l19-32l-33 9l-19 25z"/>
<path class=k d="M1476 4814l19-23l-33 2l-18 18zm-18 6l18-6l-32-3l-19-3z"/>
<path class=l d="M1439 4817l19 3l-33-12l-19 4zm-19 4l19-4l-33-5l-18 27z"/>
<path class=j d="M1402 4844l18-23l-32 18l-19 17zm-19 7l19-7l-33 12l-18-20z"/>
<path class=l d="M1365 4830l18 21l-32-15l-19-21zm-19-4l19 4l-33-15l-19 3z"/>
<path class=k d="M1327 4850l19-24l-33-8l-18 8zm-18 7l18-7l-32-24l-19 9z"/>
<path class=j d="M1290 4873l19-16l-33-22l-19 42z"/>
<path class=f d="M1271 4926l19-53l-33 4l-18 44z"/>
<path class=d d="M1253 4951l18-25l-32-5l-19-4z"/>
<path class=g d="M1234 4923l19 28l-33-34l-19-16z"/>
<path class=h d="M1215 4908l19 15l-33-22l-18 7z"/>
<path class=g d="M1197 4921l18-13l-32 0l-19 4z"/>
<path class=h d="M1178 4922l19-1l-33-9l-18 6zm-19 3l19-3l-32-4l-19 31z"/>
<path class=f d="M1141 4953l18-28l-32 24l-19 22zm-19 6l19-6l-33 18l-18-24z"/>
<path class=i d="M1104 4923l18 36l-32-12l-19-36z"/>
<path class=k d="M1085 4899l19 24l-33-12l-19-11zm-19 4l19-4l-33 1l-18-7zm-18 0l18 0l-32-10l-19 1z"/>
<path class=j d="M1029 4920l19-17l-33-9l-19 33z"/>
<path class=f d="M1010 4972l19-52l-33 7l-18 46z"/>
<path class=d d="M992 4999l18-27l-32 1l-19 1z"/>
<path class=f d="M973 4974l19 25l-33-25l-19-25z"/>
<path class=g d="M954 4964l19 10l-33-25l-18 2zm-18 11l18-11l-32-13l-19 6z"/>
<path class=h d="M917 4967l19 8l-33-18l-18 0zm-18-3l18 3l-32-10l-19 23z"/>
<path class=g d="M880 4988l19-24l-33 16l-19 24z"/>
<path class=f d="M861 4998l19-10l-33 16l-18-15z"/>
<path class=h d="M843 4975l18 23l-32-9l-19-25z"/>
<path class=i d="M824 4962l19 13l-33-11l-19-5z"/>
<path class=j d="M805 4962l19 0l-33-3l-18-7z"/>
<path class=k d="M787 4954l18 8l-32-10l-19-8z"/>
<path class=j d="M768 4960l19-6l-33-10l-19 19z"/>
<path class=i d="M749 4986l19-26l-33 3l-18 24z"/>
<path class=h d="M731 4999l18-13l-32 1l-19 1z"/>
<path class=i d="M712 4987l19 12l-33-11l-19-6z"/>
<path class=y d="M1602 4630l19-50l-33 9l-18 47z"/>
<path class=u d="M1584 4677l18-47l-32 6l-19 44z"/>
<path class=r d="M1565 4721l19-44l-33 3l-19 41z"/>
<path class=p d="M1546 4761l19-40l-33 0l-18 38z"/>
<path class=m d="M1528 4796l18-35l-32-2l-19 32z"/>
<path class=l d="M1509 4820l19-24l-33-5l-19 23zm-19 3l19-3l-33-6l-18 6zm-18-3l18 3l-32-3l-19-3z"/>
<path class=n d="M1453 4806l19 14l-33-3l-19 4z"/>
<path class=m d="M1434 4819l19-13l-33 15l-18 23z"/>
<path class=k d="M1416 4850l18-31l-32 25l-19 7zm-19-2l19 2l-33 1l-18-21z"/>
<path class=l d="M1379 4838l18 10l-32-18l-19-4z"/>
<path class=k d="M1360 4862l19-24l-33-12l-19 24z"/>
<path class=j d="M1341 4878l19-16l-33-12l-18 7zm-18 0l18 0l-32-21l-19 16z"/>
<path class=h d="M1304 4909l19-31l-33-5l-19 53z"/>
<path class=e d="M1285 4949l19-40l-33 17l-18 25z"/>
<path class=f d="M1267 4941l18 8l-32 2l-19-28z"/>
<path class=i d="M1248 4912l19 29l-33-18l-19-15zm-19-2l19 2l-33-4l-18 13zm-18-2l18 2l-32 11l-19 1z"/>
<path class=j d="M1192 4896l19 12l-33 14l-19 3z"/>
<path class=i d="M1173 4916l19-20l-33 29l-18 28z"/>
<path class=g d="M1155 4956l18-40l-32 37l-19 6zm-19-3l19 3l-33 3l-18-36z"/>
<path class=j d="M1118 4920l18 33l-32-30l-19-24zm-19-3l19 3l-33-21l-19 4zm-19 9l19-9l-33-14l-18 0zm-18 4l18-4l-32-23l-19 17z"/>
<path class=h d="M1043 4961l19-31l-33-10l-19 52z"/>
<path class=e d="M1024 5002l19-41l-33 11l-18 27zm-18-3l18 3l-32-3l-19-25z"/>
<path class=g d="M987 4980l19 19l-33-25l-19-10zm-19 2l19-2l-33-16l-18 11z"/>
<path class=h d="M950 4977l18 5l-32-7l-19-8z"/>
<path class=i d="M931 4962l19 15l-33-10l-18-3zm-19 9l19-9l-32 2l-19 24z"/>
<path class=h d="M894 4991l18-20l-32 17l-19 10z"/>
<path class=i d="M875 4979l19 12l-33 7l-18-23z"/>
<path class=j d="M857 4959l18 20l-32-4l-19-13z"/>
<path class=k d="M838 4961l19-2l-33 3l-19 0zm-19 1l19-1l-33 1l-18-8zm-18-1l18 1l-32-8l-19 6z"/>
<path class=j d="M782 4979l19-18l-33-1l-19 26z"/>
<path class=i d="M763 5002l19-23l-33 7l-18 13z"/>
<path class=j d="M745 4991l18 11l-32-3l-19-12z"/>
<path class=w d="M1635 4660l18-44l-32-36l-19 50z"/>
<path class=t d="M1616 4701l19-41l-33-30l-18 47z"/>
<path class=r d="M1598 4740l18-39l-32-24l-19 44z"/>
<path class=o d="M1579 4775l19-35l-33-19l-19 40z"/>
<path class=m d="M1560 4805l19-30l-33-14l-18 35z"/>
<path class=l d="M1542 4827l18-22l-32-9l-19 24z"/>
<path class=m d="M1523 4816l19 11l-33-7l-19 3z"/>
<path class=n d="M1504 4813l19 3l-33 7l-18-3z"/>
<path class=o d="M1486 4793l18 20l-32 7l-19-14z"/>
<path class=p d="M1467 4794l19-1l-33 13l-19 13z"/>
<path class=m d="M1448 4837l19-43l-33 25l-18 31z"/>
<path class=k d="M1430 4863l18-26l-32 13l-19-2z"/>
<path class=l d="M1411 4856l19 7l-33-15l-18-10z"/>
<path class=k d="M1392 4863l19-7l-32-18l-19 24z"/>
<path class=j d="M1374 4882l18-19l-32-1l-19 16z"/>
<path class=k d="M1355 4878l19 4l-33-4l-18 0zm-18 4l18-4l-32 0l-19 31z"/>
<path class=h d="M1318 4920l19-38l-33 27l-19 40z"/>
<path class=g d="M1299 4944l19-24l-33 29l-18-8z"/>
<path class=i d="M1281 4920l18 24l-32-3l-19-29z"/>
<path class=k d="M1262 4898l19 22l-33-8l-19-2z"/>
<path class=l d="M1243 4888l19 10l-33 12l-18-2z"/>
<path class=m d="M1225 4872l18 16l-32 20l-19-12z"/>
<path class=l d="M1206 4885l19-13l-33 24l-19 20z"/>
<path class=h d="M1187 4946l19-61l-33 31l-18 40z"/>
<path class=f d="M1169 4980l18-34l-32 10l-19-3z"/>
<path class=h d="M1150 4952l19 28l-33-27l-18-33z"/>
<path class=j d="M1131 4932l19 20l-32-32l-19-3z"/>
<path class=i d="M1113 4943l18-11l-32-15l-19 9z"/>
<path class=j d="M1094 4942l19 1l-33-17l-18 4zm-18 4l18-4l-32-12l-19 31z"/>
<path class=g d="M1057 4985l19-39l-33 15l-19 41z"/>
<path class=e d="M1038 5012l19-27l-33 17l-18-3z"/>
<path class=g d="M1020 4995l18 17l-32-13l-19-19z"/>
<path class=h d="M1001 4980l19 15l-33-15l-19 2zm-19 1l19-1l-33 2l-18-5z"/>
<path class=j d="M964 4968l18 13l-32-4l-19-15zm-19-8l19 8l-33-6l-19 9z"/>
<path class=i d="M926 4977l19-17l-33 11l-18 20zm-18 3l18-3l-32 14l-19-12z"/>
<path class=k d="M889 4959l19 21l-33-1l-18-20z"/>
<path class=l d="M871 4954l18 5l-32 0l-19 2z"/>
<path class=k d="M852 4964l19-10l-33 7l-19 1zm-19 4l19-4l-33-2l-18-1zm-18 11l18-11l-32-7l-19 18z"/>
<path class=i d="M796 5002l19-23l-33 0l-19 23z"/>
<path class=j d="M777 4994l19 8l-33 0l-18-11z"/>
<path class=w d="M1667 4679l19-39l-33-24l-18 44z"/>
<path class=t d="M1649 4715l18-36l-32-19l-19 41z"/>
<path class=r d="M1630 4749l19-34l-33-14l-18 39z"/>
<path class=p d="M1611 4780l19-31l-32-9l-19 35z"/>
<path class=n d="M1593 4807l18-27l-32-5l-19 30z"/>
<path class=m d="M1574 4826l19-19l-33-2l-18 22z"/>
<path class=n d="M1556 4808l18 18l-32 1l-19-11z"/>
<path class=o d="M1537 4804l19 4l-33 8l-19-3z"/>
<path class=p d="M1518 4791l19 13l-33 9l-18-20z"/>
<path class=q d="M1500 4784l18 7l-32 2l-19 1z"/>
<path class=n d="M1481 4826l19-42l-33 10l-19 43z"/>
<path class=k d="M1462 4875l19-49l-33 11l-18 26zm-18 0l18 0l-32-12l-19-7z"/>
<path class=l d="M1425 4862l19 13l-33-19l-19 7zm-19 9l19-9l-33 1l-18 19zm-18 1l18-1l-32 11l-19-4z"/>
<path class=m d="M1369 4862l19 10l-33 6l-18 4z"/>
<path class=k d="M1351 4889l18-27l-32 20l-19 38z"/>
<path class=h d="M1332 4931l19-42l-33 31l-19 24z"/>
<path class=i d="M1313 4923l19 8l-33 13l-18-24z"/>
<path class=l d="M1295 4895l18 28l-32-3l-19-22z"/>
<path class=m d="M1276 4882l19 13l-33 3l-19-10z"/>
<path class=n d="M1257 4871l19 11l-33 6l-18-16zm-18 6l18-6l-32 1l-19 13z"/>
<path class=j d="M1220 4928l19-51l-33 8l-19 61z"/>
<path class=g d="M1201 4979l19-51l-33 18l-18 34zm-18-5l18 5l-32 1l-19-28z"/>
<path class=j d="M1164 4947l19 27l-33-22l-19-20zm-19 2l19-2l-33-15l-18 11zm-18-2l18 2l-32-6l-19-1z"/>
<path class=k d="M1108 4934l19 13l-33-5l-18 4z"/>
<path class=j d="M1090 4958l18-24l-32 12l-19 39z"/>
<path class=g d="M1071 5005l19-47l-33 27l-19 27zm-19-2l19 2l-33 7l-18-17z"/>
<path class=i d="M1034 4973l18 30l-32-8l-19-15z"/>
<path class=j d="M1015 4968l19 5l-33 7l-19 1z"/>
<path class=k d="M996 4963l19 5l-33 13l-18-13z"/>
<path class=l d="M978 4952l18 11l-32 5l-19-8z"/>
<path class=k d="M959 4964l19-12l-33 8l-19 17z"/>
<path class=j d="M940 4982l19-18l-33 13l-18 3z"/>
<path class=k d="M922 4971l18 11l-32-2l-19-21z"/>
<path class=l d="M903 4957l19 14l-33-12l-18-5zm-19 7l19-7l-32-3l-19 10zm-18 8l18-8l-32 0l-19 4zm-19 5l19-5l-33-4l-18 11z"/>
<path class=k d="M829 4996l18-19l-32 2l-19 23zm-19-5l19 5l-33 6l-19-8z"/>
<path class=v d="M1700 4694l19-34l-33-20l-19 39z"/>
<path class=t d="M1681 4726l19-32l-33-15l-18 36z"/>
<path class=r d="M1663 4756l18-30l-32-11l-19 34z"/>
<path class=p d="M1644 4783l19-27l-33-7l-19 31z"/>
<path class=o d="M1625 4807l19-24l-33-3l-18 27z"/>
<path class=n d="M1607 4825l18-18l-32 0l-19 19z"/>
<path class=o d="M1588 4805l19 20l-33 1l-18-18z"/>
<path class=p d="M1570 4800l18 5l-32 3l-19-4z"/>
<path class=q d="M1551 4798l19 2l-33 4l-19-13zm-19-4l19 4l-33-7l-18-7z"/>
<path class=o d="M1514 4830l18-36l-32-10l-19 42z"/>
<path class=k d="M1495 4883l19-53l-33-4l-19 49zm-19 5l19-5l-33-8l-18 0z"/>
<path class=m d="M1458 4862l18 26l-32-13l-19-13zm-19 3l19-3l-33 0l-19 9zm-19 8l19-8l-33 6l-18 1z"/>
<path class=n d="M1402 4858l18 15l-32-1l-19-10zm-19 10l19-10l-33 4l-18 27z"/>
<path class=j d="M1364 4916l19-48l-32 21l-19 42zm-18 15l18-15l-32 15l-19-8z"/>
<path class=l d="M1327 4907l19 24l-33-8l-18-28z"/>
<path class=m d="M1309 4885l18 22l-32-12l-19-13z"/>
<path class=o d="M1290 4870l19 15l-33-3l-19-11z"/>
<path class=p d="M1271 4863l19 7l-33 1l-18 6z"/>
<path class=m d="M1253 4895l18-32l-32 14l-19 51z"/>
<path class=i d="M1234 4958l19-63l-33 33l-19 51z"/>
<path class=h d="M1215 4981l19-23l-33 21l-18-5z"/>
<path class=i d="M1197 4959l18 22l-32-7l-19-27z"/>
<path class=j d="M1178 4954l19 5l-33-12l-19 2zm-19 0l19 0l-33-5l-18-2z"/>
<path class=l d="M1141 4931l18 23l-32-7l-19-13zm-19 4l19-4l-33 3l-18 24z"/>
<path class=i d="M1104 4983l18-48l-32 23l-19 47z"/>
<path class=h d="M1085 4997l19-14l-33 22l-19-2z"/>
<path class=k d="M1066 4963l19 34l-33 6l-18-30z"/>
<path class=m d="M1048 4945l18 18l-32 10l-19-5zm-19 1l19-1l-33 23l-19-5z"/>
<path class=n d="M1010 4938l19 8l-33 17l-18-11z"/>
<path class=m d="M992 4949l18-11l-32 14l-19 12z"/>
<path class=k d="M973 4977l19-28l-33 15l-19 18zm-19 1l19-1l-33 5l-18-11z"/>
<path class=m d="M936 4962l18 16l-32-7l-19-14zm-19 1l19-1l-33-5l-19 7zm-19 5l19-5l-33 1l-18 8zm-18 0l18 0l-32 4l-19 5z"/>
<path class=l d="M861 4982l19-14l-33 9l-18 19zm-18 2l18-2l-32 14l-19-5z"/>
<path class=s d="M1733 4752l18-32l-32-60l-19 34z"/>
<path class=q d="M1714 4779l19-27l-33-58l-19 32z"/>
<path class=p d="M1695 4799l19-20l-33-53l-18 30zm-18 1l18-1l-32-43l-19 27z"/>
<path class=o d="M1658 4821l19-21l-33-17l-19 24z"/>
<path class=n d="M1639 4829l19-8l-33-14l-18 18z"/>
<path class=p d="M1621 4811l18 18l-32-4l-19-20z"/>
<path class=q d="M1602 4800l19 11l-33-6l-18-5zm-18 6l18-6l-32 0l-19-2z"/>
<path class=p d="M1565 4814l19-8l-33-8l-19-4z"/>
<path class=o d="M1546 4841l19-27l-33-20l-18 36z"/>
<path class=l d="M1528 4883l18-42l-32-11l-19 53zm-19 6l19-6l-33 0l-19 5z"/>
<path class=n d="M1490 4861l19 28l-33-1l-18-26z"/>
<path class=o d="M1472 4854l18 7l-32 1l-19 3z"/>
<path class=n d="M1453 4865l19-11l-33 11l-19 8z"/>
<path class=o d="M1434 4855l19 10l-33 8l-18-15zm-18 3l18-3l-32 3l-19 10z"/>
<path class=l d="M1397 4904l19-46l-33 10l-19 48z"/>
<path class=j d="M1378 4935l19-31l-33 12l-18 15z"/>
<path class=l d="M1360 4914l18 21l-32-4l-19-24z"/>
<path class=n d="M1341 4885l19 29l-33-7l-18-22z"/>
<path class=p d="M1323 4869l18 16l-32 0l-19-15z"/>
<path class=q d="M1304 4855l19 14l-33 1l-19-7z"/>
<path class=p d="M1285 4875l19-20l-33 8l-18 32z"/>
<path class=k d="M1267 4941l18-66l-32 20l-19 63z"/>
<path class=i d="M1248 4977l19-36l-33 17l-19 23z"/>
<path class=j d="M1229 4963l19 14l-33 4l-18-22z"/>
<path class=k d="M1211 4956l18 7l-32-4l-19-5zm-19-3l19 3l-33-2l-19 0z"/>
<path class=n d="M1173 4923l19 30l-33 1l-18-23z"/>
<path class=o d="M1155 4913l18 10l-32 8l-19 4z"/>
<path class=l d="M1136 4952l19-39l-33 22l-18 48z"/>
<path class=j d="M1117 4976l19-24l-32 31l-19 14z"/>
<path class=m d="M1099 4950l18 26l-32 21l-19-34z"/>
<path class=o d="M1080 4927l19 23l-33 13l-18-18zm-18 1l18-1l-32 18l-19 1zm-19-5l19 5l-33 18l-19-8zm-19 8l19-8l-33 15l-18 11z"/>
<path class=m d="M1006 4960l18-29l-32 18l-19 28zm-19 13l19-13l-33 17l-19 1z"/>
<path class=n d="M968 4962l19 11l-33 5l-18-16zm-18-5l18 5l-32 0l-19 1zm-19 3l19-3l-33 6l-19 5z"/>
<path class=o d="M912 4958l19 2l-33 8l-18 0z"/>
<path class=n d="M894 4966l18-8l-32 10l-19 14zm-19 8l19-8l-33 16l-18 2z"/>
<path class=s d="M1765 4759l19-66l-33 27l-18 32z"/>
<path class=p d="M1747 4806l18-47l-32-7l-19 27z"/>
<path class=q d="M1728 4797l19 9l-33-27l-19 20zm-19 0l19 0l-33 2l-18 1z"/>
<path class=o d="M1691 4820l18-23l-32 3l-19 21z"/>
<path class=n d="M1672 4838l19-18l-33 1l-19 8z"/>
<path class=p d="M1653 4825l19 13l-33-9l-18-18z"/>
<path class=q d="M1635 4807l18 18l-32-14l-19-11zm-19 4l19-4l-33-7l-18 6zm-19 11l19-11l-32-5l-19 8z"/>
<path class=p d="M1579 4839l18-17l-32-8l-19 27z"/>
<path class=n d="M1560 4869l19-30l-33 2l-18 42z"/>
<path class=m d="M1542 4883l18-14l-32 14l-19 6z"/>
<path class=o d="M1523 4860l19 23l-33 6l-19-28z"/>
<path class=p d="M1504 4843l19 17l-33 1l-18-7zm-18 7l18-7l-32 11l-19 11zm-19-2l19 2l-33 15l-19-10z"/>
<path class=q d="M1448 4849l19-1l-33 7l-18 3z"/>
<path class=n d="M1430 4886l18-37l-32 9l-19 46z"/>
<path class=l d="M1411 4916l19-30l-33 18l-19 31z"/>
<path class=m d="M1392 4902l19 14l-33 19l-18-21z"/>
<path class=o d="M1374 4881l18 21l-32 12l-19-29z"/>
<path class=p d="M1355 4880l19 1l-33 4l-18-16zm-19-8l19 8l-32-11l-19-14zm-18 7l18-7l-32-17l-19 20z"/>
<path class=l d="M1299 4933l19-54l-33-4l-18 66z"/>
<path class=j d="M1281 4972l18-39l-32 8l-19 36z"/>
<path class=k d="M1262 4962l19 10l-33 5l-19-14z"/>
<path class=l d="M1243 4950l19 12l-33 1l-18-7z"/>
<path class=m d="M1225 4942l18 8l-32 6l-19-3z"/>
<path class=o d="M1206 4909l19 33l-33 11l-19-30z"/>
<path class=q d="M1187 4893l19 16l-33 14l-18-10z"/>
<path class=o d="M1169 4924l18-31l-32 20l-19 39z"/>
<path class=m d="M1150 4951l19-27l-33 28l-19 24z"/>
<path class=o d="M1131 4934l19 17l-33 25l-18-26z"/>
<path class=p d="M1113 4915l18 19l-32 16l-19-23z"/>
<path class=q d="M1094 4915l19 0l-33 12l-18 1zm-18-5l18 5l-32 13l-19-5zm-19-1l19 1l-33 13l-19 8z"/>
<path class=p d="M1038 4936l19-27l-33 22l-18 29z"/>
<path class=n d="M1020 4962l18-26l-32 24l-19 13z"/>
<path class=o d="M1001 4958l19 4l-33 11l-19-11zm-19-7l19 7l-33 4l-18-5zm-18 4l18-4l-32 6l-19 3z"/>
<path class=p d="M945 4956l19-1l-33 5l-19-2z"/>
<path class=o d="M926 4964l19-8l-33 2l-18 8z"/>
<path class=n d="M908 4978l18-14l-32 2l-19 8z"/>
<path class=s d="M1798 4771l18-18l-32-60l-19 66z"/>
<path class=r d="M1779 4787l19-16l-33-12l-18 47z"/>
<path class=q d="M1761 4799l18-12l-32 19l-19-9z"/>
<path class=r d="M1742 4797l19 2l-33-2l-19 0z"/>
<path class=p d="M1723 4820l19-23l-33 0l-18 23z"/>
<path class=o d="M1705 4841l18-21l-32 0l-19 18z"/>
<path class=p d="M1686 4832l19 9l-33-3l-19-13z"/>
<path class=q d="M1667 4816l19 16l-33-7l-18-18zm-18 3l18-3l-32-9l-19 4zm-19 5l19-5l-33-8l-19 11zm-19 4l19-4l-33-2l-18 17z"/>
<path class=p d="M1593 4850l18-22l-32 11l-19 30z"/>
<path class=n d="M1574 4872l19-22l-33 19l-18 14z"/>
<path class=p d="M1556 4858l18 14l-32 11l-19-23z"/>
<path class=r d="M1537 4837l19 21l-33 2l-19-17zm-19 1l19-1l-33 6l-18 7zm-18 0l18 0l-32 12l-19-2zm-19 0l19 0l-33 10l-19 1z"/>
<path class=p d="M1462 4867l19-29l-33 11l-18 37z"/>
<path class=n d="M1444 4901l18-34l-32 19l-19 30z"/>
<path class=o d="M1425 4895l19 6l-33 15l-19-14z"/>
<path class=p d="M1406 4879l19 16l-33 7l-18-21zm-18 8l18-8l-32 2l-19-1zm-19 3l19-3l-33-7l-19-8zm-19-1l19 1l-33-18l-18 7z"/>
<path class=n d="M1332 4925l18-36l-32-10l-19 54z"/>
<path class=k d="M1313 4961l19-36l-33 8l-18 39z"/>
<path class=l d="M1295 4956l18 5l-32 11l-19-10z"/>
<path class=m d="M1276 4942l19 14l-33 6l-19-12z"/>
<path class=n d="M1257 4936l19 6l-33 8l-18-8z"/>
<path class=p d="M1239 4911l18 25l-32 6l-19-33z"/>
<path class=r d="M1220 4893l19 18l-33-2l-19-16z"/>
<path class=p d="M1201 4914l19-21l-33 0l-18 31z"/>
<path class=o d="M1183 4937l18-23l-32 10l-19 27z"/>
<path class=p d="M1164 4922l19 15l-33 14l-19-17z"/>
<path class=r d="M1145 4906l19 16l-33 12l-18-19zm-18 4l18-4l-32 9l-19 0zm-19-6l19 6l-33 5l-18-5z"/>
<path class=s d="M1089 4896l19 8l-32 6l-19-1z"/>
<path class=r d="M1071 4918l18-22l-32 13l-19 27z"/>
<path class=p d="M1052 4952l19-34l-33 18l-18 26zm-18 2l18-2l-32 10l-19-4z"/>
<path class=q d="M1015 4945l19 9l-33 4l-19-7z"/>
<path class=p d="M996 4952l19-7l-33 6l-18 4zm-18 7l18-7l-32 3l-19 1zm-19 10l19-10l-33-3l-19 8z"/>
<path class=o d="M940 4986l19-17l-33-5l-18 14z"/>
<path class=u d="M1830 4748l19-92l-33 97l-18 18z"/>
<path class=q d="M1812 4812l18-64l-32 23l-19 16zm-19-6l19 6l-33-25l-18 12z"/>
<path class=r d="M1775 4804l18 2l-32-7l-19-2z"/>
<path class=q d="M1756 4822l19-18l-33-7l-19 23z"/>
<path class=p d="M1737 4841l19-19l-33-2l-18 21zm-18-7l18 7l-32 0l-19-9z"/>
<path class=q d="M1700 4824l19 10l-33-2l-19-16zm-19 5l19-5l-33-8l-18 3z"/>
<path class=r d="M1663 4829l18 0l-32-10l-19 5zm-19-7l19 7l-33-5l-19 4z"/>
<path class=q d="M1625 4838l19-16l-33 6l-18 22z"/>
<path class=p d="M1607 4865l18-27l-32 12l-19 22zm-19-5l19 5l-33 7l-18-14z"/>
<path class=r d="M1569 4840l19 20l-32-2l-19-21zm-18-2l18 2l-32-3l-19 1z"/>
<path class=s d="M1532 4837l19 1l-33 0l-18 0zm-18-2l18 2l-32 1l-19 0z"/>
<path class=q d="M1495 4865l19-30l-33 3l-19 29z"/>
<path class=o d="M1476 4905l19-40l-33 2l-18 34zm-18-4l18 4l-32-4l-19-6z"/>
<path class=q d="M1439 4884l19 17l-33-6l-19-16z"/>
<path class=p d="M1420 4897l19-13l-33-5l-18 8z"/>
<path class=o d="M1402 4908l18-11l-32-10l-19 3z"/>
<path class=p d="M1383 4906l19 2l-33-18l-19-1z"/>
<path class=n d="M1364 4927l19-21l-33-17l-18 36z"/>
<path class=m d="M1346 4956l18-29l-32-2l-19 36zm-19-4l19 4l-33 5l-18-5z"/>
<path class=n d="M1309 4939l18 13l-32 4l-19-14z"/>
<path class=o d="M1290 4937l19 2l-33 3l-19-6z"/>
<path class=p d="M1271 4919l19 18l-33-1l-18-25z"/>
<path class=r d="M1253 4898l18 21l-32-8l-19-18z"/>
<path class=q d="M1234 4914l19-16l-33-5l-19 21z"/>
<path class=p d="M1215 4937l19-23l-33 0l-18 23z"/>
<path class=q d="M1197 4922l18 15l-32 0l-19-15z"/>
<path class=r d="M1178 4906l19 16l-33 0l-19-16zm-19 11l19-11l-33 0l-18 4zm-18 1l18-1l-32-7l-19-6z"/>
<path class=s d="M1122 4907l19 11l-33-14l-19-8z"/>
<path class=r d="M1103 4922l19-15l-33-11l-18 22z"/>
<path class=p d="M1085 4952l18-30l-32-4l-19 34zm-19 4l19-4l-33 0l-18 2z"/>
<path class=q d="M1048 4947l18 9l-32-2l-19-9zm-19 8l19-8l-33-2l-19 7z"/>
<path class=p d="M1010 4966l19-11l-33-3l-18 7zm-18 11l18-11l-32-7l-19 10z"/>
<path class=o d="M973 4998l19-21l-33-8l-19 17z"/>
<path class=t d="M1863 4781l19-22l-33-103l-19 92z"/>
<path class=r d="M1844 4800l19-19l-33-33l-18 64zm-18 14l18-14l-32 12l-19-6zm-19 1l19-1l-33-8l-18-2z"/>
<path class=q d="M1789 4834l18-19l-32-11l-19 18z"/>
<path class=p d="M1770 4850l19-16l-33-12l-19 19zm-19-5l19 5l-33-9l-18-7z"/>
<path class=q d="M1733 4837l18 8l-32-11l-19-10zm-19 4l19-4l-33-13l-19 5z"/>
<path class=r d="M1695 4835l19 6l-33-12l-18 0z"/>
<path class=s d="M1677 4823l18 12l-32-6l-19-7z"/>
<path class=r d="M1658 4838l19-15l-33-1l-19 16z"/>
<path class=q d="M1639 4864l19-26l-33 0l-18 27zm-18-1l18 1l-32 1l-19-5z"/>
<path class=r d="M1602 4847l19 16l-33-3l-19-20z"/>
<path class=s d="M1583 4847l19 0l-33-7l-18-2zm-18 0l18 0l-32-9l-19-1zm-19-1l19 1l-33-10l-18-2z"/>
<path class=q d="M1528 4877l18-31l-32-11l-19 30z"/>
<path class=n d="M1509 4918l19-41l-33-12l-19 40z"/>
<path class=o d="M1490 4918l19 0l-33-13l-18-4z"/>
<path class=p d="M1472 4905l18 13l-32-17l-19-17z"/>
<path class=o d="M1453 4920l19-15l-33-21l-19 13zm-19 9l19-9l-33-23l-18 11zm-18-7l18 7l-32-21l-19-2zm-19 14l19-14l-33-16l-19 21z"/>
<path class=m d="M1378 4962l19-26l-33-9l-18 29z"/>
<path class=n d="M1360 4957l18 5l-32-6l-19-4z"/>
<path class=o d="M1341 4939l19 18l-33-5l-18-13z"/>
<path class=p d="M1322 4936l19 3l-32 0l-19-2z"/>
<path class=q d="M1304 4923l18 13l-32 1l-19-18z"/>
<path class=s d="M1285 4902l19 21l-33-4l-18-21z"/>
<path class=r d="M1267 4916l18-14l-32-4l-19 16z"/>
<path class=p d="M1248 4944l19-28l-33-2l-19 23z"/>
<path class=q d="M1229 4936l19 8l-33-7l-18-15z"/>
<path class=r d="M1211 4921l18 15l-32-14l-19-16zm-19 11l19-11l-33-15l-19 11z"/>
<path class=q d="M1173 4940l19-8l-33-15l-18 1z"/>
<path class=r d="M1155 4934l18 6l-32-22l-19-11zm-19 9l19-9l-33-27l-19 15z"/>
<path class=p d="M1117 4965l19-22l-33-21l-18 30zm-18 3l18-3l-32-13l-19 4z"/>
<path class=q d="M1080 4961l19 7l-33-12l-18-9zm-19 7l19-7l-32-14l-19 8z"/>
<path class=p d="M1043 4979l18-11l-32-13l-19 11z"/>
<path class=o d="M1024 4992l19-13l-33-13l-18 11z"/>
<path class=n d="M1006 5015l18-23l-32-15l-19 21z"/>
<path class=u d="M1896 4772l18-31l-32 18l-19 22z"/>
<path class=s d="M1877 4799l19-27l-33 9l-19 19z"/>
<path class=r d="M1858 4818l19-19l-33 1l-18 14zm-18 5l18-5l-32-4l-19 1z"/>
<path class=q d="M1821 4844l19-21l-33-8l-18 19z"/>
<path class=p d="M1802 4861l19-17l-32-10l-19 16zm-18-6l18 6l-32-11l-19-5z"/>
<path class=q d="M1765 4847l19 8l-33-10l-18-8z"/>
<path class=r d="M1747 4848l18-1l-32-10l-19 4zm-19-7l19 7l-33-7l-19-6z"/>
<path class=s d="M1709 4833l19 8l-33-6l-18-12z"/>
<path class=r d="M1691 4850l18-17l-32-10l-19 15z"/>
<path class=q d="M1672 4869l19-19l-33-12l-19 26zm-19-4l19 4l-33-5l-18-1z"/>
<path class=s d="M1635 4854l18 11l-32-2l-19-16z"/>
<path class=r d="M1616 4860l19-6l-33-7l-19 0zm-19 5l19-5l-33-13l-18 0z"/>
<path class=s d="M1579 4865l18 0l-32-18l-19-1z"/>
<path class=q d="M1560 4891l19-26l-33-19l-18 31z"/>
<path class=n d="M1541 4929l19-38l-32-14l-19 41zm-18 3l18-3l-32-11l-19 0z"/>
<path class=o d="M1504 4923l19 9l-33-14l-18-13z"/>
<path class=n d="M1486 4937l18-14l-32-18l-19 15zm-19 6l19-6l-33-17l-19 9z"/>
<path class=o d="M1448 4933l19 10l-33-14l-18-7zm-18 12l18-12l-32-11l-19 14z"/>
<path class=m d="M1411 4967l19-22l-33-9l-19 26z"/>
<path class=n d="M1392 4960l19 7l-33-5l-18-5z"/>
<path class=p d="M1374 4943l18 17l-32-3l-19-18zm-19-3l19 3l-33-4l-19-3z"/>
<path class=q d="M1336 4933l19 7l-33-4l-18-13z"/>
<path class=r d="M1318 4920l18 13l-32-10l-19-21z"/>
<path class=q d="M1299 4934l19-14l-33-18l-18 14z"/>
<path class=p d="M1281 4961l18-27l-32-18l-19 28zm-19-1l19 1l-33-17l-19-8z"/>
<path class=q d="M1243 4946l19 14l-33-24l-18-15zm-18 4l18-4l-32-25l-19 11zm-19 6l19-6l-33-18l-19 8zm-19-1l19 1l-33-16l-18-6zm-18 10l18-10l-32-21l-19 9z"/>
<path class=p d="M1150 4982l19-17l-33-22l-19 22zm-19 1l19-1l-33-17l-18 3z"/>
<path class=q d="M1113 4977l18 6l-32-15l-19-7zm-19 5l19-5l-33-16l-19 7z"/>
<path class=p d="M1075 4990l19-8l-33-14l-18 11z"/>
<path class=o d="M1057 5003l18-13l-32-11l-19 13z"/>
<path class=n d="M1038 5024l19-21l-33-11l-18 23z"/>
<path class=s d="M1928 4810l19-10l-33-59l-18 31zm-18 9l18-9l-32-38l-19 27z"/>
<path class=r d="M1891 4826l19-7l-33-20l-19 19zm-19 5l19-5l-33-8l-18 5z"/>
<path class=q d="M1854 4850l18-19l-32-8l-19 21z"/>
<path class=p d="M1835 4869l19-19l-33-6l-19 17zm-19-4l19 4l-33-8l-18-6z"/>
<path class=q d="M1798 4856l18 9l-32-10l-19-8z"/>
<path class=r d="M1779 4855l19 1l-33-9l-18 1zm-18-5l18 5l-32-7l-19-7z"/>
<path class=s d="M1742 4850l19 0l-33-9l-19-8z"/>
<path class=r d="M1723 4867l19-17l-33-17l-18 17z"/>
<path class=q d="M1705 4882l18-15l-32-17l-19 19zm-19-5l19 5l-33-13l-19-4z"/>
<path class=r d="M1667 4870l19 7l-33-12l-18-11zm-18 7l18-7l-32-16l-19 6zm-19 4l19-4l-33-17l-19 5zm-19 0l19 0l-33-16l-18 0z"/>
<path class=q d="M1593 4903l18-22l-32-16l-19 26z"/>
<path class=o d="M1574 4936l19-33l-33-12l-19 38z"/>
<path class=n d="M1555 4941l19-5l-33-7l-18 3z"/>
<path class=o d="M1537 4935l18 6l-32-9l-19-9zm-19 11l19-11l-33-12l-18 14z"/>
<path class=n d="M1500 4953l18-7l-32-9l-19 6z"/>
<path class=o d="M1481 4947l19 6l-33-10l-19-10z"/>
<path class=n d="M1462 4958l19-11l-33-14l-18 12zm-18 16l18-16l-32-13l-19 22zm-19-7l19 7l-33-7l-19-7z"/>
<path class=p d="M1406 4953l19 14l-33-7l-18-17zm-18-3l18 3l-32-10l-19-3zm-19-2l19 2l-33-10l-19-7z"/>
<path class=q d="M1350 4946l19 2l-33-15l-18-13z"/>
<path class=p d="M1332 4961l18-15l-32-26l-19 14z"/>
<path class=o d="M1313 4982l19-21l-33-27l-18 27zm-19 1l19-1l-32-21l-19-1z"/>
<path class=p d="M1276 4973l18 10l-32-23l-19-14zm-19-3l19 3l-33-27l-18 4z"/>
<path class=q d="M1239 4970l18 0l-32-20l-19 6zm-19 1l19-1l-33-14l-19-1z"/>
<path class=p d="M1201 4983l19-12l-33-16l-18 10z"/>
<path class=o d="M1183 4998l18-15l-32-18l-19 17z"/>
<path class=p d="M1164 4998l19 0l-33-16l-19 1zm-19-6l19 6l-33-15l-18-6zm-18 3l18-3l-32-15l-19 5zm-19 8l19-8l-33-13l-19 8zm-19 9l19-9l-33-13l-18 13z"/>
<path class=o d="M1071 5028l18-16l-32-9l-19 21z"/>
<path class=s d="M1961 4824l19-8l-33-16l-19 10z"/>
<path class=r d="M1942 4832l19-8l-33-14l-18 9zm-18 7l18-7l-32-13l-19 7zm-19 5l19-5l-33-13l-19 5z"/>
<path class=q d="M1886 4857l19-13l-33-13l-18 19zm-18 14l18-14l-32-7l-19 19zm-19 0l19 0l-33-2l-19-4zm-19-5l19 5l-33-6l-18-9z"/>
<path class=r d="M1812 4864l18 2l-32-10l-19-1zm-19-2l19 2l-33-9l-18-5zm-19 2l19-2l-32-12l-19 0zm-18 15l18-15l-32-14l-19 17z"/>
<path class=q d="M1737 4892l19-13l-33-12l-18 15zm-18-1l18 1l-32-10l-19-5z"/>
<path class=r d="M1700 4888l19 3l-33-14l-19-7z"/>
<path class=q d="M1681 4894l19-6l-33-18l-18 7zm-18 3l18-3l-32-17l-19 4z"/>
<path class=r d="M1644 4899l19-2l-33-16l-19 0z"/>
<path class=q d="M1625 4915l19-16l-33-18l-18 22z"/>
<path class=o d="M1607 4941l18-26l-32-12l-19 33zm-19 8l19-8l-33-5l-19 5zm-19 1l19-1l-33-8l-18-6z"/>
<path class=n d="M1551 4959l18-9l-32-15l-19 11zm-19 6l19-6l-33-13l-18 7z"/>
<path class=o d="M1514 4964l18 1l-32-12l-19-6z"/>
<path class=n d="M1495 4975l19-11l-33-17l-19 11z"/>
<path class=m d="M1476 4985l19-10l-33-17l-18 16z"/>
<path class=n d="M1458 4979l18 6l-32-11l-19-7z"/>
<path class=o d="M1439 4968l19 11l-33-12l-19-14z"/>
<path class=p d="M1420 4965l19 3l-33-15l-18-3zm-18 0l18 0l-32-15l-19-2zm-19 6l19-6l-33-17l-19-2z"/>
<path class=o d="M1364 4985l19-14l-33-25l-18 15z"/>
<path class=n d="M1346 4999l18-14l-32-24l-19 21zm-19 1l19-1l-33-17l-19 1z"/>
<path class=o d="M1308 4994l19 6l-33-17l-18-10z"/>
<path class=p d="M1290 4991l18 3l-32-21l-19-3zm-19-2l19 2l-33-21l-18 0zm-18-1l18 1l-32-19l-19 1zm-19 10l19-10l-33-17l-19 12z"/>
<path class=o d="M1215 5010l19-12l-33-15l-18 15zm-18 0l18 0l-32-12l-19 0z"/>
<path class=p d="M1178 5006l19 4l-33-12l-19-6zm-19 4l19-4l-33-14l-18 3zm-18 7l18-7l-32-15l-19 8zm-19 6l19-6l-33-14l-19 9z"/>
<path class=o d="M1103 5032l19-9l-33-11l-18 16z"/>
<path class=r d="M1994 4843l18-10l-32-17l-19 8zm-19 5l19-5l-33-19l-19 8zm-19 6l19-6l-33-16l-18 7zm-18 4l18-4l-32-15l-19 5zm-19 4l19-4l-33-14l-19 13zm-19 4l19-4l-33-5l-18 14zm-18 4l18-4l-32 5l-19 0zm-19 3l19-3l-33 1l-19-5zm-19 2l19-2l-33-7l-18-2zm-18 3l18-3l-32-11l-19-2zm-19 2l19-2l-33-16l-19 2zm-19 5l19-5l-33-16l-18 15zm-18 6l18-6l-32-6l-19 13zm-19 5l19-5l-33 1l-18-1z"/>
<path class=q d="M1733 4902l18-6l-32-5l-19-3zm-19 5l19-5l-33-14l-19 6zm-19 6l19-6l-33-13l-18 3zm-18 6l18-6l-32-16l-19 2zm-19 7l19-7l-33-20l-19 16z"/>
<path class=p d="M1639 4939l19-13l-33-11l-18 26z"/>
<path class=o d="M1621 4953l18-14l-32 2l-19 8zm-19 11l19-11l-33-4l-19 1z"/>
<path class=n d="M1583 4970l19-6l-33-14l-18 9zm-18 7l18-7l-32-11l-19 6zm-19 6l19-6l-33-12l-18-1zm-19 4l19-4l-32-19l-19 11zm-18 0l18 0l-32-12l-19 10zm-19 0l19 0l-33-2l-18-6z"/>
<path class=o d="M1472 4987l18 0l-32-8l-19-11zm-19 0l19 0l-33-19l-19-3zm-19 1l19-1l-33-22l-18 0zm-18 5l18-5l-32-23l-19 6zm-19 4l19-4l-33-22l-19 14zm-19 4l19-4l-33-12l-18 14zm-18 2l18-2l-32-2l-19 1zm-19 2l19-2l-33-3l-19-6zm-19 1l19-1l-33-11l-18-3zm-18 2l18-2l-32-15l-19-2z"/>
<path class=p d="M1285 5010l19-2l-33-19l-18-1zm-19 2l19-2l-32-22l-19 10zm-18 2l18-2l-32-14l-19 12zm-19 3l19-3l-33-4l-18 0zm-18 3l18-3l-32-7l-19-4zm-19 4l19-4l-33-14l-19 4zm-19 3l19-3l-33-14l-18 7zm-18 4l18-4l-32-10l-19 6zm-19 3l19-3l-33-8l-19 9z"/>
</g>
<text class="tt" text-anchor="middle" x="146.4" y="538.7" textLength="17.8" lengthAdjust="spacingAndGlyphs">2010</text>
<text class="tt" text-anchor="middle" x="166.6" y="535.0" textLength="17.8" lengthAdjust="spacingAndGlyphs">2013</text>
<text class="tt" text-anchor="middle" x="186.7" y="531.3" textLength="17.8" lengthAdjust="spacingAndGlyphs">2016</text>
<text class="tt" text-anchor="middle" x="206.8" y="527.6" textLength="17.8" lengthAdjust="spacingAndGlyphs">2019</text>
<text class="tt" text-anchor="middle" x="107.0" y="541.8" textLength="4.6" lengthAdjust="spacingAndGlyphs">0</text>
<text class="tt" text-anchor="middle" x="74.4" y="531.3" textLength="9.2" lengthAdjust="spacingAndGlyphs">10</text>
<text class="tt" text-anchor="middle" x="41.8" y="520.8" textLength="9.2" lengthAdjust="spacingAndGlyphs">20</text>
<text class="tt" text-anchor="end" x="33.6" y="502.2" textLength="7.4" lengthAdjust="spacingAndGlyphs">-2</text>
<text class="tt" text-anchor="end" x="33.6" y="490.6" textLength="4.6" lengthAdjust="spacingAndGlyphs">0</text>
<text class="tt" text-anchor="end" x="33.6" y="479.1" textLength="4.6" lengthAdjust="spacingAndGlyphs">2</text>
<text class="tt" text-anchor="end" x="33.6" y="467.5" textLength="4.6" lengthAdjust="spacingAndGlyphs">4</text>
<text class="tt" text-anchor="end" x="33.6" y="456.0" textLength="4.6" lengthAdjust="spacingAndGlyphs">6</text>
<text class="hh" x="26.8" y="429.5" textLength="197.1" lengthAdjust="spacingAndGlyphs">NFC Loan Growth response to Investment Shock</text>
</g>
<g id="p4R">
<path class="gg" d="M362.94 526.32L287.94 502.12M287.94 502.12L287.94 448.72M383.05 522.60L308.05 498.40M308.05 498.40L308.05 445.00M403.16 518.89L328.16 494.69M328.16 494.69L328.16 441.29M423.27 515.17L348.27 490.97M348.27 490.97L348.27 437.57M342.50 530.10L441.50 511.80M441.50 511.80L441.50 458.40M309.89 519.58L408.89 501.28M408.89 501.28L408.89 447.88M277.28 509.06L376.28 490.76M376.28 490.76L376.28 437.36M267.50 500.66L366.50 482.36M366.50 482.36L441.50 506.56M267.50 476.82L366.50 458.52M366.50 458.52L441.50 482.72M267.50 452.98L366.50 434.68M366.50 434.68L441.50 458.88"/>
<path class="bb" d="M342.50 530.10L441.50 511.80M441.50 511.80L366.50 487.60M366.50 487.60L267.50 505.90M267.50 505.90L342.50 530.10M267.50 505.90L267.50 452.50M267.50 452.50L366.50 434.20M366.50 434.20L366.50 487.60M366.50 434.20L441.50 458.40M441.50 458.40L441.50 511.80M362.94 526.32L361.23 525.77M383.05 522.60L381.34 522.05M403.16 518.89L401.45 518.33M423.27 515.17L421.56 514.62M342.50 530.10L344.27 529.77M309.89 519.58L311.66 519.25M277.28 509.06L279.05 508.73M267.50 500.66L265.30 500.96M267.50 476.82L265.30 477.12M267.50 452.98L265.30 453.28"/>
<g class=sf transform="scale(.1)">
<path class=g d="M3539 4802l18-8l-33-1l-18 9z"/>
<path class=f d="M3521 4812l18-10l-33 0l-18 6zm-18 3l18-3l-33-4l-18-1z"/>
<path class=g d="M3485 4813l18 2l-33-8l-18 0zm-18 0l18 0l-33-6l-18 4zm-18 3l18-3l-33-2l-18 3zm-18 2l18-2l-33-2l-18 5zm-19 6l19-6l-33 1l-18 10z"/>
<path class=f d="M3394 4834l18-10l-32 5l-18 10zm-18 8l18-8l-32 5l-18 3zm-18 0l18 0l-32 0l-18-1z"/>
<path class=g d="M3340 4841l18 1l-32-1l-18 1zm-18 1l18-1l-32 1l-19 1zm-18 2l18-2l-33 1l-18 1zm-18 5l18-5l-33 0l-18 5z"/>
<path class=f d="M3268 4859l18-10l-33 0l-18 11zm-18 13l18-13l-33 1l-18 7z"/>
<path class=e d="M3232 4877l18-5l-33-5l-18 0z"/>
<path class=f d="M3214 4878l18-1l-33-10l-18 0zm-18 3l18-3l-33-11l-18 5z"/>
<path class=e d="M3178 4888l18-7l-33-9l-18 4zm-19 6l19-6l-33-12l-18 6zm-18 8l18-8l-32-12l-18 11z"/>
<path class=d d="M3123 4915l18-13l-32-9l-18 12zm-18 11l18-11l-32-10l-18 5zm-18 3l18-3l-32-16l-18 0zm-18-1l18 1l-32-19l-19 1zm-18 2l18-2l-33-17l-18 4zm-18 3l18-3l-33-15l-18 5zm-18 2l18-2l-33-13l-18 9zm-18 6l18-6l-33-6l-18 11zm-18 7l18-7l-33-1l-18 5zm-18 0l18 0l-33-3l-18-4z"/>
<path class=e d="M2943 4942l18 6l-33-7l-18-7zm-19-3l19 3l-33-8l-18-3zm-18 1l18-1l-32-8l-18-2zm-18 0l18 0l-32-11l-18 2zm-18 5l18-5l-32-9l-18 10zm-18 10l18-10l-32-4l-18 13z"/>
<path class=d d="M2834 4965l18-10l-32-1l-18 5z"/>
<path class=e d="M2816 4967l18-2l-32-6l-19 1zm-18 0l18 0l-33-7l-18 1zm-18 4l18-4l-33-6l-18 3zm-18 6l18-6l-33-7l-18 2z"/>
<path class=d d="M2744 4982l18-5l-33-11l-18 7zm-18 10l18-10l-33-9l-18 10z"/>
<path class=c d="M2708 5003l18-11l-33-9l-18 7z"/>
<path class=g d="M3572 4803l18-5l-33-4l-18 8zm-19 8l19-8l-33-1l-18 10zm-18 7l18-7l-32 1l-18 3zm-18 0l18 0l-32-3l-18-2zm-18-3l18 3l-32-5l-18 0z"/>
<path class=h d="M3481 4816l18-1l-32-2l-18 3zm-18 3l18-3l-32 0l-18 2zm-18 3l18-3l-32-1l-19 6z"/>
<path class=g d="M3427 4828l18-6l-33 2l-18 10zm-18 10l18-10l-33 6l-18 8zm-18 5l18-5l-33 4l-18 0zm-18-3l18 3l-33-1l-18-1z"/>
<path class=h d="M3355 4838l18 2l-33 1l-18 1zm-18 1l18-1l-33 4l-18 2zm-18 5l18-5l-33 5l-18 5z"/>
<path class=g d="M3300 4852l19-8l-33 5l-18 10zm-18 14l18-14l-32 7l-18 13z"/>
<path class=f d="M3264 4880l18-14l-32 6l-18 5zm-18 7l18-7l-32-3l-18 1zm-18 3l18-3l-32-9l-18 3z"/>
<path class=e d="M3210 4898l18-8l-32-9l-18 7zm-18 7l18-7l-32-10l-19 6zm-18 7l18-7l-33-11l-18 8z"/>
<path class=d d="M3156 4921l18-9l-33-10l-18 13zm-18 13l18-13l-33-6l-18 11z"/>
<path class=c d="M3120 4943l18-9l-33-8l-18 3z"/>
<path class=d d="M3102 4942l18 1l-33-14l-18-1zm-18-1l18 1l-33-14l-18 2zm-18 2l18-2l-33-11l-18 3zm-19 1l19-1l-33-10l-18 2zm-18 2l18-2l-32-9l-18 6zm-18 7l18-7l-32-5l-18 7zm-18 8l18-8l-32-5l-18 0zm-18 1l18-1l-32-13l-18-6zm-18-3l18 3l-32-20l-19-3z"/>
<path class=e d="M2939 4958l18 1l-33-20l-18 1zm-18 0l18 0l-33-18l-18 0zm-18 1l18-1l-33-18l-18 5zm-18 5l18-5l-33-14l-18 10z"/>
<path class=d d="M2867 4975l18-11l-33-9l-18 10zm-18 7l18-7l-33-10l-18 2zm-18 1l18-1l-33-15l-18 0zm-18 2l18-2l-33-16l-18 4zm-19 6l19-6l-33-14l-18 6zm-18 5l18-5l-32-14l-18 5zm-18 6l18-6l-32-14l-18 10zm-18 10l18-10l-32-10l-18 11z"/>
<path class=h d="M3604 4807l18-2l-32-7l-18 5zm-18 4l18-4l-32-4l-19 8z"/>
<path class=g d="M3568 4819l18-8l-33 0l-18 7zm-18 5l18-5l-33-1l-18 0z"/>
<path class=h d="M3532 4823l18 1l-33-6l-18-3zm-18-1l18 1l-33-8l-18 1zm-18 3l18-3l-33-6l-18 3zm-18 2l18-2l-33-6l-18 3zm-18 2l18-2l-33-5l-18 6zm-18 7l18-7l-33-1l-18 10zm-19 8l19-8l-33 2l-18 5zm-18 1l18-1l-32-1l-18-3zm-18-3l18 3l-32-5l-18-2zm-18 0l18 0l-32-4l-18 1zm-18 6l18-6l-32-3l-18 5zm-18 6l18-6l-32-4l-19 8z"/>
<path class=g d="M3315 4865l18-11l-33-2l-18 14zm-18 15l18-15l-33 1l-18 14z"/>
<path class=f d="M3279 4893l18-13l-33 0l-18 7zm-18 6l18-6l-33-6l-18 3zm-18 4l18-4l-33-9l-18 8z"/>
<path class=e d="M3225 4911l18-8l-33-5l-18 7zm-18 7l18-7l-33-6l-18 7zm-19 7l19-7l-33-6l-18 9z"/>
<path class=d d="M3170 4937l18-12l-32-4l-18 13zm-18 13l18-13l-32-3l-18 9zm-18 4l18-4l-32-7l-18-1zm-18-2l18 2l-32-12l-18-1zm-18 0l18 0l-32-11l-18 2zm-18 2l18-2l-32-9l-19 1zm-18 2l18-2l-33-10l-18 2zm-18 6l18-6l-33-10l-18 7zm-18 11l18-11l-33-9l-18 8z"/>
<path class=c d="M3008 4980l18-7l-33-12l-18 1z"/>
<path class=d d="M2990 4980l18 0l-33-18l-18-3zm-18-3l18 3l-33-21l-18-1zm-18 0l18 0l-33-19l-18 0z"/>
<path class=e d="M2935 4977l19 0l-33-19l-18 1zm-18 3l18-3l-32-18l-18 5z"/>
<path class=d d="M2899 4988l18-8l-32-16l-18 11zm-18 12l18-12l-32-13l-18 7zm-18 5l18-5l-32-18l-18 1zm-18-1l18 1l-32-22l-18 2zm-18 1l18-1l-32-19l-19 6zm-18 2l18-2l-33-14l-18 5zm-18 2l18-2l-33-11l-18 6zm-18 4l18-4l-33-7l-18 10z"/>
<path class=h d="M3637 4817l18-1l-33-11l-18 2zm-18 2l18-2l-33-10l-18 4zm-18 7l18-7l-33-8l-18 8z"/>
<path class=g d="M3583 4836l18-10l-33-7l-18 5zm-19 5l19-5l-33-12l-18-1zm-18-1l18 1l-32-18l-18-1z"/>
<path class=h d="M3528 4839l18 1l-32-18l-18 3zm-18 1l18-1l-32-14l-18 2zm-18-1l18 1l-32-13l-18 2zm-18 3l18-3l-32-10l-18 7zm-18 10l18-10l-32-6l-19 8z"/>
<path class=g d="M3438 4861l18-9l-33-8l-18 1zm-18 1l18-1l-33-16l-18-3z"/>
<path class=h d="M3402 4862l18 0l-33-20l-18 0z"/>
<path class=g d="M3384 4868l18-6l-33-20l-18 6zm-18 6l18-6l-33-20l-18 6zm-18 5l18-5l-33-20l-18 11zm-18 11l18-11l-33-14l-18 15z"/>
<path class=f d="M3311 4903l19-13l-33-10l-18 13zm-18 8l18-8l-32-10l-18 6zm-18 3l18-3l-32-12l-18 4zm-18 6l18-6l-32-11l-18 8z"/>
<path class=e d="M3239 4928l18-8l-32-9l-18 7zm-18 7l18-7l-32-10l-19 7zm-18 9l18-9l-33-10l-18 12z"/>
<path class=d d="M3185 4958l18-14l-33-7l-18 13z"/>
<path class=c d="M3167 4967l18-9l-33-8l-18 4z"/>
<path class=d d="M3149 4969l18-2l-33-13l-18-2zm-18-2l18 2l-33-17l-18 0zm-18 1l18-1l-33-15l-18 2zm-18 2l18-2l-33-14l-18 2zm-18 3l18-3l-33-14l-18 6zm-19 7l19-7l-33-11l-18 11z"/>
<path class=c d="M3040 4990l18-10l-32-7l-18 7zm-18 5l18-5l-32-10l-18 0z"/>
<path class=d d="M3004 4993l18 2l-32-15l-18-3zm-18-1l18 1l-32-16l-18 0zm-18 2l18-2l-32-15l-19 0zm-18 1l18-1l-33-17l-18 3zm-18 3l18-3l-33-15l-18 8zm-18 10l18-10l-33-10l-18 12z"/>
<path class=c d="M2896 5017l18-9l-33-8l-18 5z"/>
<path class=d d="M2878 5017l18 0l-33-12l-18-1zm-18-3l18 3l-33-13l-18 1zm-18-1l18 1l-33-9l-18 2z"/>
<path class=e d="M2824 5013l18 0l-33-6l-18 2zm-19 1l19-1l-33-4l-18 4z"/>
<path class=g d="M3669 4836l18-2l-32-18l-18 1zm-18 2l18-2l-32-19l-18 2zm-18 3l18-3l-32-19l-18 7zm-18 10l18-10l-32-15l-18 10z"/>
<path class=f d="M3597 4860l18-9l-32-15l-19 5z"/>
<path class=g d="M3579 4861l18-1l-33-19l-18-1zm-18-3l18 3l-33-21l-18-1zm-18-1l18 1l-33-19l-18 1z"/>
<path class=h d="M3525 4857l18 0l-33-17l-18-1zm-18 3l18-3l-33-18l-18 3z"/>
<path class=g d="M3489 4869l18-9l-33-18l-18 10zm-18 14l18-14l-33-17l-18 9z"/>
<path class=f d="M3453 4891l18-8l-33-22l-18 1zm-19 1l19-1l-33-29l-18 0zm-18 3l18-3l-32-30l-18 6zm-18 4l18-4l-32-27l-18 6zm-18 3l18-3l-32-25l-18 5zm-18 4l18-4l-32-23l-18 11zm-18 11l18-11l-32-16l-19 13z"/>
<path class=e d="M3326 4928l18-11l-33-14l-18 8zm-18 5l18-5l-33-17l-18 3zm-18 3l18-3l-33-19l-18 6zm-18 7l18-7l-33-16l-18 8zm-18 6l18-6l-33-15l-18 7zm-18 6l18-6l-33-14l-18 9z"/>
<path class=d d="M3218 4965l18-10l-33-11l-18 14zm-19 11l19-11l-33-7l-18 9z"/>
<path class=c d="M3181 4984l18-8l-32-9l-18 2zm-18 0l18 0l-32-15l-18-2z"/>
<path class=d d="M3145 4985l18-1l-32-17l-18 1zm-18 2l18-2l-32-17l-18 2zm-18 1l18-1l-32-17l-18 3zm-18 1l18-1l-32-15l-19 7zm-18 8l18-8l-33-9l-18 10z"/>
<path class=c d="M3055 5005l18-8l-33-7l-18 5z"/>
<path class=d d="M3037 5007l18-2l-33-10l-18-2zm-18-2l18 2l-33-14l-18-1zm-18 0l18 0l-33-13l-18 2zm-18 0l18 0l-33-11l-18 1z"/>
<path class=e d="M2965 5005l18 0l-33-10l-18 3z"/>
<path class=d d="M2946 5011l19-6l-33-7l-18 10zm-18 9l18-9l-32-3l-18 9zm-18 5l18-5l-32-3l-18 0zm-18-2l18 2l-32-8l-18-3z"/>
<path class=e d="M2874 5020l18 3l-32-9l-18-1zm-18 1l18-1l-32-7l-18 0zm-18 2l18-2l-32-8l-19 1z"/>
<path class=f d="M3702 4863l18-2l-33-27l-18 2zm-18 1l18-1l-33-27l-18 2zm-18 0l18 0l-33-26l-18 3zm-18 4l18-4l-33-23l-18 10zm-18 8l18-8l-33-17l-18 9zm-18 5l18-5l-33-16l-18 1zm-18-2l18 2l-33-20l-18-3z"/>
<path class=g d="M3575 4878l19 1l-33-21l-18-1zm-18 3l18-3l-32-21l-18 0zm-18 4l18-4l-32-24l-18 3z"/>
<path class=f d="M3521 4891l18-6l-32-25l-18 9zm-18 13l18-13l-32-22l-18 14z"/>
<path class=e d="M3485 4917l18-13l-32-21l-18 8zm-18 4l18-4l-32-26l-19 1zm-18 0l18 0l-33-29l-18 3zm-18 1l18-1l-33-26l-18 4z"/>
<path class=f d="M3413 4924l18-2l-33-23l-18 3zm-18 3l18-3l-33-22l-18 4z"/>
<path class=e d="M3377 4934l18-7l-33-21l-18 11zm-18 11l18-11l-33-17l-18 11zm-18 7l18-7l-33-17l-18 5zm-19 2l19-2l-33-19l-18 3zm-18 2l18-2l-32-18l-18 7zm-18 4l18-4l-32-13l-18 6zm-18 4l18-4l-32-11l-18 6zm-18 5l18-5l-32-9l-18 10z"/>
<path class=d d="M3232 4977l18-8l-32-4l-19 11zm-18 11l18-11l-33-1l-18 8zm-18 4l18-4l-33-4l-18 0zm-18 1l18-1l-33-8l-18 1zm-18 2l18-2l-33-8l-18 2zm-18 3l18-3l-33-8l-18 1zm-18 0l18 0l-33-10l-18 1zm-18 4l18-4l-33-9l-18 8zm-18 9l18-9l-33-5l-18 8zm-19 5l19-5l-33-6l-18 2zm-18-2l18 2l-32-9l-18-2zm-18-2l18 2l-32-9l-18 0z"/>
<path class=e d="M3015 5012l18 0l-32-7l-18 0zm-18 0l18 0l-32-7l-18 0zm-18 2l18-2l-32-7l-19 6zm-18 9l18-9l-33-3l-18 9z"/>
<path class=d d="M2943 5033l18-10l-33-3l-18 5zm-18 3l18-3l-33-8l-18-2zm-18-2l18 2l-33-13l-18-3z"/>
<path class=e d="M2889 5035l18-1l-33-14l-18 1zm-18 3l18-3l-33-14l-18 2z"/>
<path class=e d="M3735 4888l18 0l-33-27l-18 2zm-18 3l18-3l-33-25l-18 1zm-19 0l19 0l-33-27l-18 0z"/>
<path class=f d="M3680 4891l18 0l-32-27l-18 4z"/>
<path class=e d="M3662 4896l18-5l-32-23l-18 8zm-18 7l18-7l-32-20l-18 5zm-18 1l18-1l-32-22l-18-2z"/>
<path class=f d="M3608 4903l18 1l-32-25l-19-1zm-18 2l18-2l-33-25l-18 3zm-18 4l18-4l-33-24l-18 4zm-18 4l18-4l-33-24l-18 6z"/>
<path class=e d="M3536 4921l18-8l-33-22l-18 13zm-18 13l18-13l-33-17l-18 13z"/>
<path class=d d="M3500 4941l18-7l-33-17l-18 4z"/>
<path class=e d="M3482 4941l18 0l-33-20l-18 0zm-18-1l18 1l-33-20l-18 1zm-19 3l19-3l-33-18l-18 2zm-18 3l18-3l-32-19l-18 3zm-18 4l18-4l-32-19l-18 7zm-18 8l18-8l-32-16l-18 11z"/>
<path class=d d="M3373 4967l18-9l-32-13l-18 7zm-18 3l18-3l-32-15l-19 2z"/>
<path class=e d="M3337 4969l18 1l-33-16l-18 2zm-18 3l18-3l-33-13l-18 4zm-18 4l18-4l-33-12l-18 4zm-18 2l18-2l-33-12l-18 5zm-18 3l18-3l-33-9l-18 8z"/>
<path class=d d="M3247 4989l18-8l-33-4l-18 11zm-18 7l18-7l-33-1l-18 4zm-19 1l19-1l-33-4l-18 1zm-18 1l18-1l-32-4l-18 2zm-18 4l18-4l-32-3l-18 3zm-18 2l18-2l-32-4l-18 0z"/>
<path class=e d="M3138 5006l18-2l-32-6l-18 4z"/>
<path class=d d="M3120 5014l18-8l-32-4l-18 9zm-18 9l18-9l-32-3l-19 5zm-18 3l18-3l-33-7l-18-2zm-18-4l18 4l-33-12l-18-2z"/>
<path class=e d="M3048 5021l18 1l-33-10l-18 0zm-18 1l18-1l-33-9l-18 0zm-18 2l18-2l-33-10l-18 2zm-18 5l18-5l-33-10l-18 9z"/>
<path class=d d="M2976 5039l18-10l-33-6l-18 10zm-19 9l19-9l-33-6l-18 3zm-18 2l18-2l-32-12l-18-2zm-18 0l18 0l-32-16l-18 1zm-18 4l18-4l-32-15l-18 3z"/>
<path class=d d="M3767 4911l18-1l-32-22l-18 0zm-18 3l18-3l-32-23l-18 3zm-18 3l18-3l-32-23l-19 0z"/>
<path class=e d="M3713 4916l18 1l-33-26l-18 0zm-18 2l18-2l-33-25l-18 5zm-18 6l18-6l-33-22l-18 7zm-18 3l18-3l-33-21l-18 1zm-18-3l18 3l-33-23l-18-1zm-18-2l18 2l-33-21l-18 2zm-18 3l18-3l-33-17l-18 4zm-19 3l19-3l-33-16l-18 4zm-18 4l18-4l-32-15l-18 8zm-18 9l18-9l-32-11l-18 13z"/>
<path class=d d="M3532 4951l18-10l-32-7l-18 7z"/>
<path class=e d="M3514 4954l18-3l-32-10l-18 0zm-18-1l18 1l-32-13l-18-1zm-18 2l18-2l-32-13l-19 3zm-18 5l18-5l-33-12l-18 3zm-18 3l18-3l-33-14l-18 4zm-18 5l18-5l-33-13l-18 8z"/>
<path class=d d="M3406 4978l18-10l-33-10l-18 9zm-18 7l18-7l-33-11l-18 3zm-18 2l18-2l-33-15l-18-1zm-18 1l18-1l-33-18l-18 3zm-19 4l19-4l-33-16l-18 4zm-18 2l18-2l-32-16l-18 2z"/>
<path class=e d="M3297 4994l18 0l-32-16l-18 3z"/>
<path class=d d="M3279 4998l18-4l-32-13l-18 8zm-18 7l18-7l-32-9l-18 7zm-18 3l18-3l-32-9l-19 1zm-18 0l18 0l-33-11l-18 1z"/>
<path class=e d="M3207 5011l18-3l-33-10l-18 4z"/>
<path class=d d="M3189 5015l18-4l-33-9l-18 2z"/>
<path class=e d="M3171 5017l18-2l-33-11l-18 2z"/>
<path class=d d="M3153 5023l18-6l-33-11l-18 8zm-18 9l18-9l-33-9l-18 9zm-18 7l18-7l-33-9l-18 3zm-18-1l18 1l-33-13l-18-4zm-19-3l19 3l-33-16l-18-1z"/>
<path class=e d="M3062 5035l18 0l-32-14l-18 1zm-18 2l18-2l-32-13l-18 2zm-18 2l18-2l-32-13l-18 5zm-18 9l18-9l-32-10l-18 10z"/>
<path class=d d="M2990 5059l18-11l-32-9l-19 9zm-18 5l18-5l-33-11l-18 2zm-18 1l18-1l-33-14l-18 0zm-18 2l18-2l-33-15l-18 4z"/>
<path class=d d="M3800 4925l18-2l-33-13l-18 1zm-18 1l18-1l-33-14l-18 3zm-18 4l18-4l-33-12l-18 3zm-18 1l18-1l-33-13l-18-1zm-18 1l18-1l-33-15l-18 2zm-19 4l19-4l-33-14l-18 6zm-18 5l18-5l-32-12l-18 3z"/>
<path class=e d="M3673 4941l18 0l-32-14l-18-3zm-18-3l18 3l-32-17l-18-2zm-18 0l18 0l-32-16l-18 3zm-18 2l18-2l-32-13l-19 3zm-18 2l18-2l-33-12l-18 4zm-18 5l18-5l-33-10l-18 9zm-18 10l18-10l-33-6l-18 10zm-18 7l18-7l-33-6l-18 3zm-18 2l18-2l-33-10l-18-1zm-18 1l18-1l-33-13l-18 2zm-18 4l18-4l-33-12l-18 5zm-18 3l18-3l-33-11l-18 3zm-19 2l19-2l-33-11l-18 5z"/>
<path class=d d="M3438 4985l18-9l-32-8l-18 10zm-18 13l18-13l-32-7l-18 7zm-18 7l18-7l-32-13l-18 2zm-18 1l18-1l-32-18l-18 1zm-18 2l18-2l-32-18l-19 4zm-18 2l18-2l-33-16l-18 2zm-18-1l18 1l-33-16l-18 0zm-18 2l18-2l-33-15l-18 4zm-18 7l18-7l-33-13l-18 7zm-18 6l18-6l-33-13l-18 3zm-18 2l18-2l-33-16l-18 0zm-18 1l18-1l-33-18l-18 3zm-19 3l19-3l-33-16l-18 4zm-18 3l18-3l-32-15l-18 2zm-18 2l18-2l-32-16l-18 6zm-18 7l18-7l-32-12l-18 9zm-18 9l18-9l-32-10l-18 7zm-18 2l18-2l-32-12l-18-1zm-18-4l18 4l-32-15l-19-3zm-18 0l18 0l-33-14l-18 0zm-18 2l18-2l-33-14l-18 2z"/>
<path class=e d="M3059 5054l18-3l-33-14l-18 2z"/>
<path class=d d="M3041 5059l18-5l-33-15l-18 9zm-18 9l18-9l-33-11l-18 11zm-18 8l18-8l-33-9l-18 5zm-18 1l18-1l-33-12l-18 1zm-19-1l19 1l-33-12l-18 2z"/>
<path class=e d="M3832 4928l19-4l-33-1l-18 2zm-18 0l18 0l-32-3l-18 1zm-18 2l18-2l-32-2l-18 4zm-18 2l18-2l-32 0l-18 1zm-18 1l18-1l-32-1l-18 1zm-18 4l18-4l-32-1l-19 4zm-18 8l18-8l-33-1l-18 5zm-18 5l18-5l-33-4l-18 0zm-18 0l18 0l-33-9l-18-3zm-18-2l18 2l-33-12l-18 0zm-18 1l18-1l-33-10l-18 2zm-18 2l18-2l-33-9l-18 2z"/>
<path class=f d="M3616 4953l18-2l-33-9l-18 5z"/>
<path class=e d="M3597 4961l19-8l-33-6l-18 10zm-18 11l18-11l-32-4l-18 7zm-18 6l18-6l-32-8l-18 2zm-18 1l18-1l-32-12l-18 1zm-18 3l18-3l-32-12l-18 4zm-18 2l18-2l-32-11l-18 3zm-18 2l18-2l-32-10l-19 2zm-18 6l18-6l-33-10l-18 9z"/>
<path class=d d="M3453 5004l18-12l-33-7l-18 13zm-18 11l18-11l-33-6l-18 7zm-18 2l18-2l-33-10l-18 1zm-18-1l18 1l-33-11l-18 2zm-18 2l18-2l-33-8l-18 2zm-18 0l18 0l-33-8l-18-1zm-19 1l19-1l-33-9l-18 2zm-18 7l18-7l-32-8l-18 7zm-18 10l18-10l-32-8l-18 6zm-18 4l18-4l-32-12l-18 2zm-18 1l18-1l-32-14l-18 1zm-18 1l18-1l-32-14l-19 3zm-18 2l18-2l-33-12l-18 3zm-18 1l18-1l-33-11l-18 2zm-18 4l18-4l-33-10l-18 7zm-18 9l18-9l-33-7l-18 9zm-18 6l18-6l-33-7l-18 2zm-18-1l18 1l-33-11l-18-4zm-18-1l18 1l-33-14l-18 0zm-18 2l18-2l-33-13l-18 2zm-19 2l19-2l-33-13l-18 3z"/>
<path class=e d="M3073 5068l18-2l-32-12l-18 5z"/>
<path class=d d="M3055 5075l18-7l-32-9l-18 9zm-18 8l18-8l-32-7l-18 8zm-18 2l18-2l-32-7l-18 1zm-18-2l18 2l-32-8l-19-1z"/>
<path class=e d="M3865 4931l18-6l-32-1l-19 4zm-18-1l18 1l-33-3l-18 0z"/>
<path class=f d="M3829 4930l18 0l-33-2l-18 2zm-18 1l18-1l-33 0l-18 2zm-18 0l18 0l-33 1l-18 1zm-18 3l18-3l-33 2l-18 4zm-18 9l18-9l-33 3l-18 8z"/>
<path class=e d="M3739 4953l18-10l-33 2l-18 5zm-19 4l19-4l-33-3l-18 0z"/>
<path class=f d="M3702 4954l18 3l-32-7l-18-2zm-18 1l18-1l-32-6l-18 1zm-18 3l18-3l-32-6l-18 2zm-18 2l18-2l-32-7l-18 2zm-18 6l18-6l-32-7l-19 8z"/>
<path class=e d="M3612 4979l18-13l-33-5l-18 11zm-18 9l18-9l-33-7l-18 6zm-18 2l18-2l-33-10l-18 1zm-18 1l18-1l-33-11l-18 3zm-18 3l18-3l-33-9l-18 2zm-18 1l18-1l-33-10l-18 2zm-18 2l18-2l-33-9l-18 6zm-18 9l18-9l-33-5l-18 12z"/>
<path class=d d="M3467 5017l19-11l-33-2l-18 11zm-18 3l18-3l-32-2l-18 2zm-18-1l18 1l-32-3l-18-1z"/>
<path class=e d="M3413 5020l18-1l-32-3l-18 2zm-18 2l18-2l-32-2l-18 0zm-18 0l18 0l-32-4l-19 1zm-18 7l18-7l-33-3l-18 7z"/>
<path class=d d="M3341 5040l18-11l-33-3l-18 10zm-18 10l18-10l-33-4l-18 4zm-18 2l18-2l-33-10l-18 1zm-18 0l18 0l-33-11l-18 1zm-18 3l18-3l-33-10l-18 2zm-18 1l18-1l-33-11l-18 1zm-19 2l19-2l-33-11l-18 4zm-18 9l18-9l-32-9l-18 9z"/>
<path class=c d="M3196 5077l18-10l-32-9l-18 6zm-18 4l18-4l-32-13l-18-1z"/>
<path class=d d="M3160 5079l18 2l-32-18l-18-1zm-18 1l18-1l-32-17l-18 2zm-18 1l18-1l-32-16l-19 2zm-18 1l18-1l-33-15l-18 2zm-18 3l18-3l-33-14l-18 7zm-18 8l18-8l-33-10l-18 8zm-18 4l18-4l-33-10l-18 2zm-18-4l18 4l-33-12l-18-2z"/>
<path class=e d="M3898 4935l18-6l-33-4l-18 6z"/>
<path class=f d="M3880 4934l18 1l-33-4l-18-1zm-18-3l18 3l-33-4l-18 0z"/>
<path class=g d="M3843 4929l19 2l-33-1l-18 1zm-18-1l18 1l-32 2l-18 0zm-18 3l18-3l-32 3l-18 3zm-18 5l18-5l-32 3l-18 9z"/>
<path class=f d="M3771 4947l18-11l-32 7l-18 10zm-18 8l18-8l-32 6l-19 4zm-18-3l18 3l-33 2l-18-3zm-18 3l18-3l-33 2l-18 1zm-18 5l18-5l-33 0l-18 3zm-18 3l18-3l-33-2l-18 2zm-18 4l18-4l-33-3l-18 6zm-18 11l18-11l-33-1l-18 13z"/>
<path class=e d="M3627 4990l18-12l-33 1l-18 9zm-19 5l19-5l-33-2l-18 2zm-18 1l18-1l-32-5l-18 1zm-18 3l18-3l-32-5l-18 3zm-18 2l18-2l-32-5l-18 1zm-18 1l18-1l-32-6l-18 2zm-18 6l18-6l-32-5l-18 9zm-18 11l18-11l-32-2l-19 11zm-18 6l18-6l-33-2l-18 3zm-18-1l18 1l-33-5l-18-1zm-18 0l18 0l-33-5l-18 1zm-18 2l18-2l-33-4l-18 2zm-18 2l18-2l-33-4l-18 0zm-18 5l18-5l-33-6l-18 7zm-18 12l18-12l-33-4l-18 11z"/>
<path class=d d="M3355 5057l19-12l-33-5l-18 10zm-18 5l18-5l-32-7l-18 2zm-18-1l18 1l-32-10l-18 0zm-18 2l18-2l-32-9l-18 3zm-18 2l18-2l-32-8l-18 1zm-18 3l18-3l-32-9l-19 2zm-18 8l18-8l-33-10l-18 9z"/>
<path class=c d="M3229 5089l18-13l-33-9l-18 10zm-18 8l18-8l-33-12l-18 4zm-18 0l18 0l-33-16l-18-2z"/>
<path class=d d="M3175 5095l18 2l-33-18l-18 1zm-18 0l18 0l-33-15l-18 1zm-18 0l18 0l-33-14l-18 1zm-18 1l18-1l-33-13l-18 3zm-19 6l19-6l-33-11l-18 8zm-18 6l18-6l-32-9l-18 4zm-18-1l18 1l-32-11l-18-4z"/>
<path class=f d="M3930 4933l18-4l-32 0l-18 6z"/>
<path class=g d="M3912 4932l18 1l-32 2l-18-1zm-18-8l18 8l-32 2l-18-3z"/>
<path class=h d="M3876 4916l18 8l-32 7l-19-2z"/>
<path class=i d="M3858 4911l18 5l-33 13l-18-1zm-18 1l18-1l-33 17l-18 3zm-18 2l18-2l-33 19l-18 5zm-18 8l18-8l-33 22l-18 11z"/>
<path class=h d="M3786 4935l18-13l-33 25l-18 8zm-18-3l18 3l-33 20l-18-3zm-18 8l18-8l-33 20l-18 3zm-19 10l19-10l-33 15l-18 5zm-18 5l18-5l-32 10l-18 3zm-18 4l18-4l-32 8l-18 4z"/>
<path class=g d="M3677 4969l18-10l-32 8l-18 11z"/>
<path class=f d="M3659 4985l18-16l-32 9l-18 12zm-18 11l18-11l-32 5l-19 5zm-18 2l18-2l-33-1l-18 1zm-18 3l18-3l-33-2l-18 3zm-18 2l18-2l-33-2l-18 2zm-18 4l18-4l-33-2l-18 1zm-18 4l18-4l-33-5l-18 6z"/>
<path class=e d="M3533 5023l18-12l-33-3l-18 11zm-18 6l18-6l-33-4l-18 6zm-18 0l18 0l-33-4l-18-1z"/>
<path class=f d="M3478 5027l19 2l-33-5l-18 0zm-18 3l18-3l-32-3l-18 2zm-18 2l18-2l-32-4l-18 2zm-18 4l18-4l-32-4l-18 5z"/>
<path class=e d="M3406 5046l18-10l-32-3l-18 12zm-18 12l18-12l-32-1l-19 12z"/>
<path class=d d="M3370 5065l18-7l-33-1l-18 5z"/>
<path class=e d="M3352 5063l18 2l-33-3l-18-1zm-18 0l18 0l-33-2l-18 2zm-18 1l18-1l-33 0l-18 2zm-18 3l18-3l-33 1l-18 3zm-18 7l18-7l-33 1l-18 8z"/>
<path class=d d="M3262 5088l18-14l-33 2l-18 13zm-19 13l19-13l-33 1l-18 8zm-18 2l18-2l-32-4l-18 0zm-18-3l18 3l-32-6l-18-2zm-18-2l18 2l-32-5l-18 0z"/>
<path class=e d="M3171 5097l18 1l-32-3l-18 0zm-18 1l18-1l-32-2l-18 1zm-18 5l18-5l-32-2l-19 6z"/>
<path class=d d="M3117 5113l18-10l-33-1l-18 6zm-18 5l18-5l-33-5l-18-1z"/>
<path class=h d="M3963 4922l18 1l-33 6l-18 4zm-18-3l18 3l-33 11l-18-1z"/>
<path class=i d="M3927 4906l18 13l-33 13l-18-8z"/>
<path class=k d="M3909 4889l18 17l-33 18l-18-8z"/>
<path class=l d="M3891 4877l18 12l-33 27l-18-5zm-18-1l18 1l-33 34l-18 1z"/>
<path class=m d="M3854 4872l19 4l-33 36l-18 2z"/>
<path class=l d="M3836 4877l18-5l-32 42l-18 8z"/>
<path class=k d="M3818 4896l18-19l-32 45l-18 13z"/>
<path class=l d="M3800 4894l18 2l-32 39l-18-3z"/>
<path class=k d="M3782 4910l18-16l-32 38l-18 8z"/>
<path class=j d="M3764 4928l18-18l-32 30l-19 10zm-18 9l18-9l-33 22l-18 5z"/>
<path class=i d="M3728 4942l18-5l-33 18l-18 4zm-18 11l18-11l-33 17l-18 10z"/>
<path class=h d="M3692 4974l18-21l-33 16l-18 16z"/>
<path class=g d="M3674 4991l18-17l-33 11l-18 11zm-18 4l18-4l-33 5l-18 2zm-18 3l18-3l-33 3l-18 3zm-19 1l19-1l-33 3l-18 2zm-18 6l18-6l-32 4l-18 4zm-18 3l18-3l-32 2l-18 4z"/>
<path class=f d="M3565 5022l18-14l-32 3l-18 12zm-18 5l18-5l-32 1l-18 6zm-18 0l18 0l-32 2l-18 0z"/>
<path class=g d="M3511 5025l18 2l-32 2l-19-2z"/>
<path class=f d="M3493 5028l18-3l-33 2l-18 3z"/>
<path class=g d="M3475 5027l18 1l-33 2l-18 2zm-18 4l18-4l-33 5l-18 4zm-18 7l18-7l-33 5l-18 10z"/>
<path class=f d="M3421 5051l18-13l-33 8l-18 12z"/>
<path class=e d="M3403 5062l18-11l-33 7l-18 7z"/>
<path class=f d="M3385 5060l18 2l-33 3l-18-2zm-19-1l19 1l-33 3l-18 0zm-18 0l18 0l-32 4l-18 1zm-18 2l18-2l-32 5l-18 3zm-18 5l18-5l-32 6l-18 7z"/>
<path class=e d="M3294 5079l18-13l-32 8l-18 14zm-18 14l18-14l-32 9l-19 13zm-18 5l18-5l-33 8l-18 2zm-18-3l18 3l-33 5l-18-3z"/>
<path class=f d="M3222 5092l18 3l-33 5l-18-2zm-18 0l18 0l-33 6l-18-1zm-18 1l18-1l-33 5l-18 1zm-18 6l18-6l-33 5l-18 5z"/>
<path class=e d="M3150 5111l18-12l-33 4l-18 10zm-18 10l18-10l-33 2l-18 5z"/>
<path class=j d="M3995 4903l19 7l-33 13l-18-1z"/>
<path class=k d="M3977 4894l18 9l-32 19l-18-3z"/>
<path class=l d="M3959 4876l18 18l-32 25l-18-13z"/>
<path class=n d="M3941 4848l18 28l-32 30l-18-17z"/>
<path class=p d="M3923 4828l18 20l-32 41l-18-12zm-18-3l18 3l-32 49l-18-1z"/>
<path class=q d="M3887 4816l18 9l-32 51l-19-4zm-18 1l18-1l-33 56l-18 5z"/>
<path class=p d="M3851 4841l18-24l-33 60l-18 19zm-18-3l18 3l-33 55l-18-2z"/>
<path class=o d="M3815 4865l18-27l-33 56l-18 16z"/>
<path class=m d="M3797 4892l18-27l-33 45l-18 18zm-18 12l18-12l-33 36l-18 9z"/>
<path class=l d="M3761 4912l18-8l-33 33l-18 5z"/>
<path class=k d="M3742 4926l19-14l-33 30l-18 11z"/>
<path class=j d="M3724 4951l18-25l-32 27l-18 21z"/>
<path class=i d="M3706 4975l18-24l-32 23l-18 17z"/>
<path class=h d="M3688 4981l18-6l-32 16l-18 4zm-18 2l18-2l-32 14l-18 3z"/>
<path class=i d="M3652 4982l18 1l-32 15l-19 1z"/>
<path class=h d="M3634 4991l18-9l-33 17l-18 6zm-18 3l18-3l-33 14l-18 3z"/>
<path class=g d="M3598 5011l18-17l-33 14l-18 14zm-18 4l18-4l-33 11l-18 5z"/>
<path class=h d="M3562 5017l18-2l-33 12l-18 0zm-18-2l18 2l-33 10l-18-2zm-18 4l18-4l-33 10l-18 3zm-18-5l18 5l-33 9l-18-1zm-19 4l19-4l-33 13l-18 4zm-18 3l18-3l-32 13l-18 7zm-18 14l18-14l-32 17l-18 13z"/>
<path class=g d="M3435 5050l18-15l-32 16l-18 11zm-18-1l18 1l-32 12l-18-2zm-18 1l18-1l-32 11l-19-1z"/>
<path class=h d="M3381 5050l18 0l-33 9l-18 0zm-18 3l18-3l-33 9l-18 2zm-18 2l18-2l-33 8l-18 5z"/>
<path class=g d="M3327 5066l18-11l-33 11l-18 13z"/>
<path class=f d="M3309 5079l18-13l-33 13l-18 14zm-18 8l18-8l-33 14l-18 5z"/>
<path class=g d="M3273 5084l18 3l-33 11l-18-3zm-19-5l19 5l-33 11l-18-3zm-18 1l18-1l-32 13l-18 0zm-18 3l18-3l-32 12l-18 1zm-18 7l18-7l-32 10l-18 6z"/>
<path class=f d="M3182 5103l18-13l-32 9l-18 12zm-18 15l18-15l-32 8l-18 10z"/>
<path class=l d="M4028 4877l18 17l-32 16l-19-7z"/>
<path class=n d="M4010 4862l18 15l-33 26l-18-9z"/>
<path class=p d="M3992 4836l18 26l-33 32l-18-18z"/>
<path class=s d="M3974 4797l18 39l-33 40l-18-28z"/>
<path class=u d="M3956 4767l18 30l-33 51l-18-20zm-18-3l18 3l-33 61l-18-3z"/>
<path class=v d="M3920 4751l18 13l-33 61l-18-9z"/>
<path class=w d="M3902 4749l18 2l-33 65l-18 1z"/>
<path class=u d="M3884 4778l18-29l-33 68l-18 24z"/>
<path class=v d="M3865 4770l19 8l-33 63l-18-3z"/>
<path class=s d="M3847 4807l18-37l-32 68l-18 27z"/>
<path class=q d="M3829 4844l18-37l-32 58l-18 27z"/>
<path class=p d="M3811 4859l18-15l-32 48l-18 12zm-18 11l18-11l-32 45l-18 8z"/>
<path class=o d="M3775 4887l18-17l-32 42l-19 14z"/>
<path class=m d="M3757 4918l18-31l-33 39l-18 25z"/>
<path class=k d="M3739 4948l18-30l-33 33l-18 24zm-18 7l18-7l-33 27l-18 6zm-18 4l18-4l-33 26l-18 2zm-18-4l18 4l-33 24l-18-1zm-18 13l18-13l-33 27l-18 9zm-18 5l18-5l-33 23l-18 3z"/>
<path class=i d="M3630 4995l19-22l-33 21l-18 17zm-18 3l18-3l-32 16l-18 4zm-18 1l18-1l-32 17l-18 2z"/>
<path class=j d="M3576 4998l18 1l-32 18l-18-2zm-18 6l18-6l-32 17l-18 4z"/>
<path class=k d="M3540 4994l18 10l-32 15l-18-5z"/>
<path class=j d="M3522 4998l18-4l-32 20l-19 4z"/>
<path class=k d="M3504 4999l18-1l-33 20l-18 3z"/>
<path class=j d="M3486 5012l18-13l-33 22l-18 14z"/>
<path class=i d="M3468 5031l18-19l-33 23l-18 15zm-18-1l18 1l-33 19l-18-1zm-18 1l18-1l-33 19l-18 1z"/>
<path class=j d="M3414 5029l18 2l-33 19l-18 0zm-18 3l18-3l-33 21l-18 3zm-19-1l19 1l-33 21l-18 2z"/>
<path class=i d="M3359 5043l18-12l-32 24l-18 11zm-18 14l18-14l-32 23l-18 13z"/>
<path class=h d="M3323 5069l18-12l-32 22l-18 8zm-18-2l18 2l-32 18l-18-3z"/>
<path class=i d="M3287 5062l18 5l-32 17l-19-5zm-18 2l18-2l-33 17l-18 1zm-18 6l18-6l-33 16l-18 3zm-18 10l18-10l-33 13l-18 7z"/>
<path class=h d="M3215 5094l18-14l-33 10l-18 13z"/>
<path class=g d="M3197 5113l18-19l-33 9l-18 15z"/>
<path class=o d="M4061 4853l18 25l-33 16l-18-17z"/>
<path class=p d="M4043 4831l18 22l-33 24l-18-15z"/>
<path class=s d="M4025 4797l18 34l-33 31l-18-26z"/>
<path class=w d="M4006 4746l19 51l-33 39l-18-39z"/>
<path class=z d="M3988 4706l18 40l-32 51l-18-30zm-18-3l18 3l-32 61l-18-3z"/>
<path class=aa d="M3952 4687l18 16l-32 61l-18-13z"/>
<path class=ab d="M3934 4683l18 4l-32 64l-18-2z"/>
<path class=z d="M3916 4716l18-33l-32 66l-18 29z"/>
<path class=aa d="M3898 4702l18 14l-32 62l-19-8z"/>
<path class=x d="M3880 4749l18-47l-33 68l-18 37z"/>
<path class=u d="M3862 4795l18-46l-33 58l-18 37z"/>
<path class=t d="M3844 4813l18-18l-33 49l-18 15zm-18 13l18-13l-33 46l-18 11z"/>
<path class=r d="M3808 4846l18-20l-33 44l-18 17z"/>
<path class=p d="M3790 4881l18-35l-33 41l-18 31z"/>
<path class=n d="M3772 4917l18-36l-33 37l-18 30zm-19 8l19-8l-33 31l-18 7zm-18 5l18-5l-32 30l-18 4zm-18-5l18 5l-32 29l-18-4z"/>
<path class=m d="M3699 4943l18-18l-32 30l-18 13zm-18 7l18-7l-32 25l-18 5z"/>
<path class=k d="M3663 4978l18-28l-32 23l-19 22zm-18-1l18 1l-33 17l-18 3z"/>
<path class=l d="M3627 4977l18 0l-33 21l-18 1zm-18-1l18 1l-33 22l-18-1zm-18 9l18-9l-33 22l-18 6z"/>
<path class=m d="M3573 4968l18 17l-33 19l-18-10zm-18 5l18-5l-33 26l-18 4zm-18 0l18 0l-33 25l-18 1z"/>
<path class=l d="M3519 4986l18-13l-33 26l-18 13z"/>
<path class=k d="M3500 5010l19-24l-33 26l-18 19zm-18-2l18 2l-32 21l-18-1zm-18 2l18-2l-32 22l-18 1z"/>
<path class=l d="M3446 5004l18 6l-32 21l-18-2zm-18 1l18-1l-32 25l-18 3z"/>
<path class=m d="M3410 5002l18 3l-32 27l-19-1z"/>
<path class=l d="M3392 5014l18-12l-33 29l-18 12z"/>
<path class=k d="M3374 5031l18-17l-33 29l-18 14z"/>
<path class=j d="M3356 5047l18-16l-33 26l-18 12z"/>
<path class=k d="M3338 5045l18 2l-33 22l-18-2zm-18-8l18 8l-33 22l-18-5z"/>
<path class=l d="M3302 5039l18-2l-33 25l-18 2z"/>
<path class=k d="M3284 5048l18-9l-33 25l-18 6zm-19 12l19-12l-33 22l-18 10z"/>
<path class=j d="M3247 5076l18-16l-32 20l-18 14z"/>
<path class=h d="M3229 5100l18-24l-32 18l-18 19z"/>
<path class=p d="M4093 4840l18 31l-32 7l-18-25z"/>
<path class=r d="M4075 4812l18 28l-32 13l-18-22z"/>
<path class=u d="M4057 4772l18 40l-32 19l-18-34z"/>
<path class=z d="M4039 4714l18 58l-32 25l-19-51z"/>
<path class=ac d="M4021 4666l18 48l-33 32l-18-40z"/>
<path class=ad d="M4003 4661l18 5l-33 40l-18-3z"/>
<path class=ae d="M3985 4643l18 18l-33 42l-18-16z"/>
<path class=af d="M3967 4637l18 6l-33 44l-18-4z"/>
<path class=ad d="M3949 4672l18-35l-33 46l-18 33z"/>
<path class=ae d="M3931 4653l18 19l-33 44l-18-14z"/>
<path class=ab d="M3913 4708l18-55l-33 49l-18 47z"/>
<path class=x d="M3895 4760l18-52l-33 41l-18 46z"/>
<path class=w d="M3876 4779l19-19l-33 35l-18 18zm-18 14l18-14l-32 34l-18 13z"/>
<path class=u d="M3840 4814l18-21l-32 33l-18 20z"/>
<path class=s d="M3822 4853l18-39l-32 32l-18 35z"/>
<path class=p d="M3804 4893l18-40l-32 28l-18 36zm-18 9l18-9l-32 24l-19 8zm-18 6l18-6l-33 23l-18 5z"/>
<path class=q d="M3750 4900l18 8l-33 22l-18-5z"/>
<path class=o d="M3732 4923l18-23l-33 25l-18 18zm-18 8l18-8l-33 20l-18 7z"/>
<path class=m d="M3696 4964l18-33l-33 19l-18 28zm-18-6l18 6l-33 14l-18-1z"/>
<path class=n d="M3660 4957l18 1l-33 19l-18 0zm-19-2l19 2l-33 20l-18-1zm-18 11l18-11l-32 21l-18 9z"/>
<path class=o d="M3605 4944l18 22l-32 19l-18-17zm-18 7l18-7l-32 24l-18 5zm-18-1l18 1l-32 22l-18 0zm-18 14l18-14l-32 23l-18 13z"/>
<path class=m d="M3533 4991l18-27l-32 22l-19 24z"/>
<path class=n d="M3515 4988l18 3l-33 19l-18-2z"/>
<path class=m d="M3497 4992l18-4l-33 20l-18 2z"/>
<path class=n d="M3479 4982l18 10l-33 18l-18-6z"/>
<path class=o d="M3461 4982l18 0l-33 22l-18 1zm-18-5l18 5l-33 23l-18-3z"/>
<path class=n d="M3425 4991l18-14l-33 25l-18 12zm-18 17l18-17l-33 23l-18 17z"/>
<path class=m d="M3388 5026l19-18l-33 23l-18 16zm-18-3l18 3l-32 21l-18-2z"/>
<path class=n d="M3352 5011l18 12l-32 22l-18-8zm-18-1l18 1l-32 26l-18 2zm-18 10l18-10l-32 29l-18 9z"/>
<path class=m d="M3298 5036l18-16l-32 28l-19 12z"/>
<path class=l d="M3280 5054l18-18l-33 24l-18 16z"/>
<path class=j d="M3262 5082l18-28l-33 22l-18 24z"/>
<path class=q d="M4126 4841l18 34l-33-4l-18-31z"/>
<path class=s d="M4108 4811l18 30l-33-1l-18-28z"/>
<path class=v d="M4090 4770l18 41l-33 1l-18-40z"/>
<path class=aa d="M4072 4709l18 61l-33 2l-18-58z"/>
<path class=ad d="M4054 4658l18 51l-33 5l-18-48z"/>
<path class=ae d="M4036 4653l18 5l-33 8l-18-5z"/>
<path class=af d="M4017 4634l19 19l-33 8l-18-18zm-18-8l18 8l-32 9l-18-6z"/>
<path class=ae d="M3981 4661l18-35l-32 11l-18 35z"/>
<path class=af d="M3963 4639l18 22l-32 11l-18-19z"/>
<path class=ac d="M3945 4696l18-57l-32 14l-18 55z"/>
<path class=z d="M3927 4750l18-54l-32 12l-18 52z"/>
<path class=y d="M3909 4768l18-18l-32 10l-19 19z"/>
<path class=x d="M3891 4782l18-14l-33 11l-18 14z"/>
<path class=w d="M3873 4803l18-21l-33 11l-18 21z"/>
<path class=t d="M3855 4843l18-40l-33 11l-18 39z"/>
<path class=r d="M3837 4884l18-41l-33 10l-18 40z"/>
<path class=q d="M3819 4893l18-9l-33 9l-18 9zm-18 7l18-7l-33 9l-18 6z"/>
<path class=r d="M3783 4890l18 10l-33 8l-18-8z"/>
<path class=p d="M3764 4915l19-25l-33 10l-18 23zm-18 9l18-9l-32 8l-18 8z"/>
<path class=n d="M3728 4960l18-36l-32 7l-18 33z"/>
<path class=o d="M3710 4951l18 9l-32 4l-18-6zm-18-3l18 3l-32 7l-18-1zm-18-2l18 2l-32 9l-19-2zm-18 12l18-12l-33 9l-18 11z"/>
<path class=q d="M3638 4932l18 26l-33 8l-18-22zm-18 7l18-7l-33 12l-18 7zm-18 0l18 0l-33 12l-18-1z"/>
<path class=p d="M3584 4953l18-14l-33 11l-18 14z"/>
<path class=n d="M3566 4982l18-29l-33 11l-18 27z"/>
<path class=o d="M3548 4977l18 5l-33 9l-18-3zm-18 5l18-5l-33 11l-18 4z"/>
<path class=p d="M3511 4970l19 12l-33 10l-18-10zm-18-1l18 1l-32 12l-18 0z"/>
<path class=q d="M3475 4963l18 6l-32 13l-18-5z"/>
<path class=p d="M3457 4978l18-15l-32 14l-18 14z"/>
<path class=o d="M3439 4994l18-16l-32 13l-18 17z"/>
<path class=n d="M3421 5014l18-20l-32 14l-19 18z"/>
<path class=o d="M3403 5009l18 5l-33 12l-18-3z"/>
<path class=p d="M3385 4994l18 15l-33 14l-18-12zm-18-2l18 2l-33 17l-18-1zm-18 11l18-11l-33 18l-18 10z"/>
<path class=o d="M3331 5020l18-17l-33 17l-18 16z"/>
<path class=n d="M3313 5039l18-19l-33 16l-18 18z"/>
<path class=l d="M3295 5071l18-32l-33 15l-18 28z"/>
<path class=p d="M4159 4870l18 26l-33-21l-18-34z"/>
<path class=r d="M4140 4845l19 25l-33-29l-18-30z"/>
<path class=t d="M4122 4812l18 33l-32-34l-18-41z"/>
<path class=x d="M4104 4761l18 51l-32-42l-18-61z"/>
<path class=aa d="M4086 4719l18 42l-32-52l-18-51zm-18-4l18 4l-32-61l-18-5z"/>
<path class=ac d="M4050 4698l18 17l-32-62l-19-19zm-18-5l18 5l-33-64l-18-8z"/>
<path class=ab d="M4014 4721l18-28l-33-67l-18 35z"/>
<path class=ac d="M3996 4703l18 18l-33-60l-18-22z"/>
<path class=z d="M3978 4750l18-47l-33-64l-18 57z"/>
<path class=w d="M3960 4795l18-45l-33-54l-18 54zm-18 12l18-12l-33-45l-18 18z"/>
<path class=v d="M3924 4818l18-11l-33-39l-18 14z"/>
<path class=u d="M3906 4836l18-18l-33-36l-18 21z"/>
<path class=s d="M3887 4868l19-32l-33-33l-18 40z"/>
<path class=q d="M3869 4907l18-39l-32-25l-18 41z"/>
<path class=p d="M3851 4915l18-8l-32-23l-18 9zm-18 6l18-6l-32-22l-18 7z"/>
<path class=q d="M3815 4910l18 11l-32-21l-18-10z"/>
<path class=p d="M3797 4932l18-22l-32-20l-19 25zm-18 8l18-8l-33-17l-18 9z"/>
<path class=n d="M3761 4973l18-33l-33-16l-18 36z"/>
<path class=o d="M3743 4964l18 9l-33-13l-18-9zm-18-3l18 3l-33-13l-18-3zm-18 0l18 0l-33-13l-18-2zm-18 11l18-11l-33-15l-18 12z"/>
<path class=q d="M3671 4947l18 25l-33-14l-18-26z"/>
<path class=p d="M3652 4954l19-7l-33-15l-18 7z"/>
<path class=q d="M3634 4953l18 1l-32-15l-18 0z"/>
<path class=p d="M3616 4965l18-12l-32-14l-18 14z"/>
<path class=n d="M3598 4992l18-27l-32-12l-18 29z"/>
<path class=o d="M3580 4988l18 4l-32-10l-18-5zm-18 4l18-4l-32-11l-18 5z"/>
<path class=p d="M3544 4981l18 11l-32-10l-19-12zm-18-3l18 3l-33-11l-18-1z"/>
<path class=q d="M3508 4972l18 6l-33-9l-18-6z"/>
<path class=p d="M3490 4985l18-13l-33-9l-18 15z"/>
<path class=o d="M3472 5001l18-16l-33-7l-18 16z"/>
<path class=n d="M3454 5020l18-19l-33-7l-18 20z"/>
<path class=o d="M3436 5015l18 5l-33-6l-18-5z"/>
<path class=p d="M3418 4999l18 16l-33-6l-18-15z"/>
<path class=q d="M3399 4996l19 3l-33-5l-18-2z"/>
<path class=p d="M3381 5006l18-10l-32-4l-18 11z"/>
<path class=o d="M3363 5023l18-17l-32-3l-18 17z"/>
<path class=n d="M3345 5041l18-18l-32-3l-18 19z"/>
<path class=l d="M3327 5073l18-32l-32-2l-18 32z"/>
<path class=n d="M4191 4904l18 17l-32-25l-18-26z"/>
<path class=p d="M4173 4882l18 22l-32-34l-19-25z"/>
<path class=r d="M4155 4856l18 26l-33-37l-18-33z"/>
<path class=u d="M4137 4817l18 39l-33-44l-18-51z"/>
<path class=w d="M4119 4787l18 30l-33-56l-18-42zm-18-2l18 2l-33-68l-18-4z"/>
<path class=x d="M4083 4772l18 13l-33-70l-18-17z"/>
<path class=y d="M4065 4770l18 2l-33-74l-18-5z"/>
<path class=x d="M4047 4790l18-20l-33-77l-18 28z"/>
<path class=y d="M4028 4777l19 13l-33-69l-18-18z"/>
<path class=w d="M4010 4814l18-37l-32-74l-18 47z"/>
<path class=t d="M3992 4851l18-37l-32-64l-18 45zm-18 8l18-8l-32-56l-18 12z"/>
<path class=s d="M3956 4868l18-9l-32-52l-18 11zm-18 16l18-16l-32-50l-18 18z"/>
<path class=q d="M3920 4909l18-25l-32-48l-19 32z"/>
<path class=o d="M3902 4943l18-34l-33-41l-18 39zm-18 7l18-7l-33-36l-18 8zm-18 7l18-7l-33-35l-18 6z"/>
<path class=p d="M3848 4946l18 11l-33-36l-18-11z"/>
<path class=o d="M3830 4965l18-19l-33-36l-18 22z"/>
<path class=n d="M3812 4971l18-6l-33-33l-18 8z"/>
<path class=m d="M3794 4996l18-25l-33-31l-18 33zm-19-4l19 4l-33-23l-18-9z"/>
<path class=n d="M3757 4989l18 3l-32-28l-18-3zm-18 3l18-3l-32-28l-18 0z"/>
<path class=m d="M3721 5004l18-12l-32-31l-18 11z"/>
<path class=o d="M3703 4986l18 18l-32-32l-18-25z"/>
<path class=n d="M3685 4993l18-7l-32-39l-19 7z"/>
<path class=o d="M3667 4993l18 0l-33-39l-18-1z"/>
<path class=n d="M3649 5003l18-10l-33-40l-18 12z"/>
<path class=m d="M3631 5022l18-19l-33-38l-18 27zm-18-2l18 2l-33-30l-18-4zm-18 3l18-3l-33-32l-18 4z"/>
<path class=n d="M3577 5019l18 4l-33-31l-18-11zm-18-3l18 3l-33-38l-18-3z"/>
<path class=o d="M3541 5013l18 3l-33-38l-18-6zm-19 6l19-6l-33-41l-18 13z"/>
<path class=n d="M3504 5037l18-18l-32-34l-18 16z"/>
<path class=m d="M3486 5054l18-17l-32-36l-18 19zm-18-3l18 3l-32-34l-18-5z"/>
<path class=n d="M3450 5040l18 11l-32-36l-18-16zm-18-1l18 1l-32-41l-19-3zm-18 10l18-10l-33-43l-18 10zm-18 9l18-9l-33-43l-18 17z"/>
<path class=m d="M3378 5074l18-16l-33-35l-18 18z"/>
<path class=k d="M3360 5097l18-23l-33-33l-18 32z"/>
<path class=l d="M4224 4944l18 4l-33-27l-18-17z"/>
<path class=n d="M4206 4926l18 18l-33-40l-18-22z"/>
<path class=o d="M4188 4908l18 18l-33-44l-18-26z"/>
<path class=q d="M4170 4884l18 24l-33-52l-18-39z"/>
<path class=r d="M4151 4868l19 16l-33-67l-18-30zm-18 1l18-1l-32-81l-18-2z"/>
<path class=s d="M4115 4860l18 9l-32-84l-18-13zm-18 2l18-2l-32-88l-18-2zm-18 12l18-12l-32-92l-18 20zm-18-7l18 7l-32-84l-19-13z"/>
<path class=r d="M4043 4891l18-24l-33-90l-18 37z"/>
<path class=p d="M4025 4917l18-26l-33-77l-18 37zm-18 3l18-3l-33-66l-18 8zm-18 8l18-8l-33-61l-18 9z"/>
<path class=o d="M3971 4941l18-13l-33-60l-18 16zm-18 15l18-15l-33-57l-18 25z"/>
<path class=m d="M3935 4987l18-31l-33-47l-18 34zm-18 3l18-3l-33-44l-18 7zm-19 7l19-7l-33-40l-18 7zm-18-9l18 9l-32-40l-18-11zm-18 14l18-14l-32-42l-18 19zm-18 4l18-4l-32-37l-18 6z"/>
<path class=l d="M3826 5023l18-17l-32-35l-18 25zm-18 1l18-1l-32-27l-19-4zm-18-3l18 3l-33-32l-18-3zm-18 7l18-7l-33-32l-18 3z"/>
<path class=k d="M3754 5039l18-11l-33-36l-18 12z"/>
<path class=l d="M3736 5031l18 8l-33-35l-18-18zm-18 7l18-7l-33-45l-18 7zm-18 2l18-2l-33-45l-18 0zm-18 7l18-7l-33-47l-18 10z"/>
<path class=k d="M3663 5057l19-10l-33-44l-18 19z"/>
<path class=l d="M3645 5058l18-1l-32-35l-18-2zm-18 1l18-1l-32-38l-18 3zm-18 4l18-4l-32-36l-18-4zm-18-2l18 2l-32-44l-18-3zm-18 0l18 0l-32-45l-18-3z"/>
<path class=m d="M3555 5059l18 2l-32-48l-19 6z"/>
<path class=k d="M3537 5080l18-21l-33-40l-18 18zm-18 14l18-14l-33-43l-18 17zm-18-1l18 1l-33-40l-18-3z"/>
<path class=l d="M3483 5088l18 5l-33-42l-18-11zm-18 1l18-1l-33-48l-18-1z"/>
<path class=k d="M3447 5099l18-10l-33-50l-18 10z"/>
<path class=l d="M3429 5099l18 0l-33-50l-18 9z"/>
<path class=k d="M3410 5111l19-12l-33-41l-18 16z"/>
<path class=j d="M3392 5126l18-15l-32-37l-18 23z"/>
<path class=h d="M4256 5009l18-20l-32-41l-18-4z"/>
<path class=i d="M4238 5004l18 5l-32-65l-18-18zm-18-1l18 1l-32-78l-18-18zm-18 3l18-3l-32-95l-18-24zm-18 9l18-9l-32-122l-19-16zm-18 6l18-6l-33-147l-18 1zm-18-2l18 2l-33-152l-18-9zm-18 10l18-10l-33-159l-18 2zm-18-3l18 3l-33-167l-18 12zm-18 7l18-7l-33-152l-18-7zm-18 0l18 0l-33-166l-18 24zm-18 3l18-3l-33-142l-18 26z"/>
<path class=j d="M4039 5029l19 7l-33-119l-18 3zm-18 5l18-5l-32-109l-18 8z"/>
<path class=i d="M4003 5040l18-6l-32-106l-18 13z"/>
<path class=j d="M3985 5037l18 3l-32-99l-18 15z"/>
<path class=h d="M3967 5062l18-25l-32-81l-18 31z"/>
<path class=i d="M3949 5061l18 1l-32-75l-18 3z"/>
<path class=h d="M3931 5067l18-6l-32-71l-19 7z"/>
<path class=i d="M3913 5060l18 7l-33-70l-18-9zm-18 4l18-4l-33-72l-18 14zm-18-1l18 1l-33-62l-18 4z"/>
<path class=j d="M3859 5062l18 1l-33-57l-18 17z"/>
<path class=i d="M3841 5076l18-14l-33-39l-18 1zm-18-1l18 1l-33-52l-18-3zm-18 15l18-15l-33-54l-18 7z"/>
<path class=h d="M3786 5099l19-9l-33-62l-18 11zm-18 9l18-9l-32-60l-18-8zm-18 7l18-7l-32-77l-18 7z"/>
<path class=g d="M3732 5119l18-4l-32-77l-18 2zm-18 4l18-4l-32-79l-18 7z"/>
<path class=h d="M3696 5117l18 6l-32-76l-19 10zm-18 7l18-7l-33-60l-18 1zm-18-5l18 5l-33-66l-18 1z"/>
<path class=g d="M3642 5139l18-20l-33-60l-18 4zm-18-1l18 1l-33-76l-18-2zm-18 4l18-4l-33-77l-18 0z"/>
<path class=i d="M3588 5125l18 17l-33-81l-18-2z"/>
<path class=g d="M3570 5153l18-28l-33-66l-18 21zm-18 12l18-12l-33-73l-18 14zm-19 2l19-2l-33-71l-18-1zm-18 4l18-4l-32-74l-18-5z"/>
<path class=f d="M3497 5177l18-6l-32-83l-18 1zm-18 9l18-9l-32-88l-18 10z"/>
<path class=h d="M3461 5165l18 21l-32-87l-18 0z"/>
<path class=g d="M3443 5172l18-7l-32-66l-19 12z"/>
<path class=h d="M3425 5173l18-1l-33-61l-18 15z"/>
</g>
<text class="tt" text-anchor="middle" x="375.3" y="538.7" textLength="17.8" lengthAdjust="spacingAndGlyphs">2010</text>
<text class="tt" text-anchor="middle" x="395.5" y="535.0" textLength="17.8" lengthAdjust="spacingAndGlyphs">2013</text>
<text class="tt" text-anchor="middle" x="415.6" y="531.3" textLength="17.8" lengthAdjust="spacingAndGlyphs">2016</text>
<text class="tt" text-anchor="middle" x="435.7" y="527.6" textLength="17.8" lengthAdjust="spacingAndGlyphs">2019</text>
<text class="tt" text-anchor="middle" x="335.9" y="541.8" textLength="4.6" lengthAdjust="spacingAndGlyphs">0</text>
<text class="tt" text-anchor="middle" x="303.3" y="531.3" textLength="9.2" lengthAdjust="spacingAndGlyphs">10</text>
<text class="tt" text-anchor="middle" x="270.7" y="520.8" textLength="9.2" lengthAdjust="spacingAndGlyphs">20</text>
<text class="tt" text-anchor="end" x="262.5" y="503.6" textLength="4.6" lengthAdjust="spacingAndGlyphs">0</text>
<text class="tt" text-anchor="end" x="262.5" y="479.7" textLength="4.6" lengthAdjust="spacingAndGlyphs">5</text>
<text class="tt" text-anchor="end" x="262.5" y="455.9" textLength="9.2" lengthAdjust="spacingAndGlyphs">10</text>
<text class="hh" x="240.6" y="429.5" textLength="228.2" lengthAdjust="spacingAndGlyphs">Investment Growth response to NFC Loan Supply Shock</text>
<rect class="rr" x="384.3" y="455.4" width="49.7" height="50.1"/>
</g>
<text class="cc" text-anchor="middle" transform="translate(17.8 57.3) rotate(-90)">Poland</text>
<text class="cc" text-anchor="middle" transform="translate(17.8 201.8) rotate(-90)">Romania</text>
<text class="cc" text-anchor="middle" transform="translate(17.8 340.2) rotate(-90)">Czechia</text>
<text class="cc" text-anchor="middle" transform="translate(17.8 475.8) rotate(-90)">Hungary</text>
</svg>
</body></html>
